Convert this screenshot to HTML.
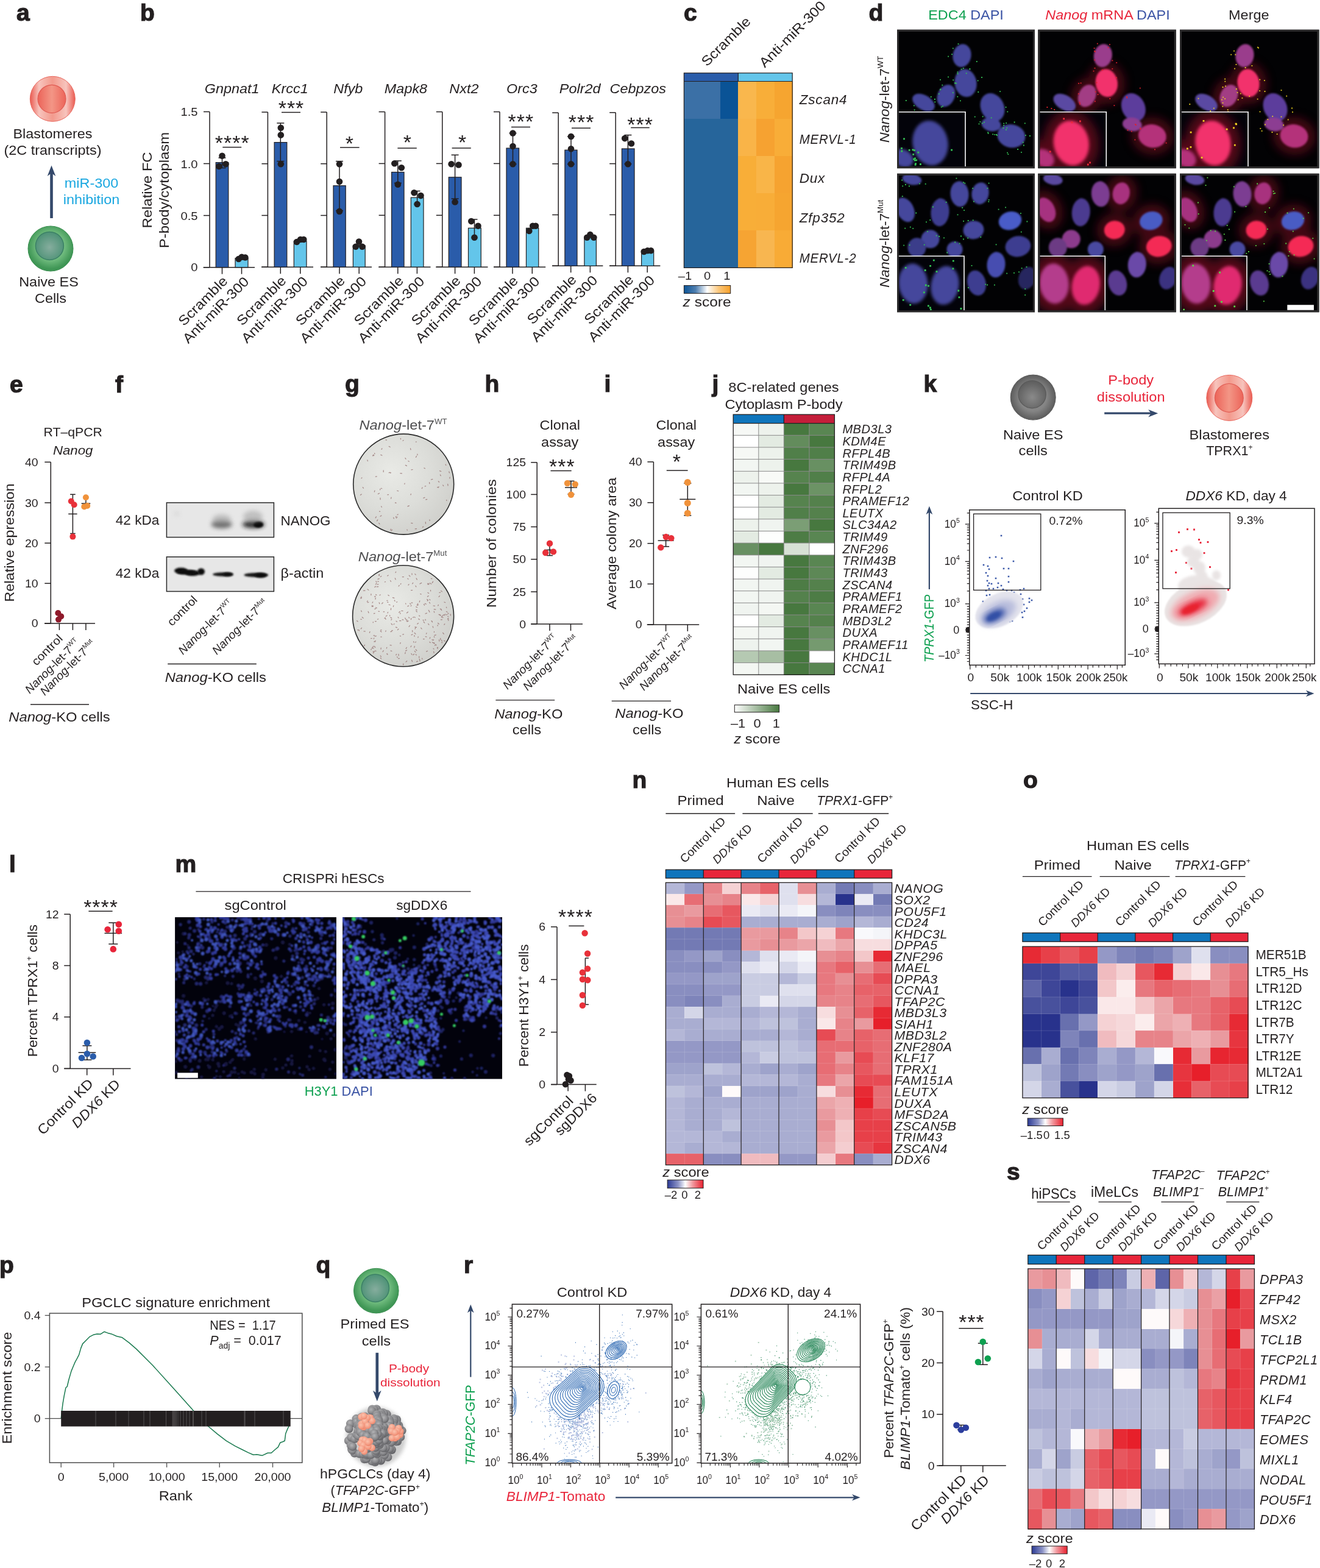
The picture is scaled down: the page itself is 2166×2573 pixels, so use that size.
<!DOCTYPE html>
<html lang="en"><head><meta charset="utf-8"><title>Figure</title>
<style>html,body{margin:0;padding:0;background:#fff}svg{display:block}text{font-family:"Liberation Sans",sans-serif}</style></head><body>
<svg width="2166" height="2573" viewBox="0 0 2166 2573">
<defs><linearGradient id="crao" x1="0" x2="1" y1="0" y2="0"><stop offset="0" stop-color="#ea5a50"/><stop offset="0.2" stop-color="#f7c4bd"/><stop offset="0.5" stop-color="#f39a8d"/><stop offset="0.8" stop-color="#f7c4bd"/><stop offset="1" stop-color="#ea5a50"/></linearGradient><linearGradient id="crai" x1="0" x2="1" y1="0" y2="0"><stop offset="0" stop-color="#ec6459"/><stop offset="0.5" stop-color="#f39686"/><stop offset="1" stop-color="#ec6459"/></linearGradient><radialGradient id="cgao" cx="0.5" cy="0.45" r="0.5"><stop offset="0" stop-color="#8fcf9a"/><stop offset="0.6" stop-color="#72bd80"/><stop offset="1" stop-color="#3f9655"/></radialGradient><radialGradient id="cgai" cx="0.5" cy="0.55" r="0.55"><stop offset="0" stop-color="#86ad9e"/><stop offset="1" stop-color="#4c9175"/></radialGradient><linearGradient id="cbc"><stop offset="0" stop-color="#0b5496"/><stop offset="0.25" stop-color="#4f7fb0"/><stop offset="0.5" stop-color="#ffffff"/><stop offset="0.75" stop-color="#fbc679"/><stop offset="1" stop-color="#f6a02a"/></linearGradient><filter id="bl2" x="-20%" y="-20%" width="140%" height="140%"><feGaussianBlur stdDeviation="1.6"/></filter><filter id="bl3" x="-20%" y="-20%" width="140%" height="140%"><feGaussianBlur stdDeviation="2.4"/></filter><filter id="bl8" x="-30%" y="-30%" width="160%" height="160%"><feGaussianBlur stdDeviation="8"/></filter><clipPath id="cd11"><rect x="1473.5" y="50.2" width="223" height="224.5"/></clipPath><clipPath id="cd11i"><rect x="1475" y="183.7" width="109" height="89.5"/></clipPath><clipPath id="cd21"><rect x="1473.5" y="286.3" width="223" height="224.5"/></clipPath><clipPath id="cd21i"><rect x="1475" y="420.3" width="107" height="89"/></clipPath><clipPath id="cd12"><rect x="1704.8" y="50.2" width="223.5" height="224.5"/></clipPath><clipPath id="cd12i"><rect x="1706.3" y="183.7" width="109" height="89.5"/></clipPath><clipPath id="cd22"><rect x="1704.8" y="286.3" width="223.5" height="224.5"/></clipPath><clipPath id="cd22i"><rect x="1706.3" y="420.3" width="107" height="89"/></clipPath><clipPath id="cd13"><rect x="1937.5" y="50.2" width="225.5" height="224.5"/></clipPath><clipPath id="cd13i"><rect x="1939" y="183.7" width="109" height="89.5"/></clipPath><clipPath id="cd23"><rect x="1937.5" y="286.3" width="225.5" height="224.5"/></clipPath><clipPath id="cd23i"><rect x="1939" y="420.3" width="107" height="89"/></clipPath><filter id="bb4" x="-50%" y="-80%" width="200%" height="260%"><feGaussianBlur stdDeviation="3.5"/></filter><filter id="bb2" x="-50%" y="-80%" width="200%" height="260%"><feGaussianBlur stdDeviation="1.8"/></filter><clipPath id="bl1"><rect x="273.4" y="824.9" width="176" height="56.7"/></clipPath><clipPath id="bl2"><rect x="273.4" y="913.8" width="176" height="56.7"/></clipPath><radialGradient id="dg1" cx="0.38" cy="0.38" r="0.7"><stop offset="0" stop-color="#e9eae6"/><stop offset="0.55" stop-color="#dcddd9"/><stop offset="1" stop-color="#cfcfcb"/></radialGradient><radialGradient id="dg2" cx="0.38" cy="0.38" r="0.7"><stop offset="0" stop-color="#e9eae6"/><stop offset="0.55" stop-color="#dcddd9"/><stop offset="1" stop-color="#cfcfcb"/></radialGradient><linearGradient id="cbj"><stop offset="0" stop-color="#ffffff"/><stop offset="1" stop-color="#47783f"/></linearGradient><radialGradient id="cyko" cx="0.5" cy="0.5" r="0.5"><stop offset="0" stop-color="#8f8f8f"/><stop offset="0.6" stop-color="#858585"/><stop offset="1" stop-color="#5c5c5c"/></radialGradient><radialGradient id="cyki" cx="0.5" cy="0.6" r="0.55"><stop offset="0" stop-color="#8a8a8a"/><stop offset="1" stop-color="#606060"/></radialGradient><linearGradient id="crko" x1="0" x2="1" y1="0" y2="0"><stop offset="0" stop-color="#ea5a50"/><stop offset="0.2" stop-color="#f7c4bd"/><stop offset="0.5" stop-color="#f39a8d"/><stop offset="0.8" stop-color="#f7c4bd"/><stop offset="1" stop-color="#ea5a50"/></linearGradient><linearGradient id="crki" x1="0" x2="1" y1="0" y2="0"><stop offset="0" stop-color="#ec6459"/><stop offset="0.5" stop-color="#f39686"/><stop offset="1" stop-color="#ec6459"/></linearGradient><filter id="kb" x="-30%" y="-30%" width="160%" height="160%"><feGaussianBlur stdDeviation="5"/></filter><filter id="kb2" x="-30%" y="-30%" width="160%" height="160%"><feGaussianBlur stdDeviation="2"/></filter><filter id="kb1" x="-30%" y="-30%" width="160%" height="160%"><feGaussianBlur stdDeviation="0.8"/></filter><filter id="mb" x="-5%" y="-5%" width="110%" height="110%"><feGaussianBlur stdDeviation="0.9"/></filter><clipPath id="mc1"><rect x="287.1" y="1505.1" width="264.8" height="265.4"/></clipPath><clipPath id="mc2"><rect x="562.1" y="1505.1" width="261.9" height="265.4"/></clipPath><linearGradient id="cbn"><stop offset="0" stop-color="#2b3a94"/><stop offset="0.3" stop-color="#8c93c6"/><stop offset="0.5" stop-color="#ffffff"/><stop offset="0.7" stop-color="#f29aa0"/><stop offset="1" stop-color="#e8202e"/></linearGradient><linearGradient id="cbo"><stop offset="0" stop-color="#2b3a94"/><stop offset="0.3" stop-color="#8c93c6"/><stop offset="0.5" stop-color="#ffffff"/><stop offset="0.7" stop-color="#f29aa0"/><stop offset="1" stop-color="#e8202e"/></linearGradient><linearGradient id="cbs"><stop offset="0" stop-color="#2b3a94"/><stop offset="0.3" stop-color="#8c93c6"/><stop offset="0.5" stop-color="#ffffff"/><stop offset="0.7" stop-color="#f29aa0"/><stop offset="1" stop-color="#e8202e"/></linearGradient><radialGradient id="cgqo" cx="0.5" cy="0.45" r="0.5"><stop offset="0" stop-color="#8fcf9a"/><stop offset="0.6" stop-color="#72bd80"/><stop offset="1" stop-color="#3f9655"/></radialGradient><radialGradient id="cgqi" cx="0.5" cy="0.55" r="0.55"><stop offset="0" stop-color="#86ad9e"/><stop offset="1" stop-color="#4c9175"/></radialGradient><radialGradient id="qb" cx="0.4" cy="0.35" r="0.7"><stop offset="0" stop-color="#b4b4b6"/><stop offset="0.6" stop-color="#88888b"/><stop offset="1" stop-color="#5c5c60"/></radialGradient><radialGradient id="qs" cx="0.4" cy="0.35" r="0.7"><stop offset="0" stop-color="#fbc3ae"/><stop offset="0.6" stop-color="#f5a088"/><stop offset="1" stop-color="#ec8268"/></radialGradient><filter id="qf" x="-20%" y="-20%" width="140%" height="140%"><feGaussianBlur stdDeviation="3"/></filter><clipPath id="rc1"><rect x="840.4" y="2140.2" width="262.3" height="260.8"/></clipPath><clipPath id="rc2"><rect x="1150.4" y="2140.2" width="261.2" height="260.8"/></clipPath></defs>
<rect width="2166" height="2573" fill="#fff"/>
<text transform="translate(27 33.5)" font-size="39" font-weight="bold" fill="#231f20" stroke="#231f20" stroke-width="1.2">a</text>
<circle cx="86.3" cy="162.3" r="37" fill="url(#crao)" stroke="#e9665c" stroke-width="1"/>
<circle cx="85" cy="162.3" r="23" fill="url(#crai)" stroke="#e05a52" stroke-width="1.2"/>
<text transform="translate(86.5 226.7) scale(1.090 1)" font-size="21.5" text-anchor="middle" fill="#231f20">Blastomeres</text>
<text transform="translate(86.5 253.7) scale(1.090 1)" font-size="21.5" text-anchor="middle" fill="#231f20">(2C transcripts)</text>
<line x1="84.5" y1="358" x2="84.5" y2="278.1" stroke="#34496b" stroke-width="4.6"/>
<path d="M84.5 271.5 L77.7 289.1 L84.5 284.1 L91.3 289.1 Z" fill="#34496b"/>
<text transform="translate(150 308) scale(1.090 1)" font-size="21.5" text-anchor="middle" fill="#1aa7e0">miR-300</text>
<text transform="translate(150 335) scale(1.090 1)" font-size="21.5" text-anchor="middle" fill="#1aa7e0">inhibition</text>
<circle cx="83" cy="408" r="37" fill="url(#cgao)" stroke="#3a8f50" stroke-width="1"/>
<circle cx="81.4" cy="403.5" r="23" fill="url(#cgai)" stroke="#3b8065" stroke-width="1.5"/>
<text transform="translate(80 470) scale(1.090 1)" font-size="21.5" text-anchor="middle" fill="#231f20">Naive ES</text>
<text transform="translate(83 497) scale(1.090 1)" font-size="21.5" text-anchor="middle" fill="#231f20">Cells</text>
<text transform="translate(230 33.5)" font-size="39" font-weight="bold" fill="#231f20" stroke="#231f20" stroke-width="1.2">b</text>
<text transform="translate(248.7 312) rotate(-90) scale(1.090 1)" font-size="22" text-anchor="middle" fill="#231f20">Relative FC</text>
<text transform="translate(277 312) rotate(-90) scale(1.090 1)" font-size="22" text-anchor="middle" fill="#231f20">P-body/cytoplasm</text>
<text transform="translate(324.5 189.9) scale(1.090 1)" font-size="18.5" text-anchor="end" fill="#231f20">1.5</text>
<text transform="translate(324.5 275.7) scale(1.090 1)" font-size="18.5" text-anchor="end" fill="#231f20">1.0</text>
<text transform="translate(324.5 360.7) scale(1.090 1)" font-size="18.5" text-anchor="end" fill="#231f20">0.5</text>
<text transform="translate(324.5 445.2) scale(1.090 1)" font-size="18.5" text-anchor="end" fill="#231f20">0</text>
<line x1="344" y1="183.4" x2="344" y2="438.7" stroke="#231f20" stroke-width="1.5"/>
<line x1="333.6" y1="438.7" x2="418" y2="438.7" stroke="#231f20" stroke-width="1.5"/>
<line x1="334" y1="438.7" x2="344" y2="438.7" stroke="#231f20" stroke-width="1.5"/>
<line x1="334" y1="353.6" x2="344" y2="353.6" stroke="#231f20" stroke-width="1.5"/>
<line x1="334" y1="268.5" x2="344" y2="268.5" stroke="#231f20" stroke-width="1.5"/>
<line x1="334" y1="183.4" x2="344" y2="183.4" stroke="#231f20" stroke-width="1.5"/>
<text transform="translate(380.7 153) scale(1.090 1)" font-size="21.5" text-anchor="middle" font-style="italic" fill="#231f20">Gnpnat1</text>
<rect x="354.2" y="266.6" width="20.6" height="172.1" fill="#2a5caa" stroke="#231f20" stroke-width="1.2"/>
<rect x="386" y="423.7" width="21" height="15" fill="#63c5ea" stroke="#231f20" stroke-width="1.2"/>
<line x1="364.5" y1="438.7" x2="364.5" y2="449.7" stroke="#231f20" stroke-width="1.5"/>
<line x1="396.5" y1="438.7" x2="396.5" y2="449.7" stroke="#231f20" stroke-width="1.5"/>
<line x1="364.5" y1="259" x2="364.5" y2="275.6" stroke="#231f20" stroke-width="1.5"/>
<line x1="358.5" y1="259" x2="370.5" y2="259" stroke="#231f20" stroke-width="1.5"/>
<line x1="358.5" y1="275.6" x2="370.5" y2="275.6" stroke="#231f20" stroke-width="1.5"/>
<circle cx="364.5" cy="255.8" r="5.3" fill="#231f20"/>
<circle cx="359.4" cy="273" r="5.3" fill="#231f20"/>
<circle cx="370.4" cy="269.2" r="5.3" fill="#231f20"/>
<circle cx="391.6" cy="425" r="5.3" fill="#231f20"/>
<circle cx="396.7" cy="421.7" r="5.3" fill="#231f20"/>
<circle cx="402.4" cy="422.5" r="5.3" fill="#231f20"/>
<text transform="translate(381.2 245.7)" font-size="34" text-anchor="middle" fill="#231f20" letter-spacing="1">****</text>
<line x1="365.3" y1="241.6" x2="396.2" y2="241.6" stroke="#231f20" stroke-width="1.5"/>
<text transform="translate(375 462.7) rotate(-45) scale(1.090 1)" font-size="22.5" text-anchor="end" fill="#231f20">Scramble</text>
<text transform="translate(410 463.7) rotate(-45) scale(1.090 1)" font-size="22.5" text-anchor="end" fill="#231f20">Anti-miR-300</text>
<line x1="439.4" y1="184" x2="439.4" y2="438.2" stroke="#231f20" stroke-width="1.5"/>
<line x1="429" y1="438.2" x2="514" y2="438.2" stroke="#231f20" stroke-width="1.5"/>
<line x1="429.4" y1="438.2" x2="439.4" y2="438.2" stroke="#231f20" stroke-width="1.5"/>
<line x1="429.4" y1="353.5" x2="439.4" y2="353.5" stroke="#231f20" stroke-width="1.5"/>
<line x1="429.4" y1="268.7" x2="439.4" y2="268.7" stroke="#231f20" stroke-width="1.5"/>
<line x1="429.4" y1="184" x2="439.4" y2="184" stroke="#231f20" stroke-width="1.5"/>
<text transform="translate(475.8 153) scale(1.090 1)" font-size="21.5" text-anchor="middle" font-style="italic" fill="#231f20">Krcc1</text>
<rect x="450.1" y="233.6" width="20.7" height="204.6" fill="#2a5caa" stroke="#231f20" stroke-width="1.2"/>
<rect x="482.3" y="395.8" width="20.7" height="42.4" fill="#63c5ea" stroke="#231f20" stroke-width="1.2"/>
<line x1="460.3" y1="438.2" x2="460.3" y2="449.2" stroke="#231f20" stroke-width="1.5"/>
<line x1="492.8" y1="438.2" x2="492.8" y2="449.2" stroke="#231f20" stroke-width="1.5"/>
<line x1="460.3" y1="202" x2="460.3" y2="264.6" stroke="#231f20" stroke-width="1.5"/>
<line x1="454.3" y1="202" x2="466.3" y2="202" stroke="#231f20" stroke-width="1.5"/>
<line x1="454.3" y1="264.6" x2="466.3" y2="264.6" stroke="#231f20" stroke-width="1.5"/>
<circle cx="460.8" cy="209.7" r="5.3" fill="#231f20"/>
<circle cx="460.8" cy="221.6" r="5.3" fill="#231f20"/>
<circle cx="460.8" cy="269.3" r="5.3" fill="#231f20"/>
<circle cx="487" cy="397" r="5.3" fill="#231f20"/>
<circle cx="493" cy="393" r="5.3" fill="#231f20"/>
<circle cx="498.3" cy="393" r="5.3" fill="#231f20"/>
<text transform="translate(478 189.3)" font-size="34" text-anchor="middle" fill="#231f20" letter-spacing="1">***</text>
<line x1="462" y1="184.4" x2="493" y2="184.4" stroke="#231f20" stroke-width="1.5"/>
<text transform="translate(470.8 462.2) rotate(-45) scale(1.090 1)" font-size="22.5" text-anchor="end" fill="#231f20">Scramble</text>
<text transform="translate(506.3 463.2) rotate(-45) scale(1.090 1)" font-size="22.5" text-anchor="end" fill="#231f20">Anti-miR-300</text>
<line x1="536.2" y1="184" x2="536.2" y2="438.2" stroke="#231f20" stroke-width="1.5"/>
<line x1="526" y1="438.2" x2="610" y2="438.2" stroke="#231f20" stroke-width="1.5"/>
<line x1="526.2" y1="438.2" x2="536.2" y2="438.2" stroke="#231f20" stroke-width="1.5"/>
<line x1="526.2" y1="353.5" x2="536.2" y2="353.5" stroke="#231f20" stroke-width="1.5"/>
<line x1="526.2" y1="268.7" x2="536.2" y2="268.7" stroke="#231f20" stroke-width="1.5"/>
<line x1="526.2" y1="184" x2="536.2" y2="184" stroke="#231f20" stroke-width="1.5"/>
<text transform="translate(571.3 153) scale(1.090 1)" font-size="21.5" text-anchor="middle" font-style="italic" fill="#231f20">Nfyb</text>
<rect x="547" y="304.7" width="20.2" height="133.5" fill="#2a5caa" stroke="#231f20" stroke-width="1.2"/>
<rect x="579.4" y="403" width="19.8" height="35.2" fill="#63c5ea" stroke="#231f20" stroke-width="1.2"/>
<line x1="557" y1="438.2" x2="557" y2="449.2" stroke="#231f20" stroke-width="1.5"/>
<line x1="589.2" y1="438.2" x2="589.2" y2="449.2" stroke="#231f20" stroke-width="1.5"/>
<line x1="557" y1="264.6" x2="557" y2="345.7" stroke="#231f20" stroke-width="1.5"/>
<line x1="551" y1="264.6" x2="563" y2="264.6" stroke="#231f20" stroke-width="1.5"/>
<line x1="551" y1="345.7" x2="563" y2="345.7" stroke="#231f20" stroke-width="1.5"/>
<line x1="589" y1="396" x2="589" y2="404" stroke="#231f20" stroke-width="1.5"/>
<line x1="584" y1="396" x2="594" y2="396" stroke="#231f20" stroke-width="1.5"/>
<line x1="584" y1="404" x2="594" y2="404" stroke="#231f20" stroke-width="1.5"/>
<circle cx="557" cy="269.3" r="5.3" fill="#231f20"/>
<circle cx="557" cy="298" r="5.3" fill="#231f20"/>
<circle cx="557" cy="346.9" r="5.3" fill="#231f20"/>
<circle cx="583.7" cy="404.8" r="5.3" fill="#231f20"/>
<circle cx="589" cy="396.5" r="5.3" fill="#231f20"/>
<circle cx="594.4" cy="404.8" r="5.3" fill="#231f20"/>
<text transform="translate(573.9 246.5)" font-size="34" text-anchor="middle" fill="#231f20" letter-spacing="1">*</text>
<line x1="558" y1="242" x2="589.6" y2="242" stroke="#231f20" stroke-width="1.5"/>
<text transform="translate(567.5 462.2) rotate(-45) scale(1.090 1)" font-size="22.5" text-anchor="end" fill="#231f20">Scramble</text>
<text transform="translate(602.7 463.2) rotate(-45) scale(1.090 1)" font-size="22.5" text-anchor="end" fill="#231f20">Anti-miR-300</text>
<line x1="631.6" y1="183.5" x2="631.6" y2="438.2" stroke="#231f20" stroke-width="1.5"/>
<line x1="621.3" y1="438.2" x2="706.5" y2="438.2" stroke="#231f20" stroke-width="1.5"/>
<line x1="621.6" y1="438.2" x2="631.6" y2="438.2" stroke="#231f20" stroke-width="1.5"/>
<line x1="621.6" y1="353.3" x2="631.6" y2="353.3" stroke="#231f20" stroke-width="1.5"/>
<line x1="621.6" y1="268.4" x2="631.6" y2="268.4" stroke="#231f20" stroke-width="1.5"/>
<line x1="621.6" y1="183.5" x2="631.6" y2="183.5" stroke="#231f20" stroke-width="1.5"/>
<text transform="translate(666 153) scale(1.090 1)" font-size="21.5" text-anchor="middle" font-style="italic" fill="#231f20">Mapk8</text>
<rect x="642.6" y="282.5" width="20.4" height="155.7" fill="#2a5caa" stroke="#231f20" stroke-width="1.2"/>
<rect x="674.3" y="324.2" width="20.7" height="114" fill="#63c5ea" stroke="#231f20" stroke-width="1.2"/>
<line x1="652.8" y1="438.2" x2="652.8" y2="449.2" stroke="#231f20" stroke-width="1.5"/>
<line x1="684.4" y1="438.2" x2="684.4" y2="449.2" stroke="#231f20" stroke-width="1.5"/>
<line x1="652.8" y1="263.9" x2="652.8" y2="300.4" stroke="#231f20" stroke-width="1.5"/>
<line x1="646.8" y1="263.9" x2="658.8" y2="263.9" stroke="#231f20" stroke-width="1.5"/>
<line x1="646.8" y1="300.4" x2="658.8" y2="300.4" stroke="#231f20" stroke-width="1.5"/>
<line x1="684.6" y1="313.5" x2="684.6" y2="335" stroke="#231f20" stroke-width="1.5"/>
<line x1="679.6" y1="313.5" x2="689.6" y2="313.5" stroke="#231f20" stroke-width="1.5"/>
<line x1="679.6" y1="335" x2="689.6" y2="335" stroke="#231f20" stroke-width="1.5"/>
<circle cx="647.3" cy="268.2" r="5.3" fill="#231f20"/>
<circle cx="658.8" cy="275.3" r="5.3" fill="#231f20"/>
<circle cx="652.8" cy="302.7" r="5.3" fill="#231f20"/>
<circle cx="679.5" cy="316.3" r="5.3" fill="#231f20"/>
<circle cx="690.5" cy="321.1" r="5.3" fill="#231f20"/>
<circle cx="684.6" cy="335" r="5.3" fill="#231f20"/>
<text transform="translate(668.8 245.3)" font-size="34" text-anchor="middle" fill="#231f20" letter-spacing="1">*</text>
<line x1="652.4" y1="243.1" x2="683.8" y2="243.1" stroke="#231f20" stroke-width="1.5"/>
<text transform="translate(663.3 462.2) rotate(-45) scale(1.090 1)" font-size="22.5" text-anchor="end" fill="#231f20">Scramble</text>
<text transform="translate(697.9 463.2) rotate(-45) scale(1.090 1)" font-size="22.5" text-anchor="end" fill="#231f20">Anti-miR-300</text>
<line x1="725.8" y1="183.5" x2="725.8" y2="438.2" stroke="#231f20" stroke-width="1.5"/>
<line x1="715.3" y1="438.2" x2="800.5" y2="438.2" stroke="#231f20" stroke-width="1.5"/>
<line x1="715.8" y1="438.2" x2="725.8" y2="438.2" stroke="#231f20" stroke-width="1.5"/>
<line x1="715.8" y1="353.3" x2="725.8" y2="353.3" stroke="#231f20" stroke-width="1.5"/>
<line x1="715.8" y1="268.4" x2="725.8" y2="268.4" stroke="#231f20" stroke-width="1.5"/>
<line x1="715.8" y1="183.5" x2="725.8" y2="183.5" stroke="#231f20" stroke-width="1.5"/>
<text transform="translate(761.4 153) scale(1.090 1)" font-size="21.5" text-anchor="middle" font-style="italic" fill="#231f20">Nxt2</text>
<rect x="736.3" y="290.8" width="20.7" height="147.4" fill="#2a5caa" stroke="#231f20" stroke-width="1.2"/>
<rect x="768.5" y="374.3" width="20.8" height="63.9" fill="#63c5ea" stroke="#231f20" stroke-width="1.2"/>
<line x1="746.6" y1="438.2" x2="746.6" y2="449.2" stroke="#231f20" stroke-width="1.5"/>
<line x1="778.4" y1="438.2" x2="778.4" y2="449.2" stroke="#231f20" stroke-width="1.5"/>
<line x1="746.6" y1="254.3" x2="746.6" y2="326.1" stroke="#231f20" stroke-width="1.5"/>
<line x1="740.6" y1="254.3" x2="752.6" y2="254.3" stroke="#231f20" stroke-width="1.5"/>
<line x1="740.6" y1="326.1" x2="752.6" y2="326.1" stroke="#231f20" stroke-width="1.5"/>
<line x1="778.5" y1="360" x2="778.5" y2="390" stroke="#231f20" stroke-width="1.5"/>
<line x1="773.5" y1="360" x2="783.5" y2="360" stroke="#231f20" stroke-width="1.5"/>
<line x1="773.5" y1="390" x2="783.5" y2="390" stroke="#231f20" stroke-width="1.5"/>
<circle cx="740.6" cy="269.3" r="5.3" fill="#231f20"/>
<circle cx="752.5" cy="270.5" r="5.3" fill="#231f20"/>
<circle cx="746.6" cy="331.4" r="5.3" fill="#231f20"/>
<circle cx="773.3" cy="363.1" r="5.3" fill="#231f20"/>
<circle cx="784.5" cy="370.7" r="5.3" fill="#231f20"/>
<circle cx="778.5" cy="389.8" r="5.3" fill="#231f20"/>
<text transform="translate(759 245.3)" font-size="34" text-anchor="middle" fill="#231f20" letter-spacing="1">*</text>
<line x1="741.6" y1="243" x2="772.8" y2="243" stroke="#231f20" stroke-width="1.5"/>
<text transform="translate(757.1 462.2) rotate(-45) scale(1.090 1)" font-size="22.5" text-anchor="end" fill="#231f20">Scramble</text>
<text transform="translate(791.9 463.2) rotate(-45) scale(1.090 1)" font-size="22.5" text-anchor="end" fill="#231f20">Anti-miR-300</text>
<line x1="820" y1="183.5" x2="820" y2="438.2" stroke="#231f20" stroke-width="1.5"/>
<line x1="810.3" y1="438.2" x2="895.2" y2="438.2" stroke="#231f20" stroke-width="1.5"/>
<line x1="810" y1="438.2" x2="820" y2="438.2" stroke="#231f20" stroke-width="1.5"/>
<line x1="810" y1="353.3" x2="820" y2="353.3" stroke="#231f20" stroke-width="1.5"/>
<line x1="810" y1="268.4" x2="820" y2="268.4" stroke="#231f20" stroke-width="1.5"/>
<line x1="810" y1="183.5" x2="820" y2="183.5" stroke="#231f20" stroke-width="1.5"/>
<text transform="translate(856.3 153) scale(1.090 1)" font-size="21.5" text-anchor="middle" font-style="italic" fill="#231f20">Orc3</text>
<rect x="831" y="243.1" width="20.6" height="195.1" fill="#2a5caa" stroke="#231f20" stroke-width="1.2"/>
<rect x="863.5" y="374.3" width="20.3" height="63.9" fill="#63c5ea" stroke="#231f20" stroke-width="1.2"/>
<line x1="841" y1="438.2" x2="841" y2="449.2" stroke="#231f20" stroke-width="1.5"/>
<line x1="873.3" y1="438.2" x2="873.3" y2="449.2" stroke="#231f20" stroke-width="1.5"/>
<line x1="841.5" y1="218.5" x2="841.5" y2="269.3" stroke="#231f20" stroke-width="1.5"/>
<line x1="835.5" y1="218.5" x2="847.5" y2="218.5" stroke="#231f20" stroke-width="1.5"/>
<line x1="835.5" y1="269.3" x2="847.5" y2="269.3" stroke="#231f20" stroke-width="1.5"/>
<circle cx="841.5" cy="218.5" r="5.3" fill="#231f20"/>
<circle cx="841.5" cy="240" r="5.3" fill="#231f20"/>
<circle cx="841.5" cy="269.3" r="5.3" fill="#231f20"/>
<circle cx="868.3" cy="379" r="5.3" fill="#231f20"/>
<circle cx="874.2" cy="370.7" r="5.3" fill="#231f20"/>
<circle cx="879" cy="370.7" r="5.3" fill="#231f20"/>
<text transform="translate(854.9 210.7)" font-size="34" text-anchor="middle" fill="#231f20" letter-spacing="1">***</text>
<line x1="839" y1="208.5" x2="870" y2="208.5" stroke="#231f20" stroke-width="1.5"/>
<text transform="translate(851.5 462.2) rotate(-45) scale(1.090 1)" font-size="22.5" text-anchor="end" fill="#231f20">Scramble</text>
<text transform="translate(886.8 463.2) rotate(-45) scale(1.090 1)" font-size="22.5" text-anchor="end" fill="#231f20">Anti-miR-300</text>
<line x1="916.2" y1="185" x2="916.2" y2="436.3" stroke="#231f20" stroke-width="1.5"/>
<line x1="906" y1="436.3" x2="989.4" y2="436.3" stroke="#231f20" stroke-width="1.5"/>
<line x1="906.2" y1="436.3" x2="916.2" y2="436.3" stroke="#231f20" stroke-width="1.5"/>
<line x1="906.2" y1="352.5" x2="916.2" y2="352.5" stroke="#231f20" stroke-width="1.5"/>
<line x1="906.2" y1="268.8" x2="916.2" y2="268.8" stroke="#231f20" stroke-width="1.5"/>
<line x1="906.2" y1="185" x2="916.2" y2="185" stroke="#231f20" stroke-width="1.5"/>
<text transform="translate(951.7 153) scale(1.090 1)" font-size="21.5" text-anchor="middle" font-style="italic" fill="#231f20">Polr2d</text>
<rect x="926.9" y="246.2" width="20.1" height="190.1" fill="#2a5caa" stroke="#231f20" stroke-width="1.2"/>
<rect x="958.9" y="389.8" width="19.5" height="46.5" fill="#63c5ea" stroke="#231f20" stroke-width="1.2"/>
<line x1="936.7" y1="436.3" x2="936.7" y2="447.3" stroke="#231f20" stroke-width="1.5"/>
<line x1="968.4" y1="436.3" x2="968.4" y2="447.3" stroke="#231f20" stroke-width="1.5"/>
<line x1="937" y1="224" x2="937" y2="269.3" stroke="#231f20" stroke-width="1.5"/>
<line x1="931" y1="224" x2="943" y2="224" stroke="#231f20" stroke-width="1.5"/>
<line x1="931" y1="269.3" x2="943" y2="269.3" stroke="#231f20" stroke-width="1.5"/>
<circle cx="937" cy="224" r="5.3" fill="#231f20"/>
<circle cx="937" cy="244.3" r="5.3" fill="#231f20"/>
<circle cx="937" cy="269.3" r="5.3" fill="#231f20"/>
<circle cx="963.2" cy="389.8" r="5.3" fill="#231f20"/>
<circle cx="968.4" cy="385" r="5.3" fill="#231f20"/>
<circle cx="974.4" cy="389.8" r="5.3" fill="#231f20"/>
<text transform="translate(954.1 211.9)" font-size="34" text-anchor="middle" fill="#231f20" letter-spacing="1">***</text>
<line x1="938" y1="210.2" x2="969" y2="210.2" stroke="#231f20" stroke-width="1.5"/>
<text transform="translate(947.2 460.3) rotate(-45) scale(1.090 1)" font-size="22.5" text-anchor="end" fill="#231f20">Scramble</text>
<text transform="translate(981.9 461.3) rotate(-45) scale(1.090 1)" font-size="22.5" text-anchor="end" fill="#231f20">Anti-miR-300</text>
<line x1="1010.2" y1="184.7" x2="1010.2" y2="436.3" stroke="#231f20" stroke-width="1.5"/>
<line x1="1000" y1="436.3" x2="1083.4" y2="436.3" stroke="#231f20" stroke-width="1.5"/>
<line x1="1000.2" y1="436.3" x2="1010.2" y2="436.3" stroke="#231f20" stroke-width="1.5"/>
<line x1="1000.2" y1="352.4" x2="1010.2" y2="352.4" stroke="#231f20" stroke-width="1.5"/>
<line x1="1000.2" y1="268.6" x2="1010.2" y2="268.6" stroke="#231f20" stroke-width="1.5"/>
<line x1="1000.2" y1="184.7" x2="1010.2" y2="184.7" stroke="#231f20" stroke-width="1.5"/>
<text transform="translate(1046.7 153) scale(1.090 1)" font-size="21.5" text-anchor="middle" font-style="italic" fill="#231f20">Cebpzos</text>
<rect x="1020.4" y="244" width="20.6" height="192.3" fill="#2a5caa" stroke="#231f20" stroke-width="1.2"/>
<rect x="1052.6" y="412.5" width="20.1" height="23.8" fill="#63c5ea" stroke="#231f20" stroke-width="1.2"/>
<line x1="1030.4" y1="436.3" x2="1030.4" y2="447.3" stroke="#231f20" stroke-width="1.5"/>
<line x1="1062.2" y1="436.3" x2="1062.2" y2="447.3" stroke="#231f20" stroke-width="1.5"/>
<line x1="1030.4" y1="221.6" x2="1030.4" y2="269" stroke="#231f20" stroke-width="1.5"/>
<line x1="1024.4" y1="221.6" x2="1036.4" y2="221.6" stroke="#231f20" stroke-width="1.5"/>
<line x1="1024.4" y1="269" x2="1036.4" y2="269" stroke="#231f20" stroke-width="1.5"/>
<circle cx="1025.2" cy="227.1" r="5.3" fill="#231f20"/>
<circle cx="1036" cy="235.5" r="5.3" fill="#231f20"/>
<circle cx="1030.4" cy="269.3" r="5.3" fill="#231f20"/>
<circle cx="1056.7" cy="413" r="5.3" fill="#231f20"/>
<circle cx="1062.6" cy="411.3" r="5.3" fill="#231f20"/>
<circle cx="1068.1" cy="411.3" r="5.3" fill="#231f20"/>
<text transform="translate(1050.7 215.5)" font-size="34" text-anchor="middle" fill="#231f20" letter-spacing="1">***</text>
<line x1="1035.2" y1="209.5" x2="1065.7" y2="209.5" stroke="#231f20" stroke-width="1.5"/>
<text transform="translate(1040.9 460.3) rotate(-45) scale(1.090 1)" font-size="22.5" text-anchor="end" fill="#231f20">Scramble</text>
<text transform="translate(1075.7 461.3) rotate(-45) scale(1.090 1)" font-size="22.5" text-anchor="end" fill="#231f20">Anti-miR-300</text>
<text transform="translate(1122 33.5)" font-size="39" font-weight="bold" fill="#231f20" stroke="#231f20" stroke-width="1.2">c</text>
<g shape-rendering="crispEdges">
<rect x="1122.4" y="133.5" width="30.1" height="61.7" fill="#3b70a6"/>
<rect x="1152" y="133.5" width="30.1" height="61.7" fill="#3b70a6"/>
<rect x="1181.7" y="133.5" width="30.1" height="61.7" fill="#0a5396"/>
<rect x="1211.3" y="133.5" width="30.1" height="61.7" fill="#f9b74d"/>
<rect x="1240.9" y="133.5" width="30.1" height="61.7" fill="#f8ae39"/>
<rect x="1270.6" y="133.5" width="30.1" height="61.7" fill="#f6a530"/>
<rect x="1122.4" y="194.7" width="30.1" height="61.7" fill="#26659b"/>
<rect x="1152" y="194.7" width="30.1" height="61.7" fill="#26659b"/>
<rect x="1181.7" y="194.7" width="30.1" height="61.7" fill="#26659b"/>
<rect x="1211.3" y="194.7" width="30.1" height="61.7" fill="#f9b448"/>
<rect x="1240.9" y="194.7" width="30.1" height="61.7" fill="#f6a231"/>
<rect x="1270.6" y="194.7" width="30.1" height="61.7" fill="#f8ad38"/>
<rect x="1122.4" y="255.9" width="30.1" height="61.7" fill="#26659b"/>
<rect x="1152" y="255.9" width="30.1" height="61.7" fill="#26659b"/>
<rect x="1181.7" y="255.9" width="30.1" height="61.7" fill="#26659b"/>
<rect x="1211.3" y="255.9" width="30.1" height="61.7" fill="#f8ae38"/>
<rect x="1240.9" y="255.9" width="30.1" height="61.7" fill="#f9b548"/>
<rect x="1270.6" y="255.9" width="30.1" height="61.7" fill="#f6a330"/>
<rect x="1122.4" y="317" width="30.1" height="61.7" fill="#26659b"/>
<rect x="1152" y="317" width="30.1" height="61.7" fill="#26659b"/>
<rect x="1181.7" y="317" width="30.1" height="61.7" fill="#26659b"/>
<rect x="1211.3" y="317" width="30.1" height="61.7" fill="#f8ae38"/>
<rect x="1240.9" y="317" width="30.1" height="61.7" fill="#f8ad38"/>
<rect x="1270.6" y="317" width="30.1" height="61.7" fill="#f6a530"/>
<rect x="1122.4" y="378.2" width="30.1" height="61.7" fill="#26659b"/>
<rect x="1152" y="378.2" width="30.1" height="61.7" fill="#26659b"/>
<rect x="1181.7" y="378.2" width="30.1" height="61.7" fill="#26659b"/>
<rect x="1211.3" y="378.2" width="30.1" height="61.7" fill="#f6a433"/>
<rect x="1240.9" y="378.2" width="30.1" height="61.7" fill="#f8b650"/>
<rect x="1270.6" y="378.2" width="30.1" height="61.7" fill="#f8ab36"/>
<rect x="1122.4" y="119.8" width="88.9" height="13.7" fill="#2a5caa"/>
<rect x="1211.3" y="119.8" width="88.9" height="13.7" fill="#63c5ea"/>
</g>
<rect x="1122.4" y="119.8" width="177.8" height="319.6" fill="none" stroke="#231f20" stroke-width="1.2"/>
<line x1="1122.4" y1="133.5" x2="1300.2" y2="133.5" stroke="#231f20" stroke-width="1.2"/>
<line x1="1211.3" y1="119.8" x2="1211.3" y2="133.5" stroke="#231f20" stroke-width="1.2"/>
<text transform="translate(1311.8 171.4) scale(1.020 1)" font-size="22" font-style="italic" fill="#231f20" letter-spacing="0.8">Zscan4</text>
<text transform="translate(1311.8 235.8) scale(0.930 1)" font-size="22" font-style="italic" fill="#231f20" letter-spacing="0.8">MERVL-1</text>
<text transform="translate(1311.8 300.2) scale(1.020 1)" font-size="22" font-style="italic" fill="#231f20" letter-spacing="0.8">Dux</text>
<text transform="translate(1311.8 365.4) scale(1.020 1)" font-size="22" font-style="italic" fill="#231f20" letter-spacing="0.8">Zfp352</text>
<text transform="translate(1311.8 430.9) scale(0.930 1)" font-size="22" font-style="italic" fill="#231f20" letter-spacing="0.8">MERVL-2</text>
<text transform="translate(1160 110) rotate(-45) scale(1.090 1)" font-size="22.5" fill="#231f20">Scramble</text>
<text transform="translate(1255 112) rotate(-45) scale(1.090 1)" font-size="22.5" fill="#231f20">Anti-miR-300</text>
<rect x="1122.4" y="468.5" width="76.3" height="12.9" fill="url(#cbc)" stroke="#231f20" stroke-width="1"/>
<text transform="translate(1124 458.7) scale(1.090 1)" font-size="18.5" text-anchor="middle" fill="#231f20">–1</text>
<text transform="translate(1160.6 458.7) scale(1.090 1)" font-size="18.5" text-anchor="middle" fill="#231f20">0</text>
<text transform="translate(1192.8 458.7) scale(1.090 1)" font-size="18.5" text-anchor="middle" fill="#231f20">1</text>
<text transform="translate(1120.6 502.5) scale(1.090 1)" font-size="22.5" fill="#231f20"><tspan font-style="italic">z</tspan> score</text>
<text transform="translate(1425.5 33.5)" font-size="39" font-weight="bold" fill="#231f20" stroke="#231f20" stroke-width="1.2">d</text>
<text transform="translate(1585 31.7) scale(1.090 1)" font-size="21.5" text-anchor="middle" fill="#231f20"><tspan fill="#0ea050">EDC4 </tspan><tspan fill="#3a53a4">DAPI</tspan></text>
<text transform="translate(1817.5 31.7) scale(1.090 1)" font-size="21.5" text-anchor="middle" fill="#231f20"><tspan fill="#e8253a"><tspan font-style="italic">Nanog</tspan> mRNA </tspan><tspan fill="#3a53a4">DAPI</tspan></text>
<text transform="translate(2049.3 31.7) scale(1.090 1)" font-size="21.5" text-anchor="middle" fill="#231f20">Merge</text>
<text transform="translate(1458.5 163) rotate(-90) scale(1.090 1)" font-size="21.5" text-anchor="middle" fill="#231f20"><tspan font-style="italic">Nanog</tspan>-let-7<tspan dy="-9.2" font-size="12">WT</tspan></text>
<text transform="translate(1458.5 400) rotate(-90) scale(1.090 1)" font-size="21.5" text-anchor="middle" fill="#231f20"><tspan font-style="italic">Nanog</tspan>-let-7<tspan dy="-9.2" font-size="12">Mut</tspan></text>
<rect x="1473.5" y="50.2" width="223" height="224.5" fill="#020204" stroke="#2b2a2b" stroke-width="3"/>
<g clip-path="url(#cd11)">
<g filter="url(#bl2)">
<ellipse cx="1578.5" cy="91.2" rx="15" ry="19" fill="#44479c" transform="rotate(10 1578.5 91.2)"/>
<ellipse cx="1584.5" cy="136.2" rx="18" ry="23" fill="#44479c" transform="rotate(-10 1584.5 136.2)"/>
<ellipse cx="1515.5" cy="168.2" rx="20" ry="12" fill="#44479c" transform="rotate(30 1515.5 168.2)"/>
<ellipse cx="1552.5" cy="157.2" rx="14" ry="19" fill="#44479c" transform="rotate(25 1552.5 157.2)"/>
<ellipse cx="1628.5" cy="176.2" rx="19" ry="24" fill="#44479c" transform="rotate(-25 1628.5 176.2)"/>
<ellipse cx="1626.5" cy="204.2" rx="16" ry="11" fill="#44479c" transform="rotate(10 1626.5 204.2)"/>
<ellipse cx="1659.5" cy="223.2" rx="23" ry="19" fill="#44479c" transform="rotate(10 1659.5 223.2)"/>
</g>
<path d="M1652.4 182.5h1.8v1.8h-1.8zM1584.8 119.5h1.8v1.8h-1.8zM1653.4 252.2h1.8v1.8h-1.8zM1561.2 88.3h1.8v1.8h-1.8zM1610.2 126.1h1.8v1.8h-1.8zM1546 173.5h1.8v1.8h-1.8zM1614.1 199.7h1.8v1.8h-1.8zM1646.3 201.8h1.8v1.8h-1.8zM1620.3 216.6h1.8v1.8h-1.8zM1555.1 125.4h1.8v1.8h-1.8zM1542.6 145.6h1.8v1.8h-1.8zM1579.9 111.2h1.8v1.8h-1.8zM1485.9 164.1h1.8v1.8h-1.8zM1575 164.5h1.8v1.8h-1.8zM1532.9 162.3h1.8v1.8h-1.8zM1526.9 158h1.8v1.8h-1.8zM1603.8 131.5h1.8v1.8h-1.8zM1555.2 91.8h1.8v1.8h-1.8zM1650.1 212.1h1.8v1.8h-1.8zM1590.5 112h1.8v1.8h-1.8zM1532.9 161.8h1.8v1.8h-1.8zM1663.7 199.6h1.8v1.8h-1.8zM1669.3 244.1h1.8v1.8h-1.8zM1533.4 166.4h1.8v1.8h-1.8zM1570.6 120.1h1.8v1.8h-1.8zM1576.7 112.8h1.8v1.8h-1.8zM1611.7 190.4h1.8v1.8h-1.8zM1675.1 249h1.8v1.8h-1.8zM1498.9 172.5h1.8v1.8h-1.8zM1651.4 209h1.8v1.8h-1.8zM1604.4 150.1h1.8v1.8h-1.8zM1645.5 209.1h1.8v1.8h-1.8zM1545.4 138.8h1.8v1.8h-1.8zM1649.7 174.9h1.8v1.8h-1.8zM1541.8 146.4h1.8v1.8h-1.8zM1542.1 129.9h1.8v1.8h-1.8zM1562.9 151.3h1.8v1.8h-1.8zM1607.4 198.9h1.8v1.8h-1.8zM1598.8 190.7h1.8v1.8h-1.8zM1563.2 130.5h1.8v1.8h-1.8zM1539.7 153.3h1.8v1.8h-1.8zM1590.5 112.7h1.8v1.8h-1.8zM1689.1 222.1h1.8v1.8h-1.8zM1566.3 135.2h1.8v1.8h-1.8zM1543.9 174.7h1.8v1.8h-1.8zM1650.3 200.9h1.8v1.8h-1.8zM1605.6 202.4h1.8v1.8h-1.8zM1628.3 219.5h1.8v1.8h-1.8zM1635.2 221h1.8v1.8h-1.8zM1640.2 149.2h1.8v1.8h-1.8zM1679 237.6h1.8v1.8h-1.8zM1680.9 201.5h1.8v1.8h-1.8zM1601.9 100.1h1.8v1.8h-1.8zM1682 221.3h1.8v1.8h-1.8zM1652.2 249.8h1.8v1.8h-1.8zM1570.4 157.7h1.8v1.8h-1.8zM1669.2 244.1h1.8v1.8h-1.8zM1562.9 78.4h1.8v1.8h-1.8zM1571.6 71.2h1.8v1.8h-1.8zM1566.2 135.6h1.8v1.8h-1.8zM1631.3 219.9h1.8v1.8h-1.8zM1625.8 192.5h1.8v1.8h-1.8zM1611 201.5h1.8v1.8h-1.8zM1646.3 204.9h1.8v1.8h-1.8zM1568.3 135.7h1.8v1.8h-1.8zM1634 220.1h1.8v1.8h-1.8zM1677.9 232.7h1.8v1.8h-1.8zM1499.7 179.6h1.8v1.8h-1.8zM1570.5 117.5h1.8v1.8h-1.8zM1620.8 218h1.8v1.8h-1.8z" fill="#35c455"/>
<rect x="1475" y="183.7" width="109" height="91" fill="#03030a"/>
<g clip-path="url(#cd11i)">
<g filter="url(#bl3)">
<ellipse cx="1526.5" cy="234.7" rx="29" ry="37" fill="#44479c" transform="rotate(-10 1526.5 234.7)"/>
<ellipse cx="1481.5" cy="259.7" rx="18" ry="14" fill="#44479c" transform="rotate(30 1481.5 259.7)"/>
</g>
<path d="M1478.1 241.9h2.8v2.8h-2.8zM1496.4 244.4h2.8v2.8h-2.8zM1497.3 252h2.8v2.8h-2.8zM1478.4 246.6h2.8v2.8h-2.8zM1502.3 261.4h2.8v2.8h-2.8zM1501.1 267.3h2.8v2.8h-2.8zM1505.4 248.7h2.8v2.8h-2.8zM1500 261.8h2.8v2.8h-2.8zM1482.1 226.5h2.8v2.8h-2.8zM1499.1 245.2h2.8v2.8h-2.8zM1560.2 244.7h2.8v2.8h-2.8zM1498.1 259.7h2.8v2.8h-2.8zM1500.7 268.9h2.8v2.8h-2.8zM1509 268.1h2.8v2.8h-2.8zM1500.1 258.4h2.8v2.8h-2.8zM1490.8 244.9h2.8v2.8h-2.8z" fill="#35c455"/>
</g>
<path d="M1475 183.7 H1584 V273.2" fill="none" stroke="#ffffff" stroke-width="1.6"/>
</g>
<rect x="1473.5" y="50.2" width="223" height="224.5" fill="none" stroke="#2b2a2b" stroke-width="3"/>
<rect x="1473.5" y="286.3" width="223" height="224.5" fill="#020204" stroke="#2b2a2b" stroke-width="3"/>
<g clip-path="url(#cd21)">
<g filter="url(#bl2)">
<ellipse cx="1574.5" cy="318.3" rx="15" ry="21" fill="#44479c" transform="rotate(-5 1574.5 318.3)"/>
<ellipse cx="1608.5" cy="317.3" rx="14" ry="18" fill="#44479c" transform="rotate(10 1608.5 317.3)"/>
<ellipse cx="1485.5" cy="344.3" rx="14" ry="21" fill="#44479c" transform="rotate(-25 1485.5 344.3)"/>
<ellipse cx="1542.5" cy="348.3" rx="15" ry="23" fill="#3c3e90" transform="rotate(5 1542.5 348.3)"/>
<ellipse cx="1657.5" cy="362.3" rx="19" ry="15" fill="#4a5cc8" transform="rotate(-15 1657.5 362.3)"/>
<ellipse cx="1597.5" cy="377.3" rx="17" ry="15" fill="#44479c" transform="rotate(-10 1597.5 377.3)"/>
<ellipse cx="1526.5" cy="392.3" rx="15" ry="15" fill="#44479c"/>
<ellipse cx="1504.5" cy="406.3" rx="15" ry="16" fill="#3a3c8a"/>
<ellipse cx="1670.5" cy="404.3" rx="21" ry="17" fill="#3c3e90" transform="rotate(-10 1670.5 404.3)"/>
<ellipse cx="1566.5" cy="409.3" rx="13" ry="13" fill="#44479c"/>
<ellipse cx="1634.5" cy="434.3" rx="15" ry="21" fill="#464eb0" transform="rotate(5 1634.5 434.3)"/>
<ellipse cx="1602.5" cy="464.3" rx="15" ry="21" fill="#3c3e90" transform="rotate(-15 1602.5 464.3)"/>
<ellipse cx="1685.5" cy="456.3" rx="14" ry="19" fill="#26265e" transform="rotate(20 1685.5 456.3)"/>
<ellipse cx="1496.5" cy="294.3" rx="16" ry="9" fill="#44479c" transform="rotate(10 1496.5 294.3)"/>
</g>
<path d="M1593.6 435h1.8v1.8h-1.8zM1484.3 373.8h1.8v1.8h-1.8zM1621.7 299.7h1.8v1.8h-1.8zM1502.4 348.6h1.8v1.8h-1.8zM1621.4 329.9h1.8v1.8h-1.8zM1553.3 413.6h1.8v1.8h-1.8zM1580.2 361.9h1.8v1.8h-1.8zM1576.1 386.6h1.8v1.8h-1.8zM1530 338.8h1.8v1.8h-1.8zM1621.8 327.3h1.8v1.8h-1.8zM1681.3 483.3h1.8v1.8h-1.8zM1649.2 339.4h1.8v1.8h-1.8zM1529.8 338.6h1.8v1.8h-1.8zM1675.7 439.2h1.8v1.8h-1.8zM1479.9 321.2h1.8v1.8h-1.8zM1588 471.3h1.8v1.8h-1.8zM1631 466.8h1.8v1.8h-1.8zM1497.3 374h1.8v1.8h-1.8zM1508.1 300.5h1.8v1.8h-1.8zM1671.1 445.5h1.8v1.8h-1.8zM1619.5 307.9h1.8v1.8h-1.8zM1519.1 363.5h1.8v1.8h-1.8zM1517.8 301h1.8v1.8h-1.8zM1684.5 362.6h1.8v1.8h-1.8zM1587.8 361.1h1.8v1.8h-1.8zM1482.3 401.7h1.8v1.8h-1.8zM1582.4 299.7h1.8v1.8h-1.8zM1491.7 401.2h1.8v1.8h-1.8zM1566.3 396.6h1.8v1.8h-1.8zM1637.7 342.8h1.8v1.8h-1.8zM1681.4 473.2h1.8v1.8h-1.8zM1581.2 344.2h1.8v1.8h-1.8zM1616.2 465.8h1.8v1.8h-1.8zM1633.7 400.4h1.8v1.8h-1.8zM1674.1 349.2h1.8v1.8h-1.8zM1597 329.8h1.8v1.8h-1.8zM1551.8 330.9h1.8v1.8h-1.8zM1651.3 447.8h1.8v1.8h-1.8zM1492.9 371.7h1.8v1.8h-1.8zM1540.2 387.1h1.8v1.8h-1.8zM1491 304.6h1.8v1.8h-1.8zM1674.9 379.7h1.8v1.8h-1.8zM1570.6 351.5h1.8v1.8h-1.8zM1595.8 360.5h1.8v1.8h-1.8zM1595.3 308.3h1.8v1.8h-1.8zM1568.5 291.8h1.8v1.8h-1.8zM1663.1 447h1.8v1.8h-1.8zM1619.3 466.6h1.8v1.8h-1.8zM1573.7 398.8h1.8v1.8h-1.8zM1578.3 340h1.8v1.8h-1.8zM1521.1 378.9h1.8v1.8h-1.8zM1485 302.1h1.8v1.8h-1.8zM1580.1 298.6h1.8v1.8h-1.8zM1551.8 423.8h1.8v1.8h-1.8zM1515.8 400.7h1.8v1.8h-1.8zM1479.2 294.8h1.8v1.8h-1.8zM1535.7 385.8h1.8v1.8h-1.8zM1580.1 391.6h1.8v1.8h-1.8zM1608.4 388.2h1.8v1.8h-1.8zM1480.3 304.4h1.8v1.8h-1.8zM1505.5 422.5h1.8v1.8h-1.8zM1683.6 437.3h1.8v1.8h-1.8zM1587.3 389.7h1.8v1.8h-1.8zM1525.3 360.2h1.8v1.8h-1.8zM1548.1 389.5h1.8v1.8h-1.8z" fill="#35c455"/>
<rect x="1475" y="420.3" width="107" height="90.5" fill="#03030a"/>
<g clip-path="url(#cd21i)">
<g filter="url(#bl3)">
<ellipse cx="1498.5" cy="465.3" rx="24" ry="33" fill="#44479c" transform="rotate(-5 1498.5 465.3)"/>
<ellipse cx="1550.5" cy="468.3" rx="23" ry="32" fill="#44479c" transform="rotate(10 1550.5 468.3)"/>
</g>
<path d="M1517.9 466.6h2.8v2.8h-2.8zM1525.2 434.9h2.8v2.8h-2.8zM1530.9 425.7h2.8v2.8h-2.8zM1575.5 505.1h2.8v2.8h-2.8zM1480.8 491h2.8v2.8h-2.8zM1562.9 426.8h2.8v2.8h-2.8zM1525 503.6h2.8v2.8h-2.8zM1516.8 442.1h2.8v2.8h-2.8zM1572.5 486.4h2.8v2.8h-2.8zM1526 506.7h2.8v2.8h-2.8zM1571.4 475.6h2.8v2.8h-2.8zM1522 500.5h2.8v2.8h-2.8zM1484.8 437.9h2.8v2.8h-2.8zM1522.1 467.7h2.8v2.8h-2.8zM1562.5 439.4h2.8v2.8h-2.8zM1492.3 499h2.8v2.8h-2.8zM1514.9 478.5h2.8v2.8h-2.8zM1535.6 444.3h2.8v2.8h-2.8z" fill="#35c455"/>
</g>
<path d="M1475 420.3 H1582 V509.3" fill="none" stroke="#ffffff" stroke-width="1.6"/>
</g>
<rect x="1473.5" y="286.3" width="223" height="224.5" fill="none" stroke="#2b2a2b" stroke-width="3"/>
<rect x="1704.8" y="50.2" width="223.5" height="224.5" fill="#020204" stroke="#2b2a2b" stroke-width="3"/>
<g clip-path="url(#cd12)">
<g filter="url(#bl8)" opacity="0.55">
<ellipse cx="1815.8" cy="136.2" rx="30" ry="35" fill="#7a0a20" transform="rotate(-10 1815.8 136.2)"/>
<ellipse cx="1783.8" cy="157.2" rx="26" ry="31" fill="#7a0a20" transform="rotate(25 1783.8 157.2)"/>
<ellipse cx="1890.8" cy="223.2" rx="35" ry="31" fill="#7a0a20" transform="rotate(10 1890.8 223.2)"/>
</g>
<g filter="url(#bl2)">
<ellipse cx="1809.8" cy="91.2" rx="15" ry="19" fill="#9a3c8c" transform="rotate(10 1809.8 91.2)"/>
<ellipse cx="1815.8" cy="136.2" rx="18" ry="23" fill="#f2306c" transform="rotate(-10 1815.8 136.2)"/>
<ellipse cx="1746.8" cy="168.2" rx="20" ry="12" fill="#5a4aa2" transform="rotate(30 1746.8 168.2)"/>
<ellipse cx="1783.8" cy="157.2" rx="14" ry="19" fill="#a23c84" transform="rotate(25 1783.8 157.2)"/>
<ellipse cx="1859.8" cy="176.2" rx="19" ry="24" fill="#5c3e9c" transform="rotate(-25 1859.8 176.2)"/>
<ellipse cx="1857.8" cy="204.2" rx="16" ry="11" fill="#8c3c92" transform="rotate(10 1857.8 204.2)"/>
<ellipse cx="1890.8" cy="223.2" rx="23" ry="19" fill="#b4327a" transform="rotate(10 1890.8 223.2)"/>
</g>
<path d="M1798.6 134.7h1.8v1.8h-1.8zM1861.5 228.5h1.8v1.8h-1.8zM1870.6 210.6h1.8v1.8h-1.8zM1769.1 136h1.8v1.8h-1.8zM1795.4 97.5h1.8v1.8h-1.8zM1869.9 143.7h1.8v1.8h-1.8zM1794.7 78.2h1.8v1.8h-1.8zM1772.7 135.4h1.8v1.8h-1.8zM1795.6 111h1.8v1.8h-1.8zM1824.5 98.5h1.8v1.8h-1.8zM1793.6 115.7h1.8v1.8h-1.8zM1717.5 175.1h1.8v1.8h-1.8zM1862 203.3h1.8v1.8h-1.8zM1799.9 70.7h1.8v1.8h-1.8zM1724.5 177.1h1.8v1.8h-1.8zM1912.8 233.7h1.8v1.8h-1.8zM1894.1 244.5h1.8v1.8h-1.8zM1796.2 84h1.8v1.8h-1.8zM1820.1 72.3h1.8v1.8h-1.8zM1817.6 77.2h1.8v1.8h-1.8zM1831 126.6h1.8v1.8h-1.8zM1800.7 154.3h1.8v1.8h-1.8zM1795.3 83.1h1.8v1.8h-1.8zM1855.9 214.8h1.8v1.8h-1.8zM1771.2 169.6h1.8v1.8h-1.8zM1824.4 112h1.8v1.8h-1.8zM1831.3 101.9h1.8v1.8h-1.8zM1808 114.2h1.8v1.8h-1.8zM1870.1 209.4h1.8v1.8h-1.8zM1796.8 149.7h1.8v1.8h-1.8zM1770.6 166.9h1.8v1.8h-1.8zM1768.9 153h1.8v1.8h-1.8zM1849.6 212.6h1.8v1.8h-1.8zM1827.5 172.2h1.8v1.8h-1.8zM1848.1 157.9h1.8v1.8h-1.8zM1820.4 161h1.8v1.8h-1.8zM1863.1 204.2h1.8v1.8h-1.8zM1796 165.4h1.8v1.8h-1.8zM1848.5 159.6h1.8v1.8h-1.8zM1729.3 179.1h1.8v1.8h-1.8z" fill="#e0202c"/>
<rect x="1706.3" y="183.7" width="109" height="91" fill="#03030a"/>
<g clip-path="url(#cd12i)">
<g filter="url(#bl8)" opacity="0.6">
<ellipse cx="1757.8" cy="234.7" rx="45" ry="53" fill="#8a0a24" transform="rotate(-10 1757.8 234.7)"/>
<ellipse cx="1712.8" cy="259.7" rx="34" ry="30" fill="#8a0a24" transform="rotate(30 1712.8 259.7)"/>
</g>
<g filter="url(#bl3)">
<ellipse cx="1757.8" cy="234.7" rx="29" ry="37" fill="#f2306c" transform="rotate(-10 1757.8 234.7)"/>
<ellipse cx="1712.8" cy="259.7" rx="18" ry="14" fill="#b4327a" transform="rotate(30 1712.8 259.7)"/>
</g>
<path d="M1721.8 247.4h2.8v2.8h-2.8zM1771 197.6h2.8v2.8h-2.8zM1744.3 193.4h2.8v2.8h-2.8zM1787.2 265.4h2.8v2.8h-2.8zM1783.9 268.6h2.8v2.8h-2.8zM1757.6 199.4h2.8v2.8h-2.8z" fill="#f02838"/>
</g>
<path d="M1706.3 183.7 H1815.3 V273.2" fill="none" stroke="#ffffff" stroke-width="1.6"/>
</g>
<rect x="1704.8" y="50.2" width="223.5" height="224.5" fill="none" stroke="#2b2a2b" stroke-width="3"/>
<rect x="1704.8" y="286.3" width="223.5" height="224.5" fill="#020204" stroke="#2b2a2b" stroke-width="3"/>
<g clip-path="url(#cd22)">
<g filter="url(#bl8)" opacity="0.55">
<ellipse cx="1839.8" cy="317.3" rx="26" ry="30" fill="#7a0a20" transform="rotate(10 1839.8 317.3)"/>
<ellipse cx="1716.8" cy="344.3" rx="26" ry="33" fill="#7a0a20" transform="rotate(-25 1716.8 344.3)"/>
<ellipse cx="1888.8" cy="362.3" rx="31" ry="27" fill="#7a0a20" transform="rotate(-15 1888.8 362.3)"/>
<ellipse cx="1828.8" cy="377.3" rx="29" ry="27" fill="#7a0a20" transform="rotate(-10 1828.8 377.3)"/>
<ellipse cx="1901.8" cy="404.3" rx="33" ry="29" fill="#7a0a20" transform="rotate(-10 1901.8 404.3)"/>
</g>
<g filter="url(#bl2)">
<ellipse cx="1805.8" cy="318.3" rx="15" ry="21" fill="#7c3c92" transform="rotate(-5 1805.8 318.3)"/>
<ellipse cx="1839.8" cy="317.3" rx="14" ry="18" fill="#a8327e" transform="rotate(10 1839.8 317.3)"/>
<ellipse cx="1716.8" cy="344.3" rx="14" ry="21" fill="#a63280" transform="rotate(-25 1716.8 344.3)"/>
<ellipse cx="1773.8" cy="348.3" rx="15" ry="23" fill="#4c3a90" transform="rotate(5 1773.8 348.3)"/>
<ellipse cx="1888.8" cy="362.3" rx="19" ry="15" fill="#4a5cc4" transform="rotate(-15 1888.8 362.3)"/>
<ellipse cx="1828.8" cy="377.3" rx="17" ry="15" fill="#f42c54" transform="rotate(-10 1828.8 377.3)"/>
<ellipse cx="1757.8" cy="392.3" rx="15" ry="15" fill="#8c3a8c"/>
<ellipse cx="1735.8" cy="406.3" rx="15" ry="16" fill="#6c3a84"/>
<ellipse cx="1901.8" cy="404.3" rx="21" ry="17" fill="#f42c54" transform="rotate(-10 1901.8 404.3)"/>
<ellipse cx="1797.8" cy="409.3" rx="13" ry="13" fill="#4a4aa0"/>
<ellipse cx="1865.8" cy="434.3" rx="15" ry="21" fill="#6a4aa8" transform="rotate(5 1865.8 434.3)"/>
<ellipse cx="1833.8" cy="464.3" rx="15" ry="21" fill="#5a3a90" transform="rotate(-15 1833.8 464.3)"/>
<ellipse cx="1916.8" cy="456.3" rx="14" ry="19" fill="#3a3080" transform="rotate(20 1916.8 456.3)"/>
<ellipse cx="1727.8" cy="294.3" rx="16" ry="9" fill="#5a4aa0" transform="rotate(10 1727.8 294.3)"/>
</g>
<rect x="1706.3" y="420.3" width="107" height="90.5" fill="#03030a"/>
<g clip-path="url(#cd22i)">
<g filter="url(#bl8)" opacity="0.6">
<ellipse cx="1729.8" cy="465.3" rx="40" ry="49" fill="#8a0a24" transform="rotate(-5 1729.8 465.3)"/>
<ellipse cx="1781.8" cy="468.3" rx="39" ry="48" fill="#8a0a24" transform="rotate(10 1781.8 468.3)"/>
</g>
<g filter="url(#bl3)">
<ellipse cx="1729.8" cy="465.3" rx="24" ry="33" fill="#b43c8c" transform="rotate(-5 1729.8 465.3)"/>
<ellipse cx="1781.8" cy="468.3" rx="23" ry="32" fill="#e02c70" transform="rotate(10 1781.8 468.3)"/>
</g>
</g>
<path d="M1706.3 420.3 H1813.3 V509.3" fill="none" stroke="#ffffff" stroke-width="1.6"/>
</g>
<rect x="1704.8" y="286.3" width="223.5" height="224.5" fill="none" stroke="#2b2a2b" stroke-width="3"/>
<rect x="1937.5" y="50.2" width="225.5" height="224.5" fill="#020204" stroke="#2b2a2b" stroke-width="3"/>
<g clip-path="url(#cd13)">
<g filter="url(#bl8)" opacity="0.55">
<ellipse cx="2048.5" cy="136.2" rx="30" ry="35" fill="#7a0a20" transform="rotate(-10 2048.5 136.2)"/>
<ellipse cx="2016.5" cy="157.2" rx="26" ry="31" fill="#7a0a20" transform="rotate(25 2016.5 157.2)"/>
<ellipse cx="2123.5" cy="223.2" rx="35" ry="31" fill="#7a0a20" transform="rotate(10 2123.5 223.2)"/>
</g>
<g filter="url(#bl2)">
<ellipse cx="2042.5" cy="91.2" rx="15" ry="19" fill="#9a3c8c" transform="rotate(10 2042.5 91.2)"/>
<ellipse cx="2048.5" cy="136.2" rx="18" ry="23" fill="#f2306c" transform="rotate(-10 2048.5 136.2)"/>
<ellipse cx="1979.5" cy="168.2" rx="20" ry="12" fill="#5a4aa2" transform="rotate(30 1979.5 168.2)"/>
<ellipse cx="2016.5" cy="157.2" rx="14" ry="19" fill="#a23c84" transform="rotate(25 2016.5 157.2)"/>
<ellipse cx="2092.5" cy="176.2" rx="19" ry="24" fill="#5c3e9c" transform="rotate(-25 2092.5 176.2)"/>
<ellipse cx="2090.5" cy="204.2" rx="16" ry="11" fill="#8c3c92" transform="rotate(10 2090.5 204.2)"/>
<ellipse cx="2123.5" cy="223.2" rx="23" ry="19" fill="#b4327a" transform="rotate(10 2123.5 223.2)"/>
</g>
<path d="M2014.3 182.2h1.8v1.8h-1.8zM1990.9 176.7h1.8v1.8h-1.8zM1951.4 170.1h1.8v1.8h-1.8zM2009.4 132.8h1.8v1.8h-1.8zM2119.1 176.6h1.8v1.8h-1.8zM2005.4 173.7h1.8v1.8h-1.8zM2074.6 149.1h1.8v1.8h-1.8zM2019.3 88.7h1.8v1.8h-1.8zM2069.7 214h1.8v1.8h-1.8zM2062.9 76.8h1.8v1.8h-1.8zM2075 203.6h1.8v1.8h-1.8zM2029.6 151h1.8v1.8h-1.8zM2034.8 152.7h1.8v1.8h-1.8zM2062.7 161.8h1.8v1.8h-1.8zM2024.1 82.8h1.8v1.8h-1.8zM2027.5 104.9h1.8v1.8h-1.8zM2066.6 182.5h1.8v1.8h-1.8zM2120.1 183h1.8v1.8h-1.8zM2074 131.3h1.8v1.8h-1.8zM2009.2 161.3h1.8v1.8h-1.8zM2010.1 140.5h1.8v1.8h-1.8zM2037.5 159.9h1.8v1.8h-1.8zM2101.6 147.2h1.8v1.8h-1.8zM2025.1 111.7h1.8v1.8h-1.8zM2026.4 88.8h1.8v1.8h-1.8zM2030.8 162.7h1.8v1.8h-1.8zM2112.8 195.5h1.8v1.8h-1.8zM2066.3 148.3h1.8v1.8h-1.8zM2013.8 179.2h1.8v1.8h-1.8zM2087.3 189.9h1.8v1.8h-1.8zM1985.3 181.3h1.8v1.8h-1.8zM2009.2 128.8h1.8v1.8h-1.8zM2066.4 129.7h1.8v1.8h-1.8zM2079.4 195.2h1.8v1.8h-1.8zM2094.7 219.2h1.8v1.8h-1.8zM2006.1 158.8h1.8v1.8h-1.8zM2049.4 157h1.8v1.8h-1.8zM2042.7 110.1h1.8v1.8h-1.8zM2005.6 168h1.8v1.8h-1.8zM2064.1 77.8h1.8v1.8h-1.8zM2101.6 190.7h1.8v1.8h-1.8zM2053.5 106.9h1.8v1.8h-1.8zM2005.6 142.1h1.8v1.8h-1.8zM2027.9 145.1h1.8v1.8h-1.8zM1965.6 160.7h1.8v1.8h-1.8zM2004.1 162.8h1.8v1.8h-1.8zM2067.4 209.9h1.8v1.8h-1.8zM2086.6 216.1h1.8v1.8h-1.8zM2105.2 204.4h1.8v1.8h-1.8zM2110.3 156.8h1.8v1.8h-1.8z" fill="#e8d020"/>
<rect x="1939" y="183.7" width="109" height="91" fill="#03030a"/>
<g clip-path="url(#cd13i)">
<g filter="url(#bl8)" opacity="0.6">
<ellipse cx="1990.5" cy="234.7" rx="45" ry="53" fill="#8a0a24" transform="rotate(-10 1990.5 234.7)"/>
<ellipse cx="1945.5" cy="259.7" rx="34" ry="30" fill="#8a0a24" transform="rotate(30 1945.5 259.7)"/>
</g>
<g filter="url(#bl3)">
<ellipse cx="1990.5" cy="234.7" rx="29" ry="37" fill="#f2306c" transform="rotate(-10 1990.5 234.7)"/>
<ellipse cx="1945.5" cy="259.7" rx="18" ry="14" fill="#b4327a" transform="rotate(30 1945.5 259.7)"/>
</g>
<path d="M1952.7 215.7h2.8v2.8h-2.8zM1947 242.5h2.8v2.8h-2.8zM2026.6 201.7h2.8v2.8h-2.8zM1970.7 257.2h2.8v2.8h-2.8zM2027.2 202.4h2.8v2.8h-2.8zM2023.1 208.5h2.8v2.8h-2.8zM1952.5 239.9h2.8v2.8h-2.8zM1973.6 197h2.8v2.8h-2.8zM2011.7 210.7h2.8v2.8h-2.8zM2024.9 236.8h2.8v2.8h-2.8z" fill="#f0d020"/>
</g>
<path d="M1939 183.7 H2048 V273.2" fill="none" stroke="#ffffff" stroke-width="1.6"/>
</g>
<rect x="1937.5" y="50.2" width="225.5" height="224.5" fill="none" stroke="#2b2a2b" stroke-width="3"/>
<rect x="1937.5" y="286.3" width="225.5" height="224.5" fill="#020204" stroke="#2b2a2b" stroke-width="3"/>
<g clip-path="url(#cd23)">
<g filter="url(#bl8)" opacity="0.55">
<ellipse cx="2072.5" cy="317.3" rx="26" ry="30" fill="#7a0a20" transform="rotate(10 2072.5 317.3)"/>
<ellipse cx="1949.5" cy="344.3" rx="26" ry="33" fill="#7a0a20" transform="rotate(-25 1949.5 344.3)"/>
<ellipse cx="2121.5" cy="362.3" rx="31" ry="27" fill="#7a0a20" transform="rotate(-15 2121.5 362.3)"/>
<ellipse cx="2061.5" cy="377.3" rx="29" ry="27" fill="#7a0a20" transform="rotate(-10 2061.5 377.3)"/>
<ellipse cx="2134.5" cy="404.3" rx="33" ry="29" fill="#7a0a20" transform="rotate(-10 2134.5 404.3)"/>
</g>
<g filter="url(#bl2)">
<ellipse cx="2038.5" cy="318.3" rx="15" ry="21" fill="#7c3c92" transform="rotate(-5 2038.5 318.3)"/>
<ellipse cx="2072.5" cy="317.3" rx="14" ry="18" fill="#a8327e" transform="rotate(10 2072.5 317.3)"/>
<ellipse cx="1949.5" cy="344.3" rx="14" ry="21" fill="#a63280" transform="rotate(-25 1949.5 344.3)"/>
<ellipse cx="2006.5" cy="348.3" rx="15" ry="23" fill="#4c3a90" transform="rotate(5 2006.5 348.3)"/>
<ellipse cx="2121.5" cy="362.3" rx="19" ry="15" fill="#4a5cc4" transform="rotate(-15 2121.5 362.3)"/>
<ellipse cx="2061.5" cy="377.3" rx="17" ry="15" fill="#f42c54" transform="rotate(-10 2061.5 377.3)"/>
<ellipse cx="1990.5" cy="392.3" rx="15" ry="15" fill="#8c3a8c"/>
<ellipse cx="1968.5" cy="406.3" rx="15" ry="16" fill="#6c3a84"/>
<ellipse cx="2134.5" cy="404.3" rx="21" ry="17" fill="#f42c54" transform="rotate(-10 2134.5 404.3)"/>
<ellipse cx="2030.5" cy="409.3" rx="13" ry="13" fill="#4a4aa0"/>
<ellipse cx="2098.5" cy="434.3" rx="15" ry="21" fill="#6a4aa8" transform="rotate(5 2098.5 434.3)"/>
<ellipse cx="2066.5" cy="464.3" rx="15" ry="21" fill="#5a3a90" transform="rotate(-15 2066.5 464.3)"/>
<ellipse cx="2149.5" cy="456.3" rx="14" ry="19" fill="#3a3080" transform="rotate(20 2149.5 456.3)"/>
<ellipse cx="1960.5" cy="294.3" rx="16" ry="9" fill="#5a4aa0" transform="rotate(10 1960.5 294.3)"/>
</g>
<path d="M1950.4 373.5h1.8v1.8h-1.8zM1974.5 420.9h1.8v1.8h-1.8zM2115.1 412h1.8v1.8h-1.8zM2075.2 347.1h1.8v1.8h-1.8zM2079 375h1.8v1.8h-1.8zM2120.9 378.7h1.8v1.8h-1.8zM2081.7 445.2h1.8v1.8h-1.8zM2023.9 305.4h1.8v1.8h-1.8zM2012.8 368.9h1.8v1.8h-1.8zM2044.5 415h1.8v1.8h-1.8zM2060 402.2h1.8v1.8h-1.8zM2146.1 348.3h1.8v1.8h-1.8zM2081.7 432h1.8v1.8h-1.8zM2111.6 348.6h1.8v1.8h-1.8zM2025.2 346.8h1.8v1.8h-1.8zM2007.9 383.4h1.8v1.8h-1.8zM2153.4 390.3h1.8v1.8h-1.8zM1943.6 367.9h1.8v1.8h-1.8zM2048 412.1h1.8v1.8h-1.8zM2109.3 398.6h1.8v1.8h-1.8zM2113.5 418.9h1.8v1.8h-1.8zM2089.1 316.8h1.8v1.8h-1.8zM1993.3 378.4h1.8v1.8h-1.8zM1980.5 290.8h1.8v1.8h-1.8zM2009.5 393.1h1.8v1.8h-1.8zM2016 375.4h1.8v1.8h-1.8zM2073.5 399.3h1.8v1.8h-1.8zM2103.5 452.5h1.8v1.8h-1.8zM2155.7 423.7h1.8v1.8h-1.8zM2073 493.4h1.8v1.8h-1.8zM2043.6 338h1.8v1.8h-1.8zM1965.1 331.6h1.8v1.8h-1.8zM1977.6 303.3h1.8v1.8h-1.8zM2078.6 443.4h1.8v1.8h-1.8zM2062.2 300.6h1.8v1.8h-1.8zM2137.8 357.5h1.8v1.8h-1.8zM2122.7 417.4h1.8v1.8h-1.8zM2082.2 340.3h1.8v1.8h-1.8zM1985.7 377.4h1.8v1.8h-1.8zM2088.7 312.9h1.8v1.8h-1.8zM2091.1 316.3h1.8v1.8h-1.8zM1978.9 393.8h1.8v1.8h-1.8zM2121.9 341.8h1.8v1.8h-1.8zM2034.5 424h1.8v1.8h-1.8zM2083.1 449.2h1.8v1.8h-1.8zM1965.8 350.3h1.8v1.8h-1.8z" fill="#58d848"/>
<rect x="1939" y="420.3" width="107" height="90.5" fill="#03030a"/>
<g clip-path="url(#cd23i)">
<g filter="url(#bl8)" opacity="0.6">
<ellipse cx="1962.5" cy="465.3" rx="40" ry="49" fill="#8a0a24" transform="rotate(-5 1962.5 465.3)"/>
<ellipse cx="2014.5" cy="468.3" rx="39" ry="48" fill="#8a0a24" transform="rotate(10 2014.5 468.3)"/>
</g>
<g filter="url(#bl3)">
<ellipse cx="1962.5" cy="465.3" rx="24" ry="33" fill="#b43c8c" transform="rotate(-5 1962.5 465.3)"/>
<ellipse cx="2014.5" cy="468.3" rx="23" ry="32" fill="#e02c70" transform="rotate(10 2014.5 468.3)"/>
</g>
<path d="M2000.2 445.8h2.8v2.8h-2.8zM1989.8 476.1h2.8v2.8h-2.8zM1992.4 500.4h2.8v2.8h-2.8zM2024.3 501.5h2.8v2.8h-2.8zM1941.2 506.7h2.8v2.8h-2.8zM1956.3 434.5h2.8v2.8h-2.8zM2003.1 494h2.8v2.8h-2.8z" fill="#58d848"/>
</g>
<path d="M1939 420.3 H2046 V509.3" fill="none" stroke="#ffffff" stroke-width="1.6"/>
</g>
<rect x="1937.5" y="286.3" width="225.5" height="224.5" fill="none" stroke="#2b2a2b" stroke-width="3"/>
<rect x="2112.3" y="500.3" width="43.6" height="8.5" fill="#ffffff"/>
<text transform="translate(16 644.4)" font-size="39" font-weight="bold" fill="#231f20" stroke="#231f20" stroke-width="1.2">e</text>
<text transform="translate(119.7 716) scale(1.060 1)" font-size="20" text-anchor="middle" fill="#231f20">RT–qPCR</text>
<text transform="translate(119.7 746) scale(1.060 1)" font-size="21" text-anchor="middle" font-style="italic" fill="#231f20">Nanog</text>
<text transform="translate(22.5 890.6) rotate(-90) scale(1.100 1)" font-size="21.5" text-anchor="middle" fill="#231f20">Relative epression</text>
<line x1="83.3" y1="758.3" x2="83.3" y2="1022.9" stroke="#231f20" stroke-width="1.5"/>
<line x1="73" y1="1022.9" x2="156" y2="1022.9" stroke="#231f20" stroke-width="1.5"/>
<line x1="73.3" y1="758.3" x2="83.3" y2="758.3" stroke="#231f20" stroke-width="1.5"/>
<text transform="translate(62.5 764.8) scale(1.050 1)" font-size="18.5" text-anchor="end" fill="#231f20">40</text>
<line x1="73.3" y1="825" x2="83.3" y2="825" stroke="#231f20" stroke-width="1.5"/>
<text transform="translate(62.5 831.5) scale(1.050 1)" font-size="18.5" text-anchor="end" fill="#231f20">30</text>
<line x1="73.3" y1="891.2" x2="83.3" y2="891.2" stroke="#231f20" stroke-width="1.5"/>
<text transform="translate(62.5 897.7) scale(1.050 1)" font-size="18.5" text-anchor="end" fill="#231f20">20</text>
<line x1="73.3" y1="957.3" x2="83.3" y2="957.3" stroke="#231f20" stroke-width="1.5"/>
<text transform="translate(62.5 963.8) scale(1.050 1)" font-size="18.5" text-anchor="end" fill="#231f20">10</text>
<line x1="73.3" y1="1022.9" x2="83.3" y2="1022.9" stroke="#231f20" stroke-width="1.5"/>
<text transform="translate(62.5 1029.4) scale(1.050 1)" font-size="18.5" text-anchor="end" fill="#231f20">0</text>
<line x1="97.4" y1="1022.9" x2="97.4" y2="1033.9" stroke="#231f20" stroke-width="1.5"/>
<line x1="119.4" y1="1022.9" x2="119.4" y2="1033.9" stroke="#231f20" stroke-width="1.5"/>
<line x1="140.9" y1="1022.9" x2="140.9" y2="1033.9" stroke="#231f20" stroke-width="1.5"/>
<line x1="119.4" y1="811.3" x2="119.4" y2="875.5" stroke="#231f20" stroke-width="1.5"/>
<line x1="115.1" y1="811.3" x2="123.7" y2="811.3" stroke="#231f20" stroke-width="1.5"/>
<line x1="115.1" y1="875.5" x2="123.7" y2="875.5" stroke="#231f20" stroke-width="1.5"/>
<line x1="112.2" y1="843.4" x2="126.6" y2="843.4" stroke="#231f20" stroke-width="1.5"/>
<line x1="140.9" y1="820" x2="140.9" y2="832" stroke="#231f20" stroke-width="1.5"/>
<line x1="140.9" y1="820" x2="140.9" y2="820" stroke="#231f20" stroke-width="1.5"/>
<line x1="140.9" y1="832" x2="140.9" y2="832" stroke="#231f20" stroke-width="1.5"/>
<line x1="133.6" y1="826.2" x2="148.2" y2="826.2" stroke="#231f20" stroke-width="1.5"/>
<circle cx="95.3" cy="1006" r="5" fill="#8f1a2b"/>
<circle cx="100.2" cy="1011.4" r="5" fill="#8f1a2b"/>
<circle cx="96" cy="1016.6" r="5" fill="#8f1a2b"/>
<circle cx="116.8" cy="822.5" r="5" fill="#e8313a"/>
<circle cx="121.7" cy="828.2" r="5" fill="#e8313a"/>
<circle cx="119.4" cy="880.6" r="5" fill="#e8313a"/>
<circle cx="140.9" cy="816.2" r="5" fill="#f0923b"/>
<circle cx="138.3" cy="831.4" r="5" fill="#f0923b"/>
<circle cx="143.2" cy="830" r="5" fill="#f0923b"/>
<text transform="translate(104 1049) rotate(-45) scale(1.100 1)" font-size="19" text-anchor="end" fill="#231f20">control</text>
<text transform="translate(120 1068) rotate(-45) scale(1.015 1)" font-size="19" text-anchor="end" fill="#231f20"><tspan font-style="italic">Nanog</tspan>-let-7</text>
<text transform="translate(120 1068) rotate(-45) scale(1.060 1)" font-size="10.5" fill="#231f20"><tspan dy="-8">WT</tspan></text>
<text transform="translate(144.6 1071) rotate(-45) scale(1.015 1)" font-size="19" text-anchor="end" fill="#231f20"><tspan font-style="italic">Nanog</tspan>-let-7</text>
<text transform="translate(144.6 1071) rotate(-45) scale(1.060 1)" font-size="10.5" fill="#231f20"><tspan dy="-8">Mut</tspan></text>
<line x1="50" y1="1156" x2="146" y2="1156" stroke="#231f20" stroke-width="1.3"/>
<text transform="translate(14.3 1184) scale(1.080 1)" font-size="22" fill="#231f20"><tspan font-style="italic">Nanog</tspan>-KO cells</text>
<text transform="translate(189 644.4)" font-size="39" font-weight="bold" fill="#231f20" stroke="#231f20" stroke-width="1.2">f</text>
<text transform="translate(189.8 861.2) scale(1.050 1)" font-size="21.5" fill="#231f20">42 kDa</text>
<text transform="translate(189.8 948.3) scale(1.050 1)" font-size="21.5" fill="#231f20">42 kDa</text>
<rect x="273.4" y="824.9" width="176" height="56.7" fill="#e7e7e7"/>
<g clip-path="url(#bl1)">
<ellipse cx="363.7" cy="860.5" rx="17" ry="6.5" fill="#555" opacity="0.85" filter="url(#bb4)"/>
<ellipse cx="363.7" cy="852" rx="15" ry="8" fill="#999" opacity="0.5" filter="url(#bb4)"/>
<ellipse cx="415.8" cy="860.5" rx="18" ry="6" fill="#1a1a1a" opacity="0.95" filter="url(#bb4)"/>
<ellipse cx="424" cy="861" rx="8" ry="5" fill="#000" opacity="0.9" filter="url(#bb2)"/>
<ellipse cx="415" cy="848" rx="16" ry="10" fill="#999" opacity="0.5" filter="url(#bb4)"/>
<ellipse cx="290" cy="843" rx="5" ry="4" fill="#ccc" opacity="0.5" filter="url(#bb4)"/>
</g>
<rect x="273.4" y="824.9" width="176" height="56.7" fill="none" stroke="#2a2a2a" stroke-width="1.5"/>
<rect x="273.4" y="913.8" width="176" height="56.7" fill="#e7e7e7"/>
<g clip-path="url(#bl2)">
<ellipse cx="297" cy="936.5" rx="11" ry="5" fill="#111" opacity="1" filter="url(#bb2)"/>
<ellipse cx="316" cy="940.5" rx="12" ry="4.5" fill="#111" opacity="1" filter="url(#bb2)"/>
<ellipse cx="306" cy="939" rx="16" ry="4" fill="#111" opacity="1" filter="url(#bb2)"/>
<ellipse cx="330" cy="938" rx="6" ry="5.5" fill="#111" opacity="1" filter="url(#bb2)"/>
<ellipse cx="366" cy="942.5" rx="17" ry="3.2" fill="#161616" opacity="1" filter="url(#bb2)"/>
<ellipse cx="374" cy="942.5" rx="8" ry="3.2" fill="#111" opacity="1" filter="url(#bb2)"/>
<ellipse cx="420.4" cy="943.5" rx="20" ry="3.6" fill="#141414" opacity="1" filter="url(#bb2)"/>
<ellipse cx="428" cy="944" rx="10" ry="4" fill="#111" opacity="1" filter="url(#bb2)"/>
</g>
<rect x="273.4" y="913.8" width="176" height="56.7" fill="none" stroke="#2a2a2a" stroke-width="1.5"/>
<text transform="translate(460.5 861.6) scale(1.040 1)" font-size="21.5" fill="#231f20">NANOG</text>
<text transform="translate(460.5 948.3) scale(1.090 1)" font-size="21.5" fill="#231f20">β-actin</text>
<text transform="translate(325 985.5) rotate(-45) scale(1.060 1)" font-size="19" text-anchor="end" fill="#231f20">control</text>
<text transform="translate(371.5 1004) rotate(-45) scale(1.015 1)" font-size="19" text-anchor="end" fill="#231f20"><tspan font-style="italic">Nanog</tspan>-let-7</text>
<text transform="translate(371.5 1004) rotate(-45) scale(1.060 1)" font-size="10.5" fill="#231f20"><tspan dy="-8">WT</tspan></text>
<text transform="translate(427 1004) rotate(-45) scale(1.015 1)" font-size="19" text-anchor="end" fill="#231f20"><tspan font-style="italic">Nanog</tspan>-let-7</text>
<text transform="translate(427 1004) rotate(-45) scale(1.060 1)" font-size="10.5" fill="#231f20"><tspan dy="-8">Mut</tspan></text>
<line x1="275.2" y1="1089.5" x2="420.8" y2="1089.5" stroke="#231f20" stroke-width="1.3"/>
<text transform="translate(270.7 1119) scale(1.080 1)" font-size="22" fill="#231f20"><tspan font-style="italic">Nanog</tspan>-KO cells</text>
<text transform="translate(566 642.8)" font-size="39" font-weight="bold" fill="#231f20" stroke="#231f20" stroke-width="1.2">g</text>
<text transform="translate(661.5 705.4) scale(1.100 1)" font-size="21.5" text-anchor="middle" fill="#4d4d4f"><tspan font-style="italic">Nanog</tspan>-let-7<tspan dy="-9.2" font-size="12">WT</tspan></text>
<circle cx="662.2" cy="794.6" r="82.5" fill="url(#dg1)" stroke="#2a2a2a" stroke-width="1.6"/>
<path d="M613.8 747.4l-2.3 0.4M657.4 719.4l0.1 1.2M721.5 772.6l2.3 0.9M624 802.1l-0.4 1.9M698.6 797.6l-1.5 0.4M665.3 763.4l2.1 1M641.5 775.8l-1.1 0.5M671.4 829.9l-2.4 1M643.4 869.2l-1 1.7M683.5 867.7l-2.2 0.2M695.9 768l1.5 0.8M674.4 810.5l-0.5 1.5M726.8 796l0.9 1.4M684.9 745.1l0.1 1.6M656.9 776.6l2.6 0.2M662.1 722.4l-1 0.8M622.4 839.1l1.2 0.2M694.5 864.2l-1.1 1M731.1 762l0.7 1.5M593.9 783.9l-0.9 1M683.5 725l-1.2 0.2M700.7 819.4l-2 0.5M621.8 858.3l1.1 1.6M648.7 824.8l1.2 0.6M633 721.9l1.4 0.2M719.3 789.8l1.3 1.2M602.9 754.9l0.4 1.8M732.8 820.4l0 1.2M677.2 770.5l-2.2 0.4M614.6 743.7l0.3 1.3M704.9 852.8l0.2 1.6M734.7 794.3l0.4 2.5M595.3 799.6l1.1 1.5M637.5 811.7l-1.7 0.1M722.4 779.1l0.9 1.7M696.9 816.4l-2.1 0.9M617.4 847.9l-1.3 1.9M627 735.9l-1 1.4M651.7 848.3l-1.3 1.9M641.4 868.1l-0.5 2M720.1 798.8l-0.8 1.3M593.2 811l-1.7 1.3M625.9 846.1l-1.9 1.2M619.8 852.9l-1.3 2M738.1 783.1l-0.2 1.9M698.3 856.7l0.2 2.5M638.2 732.5l1.9 1.1M673.5 735.9l0.5 2.1M613 746.1l-1.3 1.6M693.1 800l-0.8 1.6M674.8 858.4l2.1 0.3M625.5 801.2l1.2 0.5M648.5 825.1l1.5 0.2M614.9 805.1l-0.6 2M667.9 869l0.4 1.1M653.2 844.1l-1.2 0.7M651.7 805.2l2 0.6M618.3 781.8l-2 0.3M683.4 748.4l-1 2.1M642 816.2l-0.4 2M736.7 774.1l0.9 1.8M664.1 793.1l-0.3 1.3M640.1 775.1l-2 0.7M625.5 830.9l0.9 1.2M709.9 786.3l-2.5 0.7M629.2 771.9l0 2.6M624 817.1l0.1 2.6M649.9 847.4l-0.5 1.3M622.4 809.4l-2 1.2M719.3 799.3l-1.6 0.3M669.9 756.5l1.4 0.7M704.6 791.6l0.2 2M624.8 746.4l2.1 0.8M665 751.6l1 1.7M645.6 849.3l0.8 1.7" stroke="#8c6262" stroke-width="1.2" stroke-linecap="round" fill="none" opacity="0.7"/>
<text transform="translate(660.6 920.7) scale(1.100 1)" font-size="21.5" text-anchor="middle" fill="#4d4d4f"><tspan font-style="italic">Nanog</tspan>-let-7<tspan dy="-9.2" font-size="12">Mut</tspan></text>
<circle cx="661.6" cy="1010.8" r="83" fill="url(#dg2)" stroke="#2a2a2a" stroke-width="1.6"/>
<path d="M680.9 941.8l1.3 1.4M725.9 1011l-1.4 1.3M613.2 1060.4l-1.3 0.9M655.2 960.4l-1.1 1.6M682.2 1065.8l1.6 1.7M683.1 949l1.2 2.1M720.5 1049.8l0.4 2.3M690.8 1030.3l1.3 1.7M719.4 992.6l-0.7 1.3M612.8 1069.5l-0.1 2.5M621 958.8l-2.3 0.2M708.3 1019.2l1.2 1.7M641.6 998.2l-0.2 2.4M709.4 1053.9l1.3 0.9M632.4 1013.8l-1.4 0.6M658.8 1002.4l2.3 0.1M624.2 1076l1.2 1.7M626.2 1045.1l-1.4 0M710.1 1027.8l0.7 2.1M700.4 1006.1l-2.4 0.9M625.8 945.5l-1.6 0.9M677.8 956.4l-1.1 1.5M642.1 1023.3l1.5 1.7M591.9 1016.2l1.4 0.1M704.9 1053.3l1.2 1.2M589 1033.6l0.4 1.5M706.5 968.3l0.1 1.6M632.1 1014.8l1 1.4M676.7 968.5l-2.1 0.2M704.5 988.3l1.1 1.7M617.3 1043.7l-2.3 0.5M660 1016.8l1.8 0.3M729.8 1023.9l-0.9 1.1M612.1 1069.1l2.3 0.5M688.7 1082.8l0.5 2M675.9 941l0.2 1.9M700 1038.8l-0.5 1.3M638.1 992.2l2 0.6M711.6 1049.8l-1.8 0.6M616.1 962.8l-1.2 0.7M715.3 1041.9l-2.4 0.7M703.2 977.8l-1.7 1.3M711.6 1069l0.5 2.4M671 958.8l-1 1.2M726.7 1038.3l1.6 2M682.8 1002.3l1.5 1.8M712.3 999.9l2.5 0.2M722.9 1047.4l-0.2 2.1M693.8 1017.5l1.7 0.3M730.6 1007.8l-1.5 2M649.4 1029.1l2.1 0.8M610.1 995.1l1.8 0.4M712.5 1036.3l-0.1 1.2M686.2 1044.8l-0.3 1.4M633.1 1034.9l-0.3 1.5M704.9 983.5l0.8 1.2M665.2 1070.5l-0.5 2.2M678.7 1052.5l0.3 1.7M598.5 1058.2l-1 1.7M648.3 948.8l0.9 2.1M622.6 943.4l-0.5 1.3M647 1023.7l-0.9 0.9M711.7 1054.7l0.5 1.2M718.6 1022.5l1.7 1.5M592 980.5l0.1 1.6M649.7 938.3l-0.7 1.3M680.9 1028.9l2.5 0.4M721.5 977.8l-1.4 1.6M636.9 976.4l1.5 1.1M705.8 956.9l1.8 1.4M628.2 989l-1.6 1.7M728.1 1008.7l-1.6 1.4M712.3 1044.6l0.5 1.1M718.6 1062.4l-1.2 0.3M711 994l2.3 0.4M666.6 1016.8l1.3 0M672.6 990.2l1.3 1.5M696.1 1048.6l-1.5 0.1M616.2 1051.4l-0.8 1.8M620.8 1015.8l-1.3 0.5M680.3 1060.3l-0.5 2.3M728.9 988l1.8 0.7M616.2 980.9l-0.2 2.4M637.2 944l-1.6 0.9M686.6 992.5l-2.3 1M689.7 974.5l1.4 0.6M611.3 1063.7l1.7 0M653.9 1032.2l-1.5 1.4M682.7 1000.3l1.6 0.7M722.7 972.2l-1.9 0.3M592.6 1002l0.8 1.7M734 1008.2l-1.9 0.8M619.9 953.9l1.2 0.5M709 1049.7l2 1M635 1009.9l-1.7 1.4M728.5 1051.3l2 0.8M643 1036.1l-2.1 0.6M677 1041l-1.9 0.9M657.9 957.5l-0.5 1.3M593.5 1030.3l-1.3 1.5M723.1 999.5l1.6 1.9M735.8 1011.5l-1.2 0M642.8 1016.2l-1 1.2M615 1052.3l-1.2 0.7M611.2 1062.4l-0.7 1.2M612.3 1020.5l-0.1 1.2M675 989.1l1.8 0.1M739.3 1007.9l0.1 2.1M686.4 1022.6l-1.7 1.3M734.8 1005.8l1.3 1.3M616.7 998.7l-1.8 0.7M586.7 1033.6l2.2 0.3M660.3 946.6l2.1 0M701.9 972.5l1.7 1M670.7 1012.9l0.9 1.2M672.4 1026.5l-1.3 1.8M688.8 985.9l-0.6 2.1M724 1050.4l1.4 0.9M692.5 1080.2l0.5 1.4M616.3 997l2 0.6M607 1036.5l-0.7 1.9M654 1073.4l0.1 2.6M616.9 954l1 1.2M704.2 1002.7l0.7 1.7M719.9 1008.3l2.1 1.2M650.6 1073.5l-0.8 1.4M639.5 1009.7l0.3 1.3M629.1 1003.8l1.6 0M657.2 1054.5l-0.5 1.7M701.8 957.3l1.4 1.7M594.3 1012.7l1.8 1.7M679.3 1012.5l-1.8 0.8M701.5 1068.2l-1.9 0.9M682.6 995.7l2.1 1M698.2 1044.6l1.8 0.4M656.3 1043.5l1.3 0.4M698 1016.3l0.4 1.6M640.5 952.7l1 1.6M635.5 987.9l1.4 0.5M647.3 985l0.7 1.4M603.1 985.9l-0.6 1.9M688.2 1081.4l0.6 2.1M613.8 1047.1l-0.6 1.2M700.7 983.5l1.3 1.4M702.5 984.7l-1.1 1.3M609.3 1064.8l-0.5 1.7M641.1 1067.9l1.8 0.6M685.8 990.5l-1.1 1.7M617.3 1019.6l-1.8 0M735.7 1016.3l0.1 2M620.7 962.7l-2.4 0.2M615 1006.4l-1.6 0.5M640.8 1013.4l1.9 0.7M625.2 1063.1l-0.2 2M691.1 956.7l-2.1 1.4M655.4 1080.4l-1.7 0.3M624.2 976l-1.3 0.7M655.6 1018.7l2.3 0M674.8 1014.6l-0.4 2.1M585.6 1018.7l1.5 1.1M687.8 1010.2l1 0.8M712.1 1003.3l0.7 1.6M614.5 1060.7l1.3 1.6M687.7 1077.2l-0 2M685.4 1085.2l-1.9 0.5M632.5 954.7l-1.2 0.3M674.9 993.5l-0.7 1.1M644.4 980.6l2.5 0.8M611.8 987.8l-0.8 1.4M597.1 1035.9l2.3 0.1M634.8 1062.4l-0.5 1.5M686.8 1015.5l1.5 1.2M674.9 1059.8l-0.9 1.8M616.2 978.4l-1.7 0.7M710.6 954.2l-1.3 2.2M682.3 1073.7l0.9 1.3M650 1019.2l1.5 1M667.2 1062.4l-1 2M635 1072.5l0.8 1.6M626.1 1033.8l-1.4 0.1M608.9 974.5l-0 2.1M656.9 1005.8l-0.1 1.3M653.1 1012.7l0.9 1.2M732.4 996.2l0.4 1.2M644.4 1034.5l-1.6 0.1M697.2 990.4l2.1 0.9M645.9 993.7l-0.6 2M721.6 1008.5l1.8 1.7M636 985.4l-1.3 0.1M707.9 1018.8l1.3 1M704.1 957l-0.3 1.7M670.8 994l-1.9 0.9M616.6 975.6l1.3 0.8M682.6 1053.1l-1.2 1M676.6 1034.5l0.3 2.3M715.3 1057.8l0.5 1.2M614.5 1042.6l-1.5 0.3M622.1 988.8l0.8 1.9M604.9 988.2l-1.4 0.6M725.2 1053.1l-0 1.8M705.8 1046l-0.6 1.6M651.8 987.7l-1.2 0.4M679.6 1073.3l-1.7 1.4M724.7 1013l2.4 0.3M735.8 1014.2l-1.3 1.7M668.8 949.5l1.3 0.7M725.5 1016.8l-2.1 0.1M662.5 1040.9l-1.7 0.3M667.7 1084.7l-1.6 1.4M714.6 1057.8l-1.2 1.3M702.6 1023.6l1.3 1.5M636.6 1004.6l-0.6 1.4M624.5 1079.6l1 1.4M610.3 1047.5l-1.6 0.1M680.3 1068.3l1.6 1.8M667.6 1067l-2.1 1.1M703 958.5l-1.3 0.3M666.9 1018.8l1.9 0.1M695 1020.1l1.7 2M707.4 949.3l1.4 0.5M674.9 1072.5l1.1 1.8M665.5 990.1l0.5 1.1M622.3 949.7l-2.4 0.7M722.3 999.2l1.8 0.3M593 979.1l0.2 2.3M617.9 957l-1.6 2M596.4 969.2l2.6 0M703.3 1001.3l0.7 1M664.7 1014l0.9 2.1M712.4 1054.7l0.7 1.3M624.2 1035.6l1.8 1.3M681.9 961.3l0.9 1.6M695.4 991.7l1.2 1.3M670 1018.9l-1.8 1.2M640.1 1058.6l2.3 0.4M651.4 1077.8l1.1 1.1M621 1003.1l1.4 0.2M732.4 1003.5l1.4 0.6M604.1 1003.4l0.9 2.3M711 1064.1l1 1M675.6 1083.2l0.9 2.4M616.5 962.2l-1.5 1M634.7 1072.9l1.3 0.6M680.2 1038.5l1.8 1.8M656.4 1003.3l-1.7 1.7M622.4 942.7l-0.9 0.8M717.5 1063.4l0.7 1M610.1 993.8l2.3 0.5M669.5 1004.2l-2 1.6M680.1 1012.8l1.3 0.4M680 1042.6l0 1.9M661.8 1089.2l-0.1 2M691.7 956.5l-2.1 1.2M615 1068.2l2.1 0.1M629.3 1067.7l-1.3 1.8M671.2 944.1l1.7 1.8M723.6 969.4l1.8 1.5M603 966.9l1.9 1.5M718.2 1025.7l-0.1 1.3M682 1029.8l-0.9 2.3" stroke="#8c6262" stroke-width="1.2" stroke-linecap="round" fill="none" opacity="0.7"/>
<text transform="translate(795.5 642.8)" font-size="39" font-weight="bold" fill="#231f20" stroke="#231f20" stroke-width="1.2">h</text>
<text transform="translate(918.7 705.4) scale(1.090 1)" font-size="21.5" text-anchor="middle" fill="#231f20">Clonal</text>
<text transform="translate(918.7 732.9) scale(1.090 1)" font-size="21.5" text-anchor="middle" fill="#231f20">assay</text>
<text transform="translate(813.5 891.7) rotate(-90) scale(1.140 1)" font-size="21.5" text-anchor="middle" fill="#231f20">Number of colonies</text>
<line x1="881.2" y1="758.8" x2="881.2" y2="1024" stroke="#231f20" stroke-width="1.5"/>
<line x1="871.4" y1="1024" x2="956" y2="1024" stroke="#231f20" stroke-width="1.5"/>
<line x1="871.2" y1="758.8" x2="881.2" y2="758.8" stroke="#231f20" stroke-width="1.5"/>
<text transform="translate(863 765.3) scale(1.050 1)" font-size="18.5" text-anchor="end" fill="#231f20">125</text>
<line x1="871.2" y1="811.4" x2="881.2" y2="811.4" stroke="#231f20" stroke-width="1.5"/>
<text transform="translate(863 817.9) scale(1.050 1)" font-size="18.5" text-anchor="end" fill="#231f20">100</text>
<line x1="871.2" y1="864.5" x2="881.2" y2="864.5" stroke="#231f20" stroke-width="1.5"/>
<text transform="translate(863 871) scale(1.050 1)" font-size="18.5" text-anchor="end" fill="#231f20">75</text>
<line x1="871.2" y1="917.7" x2="881.2" y2="917.7" stroke="#231f20" stroke-width="1.5"/>
<text transform="translate(863 924.2) scale(1.050 1)" font-size="18.5" text-anchor="end" fill="#231f20">50</text>
<line x1="871.2" y1="971.1" x2="881.2" y2="971.1" stroke="#231f20" stroke-width="1.5"/>
<text transform="translate(863 977.6) scale(1.050 1)" font-size="18.5" text-anchor="end" fill="#231f20">25</text>
<line x1="871.2" y1="1024" x2="881.2" y2="1024" stroke="#231f20" stroke-width="1.5"/>
<text transform="translate(863 1030.5) scale(1.050 1)" font-size="18.5" text-anchor="end" fill="#231f20">0</text>
<line x1="902" y1="1024" x2="902" y2="1035" stroke="#231f20" stroke-width="1.5"/>
<line x1="936.5" y1="1024" x2="936.5" y2="1035" stroke="#231f20" stroke-width="1.5"/>
<text transform="translate(922.3 776.5)" font-size="34" text-anchor="middle" fill="#231f20" letter-spacing="1">***</text>
<line x1="903.5" y1="772.6" x2="937.7" y2="772.6" stroke="#231f20" stroke-width="1.5"/>
<line x1="902" y1="893" x2="902" y2="911.6" stroke="#231f20" stroke-width="1.5"/>
<line x1="897" y1="893" x2="907" y2="893" stroke="#231f20" stroke-width="1.5"/>
<line x1="897" y1="911.6" x2="907" y2="911.6" stroke="#231f20" stroke-width="1.5"/>
<line x1="893" y1="902.4" x2="911" y2="902.4" stroke="#231f20" stroke-width="1.5"/>
<line x1="937" y1="789.4" x2="937" y2="810.8" stroke="#231f20" stroke-width="1.5"/>
<line x1="931.5" y1="789.4" x2="942.5" y2="789.4" stroke="#231f20" stroke-width="1.5"/>
<line x1="931.5" y1="810.8" x2="942.5" y2="810.8" stroke="#231f20" stroke-width="1.5"/>
<line x1="927" y1="800" x2="947" y2="800" stroke="#231f20" stroke-width="1.5"/>
<circle cx="902" cy="891.7" r="5.2" fill="#e8313a"/>
<circle cx="895.2" cy="907" r="5.2" fill="#e8313a"/>
<circle cx="908" cy="905.4" r="5.2" fill="#e8313a"/>
<circle cx="931" cy="793" r="5.2" fill="#f0923b"/>
<circle cx="943.8" cy="794.6" r="5.2" fill="#f0923b"/>
<circle cx="937" cy="811.7" r="5.2" fill="#f0923b"/>
<text transform="translate(904 1061) rotate(-45) scale(1.015 1)" font-size="19" text-anchor="end" fill="#231f20"><tspan font-style="italic">Nanog</tspan>-let-7</text>
<text transform="translate(904 1061) rotate(-45) scale(1.060 1)" font-size="10.5" fill="#231f20"><tspan dy="-8">WT</tspan></text>
<text transform="translate(937 1063) rotate(-45) scale(1.015 1)" font-size="19" text-anchor="end" fill="#231f20"><tspan font-style="italic">Nanog</tspan>-let-7</text>
<text transform="translate(937 1063) rotate(-45) scale(1.060 1)" font-size="10.5" fill="#231f20"><tspan dy="-8">Mut</tspan></text>
<line x1="813.4" y1="1148.9" x2="910.2" y2="1148.9" stroke="#231f20" stroke-width="1.3"/>
<text transform="translate(867.3 1178.8) scale(1.080 1)" font-size="22" text-anchor="middle" fill="#231f20"><tspan font-style="italic">Nanog</tspan>-KO</text>
<text transform="translate(864.4 1204.8) scale(1.080 1)" font-size="22" text-anchor="middle" fill="#231f20">cells</text>
<text transform="translate(991.5 642.8)" font-size="39" font-weight="bold" fill="#231f20" stroke="#231f20" stroke-width="1.2">i</text>
<text transform="translate(1109.7 705.4) scale(1.090 1)" font-size="21.5" text-anchor="middle" fill="#231f20">Clonal</text>
<text transform="translate(1109.7 732.9) scale(1.090 1)" font-size="21.5" text-anchor="middle" fill="#231f20">assay</text>
<text transform="translate(1010.5 891.7) rotate(-90) scale(1.100 1)" font-size="21.5" text-anchor="middle" fill="#231f20">Average colony area</text>
<line x1="1072.4" y1="757.9" x2="1072.4" y2="1024.9" stroke="#231f20" stroke-width="1.5"/>
<line x1="1061.7" y1="1024.9" x2="1147.2" y2="1024.9" stroke="#231f20" stroke-width="1.5"/>
<line x1="1062.4" y1="757.9" x2="1072.4" y2="757.9" stroke="#231f20" stroke-width="1.5"/>
<text transform="translate(1053.5 764.4) scale(1.050 1)" font-size="18.5" text-anchor="end" fill="#231f20">40</text>
<line x1="1062.4" y1="824.8" x2="1072.4" y2="824.8" stroke="#231f20" stroke-width="1.5"/>
<text transform="translate(1053.5 831.3) scale(1.050 1)" font-size="18.5" text-anchor="end" fill="#231f20">30</text>
<line x1="1062.4" y1="891.7" x2="1072.4" y2="891.7" stroke="#231f20" stroke-width="1.5"/>
<text transform="translate(1053.5 898.2) scale(1.050 1)" font-size="18.5" text-anchor="end" fill="#231f20">20</text>
<line x1="1062.4" y1="958.3" x2="1072.4" y2="958.3" stroke="#231f20" stroke-width="1.5"/>
<text transform="translate(1053.5 964.8) scale(1.050 1)" font-size="18.5" text-anchor="end" fill="#231f20">10</text>
<line x1="1062.4" y1="1024.9" x2="1072.4" y2="1024.9" stroke="#231f20" stroke-width="1.5"/>
<text transform="translate(1053.5 1031.4) scale(1.050 1)" font-size="18.5" text-anchor="end" fill="#231f20">0</text>
<line x1="1092.6" y1="1024.9" x2="1092.6" y2="1035.9" stroke="#231f20" stroke-width="1.5"/>
<line x1="1128.3" y1="1024.9" x2="1128.3" y2="1035.9" stroke="#231f20" stroke-width="1.5"/>
<text transform="translate(1110.8 768.9)" font-size="34" text-anchor="middle" fill="#231f20" letter-spacing="1">*</text>
<line x1="1093.8" y1="772" x2="1128.6" y2="772" stroke="#231f20" stroke-width="1.5"/>
<line x1="1092.6" y1="878" x2="1092.6" y2="896.9" stroke="#231f20" stroke-width="1.5"/>
<line x1="1087.1" y1="878" x2="1098.1" y2="878" stroke="#231f20" stroke-width="1.5"/>
<line x1="1087.1" y1="896.9" x2="1098.1" y2="896.9" stroke="#231f20" stroke-width="1.5"/>
<line x1="1079.6" y1="887.1" x2="1105.6" y2="887.1" stroke="#231f20" stroke-width="1.5"/>
<line x1="1128.3" y1="793" x2="1128.3" y2="845.9" stroke="#231f20" stroke-width="1.5"/>
<line x1="1122.3" y1="793" x2="1134.3" y2="793" stroke="#231f20" stroke-width="1.5"/>
<line x1="1122.3" y1="845.9" x2="1134.3" y2="845.9" stroke="#231f20" stroke-width="1.5"/>
<line x1="1115.3" y1="819.3" x2="1141.3" y2="819.3" stroke="#231f20" stroke-width="1.5"/>
<circle cx="1092.9" cy="881" r="5.2" fill="#e8313a"/>
<circle cx="1101.4" cy="883.1" r="5.2" fill="#e8313a"/>
<circle cx="1084.3" cy="898.4" r="5.2" fill="#e8313a"/>
<circle cx="1128.3" cy="791.5" r="5.5" fill="#f0923b"/>
<circle cx="1128.3" cy="825.4" r="5.5" fill="#f0923b"/>
<circle cx="1128.3" cy="842.2" r="5.5" fill="#f0923b"/>
<text transform="translate(1094.5 1061) rotate(-45) scale(1.015 1)" font-size="19" text-anchor="end" fill="#231f20"><tspan font-style="italic">Nanog</tspan>-let-7</text>
<text transform="translate(1094.5 1061) rotate(-45) scale(1.060 1)" font-size="10.5" fill="#231f20"><tspan dy="-8">WT</tspan></text>
<text transform="translate(1128 1063) rotate(-45) scale(1.015 1)" font-size="19" text-anchor="end" fill="#231f20"><tspan font-style="italic">Nanog</tspan>-let-7</text>
<text transform="translate(1128 1063) rotate(-45) scale(1.060 1)" font-size="10.5" fill="#231f20"><tspan dy="-8">Mut</tspan></text>
<line x1="1003.7" y1="1150.4" x2="1101.1" y2="1150.4" stroke="#231f20" stroke-width="1.3"/>
<text transform="translate(1065.4 1178.2) scale(1.080 1)" font-size="22" text-anchor="middle" fill="#231f20"><tspan font-style="italic">Nanog</tspan>-KO</text>
<text transform="translate(1061.7 1204.8) scale(1.080 1)" font-size="22" text-anchor="middle" fill="#231f20">cells</text>
<text transform="translate(1168.5 642.8)" font-size="39" font-weight="bold" fill="#231f20" stroke="#231f20" stroke-width="1.2">j</text>
<text transform="translate(1286 642.8) scale(1.100 1)" font-size="21.5" text-anchor="middle" fill="#231f20">8C-related genes</text>
<text transform="translate(1286 671.2) scale(1.100 1)" font-size="21.5" text-anchor="middle" fill="#231f20">Cytoplasm P-body</text>
<g shape-rendering="crispEdges">
<rect x="1203.2" y="680.2" width="83.1" height="14" fill="#0f75bc"/>
<rect x="1286.3" y="680.2" width="83.1" height="14" fill="#c41e3a"/>
<rect x="1203.2" y="694.7" width="42.1" height="20.1" fill="#f6f8f5"/>
<rect x="1244.8" y="694.7" width="42.1" height="20.1" fill="#edf2ec"/>
<rect x="1286.3" y="694.7" width="42.1" height="20.1" fill="#47783f"/>
<rect x="1327.9" y="694.7" width="42.1" height="20.1" fill="#598652"/>
<rect x="1203.2" y="714.3" width="42.1" height="20.1" fill="#ffffff"/>
<rect x="1244.8" y="714.3" width="42.1" height="20.1" fill="#e3ebe2"/>
<rect x="1286.3" y="714.3" width="42.1" height="20.1" fill="#638c5c"/>
<rect x="1327.9" y="714.3" width="42.1" height="20.1" fill="#47783f"/>
<rect x="1203.2" y="734" width="42.1" height="20.1" fill="#f6f8f5"/>
<rect x="1244.8" y="734" width="42.1" height="20.1" fill="#edf2ec"/>
<rect x="1286.3" y="734" width="42.1" height="20.1" fill="#507f49"/>
<rect x="1327.9" y="734" width="42.1" height="20.1" fill="#507f49"/>
<rect x="1203.2" y="753.6" width="42.1" height="20.1" fill="#f2f6f2"/>
<rect x="1244.8" y="753.6" width="42.1" height="20.1" fill="#edf2ec"/>
<rect x="1286.3" y="753.6" width="42.1" height="20.1" fill="#47783f"/>
<rect x="1327.9" y="753.6" width="42.1" height="20.1" fill="#689062"/>
<rect x="1203.2" y="773.3" width="42.1" height="20.1" fill="#edf2ec"/>
<rect x="1244.8" y="773.3" width="42.1" height="20.1" fill="#f8faf7"/>
<rect x="1286.3" y="773.3" width="42.1" height="20.1" fill="#56834e"/>
<rect x="1327.9" y="773.3" width="42.1" height="20.1" fill="#507f49"/>
<rect x="1203.2" y="792.9" width="42.1" height="20.1" fill="#f2f6f2"/>
<rect x="1244.8" y="792.9" width="42.1" height="20.1" fill="#edf2ec"/>
<rect x="1286.3" y="792.9" width="42.1" height="20.1" fill="#47783f"/>
<rect x="1327.9" y="792.9" width="42.1" height="20.1" fill="#6c9365"/>
<rect x="1203.2" y="812.6" width="42.1" height="20.1" fill="#ffffff"/>
<rect x="1244.8" y="812.6" width="42.1" height="20.1" fill="#e3ebe2"/>
<rect x="1286.3" y="812.6" width="42.1" height="20.1" fill="#56834e"/>
<rect x="1327.9" y="812.6" width="42.1" height="20.1" fill="#54814c"/>
<rect x="1203.2" y="832.2" width="42.1" height="20.1" fill="#ffffff"/>
<rect x="1244.8" y="832.2" width="42.1" height="20.1" fill="#e3ebe2"/>
<rect x="1286.3" y="832.2" width="42.1" height="20.1" fill="#507f49"/>
<rect x="1327.9" y="832.2" width="42.1" height="20.1" fill="#54814c"/>
<rect x="1203.2" y="851.8" width="42.1" height="20.1" fill="#edf2ec"/>
<rect x="1244.8" y="851.8" width="42.1" height="20.1" fill="#f0f4f0"/>
<rect x="1286.3" y="851.8" width="42.1" height="20.1" fill="#7b9e75"/>
<rect x="1327.9" y="851.8" width="42.1" height="20.1" fill="#47783f"/>
<rect x="1203.2" y="871.5" width="42.1" height="20.1" fill="#e3ebe2"/>
<rect x="1244.8" y="871.5" width="42.1" height="20.1" fill="#fdfefd"/>
<rect x="1286.3" y="871.5" width="42.1" height="20.1" fill="#4d7c45"/>
<rect x="1327.9" y="871.5" width="42.1" height="20.1" fill="#598652"/>
<rect x="1203.2" y="891.1" width="42.1" height="20.1" fill="#689062"/>
<rect x="1244.8" y="891.1" width="42.1" height="20.1" fill="#47783f"/>
<rect x="1286.3" y="891.1" width="42.1" height="20.1" fill="#d7e1d5"/>
<rect x="1327.9" y="891.1" width="42.1" height="20.1" fill="#ffffff"/>
<rect x="1203.2" y="910.8" width="42.1" height="20.1" fill="#f2f6f2"/>
<rect x="1244.8" y="910.8" width="42.1" height="20.1" fill="#f0f4f0"/>
<rect x="1286.3" y="910.8" width="42.1" height="20.1" fill="#47783f"/>
<rect x="1327.9" y="910.8" width="42.1" height="20.1" fill="#598652"/>
<rect x="1203.2" y="930.4" width="42.1" height="20.1" fill="#fdfefd"/>
<rect x="1244.8" y="930.4" width="42.1" height="20.1" fill="#e3ebe2"/>
<rect x="1286.3" y="930.4" width="42.1" height="20.1" fill="#47783f"/>
<rect x="1327.9" y="930.4" width="42.1" height="20.1" fill="#5d8856"/>
<rect x="1203.2" y="950.1" width="42.1" height="20.1" fill="#f2f6f2"/>
<rect x="1244.8" y="950.1" width="42.1" height="20.1" fill="#f0f4f0"/>
<rect x="1286.3" y="950.1" width="42.1" height="20.1" fill="#4d7c45"/>
<rect x="1327.9" y="950.1" width="42.1" height="20.1" fill="#54814c"/>
<rect x="1203.2" y="969.7" width="42.1" height="20.1" fill="#f2f6f2"/>
<rect x="1244.8" y="969.7" width="42.1" height="20.1" fill="#f0f4f0"/>
<rect x="1286.3" y="969.7" width="42.1" height="20.1" fill="#54814c"/>
<rect x="1327.9" y="969.7" width="42.1" height="20.1" fill="#4d7c45"/>
<rect x="1203.2" y="989.3" width="42.1" height="20.1" fill="#f0f4f0"/>
<rect x="1244.8" y="989.3" width="42.1" height="20.1" fill="#f4f7f3"/>
<rect x="1286.3" y="989.3" width="42.1" height="20.1" fill="#47783f"/>
<rect x="1327.9" y="989.3" width="42.1" height="20.1" fill="#598652"/>
<rect x="1203.2" y="1009" width="42.1" height="20.1" fill="#ffffff"/>
<rect x="1244.8" y="1009" width="42.1" height="20.1" fill="#e3ebe2"/>
<rect x="1286.3" y="1009" width="42.1" height="20.1" fill="#56834e"/>
<rect x="1327.9" y="1009" width="42.1" height="20.1" fill="#54814c"/>
<rect x="1203.2" y="1028.6" width="42.1" height="20.1" fill="#f4f7f3"/>
<rect x="1244.8" y="1028.6" width="42.1" height="20.1" fill="#f0f4f0"/>
<rect x="1286.3" y="1028.6" width="42.1" height="20.1" fill="#47783f"/>
<rect x="1327.9" y="1028.6" width="42.1" height="20.1" fill="#689062"/>
<rect x="1203.2" y="1048.3" width="42.1" height="20.1" fill="#eef3ee"/>
<rect x="1244.8" y="1048.3" width="42.1" height="20.1" fill="#f2f6f2"/>
<rect x="1286.3" y="1048.3" width="42.1" height="20.1" fill="#47783f"/>
<rect x="1327.9" y="1048.3" width="42.1" height="20.1" fill="#759a6f"/>
<rect x="1203.2" y="1067.9" width="42.1" height="20.1" fill="#b5c9b2"/>
<rect x="1244.8" y="1067.9" width="42.1" height="20.1" fill="#a7bea3"/>
<rect x="1286.3" y="1067.9" width="42.1" height="20.1" fill="#47783f"/>
<rect x="1327.9" y="1067.9" width="42.1" height="20.1" fill="#ffffff"/>
<rect x="1203.2" y="1087.6" width="42.1" height="20.1" fill="#f4f7f3"/>
<rect x="1244.8" y="1087.6" width="42.1" height="20.1" fill="#f0f4f0"/>
<rect x="1286.3" y="1087.6" width="42.1" height="20.1" fill="#47783f"/>
<rect x="1327.9" y="1087.6" width="42.1" height="20.1" fill="#598652"/>
</g>
<path d="M1203.2 714.3H1369.4M1203.2 734H1369.4M1203.2 753.6H1369.4M1203.2 773.3H1369.4M1203.2 792.9H1369.4M1203.2 812.6H1369.4M1203.2 832.2H1369.4M1203.2 851.8H1369.4M1203.2 871.5H1369.4M1203.2 891.1H1369.4M1203.2 910.8H1369.4M1203.2 930.4H1369.4M1203.2 950.1H1369.4M1203.2 969.7H1369.4M1203.2 989.3H1369.4M1203.2 1009H1369.4M1203.2 1028.6H1369.4M1203.2 1048.3H1369.4M1203.2 1067.9H1369.4M1203.2 1087.6H1369.4M1244.8 694.7V1107.2M1286.3 694.7V1107.2M1327.9 694.7V1107.2" stroke="#8a8a8a" stroke-width="1" fill="none"/>
<rect x="1203.2" y="680.2" width="166.2" height="427" fill="none" stroke="#231f20" stroke-width="1.3"/>
<line x1="1203.2" y1="694.7" x2="1369.4" y2="694.7" stroke="#231f20" stroke-width="1.3"/>
<line x1="1286.3" y1="680.2" x2="1286.3" y2="694.7" stroke="#231f20" stroke-width="1.3"/>
<text transform="translate(1382.4 711.3) scale(0.980 1)" font-size="20.5" font-style="italic" fill="#231f20" letter-spacing="0.5">MBD3L3</text>
<text transform="translate(1382.4 730.9) scale(0.980 1)" font-size="20.5" font-style="italic" fill="#231f20" letter-spacing="0.5">KDM4E</text>
<text transform="translate(1382.4 750.6) scale(0.980 1)" font-size="20.5" font-style="italic" fill="#231f20" letter-spacing="0.5">RFPL4B</text>
<text transform="translate(1382.4 770.2) scale(0.980 1)" font-size="20.5" font-style="italic" fill="#231f20" letter-spacing="0.5">TRIM49B</text>
<text transform="translate(1382.4 789.9) scale(0.980 1)" font-size="20.5" font-style="italic" fill="#231f20" letter-spacing="0.5">RFPL4A</text>
<text transform="translate(1382.4 809.5) scale(0.980 1)" font-size="20.5" font-style="italic" fill="#231f20" letter-spacing="0.5">RFPL2</text>
<text transform="translate(1382.4 829.2) scale(0.980 1)" font-size="20.5" font-style="italic" fill="#231f20" letter-spacing="0.5">PRAMEF12</text>
<text transform="translate(1382.4 848.8) scale(0.980 1)" font-size="20.5" font-style="italic" fill="#231f20" letter-spacing="0.5">LEUTX</text>
<text transform="translate(1382.4 868.4) scale(0.980 1)" font-size="20.5" font-style="italic" fill="#231f20" letter-spacing="0.5">SLC34A2</text>
<text transform="translate(1382.4 888.1) scale(0.980 1)" font-size="20.5" font-style="italic" fill="#231f20" letter-spacing="0.5">TRIM49</text>
<text transform="translate(1382.4 907.7) scale(0.980 1)" font-size="20.5" font-style="italic" fill="#231f20" letter-spacing="0.5">ZNF296</text>
<text transform="translate(1382.4 927.4) scale(0.980 1)" font-size="20.5" font-style="italic" fill="#231f20" letter-spacing="0.5">TRIM43B</text>
<text transform="translate(1382.4 947) scale(0.980 1)" font-size="20.5" font-style="italic" fill="#231f20" letter-spacing="0.5">TRIM43</text>
<text transform="translate(1382.4 966.7) scale(0.980 1)" font-size="20.5" font-style="italic" fill="#231f20" letter-spacing="0.5">ZSCAN4</text>
<text transform="translate(1382.4 986.3) scale(0.980 1)" font-size="20.5" font-style="italic" fill="#231f20" letter-spacing="0.5">PRAMEF1</text>
<text transform="translate(1382.4 1005.9) scale(0.980 1)" font-size="20.5" font-style="italic" fill="#231f20" letter-spacing="0.5">PRAMEF2</text>
<text transform="translate(1382.4 1025.6) scale(0.980 1)" font-size="20.5" font-style="italic" fill="#231f20" letter-spacing="0.5">MBD3L2</text>
<text transform="translate(1382.4 1045.2) scale(0.980 1)" font-size="20.5" font-style="italic" fill="#231f20" letter-spacing="0.5">DUXA</text>
<text transform="translate(1382.4 1064.9) scale(0.980 1)" font-size="20.5" font-style="italic" fill="#231f20" letter-spacing="0.5">PRAMEF11</text>
<text transform="translate(1382.4 1084.5) scale(0.980 1)" font-size="20.5" font-style="italic" fill="#231f20" letter-spacing="0.5">KHDC1L</text>
<text transform="translate(1382.4 1104.2) scale(0.980 1)" font-size="20.5" font-style="italic" fill="#231f20" letter-spacing="0.5">CCNA1</text>
<text transform="translate(1286.2 1138.2) scale(1.100 1)" font-size="21.5" text-anchor="middle" fill="#231f20">Naive ES cells</text>
<rect x="1205.3" y="1156.8" width="73.3" height="11.9" fill="url(#cbj)" stroke="#231f20" stroke-width="1"/>
<text transform="translate(1211 1194.1) scale(1.090 1)" font-size="20" text-anchor="middle" fill="#231f20">–1</text>
<text transform="translate(1242.5 1194.1) scale(1.090 1)" font-size="20" text-anchor="middle" fill="#231f20">0</text>
<text transform="translate(1273.7 1194.1) scale(1.090 1)" font-size="20" text-anchor="middle" fill="#231f20">1</text>
<text transform="translate(1204.3 1220) scale(1.080 1)" font-size="22" fill="#231f20"><tspan font-style="italic">z</tspan> score</text>
<text transform="translate(1515.5 643.4)" font-size="39" font-weight="bold" fill="#231f20" stroke="#231f20" stroke-width="1.2">k</text>
<circle cx="1695.2" cy="652.1" r="37" fill="url(#cyko)" stroke="#5a5a5a" stroke-width="1"/>
<circle cx="1693.7" cy="647.2" r="22.6" fill="url(#cyki)" stroke="#595959" stroke-width="1.2"/>
<text transform="translate(1695.2 720.8) scale(1.100 1)" font-size="21.5" text-anchor="middle" fill="#231f20">Naive ES</text>
<text transform="translate(1695.2 747.2) scale(1.100 1)" font-size="21.5" text-anchor="middle" fill="#231f20">cells</text>
<text transform="translate(1855.7 631.3) scale(1.100 1)" font-size="21.5" text-anchor="middle" fill="#e8253a">P-body</text>
<text transform="translate(1855.7 658.5) scale(1.100 1)" font-size="21.5" text-anchor="middle" fill="#e8253a">dissolution</text>
<line x1="1812.2" y1="678.2" x2="1894.2" y2="678.2" stroke="#34496b" stroke-width="3.2"/>
<path d="M1900.2 678.2 L1884.2 672 L1888.7 678.2 L1884.2 684.4 Z" fill="#34496b"/>
<circle cx="2017.3" cy="652.9" r="37.5" fill="url(#crko)" stroke="#e9665c" stroke-width="1"/>
<circle cx="2016.8" cy="652.9" r="23.4" fill="url(#crki)" stroke="#e05a52" stroke-width="1.2"/>
<text transform="translate(2017.3 720.8) scale(1.100 1)" font-size="21.5" text-anchor="middle" fill="#231f20">Blastomeres</text>
<text transform="translate(2017.3 747.2)" font-size="21.5" text-anchor="middle" fill="#231f20">TPRX1<tspan dy="-9.2" font-size="12">+</tspan></text>
<text transform="translate(1719 820.9) scale(1.100 1)" font-size="21.5" text-anchor="middle" fill="#231f20">Control KD</text>
<text transform="translate(2028.6 821.2) scale(1.055 1)" font-size="21.5" text-anchor="middle" fill="#231f20"><tspan font-style="italic">DDX6</tspan> KD, day 4</text>
<rect x="1590.8" y="836.7" width="255.5" height="254.7" fill="#fff" stroke="#231f20" stroke-width="1.5"/>
<path d="M1590.8 860.2h-7M1590.8 921.4h-7M1590.8 990.8h-7M1590.8 1033.7h-7M1590.8 1075.5h-7M1590.8 903h-4M1590.8 892.2h-4M1590.8 884.6h-4M1590.8 878.6h-4M1590.8 873.8h-4M1590.8 869.7h-4M1590.8 866.1h-4M1590.8 863h-4M1590.8 969.9h-4M1590.8 957.7h-4M1590.8 949h-4M1590.8 942.3h-4M1590.8 936.8h-4M1590.8 932.2h-4M1590.8 928.1h-4M1590.8 924.6h-4M1590.8 841.8h-4M1590.8 995.1h-4M1590.8 1037.9h-4M1590.8 999.4h-4M1590.8 1042.1h-4M1590.8 1003.7h-4M1590.8 1046.2h-4M1590.8 1008h-4M1590.8 1050.4h-4M1590.8 1012.2h-4M1590.8 1054.6h-4M1590.8 1016.5h-4M1590.8 1058.8h-4M1590.8 1020.8h-4M1590.8 1063h-4M1590.8 1025.1h-4M1590.8 1067.1h-4M1590.8 1029.4h-4M1590.8 1071.3h-4M1590.8 1080.5h-4M1590.8 1085.5h-4M1591.8 1091.4v7M1639.8 1091.4v7M1687.8 1091.4v7M1736.3 1091.4v7M1785.1 1091.4v7M1833.3 1091.4v7M1601.4 1091.4v4M1611 1091.4v4M1620.6 1091.4v4M1630.2 1091.4v4M1649.4 1091.4v4M1659 1091.4v4M1668.6 1091.4v4M1678.2 1091.4v4M1697.4 1091.4v4M1707 1091.4v4M1716.6 1091.4v4M1726.2 1091.4v4M1745.4 1091.4v4M1755 1091.4v4M1764.6 1091.4v4M1774.2 1091.4v4M1793.4 1091.4v4M1803 1091.4v4M1812.6 1091.4v4M1822.2 1091.4v4M1841.4 1091.4v4" stroke="#231f20" stroke-width="1.2" fill="none"/>
<rect x="1584.8" y="1029.7" width="6" height="8" fill="#231f20"/>
<text transform="translate(1574.8 865.7) scale(0.950 1)" font-size="18" text-anchor="end" fill="#231f20">10<tspan dy="-7.6" font-size="11.2">5</tspan></text>
<text transform="translate(1574.8 926.9) scale(0.950 1)" font-size="18" text-anchor="end" fill="#231f20">10<tspan dy="-7.6" font-size="11.2">4</tspan></text>
<text transform="translate(1574.8 996.3) scale(0.950 1)" font-size="18" text-anchor="end" fill="#231f20">10<tspan dy="-7.6" font-size="11.2">3</tspan></text>
<text transform="translate(1574.3 1039.7)" font-size="18" text-anchor="end" fill="#231f20">0</text>
<text transform="translate(1574.8 1081) scale(0.950 1)" font-size="18" text-anchor="end" fill="#231f20">–10<tspan dy="-7.6" font-size="11.2">3</tspan></text>
<text transform="translate(1592.8 1118.4) scale(1.040 1)" font-size="18.5" text-anchor="middle" fill="#231f20">0</text>
<text transform="translate(1640.8 1118.4) scale(1.040 1)" font-size="18.5" text-anchor="middle" fill="#231f20">50k</text>
<text transform="translate(1688.8 1118.4) scale(1.040 1)" font-size="18.5" text-anchor="middle" fill="#231f20">100k</text>
<text transform="translate(1737.3 1118.4) scale(1.040 1)" font-size="18.5" text-anchor="middle" fill="#231f20">150k</text>
<text transform="translate(1786.1 1118.4) scale(1.040 1)" font-size="18.5" text-anchor="middle" fill="#231f20">200k</text>
<text transform="translate(1830.3 1118.4)" font-size="18.5" text-anchor="middle" fill="#231f20">250k</text>
<text transform="translate(1721.4 861.2) scale(1.050 1)" font-size="18.5" fill="#231f20">0.72%</text>
<path d="M1641.7 877.7h2.6v2.6h-2.6zM1622.7 913.7h2.6v2.6h-2.6zM1632.7 912.7h2.6v2.6h-2.6zM1642.7 914.7h2.6v2.6h-2.6zM1661.7 919.7h2.6v2.6h-2.6zM1612.7 925.7h2.6v2.6h-2.6zM1619.7 927.7h2.6v2.6h-2.6zM1621.7 932.7h2.6v2.6h-2.6zM1645.7 931.7h2.6v2.6h-2.6zM1653.7 931.7h2.6v2.6h-2.6zM1616.7 938.7h2.6v2.6h-2.6zM1619.7 943.7h2.6v2.6h-2.6zM1653.7 944.7h2.6v2.6h-2.6zM1632.7 947.7h2.6v2.6h-2.6zM1618.7 951.7h2.6v2.6h-2.6zM1653.7 953.7h2.6v2.6h-2.6zM1621.7 955.7h2.6v2.6h-2.6zM1636.7 955.7h2.6v2.6h-2.6zM1625.7 956.7h2.6v2.6h-2.6zM1641.7 959.7h2.6v2.6h-2.6zM1619.7 959.7h2.6v2.6h-2.6zM1635.7 962.7h2.6v2.6h-2.6zM1621.7 964.7h2.6v2.6h-2.6zM1628.7 964.7h2.6v2.6h-2.6zM1678.7 964.7h2.6v2.6h-2.6zM1672.7 966.7h2.6v2.6h-2.6zM1616.7 967.7h2.6v2.6h-2.6zM1644.7 965.7h2.6v2.6h-2.6zM1650.7 967.7h2.6v2.6h-2.6zM1658.7 967.7h2.6v2.6h-2.6zM1662.7 970.7h2.6v2.6h-2.6zM1673.7 973.7h2.6v2.6h-2.6zM1617.7 975.7h2.6v2.6h-2.6zM1622.7 974.7h2.6v2.6h-2.6zM1687.7 980.7h2.6v2.6h-2.6zM1691.7 983.7h2.6v2.6h-2.6zM1676.7 981.7h2.6v2.6h-2.6zM1611.7 985.7h2.6v2.6h-2.6zM1687.7 986.7h2.6v2.6h-2.6zM1678.7 990.7h2.6v2.6h-2.6zM1683.7 996.7h2.6v2.6h-2.6zM1679.7 1001.7h2.6v2.6h-2.6zM1675.7 1003.7h2.6v2.6h-2.6zM1676.7 1011.7h2.6v2.6h-2.6zM1659.7 1017.7h2.6v2.6h-2.6zM1655.7 1018.7h2.6v2.6h-2.6z" fill="#3a57a8"/>
<g transform="rotate(-27 1638 1004)">
<ellipse cx="1641" cy="1002" rx="42" ry="26.5" fill="#e4e4ed" filter="url(#kb1)"/>
<ellipse cx="1637" cy="1005" rx="32" ry="17" fill="#b9bedd" filter="url(#kb)"/>
<ellipse cx="1630" cy="1007" rx="19" ry="8.5" fill="#3a55a8" filter="url(#kb)"/>
<ellipse cx="1628" cy="1007.5" rx="12" ry="5" fill="#3350a6" filter="url(#kb2)"/>
</g>
<rect x="1597.6" y="843.3" width="110.2" height="125.1" fill="none" stroke="#231f20" stroke-width="1.3"/>
<rect x="1901.3" y="834.3" width="255.7" height="255.1" fill="#fff" stroke="#231f20" stroke-width="1.5"/>
<path d="M1901.3 858.6h-7M1901.3 919.4h-7M1901.3 988.8h-7M1901.3 1032.2h-7M1901.3 1072.9h-7M1901.3 901.1h-4M1901.3 890.4h-4M1901.3 882.8h-4M1901.3 876.9h-4M1901.3 872.1h-4M1901.3 868h-4M1901.3 864.5h-4M1901.3 861.4h-4M1901.3 967.9h-4M1901.3 955.7h-4M1901.3 947h-4M1901.3 940.3h-4M1901.3 934.8h-4M1901.3 930.2h-4M1901.3 926.1h-4M1901.3 922.6h-4M1901.3 840.3h-4M1901.3 993.1h-4M1901.3 1036.3h-4M1901.3 997.5h-4M1901.3 1040.3h-4M1901.3 1001.8h-4M1901.3 1044.4h-4M1901.3 1006.2h-4M1901.3 1048.5h-4M1901.3 1010.5h-4M1901.3 1052.6h-4M1901.3 1014.8h-4M1901.3 1056.6h-4M1901.3 1019.2h-4M1901.3 1060.7h-4M1901.3 1023.5h-4M1901.3 1064.8h-4M1901.3 1027.9h-4M1901.3 1068.8h-4M1901.3 1077.8h-4M1901.3 1082.7h-4M1902.3 1089.4v7M1949.9 1089.4v7M1997.8 1089.4v7M2046.8 1089.4v7M2095.2 1089.4v7M2143.3 1089.4v7M1911.8 1089.4v4M1921.3 1089.4v4M1930.9 1089.4v4M1940.4 1089.4v4M1959.4 1089.4v4M1968.9 1089.4v4M1978.5 1089.4v4M1988 1089.4v4M2007 1089.4v4M2016.5 1089.4v4M2026.1 1089.4v4M2035.6 1089.4v4M2054.6 1089.4v4M2064.1 1089.4v4M2073.7 1089.4v4M2083.2 1089.4v4M2102.2 1089.4v4M2111.7 1089.4v4M2121.3 1089.4v4M2130.8 1089.4v4M2149.8 1089.4v4" stroke="#231f20" stroke-width="1.2" fill="none"/>
<rect x="1895.3" y="1028.2" width="6" height="8" fill="#231f20"/>
<text transform="translate(1885.3 864.1) scale(0.950 1)" font-size="18" text-anchor="end" fill="#231f20">10<tspan dy="-7.6" font-size="11.2">5</tspan></text>
<text transform="translate(1885.3 924.9) scale(0.950 1)" font-size="18" text-anchor="end" fill="#231f20">10<tspan dy="-7.6" font-size="11.2">4</tspan></text>
<text transform="translate(1885.3 994.3) scale(0.950 1)" font-size="18" text-anchor="end" fill="#231f20">10<tspan dy="-7.6" font-size="11.2">3</tspan></text>
<text transform="translate(1884.8 1038.2)" font-size="18" text-anchor="end" fill="#231f20">0</text>
<text transform="translate(1885.3 1078.4) scale(0.950 1)" font-size="18" text-anchor="end" fill="#231f20">–10<tspan dy="-7.6" font-size="11.2">3</tspan></text>
<text transform="translate(1903.3 1118.4) scale(1.040 1)" font-size="18.5" text-anchor="middle" fill="#231f20">0</text>
<text transform="translate(1950.9 1118.4) scale(1.040 1)" font-size="18.5" text-anchor="middle" fill="#231f20">50k</text>
<text transform="translate(1998.8 1118.4) scale(1.040 1)" font-size="18.5" text-anchor="middle" fill="#231f20">100k</text>
<text transform="translate(2047.8 1118.4) scale(1.040 1)" font-size="18.5" text-anchor="middle" fill="#231f20">150k</text>
<text transform="translate(2096.2 1118.4) scale(1.040 1)" font-size="18.5" text-anchor="middle" fill="#231f20">200k</text>
<text transform="translate(2140.3 1118.4)" font-size="18.5" text-anchor="middle" fill="#231f20">250k</text>
<text transform="translate(2029.5 860.2) scale(1.050 1)" font-size="18.5" fill="#231f20">9.3%</text>
<path d="M1947.1 867.1h2.8v2.8h-2.8zM1958.1 867.6h2.8v2.8h-2.8zM1933.1 872.1h2.8v2.8h-2.8zM1966.1 884.1h2.8v2.8h-2.8zM1968.6 889.1h2.8v2.8h-2.8zM1980.6 888.1h2.8v2.8h-2.8zM1929.1 901.1h2.8v2.8h-2.8zM1921.1 903.1h2.8v2.8h-2.8zM1974.6 906.1h2.8v2.8h-2.8zM1945.1 922.1h2.8v2.8h-2.8zM1984.1 929.1h2.8v2.8h-2.8zM1953.6 931.6h2.8v2.8h-2.8zM1928.1 938.1h2.8v2.8h-2.8zM2014.1 966.6h2.8v2.8h-2.8z" fill="#e8253a"/>
<g filter="url(#kb2)" fill="#e9e4e4">
<ellipse cx="1950" cy="905" rx="11" ry="10" fill="#e9e4e4"/>
<ellipse cx="1964" cy="910" rx="9" ry="9" fill="#e9e4e4"/>
<ellipse cx="1958" cy="922" rx="10" ry="9" fill="#e9e4e4"/>
<ellipse cx="1968" cy="932" rx="10" ry="11" fill="#e9e4e4"/>
<ellipse cx="1972" cy="948" rx="10" ry="12" fill="#e9e4e4"/>
<ellipse cx="1996" cy="944" rx="7" ry="8" fill="#e9e4e4"/>
<ellipse cx="1965" cy="962" rx="32" ry="18" fill="#e9e4e4"/>
</g>
<g transform="rotate(-25 1962 990)">
<ellipse cx="1962" cy="990" rx="54" ry="33" fill="#e9e3e3" filter="url(#kb1)"/>
<ellipse cx="1960" cy="992" rx="43" ry="21" fill="#f0aab0" filter="url(#kb)"/>
<ellipse cx="1955" cy="994" rx="26" ry="9" fill="#e8253a" filter="url(#kb)"/>
<ellipse cx="1950" cy="995" rx="15" ry="5.5" fill="#e8202e" filter="url(#kb2)"/>
</g>
<rect x="1908" y="841.4" width="110.2" height="124.5" fill="none" stroke="#231f20" stroke-width="1.3"/>
<line x1="1524.9" y1="966.9" x2="1524.9" y2="835.7" stroke="#34496b" stroke-width="2.2"/>
<path d="M1524.9 830.6 L1519.6 844.2 L1524.9 840.4 L1530.2 844.2 Z" fill="#34496b"/>
<text transform="translate(1531.5 1087) rotate(-90) scale(0.930 1)" font-size="21.5" fill="#0ea050"><tspan font-style="italic">TPRX1</tspan>-GFP</text>
<line x1="1592.2" y1="1138" x2="2151.4" y2="1138" stroke="#34496b" stroke-width="2.2"/>
<path d="M2156.5 1138 L2142.9 1132.7 L2146.7 1138 L2142.9 1143.3 Z" fill="#34496b"/>
<text transform="translate(1592.9 1164.3) scale(1.040 1)" font-size="21.5" fill="#231f20">SSC-H</text>
<text transform="translate(15 1431.1)" font-size="39" font-weight="bold" fill="#231f20" stroke="#231f20" stroke-width="1.2">l</text>
<text transform="translate(61 1625.7) rotate(-90) scale(1.060 1)" font-size="21.5" text-anchor="middle" fill="#231f20">Percent TPRX1<tspan dy="-9.2" font-size="12">+</tspan><tspan dy="9.2"> cells</tspan></text>
<line x1="115.2" y1="1500.2" x2="115.2" y2="1753.4" stroke="#231f20" stroke-width="1.5"/>
<line x1="105.3" y1="1753.4" x2="214.5" y2="1753.4" stroke="#231f20" stroke-width="1.5"/>
<line x1="105.2" y1="1500.2" x2="115.2" y2="1500.2" stroke="#231f20" stroke-width="1.5"/>
<text transform="translate(96.5 1506.7) scale(1.050 1)" font-size="18.5" text-anchor="end" fill="#231f20">12</text>
<line x1="105.2" y1="1584.5" x2="115.2" y2="1584.5" stroke="#231f20" stroke-width="1.5"/>
<text transform="translate(96.5 1591) scale(1.050 1)" font-size="18.5" text-anchor="end" fill="#231f20">8</text>
<line x1="105.2" y1="1668.8" x2="115.2" y2="1668.8" stroke="#231f20" stroke-width="1.5"/>
<text transform="translate(96.5 1675.3) scale(1.050 1)" font-size="18.5" text-anchor="end" fill="#231f20">4</text>
<line x1="105.2" y1="1753.4" x2="115.2" y2="1753.4" stroke="#231f20" stroke-width="1.5"/>
<text transform="translate(96.5 1759.9) scale(1.050 1)" font-size="18.5" text-anchor="end" fill="#231f20">0</text>
<line x1="142.7" y1="1753.4" x2="142.7" y2="1764.4" stroke="#231f20" stroke-width="1.5"/>
<line x1="185.8" y1="1753.4" x2="185.8" y2="1764.4" stroke="#231f20" stroke-width="1.5"/>
<text transform="translate(165.6 1500)" font-size="34" text-anchor="middle" fill="#231f20" letter-spacing="1">****</text>
<line x1="145.4" y1="1495.2" x2="184.6" y2="1495.2" stroke="#231f20" stroke-width="1.5"/>
<line x1="142.9" y1="1716" x2="142.9" y2="1739.2" stroke="#231f20" stroke-width="1.5"/>
<line x1="135.4" y1="1716" x2="150.4" y2="1716" stroke="#231f20" stroke-width="1.5"/>
<line x1="135.4" y1="1739.2" x2="150.4" y2="1739.2" stroke="#231f20" stroke-width="1.5"/>
<line x1="128.6" y1="1727.2" x2="157.2" y2="1727.2" stroke="#231f20" stroke-width="1.5"/>
<line x1="185.8" y1="1514.2" x2="185.8" y2="1549.1" stroke="#231f20" stroke-width="1.5"/>
<line x1="178.3" y1="1514.2" x2="193.3" y2="1514.2" stroke="#231f20" stroke-width="1.5"/>
<line x1="178.3" y1="1549.1" x2="193.3" y2="1549.1" stroke="#231f20" stroke-width="1.5"/>
<line x1="171.5" y1="1531.4" x2="200.1" y2="1531.4" stroke="#231f20" stroke-width="1.5"/>
<circle cx="142.9" cy="1711" r="5.3" fill="#2a5caa"/>
<circle cx="142.9" cy="1729.2" r="5.3" fill="#2a5caa"/>
<circle cx="134" cy="1736" r="5.3" fill="#2a5caa"/>
<circle cx="152.7" cy="1733.5" r="5.3" fill="#2a5caa"/>
<circle cx="194.8" cy="1516.7" r="5.3" fill="#e8253a"/>
<circle cx="176.6" cy="1525.2" r="5.3" fill="#e8253a"/>
<circle cx="194.8" cy="1527.7" r="5.3" fill="#e8253a"/>
<circle cx="185.8" cy="1557.4" r="5.3" fill="#e8253a"/>
<text transform="translate(154.5 1779.5) rotate(-45) scale(1.080 1)" font-size="22.5" text-anchor="end" fill="#231f20">Control KD</text>
<text transform="translate(198.5 1780.5) rotate(-45) scale(1.040 1)" font-size="22.5" text-anchor="end" fill="#231f20"><tspan font-style="italic">DDX6</tspan> KD</text>
<text transform="translate(287.5 1431.1)" font-size="39" font-weight="bold" fill="#231f20" stroke="#231f20" stroke-width="1.2">m</text>
<text transform="translate(547.1 1449.2) scale(1.050 1)" font-size="21.5" text-anchor="middle" fill="#231f20">CRISPRi hESCs</text>
<line x1="321.4" y1="1462.9" x2="772.5" y2="1462.9" stroke="#231f20" stroke-width="1.3"/>
<text transform="translate(419.2 1493) scale(1.100 1)" font-size="21.5" text-anchor="middle" fill="#231f20">sgControl</text>
<text transform="translate(692.2 1493) scale(1.050 1)" font-size="21.5" text-anchor="middle" fill="#231f20">sgDDX6</text>
<rect x="287.1" y="1505.1" width="264.8" height="265.4" fill="#02020c"/>
<g clip-path="url(#mc1)" stroke-linecap="round" fill="none">
<g filter="url(#mb)">
<path d="M481.7 1659.3h0M528.6 1705h0M341.2 1748.3h0M466.6 1693.1h0M508.7 1662.4h0M354.1 1651.6h0M436 1755.6h0M392.6 1768.8h0M449 1559.9h0M371.9 1746.9h0M380.5 1665.9h0M521.3 1639.4h0M343.2 1735.9h0M318.6 1605.9h0M502.9 1693.3h0M382.3 1738.4h0M379.6 1667.8h0M391.1 1762h0M290.9 1546.4h0M355.2 1766h0M349.4 1650.8h0M343.2 1671.3h0M299.8 1561.6h0M308.1 1551h0M451.3 1599.8h0" stroke="#15173f" stroke-width="4.2"/>
<path d="M431.2 1767.7h0M337.8 1738.7h0M545.8 1742.8h0M330.7 1767.4h0M287.8 1741.7h0M478.6 1732.5h0M341.3 1738.8h0M401 1760.6h0M551.8 1635.2h0M380 1614.1h0M514.5 1753.2h0M385.4 1759.4h0M349.2 1739.1h0M419.2 1606.1h0M350.6 1734.2h0M533.4 1740.3h0M418.2 1762.1h0M353.8 1653.1h0M355.2 1684.4h0M429.7 1603.1h0M504.3 1661.9h0M531.6 1648.7h0M397.3 1759.1h0M451.6 1607.2h0M311.6 1767.3h0M334.3 1639h0M371 1745h0M463.9 1752.4h0M476.2 1673.9h0M503.9 1750.4h0M417.3 1754.7h0M431.4 1769.1h0M508.1 1733.3h0M342.9 1733.5h0M507.1 1755.1h0M380.8 1739.5h0M436.3 1755.4h0M377.7 1667.4h0M469.1 1747.7h0M500.4 1677.5h0M419.3 1704.7h0M359.2 1749.6h0M338.8 1612.7h0M549.9 1623.3h0M349.1 1666.2h0M534.3 1725.6h0M485.1 1661.9h0M490 1688.9h0M367.1 1758.6h0M361.5 1766.8h0M461.6 1602.2h0M523.6 1622h0M351.3 1657.8h0M525.1 1724h0M541.4 1754.6h0M319.6 1763.2h0M543.1 1704.5h0M341.7 1640h0M551.2 1762.1h0M388.3 1663.2h0M478.6 1692.5h0M401.6 1731.8h0M417.6 1761.4h0M479.2 1740.4h0M451.4 1738.1h0M490.5 1674.7h0M355.6 1649.7h0M400.7 1737.8h0M387.3 1681.1h0M292.8 1563.5h0M377.7 1743.2h0M521.3 1637.9h0M475.4 1549.5h0" stroke="#15173f" stroke-width="5.2"/>
<path d="M343.6 1751.1h0M312.8 1737.4h0M453.2 1557.6h0M367.8 1662.6h0M478.7 1745.8h0M464 1546.4h0M319.8 1737h0M532.1 1738.6h0M412.6 1759.6h0M359.8 1688.4h0M452.4 1572.2h0M373.5 1613.2h0M548.7 1698.6h0M437 1550.5h0M364 1685.1h0M546.1 1646.5h0M431.8 1763.3h0M536.6 1695.8h0M429.8 1610.3h0M304.2 1750.5h0M369.3 1747h0M380 1759.5h0M550.3 1722.6h0M418.8 1605.1h0M391.7 1683.3h0M482.6 1760.3h0M301.1 1634.2h0M289.4 1760h0M301.1 1532.3h0M358.1 1745.7h0M327.7 1740.7h0" stroke="#15173f" stroke-width="6.2"/>
<path d="M487.8 1536.4h0M461.1 1688.6h0M304.9 1587.7h0M438.8 1671h0M373.5 1765.8h0M381.2 1669.6h0M343.6 1536.8h0M420.1 1678.4h0M289.6 1574h0M540.7 1675h0M513.1 1633.8h0M459.1 1617h0M406.2 1731.9h0M295.3 1692.8h0M534.3 1767.5h0M393.6 1692.3h0M339 1579.3h0M293.5 1598.3h0M364.1 1732.7h0M534.2 1528h0M469.4 1643h0M356.4 1529.6h0M361.1 1643.8h0M539.6 1598.7h0M414 1520.8h0M431 1594.5h0M366.8 1748.4h0M327.9 1644.6h0M406.8 1599.3h0M409.3 1646.7h0M537.1 1679.8h0M355.3 1757.5h0M376.9 1524h0M313.4 1756.9h0M418.3 1624.2h0M421.8 1678.7h0M442 1676.6h0M309.6 1676.4h0M423.5 1687.8h0M332.6 1675.5h0M362.1 1527.8h0M549.2 1530.4h0M406 1551h0M317.5 1565.7h0M550.3 1612.2h0M483.5 1559.9h0M400.4 1678h0M335.6 1642.6h0M492.3 1762.6h0M544 1534.8h0M364.1 1549.7h0M470.9 1652.8h0M392.6 1623.2h0M295.2 1671.1h0M411.8 1598.5h0M414.8 1544.8h0M369.2 1601.4h0M325.6 1525.2h0M491.4 1752.6h0M539.8 1648.7h0M457.4 1646h0M384.7 1580.6h0M468.4 1684.4h0M490.2 1579.5h0M319.1 1606.4h0M547.5 1589.2h0M358.4 1642.6h0M528.6 1548.3h0M550.3 1624.9h0M447.5 1515.3h0M377.5 1518.8h0M334.3 1586.5h0M448.9 1684.6h0M388.1 1713.7h0M290.1 1725.2h0M413.2 1524.5h0M411.8 1650.2h0" stroke="#22266c" stroke-width="4.2"/>
<path d="M407.1 1602.7h0M371.9 1725h0M334.4 1508h0M426.1 1533.9h0M515.8 1646.8h0M473.7 1673.5h0M342.7 1604.1h0M394.4 1556.9h0M411.2 1507.9h0M454.2 1604.1h0M307.2 1561.7h0M520.4 1579.8h0M500.1 1522.1h0M398.7 1616.7h0M307.2 1586.2h0M310.1 1555.2h0M506.1 1529.6h0M328.7 1538h0M340.8 1733.1h0M496.4 1604h0M372 1633.4h0M473.5 1759.1h0M341.3 1606.7h0M437.3 1677.5h0M336.8 1641.5h0M428.8 1624.4h0M290.1 1707.2h0M498 1575.2h0M433.1 1653.4h0M465.8 1577h0M406.7 1580.5h0M498.1 1545.4h0M306.1 1767.3h0M421 1632.4h0M492.6 1536.9h0M511.6 1517.3h0M386 1662.6h0M318.3 1706.4h0M505.2 1632.3h0M387.1 1695.3h0M416 1566.5h0M521.6 1525.1h0M525.9 1532.2h0M338.2 1689.2h0M395 1594.2h0M438.9 1511h0M521.6 1682.5h0M293.6 1707.5h0M473 1595.3h0M502.8 1585.6h0M297.4 1739.6h0M515.5 1647.2h0M426.8 1555.4h0M388.6 1702.3h0M517.4 1555.9h0M551 1625.8h0M482.8 1575.3h0M381.1 1692.6h0M303.7 1532.1h0M306.4 1707.3h0M371.7 1535.7h0M448.1 1559.2h0M405.8 1633.7h0M326.2 1548.2h0M519.3 1606.2h0M351.8 1769.7h0M351 1697.1h0M384.9 1752.8h0M347.8 1513h0M399.9 1674.5h0M446.4 1640.3h0M382.3 1602.1h0M324.8 1548.2h0M325.2 1712.2h0M327.8 1581.4h0M312.1 1523h0M337.8 1536.9h0M403.2 1573.5h0M311.8 1739.7h0M516.3 1640.4h0M350 1718.5h0M393.5 1726.5h0M445.8 1540.3h0M426.1 1540.4h0M377 1764.5h0M545.6 1654.3h0M303.6 1548.4h0M348.9 1563.8h0M428.1 1532.4h0M414.7 1579.8h0M331.8 1652.8h0M543.9 1632.8h0M480.2 1568.8h0M550.9 1625.9h0M518.4 1552.8h0M289.7 1697.5h0M372.8 1521.3h0M335.2 1667.4h0M439.1 1505.5h0M496.6 1764.3h0M312.3 1741.2h0M309.5 1694.3h0M480.2 1599.3h0M528.4 1505.3h0M501.8 1595.7h0M411.8 1535.2h0M363.7 1635.5h0M348.3 1726.2h0M381.3 1509.4h0M292.8 1720.4h0M402.2 1672.8h0M299.5 1642.8h0M309.7 1539.1h0M477.2 1560.1h0M523.5 1607.6h0M507.4 1506.4h0M302.9 1607.1h0M390.7 1576.6h0M433.4 1682.2h0M473.5 1628.8h0M538.8 1555.9h0M408.7 1629.9h0M315.2 1755.1h0M526.5 1540h0M493.2 1652.1h0M385.2 1708.5h0M500.4 1635.1h0M344.9 1718.1h0M408.4 1691.5h0M520.6 1694.4h0M440.3 1693.6h0M400.2 1721.5h0M429.2 1668.1h0M480.9 1509h0M439.1 1636.2h0M456.6 1673.2h0M409.9 1516h0M401.5 1523.2h0M520.4 1556h0M527.5 1665.6h0M416.1 1695h0M377.3 1651.4h0M528.2 1534.3h0M324.9 1506.3h0M475.7 1536h0M500.9 1614.8h0M301.6 1612.6h0M486.4 1558.4h0M453.8 1754.4h0M382.7 1556.4h0M314 1650.8h0M543.6 1555.5h0M512 1688.5h0M515.1 1617.3h0M519.6 1552h0M296.2 1517.2h0M295.6 1739.8h0M480.8 1524.1h0M520.6 1512.3h0M434 1626.1h0M503.2 1537.3h0M543.5 1523.4h0M407.9 1559h0M431.3 1550.5h0M287.8 1668.6h0M463.1 1624.3h0M394.4 1564.8h0M424.8 1519.5h0M390.6 1630.6h0" stroke="#22266c" stroke-width="5.2"/>
<path d="M369.7 1514h0M369.3 1528.4h0M528.1 1605.1h0M472.8 1738.3h0M501.5 1525.3h0M503.4 1665.3h0M475.6 1631.2h0M389.3 1593.1h0M487.9 1601.5h0M329.1 1614.4h0M517.4 1694.4h0M322.2 1682.3h0M538.3 1669.9h0M494.5 1574h0M517.7 1556.5h0M396.6 1507.9h0M328.6 1646h0M393.6 1580.9h0M303.4 1682h0M339.9 1659.2h0M498.2 1516.1h0M362.6 1583.7h0M385.6 1535.1h0M407.1 1664h0M511 1718.3h0M307.1 1661h0M526 1600h0M515.8 1687.7h0M384.2 1555.6h0M513.6 1603.1h0M391.3 1617.3h0M310.7 1534.2h0M469.5 1514.4h0M391 1505.6h0M395.4 1678.3h0M458.5 1667.9h0M300 1706.6h0M291 1641.6h0M457.6 1619.5h0M542.7 1673.8h0M487.3 1564.6h0M470 1611.9h0M365.2 1642.7h0M426.2 1681.3h0M481.5 1530.9h0M402.1 1540.4h0M400.6 1566.4h0M348.9 1717h0M313.4 1561h0M363.6 1635.5h0M336.3 1727.1h0M319.1 1527.5h0M312.2 1727.9h0M435.2 1675.1h0M455.5 1632h0M418 1528.9h0M537.3 1558.9h0M483.6 1615.1h0M300 1647.9h0M322.6 1614.1h0M412.1 1533.4h0M337.6 1603.8h0M455.2 1650.5h0M502.7 1590.4h0M325.4 1751h0M343.4 1540.2h0M537.6 1592h0M310.2 1512.7h0M439.7 1688.9h0M310.7 1676.8h0M295.3 1643.4h0M490.8 1588.3h0M406.1 1649.9h0M296.4 1582.3h0M485.3 1593.4h0M396.9 1619.5h0M363.7 1550.1h0M332.3 1555.1h0M403.3 1569.8h0M455.4 1556.3h0" stroke="#22266c" stroke-width="6.2"/>
<path d="M542.6 1678.7h0M507.3 1521.9h0M309.1 1572.5h0M450.2 1524.8h0M299.4 1579.9h0M293.6 1725.3h0M547.7 1535.7h0M424.3 1685h0M312.5 1656.4h0M407.8 1559.2h0M436.5 1633.8h0M423.7 1519.2h0M522.7 1689.2h0M439.6 1625.4h0M503 1610.5h0M481.5 1512.8h0M534 1601.7h0M314.3 1603.4h0M500.1 1632h0M451.5 1614.2h0M479.1 1551.8h0M312 1594h0M524.2 1571.9h0M310.5 1601.6h0M374.2 1634.9h0M393 1564.2h0M370.4 1633.6h0M371.1 1722.6h0M532.7 1674.6h0M470.1 1678.3h0M402.7 1717.1h0M536.9 1545.5h0M330.2 1551h0M449.2 1521.9h0M423.7 1589h0M548.5 1541.3h0M363.7 1719h0M506.5 1606h0M433.7 1516.7h0M382.4 1571.2h0M356.5 1721.2h0M337.7 1534.9h0M297.6 1668.3h0M337.3 1730.5h0M510.7 1649.9h0M427.9 1539.1h0M324.2 1549.9h0M524.1 1682.6h0M308.8 1564.5h0M337.1 1588.8h0M452 1507.1h0M466 1681.6h0M484.1 1529.4h0M416.4 1644.2h0M304.8 1583.5h0M450.4 1522h0M294.4 1602.5h0M329 1704.9h0M339.7 1704.2h0M447.9 1619h0M289.9 1578.9h0M305.4 1601.8h0M471.3 1603.9h0M325 1536.8h0M335.7 1584h0M540.5 1511.5h0M410.3 1550.1h0M326.4 1714.1h0M288.6 1606.8h0M461.8 1518.9h0M379.8 1560.6h0M478.9 1527.5h0M344.8 1732.1h0M335.6 1591.8h0M478.8 1618.7h0M376.5 1717.3h0M510.7 1589.4h0M400.5 1529.3h0M353.8 1579.5h0M456.5 1535h0M358.6 1517.1h0M319 1644.7h0M429.1 1557.6h0M405.4 1515.3h0M517.3 1612.6h0M296.8 1576.2h0M499.4 1565.3h0M485.4 1611.1h0M339.7 1597.3h0M402.7 1511.7h0M357.8 1525.3h0M541.1 1535.7h0M414.2 1516.2h0M377.6 1536.5h0M357.4 1599.2h0M485.9 1523.4h0M498.7 1546.5h0M546.9 1534.1h0M337.2 1525.4h0M403.6 1666.7h0M355.3 1731.4h0M429.4 1582.1h0M392.2 1541.3h0M505 1617.1h0M310.1 1723h0M347.7 1576.9h0M435.6 1530h0M324.3 1507.3h0M479.3 1597.8h0M464.2 1678.7h0M368.9 1716.7h0M459 1676h0M369.7 1707.2h0M287.8 1594.3h0M300.7 1665.2h0M422 1628h0M438.4 1663.3h0M435.1 1665h0M394.7 1713.4h0M301.6 1654.4h0M372.1 1506.7h0M534.6 1531.2h0M341.2 1518.2h0M366.6 1637.7h0M305.9 1736.1h0M287.1 1693.1h0M423.7 1674.4h0M306.8 1599.1h0M362.4 1726.5h0M323.2 1599.9h0M537.7 1555.4h0M408.1 1728.8h0M499.2 1646.3h0M511.7 1562.9h0M339.2 1524.3h0M490.6 1558h0M424.9 1507.6h0M512 1538.6h0" stroke="#2f3896" stroke-width="4.2"/>
<path d="M493.1 1591.7h0M398.3 1655.4h0M446.5 1658.2h0M350.2 1692.1h0M524.5 1602.8h0M419.1 1569.2h0M340.1 1561.9h0M360.4 1550h0M304.1 1717.4h0M487.8 1621.7h0M321.4 1711.9h0M526.1 1588.9h0M493.2 1556.7h0M337.3 1535.6h0M394.5 1696.9h0M427.6 1633.4h0M420.3 1587h0M443.8 1673.1h0M346 1579h0M520.6 1563.2h0M293.5 1684.8h0M302.8 1587h0M328.6 1590.5h0M364.8 1532.3h0M432.3 1598.7h0M439.8 1690.1h0M435.6 1653.8h0M319.6 1724h0M517.9 1603h0M291.3 1673.7h0M319.1 1688.5h0M402.4 1682.5h0M544.1 1519h0M437.7 1649.3h0M399.5 1525.4h0M387.4 1518.2h0M302.3 1698.3h0M395.8 1632.1h0M479.2 1681.9h0M434.9 1598.9h0M532.2 1558.7h0M296.5 1591h0M528 1515.2h0M418.2 1630.6h0M500.4 1560.3h0M358.3 1547.8h0M546.9 1608.4h0M393.1 1590.6h0M464.6 1506.2h0M506.1 1572.1h0M304 1601.8h0M483.9 1650.1h0M502.3 1523.7h0M304.3 1736h0M464.1 1619.4h0M298.1 1578.9h0M368.5 1507.2h0M367 1639.7h0M462.6 1640.4h0M408.7 1730.9h0M391.5 1584.5h0M541.5 1602.1h0M367.1 1570.7h0M319.1 1708.1h0M353.1 1510.5h0M378.6 1562.5h0M525.3 1573.1h0M375.2 1568.3h0M549.4 1607.9h0M347 1589.6h0M499.9 1589.9h0M479.2 1684.6h0M456.1 1532.9h0M511.6 1654.2h0M461.4 1629.4h0M364.1 1728.3h0M458.3 1688.1h0M369.4 1554.4h0M484.8 1658.7h0M514.7 1561.2h0M495.8 1579.8h0M410.9 1581.8h0M291.4 1587.5h0M317 1729.6h0M431 1641.7h0M530.1 1684.1h0M427.7 1518h0M315.6 1678.4h0M443.5 1684.7h0M322 1712.3h0M398.1 1546.8h0M510.6 1641.8h0M346.4 1521.7h0M415.8 1557.8h0M460.9 1638.8h0M528.4 1529.2h0M294.3 1711.3h0M333.8 1533h0M389.4 1576.7h0M408.8 1509h0M347 1508.9h0M322.4 1587.5h0M481.7 1511.2h0M350.4 1731.5h0M521.9 1554.8h0M548.3 1581.9h0M356.7 1557.5h0M466.7 1653.1h0M334.3 1714.5h0M505.9 1507.1h0M494.4 1620.9h0M366 1512.3h0M410.5 1674.4h0M451.1 1686h0M493.7 1532.6h0M345.1 1599.1h0M433 1533h0M400.7 1663.2h0M426.2 1554.2h0M466.6 1642h0M397.7 1652.9h0M410.9 1559.7h0M504.4 1542.3h0M474.8 1557h0M453.2 1605h0M362.9 1712.5h0M315.9 1734.3h0M396.5 1731.4h0M331.7 1682.1h0M435.6 1643.9h0M454 1667.6h0M382.1 1575.8h0M343.4 1587.4h0M366.6 1555.6h0M311.4 1668.6h0M361.3 1531.9h0M293.4 1736.8h0M519.5 1521.4h0M442.1 1507.4h0M518.5 1560.9h0M547.8 1667.7h0M391.5 1731.3h0M440.1 1687.7h0M537.4 1523.2h0M328 1528.1h0M324 1518.9h0M395 1634.9h0M301.8 1566.5h0M409.9 1515h0M541.1 1521.8h0M498.7 1553.7h0M344.9 1525.7h0M290.4 1590h0M503.8 1643.2h0M514.8 1560.1h0M353.5 1505.1h0M385.2 1704.1h0M294 1667.5h0M307.1 1592.2h0M364.2 1526.2h0M380 1718.9h0M475.6 1656.7h0M399.3 1532.2h0M526.9 1576h0M444.4 1660.9h0M368.7 1572.7h0M349 1720.5h0M468.9 1520.3h0M314.1 1700.6h0M516 1601.4h0M326.8 1516h0M402.5 1510.6h0M485.7 1539.9h0M486.2 1681.9h0M334.1 1693h0M400.6 1709.5h0M458 1657.2h0M321.2 1696.1h0M304.3 1573.1h0M523 1509.8h0M323.1 1559.5h0M385.5 1710.7h0M370.5 1589.5h0M441.3 1614.4h0M426.1 1562h0M435.5 1682.7h0M519.1 1508.9h0M500.7 1650.5h0M524.9 1529.7h0M307.9 1658.6h0M487.3 1611.4h0M387.4 1543.1h0M480.9 1627.1h0M448.9 1655.2h0M452.1 1515h0M441.6 1629.2h0M544.3 1566.6h0M294.3 1692.7h0M400.9 1552.9h0M354.5 1599.3h0M527.4 1577.3h0M495.6 1506h0M527.7 1522.3h0M356.4 1541.8h0M322.2 1507.8h0M328.9 1520.4h0M450.1 1601.1h0M508.8 1559h0M546 1517.3h0M367.4 1636.3h0M497.8 1525.9h0M468.3 1680.6h0M411.3 1545h0M458.7 1634h0M389.1 1586.9h0M547.2 1680.1h0M506.8 1555.2h0M326.2 1598.1h0M300.8 1691.3h0M341.7 1590.6h0M323.6 1510.6h0M399 1699.4h0M506.5 1511h0M356.5 1556.7h0M399.2 1685.5h0M379.4 1707h0M405.1 1536h0M517 1558h0M399.9 1632.5h0M506.1 1644.6h0M404.5 1638.1h0M532.7 1564.7h0M515.6 1570.7h0M393.9 1571.2h0M292.9 1722.4h0M346.7 1544.5h0M332.5 1565.1h0M358.3 1576.5h0M497.8 1657.5h0M520 1608.8h0M494.8 1517.8h0M483 1590.8h0M396.2 1724.8h0M451.2 1658.7h0M467.7 1606.9h0M380.4 1527.8h0M347.6 1544.1h0M472.2 1597.5h0M466.3 1609h0M404.2 1523h0M423.8 1589.5h0M369.8 1507.6h0M485.7 1554.7h0M422.3 1667.3h0M356.8 1708.2h0M289 1733.1h0M347.7 1528.9h0M402.2 1516h0M489.7 1612.7h0M449.4 1524.3h0M349 1564.9h0M549.6 1522.1h0M481.4 1650.1h0M377.9 1536.2h0M324 1517.9h0M500.7 1639.4h0M425.8 1523h0M372.1 1713.7h0M419.9 1550.5h0M377.5 1581.7h0M318.4 1646.7h0M521.9 1515h0M503.4 1590.7h0M380.1 1541.7h0M489.7 1585.1h0M290 1674.3h0M473.8 1516h0M377.9 1710h0M409.9 1553.8h0M508.1 1628.3h0" stroke="#2f3896" stroke-width="5.2"/>
<path d="M410.4 1639.9h0M305.7 1708.5h0M303 1716.6h0M404 1507.6h0M353.2 1555.5h0M507.1 1606.6h0M347.1 1711.7h0M511.9 1690.8h0M489.6 1591.8h0M533.4 1547.5h0M294.2 1710.1h0M383.3 1542.2h0M527.1 1590.7h0M549.5 1604.8h0M369.9 1557.5h0M361.5 1550.9h0M414.9 1563.8h0M406.3 1570.5h0M328.8 1725.9h0M369.1 1577.8h0M301.3 1713.2h0M489.8 1637.4h0M412.2 1635.2h0M528.7 1577.3h0M287.3 1649.4h0M373.7 1593.7h0M404.2 1726.4h0M549.7 1613.5h0M342.3 1560.7h0M424.2 1660.2h0M312.5 1716h0M342.7 1707.5h0M307.5 1645h0M296.2 1570.9h0M404.3 1527.6h0M545.6 1547.5h0M485.5 1682.7h0M446.2 1527.7h0M432.4 1664.9h0M521.9 1551.7h0M498.8 1623h0M388.5 1723.7h0M331.8 1647.2h0M363.8 1581h0M317.6 1687.6h0M549.6 1674.3h0M306.6 1666.6h0M318.3 1691.3h0M489.3 1623.1h0M522.3 1561.7h0M414.1 1560.7h0M437.2 1648.2h0M340.2 1718.7h0M403 1637.8h0M465.1 1534.2h0M524.8 1575h0M532.1 1685.1h0M550.7 1569.4h0M393 1643.5h0M299.4 1653.4h0M352.7 1522.8h0M459.6 1625.1h0M377.4 1641.7h0M378.3 1636.1h0M309.4 1649.1h0M406.5 1510.3h0M442.2 1523.5h0M352.3 1585.5h0M341.9 1532.8h0M534.7 1589.9h0M540.5 1514.5h0M439.7 1619.6h0M364.4 1537.6h0M531.5 1563.4h0M421.7 1647.9h0M393 1633.9h0M551.4 1524h0M510.2 1546.3h0M381.4 1525.5h0M411.1 1583h0M443.3 1689.9h0M433.3 1506.1h0M312.4 1670.9h0M476.4 1682.2h0M295.4 1707.9h0M320.8 1689.3h0M492.8 1515.3h0M454.4 1688.1h0M344.5 1580.7h0M428.6 1601.6h0M502.4 1646.9h0M421.3 1560.6h0M373.8 1508h0M439.4 1658.8h0M441 1521.5h0M512.9 1607.2h0M506.7 1599.3h0M298.8 1706.7h0M329.7 1701.4h0M382.3 1552.7h0M345.3 1544.1h0M380.9 1592.4h0M362.2 1505.6h0M512.5 1512.2h0M436.3 1671h0M405.6 1641.1h0M346.1 1605.5h0M521.9 1574.8h0M469.4 1637.4h0M432.7 1623.8h0M353.1 1562.8h0M422.2 1582.9h0M368.6 1644h0M325.2 1705.9h0M540.5 1578.6h0M300.8 1721.3h0M464 1646.5h0M315.3 1661.7h0M326.2 1555.1h0M365.8 1505.2h0M349.6 1573.7h0M535.9 1578.8h0M400.6 1508.2h0M323.4 1505.2h0M443.1 1527.6h0M481.4 1528.7h0M547.6 1565.9h0M529 1600.9h0M494 1688h0M343.8 1656.8h0M400.6 1572.3h0M507.4 1557.6h0" stroke="#2f3896" stroke-width="6.2"/>
<path d="M340.3 1647.3h0M532.5 1530.4h0M393.4 1518.5h0M323.4 1582.1h0M500.9 1593.5h0M356.1 1555.2h0M535.9 1679.8h0M288.9 1660.8h0M354.6 1547.5h0M369.2 1730.4h0M315.1 1543h0M493 1644.5h0M482.5 1588.2h0M507.9 1536.3h0M414.1 1534.8h0M462.6 1611.5h0M411.8 1676h0M419 1518.8h0M447.5 1627.3h0M508.5 1686.5h0M417.8 1520.7h0M328.9 1645.8h0M396.5 1643.3h0M500.7 1610.9h0M289.1 1647.3h0M488.3 1535h0M509 1516.6h0M311.3 1569.2h0M489.6 1636.7h0M521.6 1589.7h0M317.2 1695.7h0M364.1 1594.8h0M366 1709.9h0M506.8 1626.2h0M473 1617.3h0M317.3 1581.2h0M350.6 1702.1h0M442.3 1625.2h0M456.5 1524h0M326.1 1560.7h0M547.8 1519.8h0M308.6 1593.4h0M351.9 1711.6h0M370.6 1713.2h0M329.2 1731.2h0M384.5 1589.3h0M515.2 1585.7h0M535.5 1567.7h0M432.2 1662.1h0M414.8 1534h0M410.6 1659.2h0M297.8 1712.5h0M321.8 1720.9h0M429.4 1647.6h0M424.3 1540.5h0M463 1634.6h0M537.8 1602.7h0M508.7 1632.1h0M298.9 1671.9h0M355.5 1558.8h0M518.4 1554.4h0M376.6 1564.8h0M471.5 1530.6h0M383 1574.1h0M381.2 1544.2h0M429 1577.8h0M306.8 1703.2h0" stroke="#3e52b8" stroke-width="4.2"/>
<path d="M456.6 1637.7h0M379.4 1527.1h0M304.6 1648.1h0M479.5 1574h0M499.7 1633h0M309.5 1673.4h0M373 1543.1h0M505.4 1547.4h0M384.9 1580.9h0M301.3 1572.5h0M374.5 1512.1h0M509.2 1580.4h0M306 1575.7h0M363 1731.9h0M446.3 1624.1h0M551.3 1522.8h0M300.2 1726.9h0M353.8 1576.8h0M468.2 1625.3h0M491.2 1544.3h0M380.3 1547.5h0M383.1 1714h0M430.1 1627.3h0M534.4 1588.3h0M536.9 1674.7h0M407.1 1588.8h0M503.4 1601.2h0M443.8 1659.7h0M318.9 1673.3h0M437.5 1639.9h0M363.1 1710.6h0M494.1 1537.8h0M427.7 1672.2h0M453 1631.5h0M442.2 1676.5h0M432.3 1533.9h0M290.1 1591.6h0M374.3 1709.9h0M356.6 1723.4h0M288.1 1652.1h0M547.1 1567.8h0M551.8 1663.6h0M341.3 1509.3h0M503.6 1506h0M291.8 1589.9h0M407.7 1729.8h0M364.9 1535h0M391.9 1705.4h0M450 1635.2h0M519.7 1597h0M508.8 1632.6h0M451.1 1610.3h0M385 1521.1h0M291.1 1729.5h0M343.2 1556.1h0M322.3 1554.9h0M487.4 1589.5h0M300 1687.7h0M513 1592.4h0M542.6 1690.6h0M349.4 1549h0M398.7 1689.2h0M458.5 1643.9h0M380.6 1552.8h0M318.3 1585.7h0M420.9 1557.3h0M370.1 1549.6h0M513.9 1559h0M510.5 1510.3h0M420 1537.1h0M513.9 1685.6h0M517.9 1557.2h0M449 1665.9h0M543.3 1574.3h0M412.6 1576.2h0M457.5 1525.4h0M339.2 1590.7h0M387.8 1511.4h0M406 1648.5h0M376.6 1717h0M399.4 1568.2h0M312.5 1658.7h0M521.2 1523.8h0M536.2 1586.2h0M499.1 1534.3h0M545.5 1594.8h0M294.7 1709.9h0M430.4 1516h0M497.5 1625.7h0M352.3 1728h0M450.3 1647.9h0M485.7 1550.9h0M308.8 1720.4h0M330.2 1533.2h0M487.5 1570.7h0M341.4 1527.9h0M306 1689.7h0M318.5 1584.6h0M427.4 1560.3h0M298.2 1666.4h0M313.8 1576.4h0M320.5 1733.6h0M327.9 1513.3h0M307 1605h0M437 1516.2h0M508.8 1638.6h0M411.2 1512.2h0M395.2 1554.2h0M300.5 1567.5h0M518.2 1526.9h0M446.6 1520.1h0M349 1526.3h0M392.1 1689.4h0M427.5 1679.3h0M389.9 1582h0M339.7 1596.8h0M368.7 1533.4h0M404.5 1641.5h0M485 1649.8h0M446.3 1650.7h0M548.6 1516.9h0M378.9 1645.6h0" stroke="#3e52b8" stroke-width="5.2"/>
<path d="M430.6 1663.4h0M311.2 1724.4h0M327.3 1509.8h0M358.1 1577.1h0M469.8 1625.4h0M494 1622h0M533.5 1558.3h0M331.2 1543.2h0M318.9 1585.8h0M451.8 1528.7h0M418.2 1549.4h0M293.6 1591.1h0M320.4 1664.1h0M341.8 1517.1h0M321.2 1691.6h0M442.9 1691.1h0M353 1550.4h0M397.4 1518.4h0M378.6 1520h0M414.2 1560.4h0M537.8 1582.9h0M442.1 1686.8h0M311.1 1684.2h0M550 1666.4h0M426 1663.3h0M400.8 1672.9h0M302.6 1659.3h0M354.1 1536.5h0M374.7 1641.5h0M309.6 1701.5h0M483.1 1598.3h0M411.9 1659.4h0M338.3 1541.7h0M408 1634.8h0M317.1 1698.9h0M354.3 1581.6h0M390.1 1587.1h0M400.7 1691.6h0M456.2 1648.8h0M525.7 1601.9h0M468 1642.1h0M530.4 1556.5h0M371.3 1595.1h0M455 1617.4h0M467 1534.1h0M360.7 1571h0M402.1 1655.4h0M353.8 1644.2h0M349.2 1709.9h0M497.2 1520h0M330.4 1698.6h0M523.6 1525.9h0M290.8 1583.5h0M321.3 1596.3h0M332.6 1564.5h0M490.3 1605.8h0" stroke="#3e52b8" stroke-width="6.2"/>
</g>
<g fill="#35cc62" filter="url(#mb)">
<circle cx="526.7" cy="1673.6" r="3"/>
<circle cx="533.4" cy="1675" r="2.5"/>
</g>
</g>
<rect x="562.1" y="1505.1" width="261.9" height="265.4" fill="#02020c"/>
<g clip-path="url(#mc2)" stroke-linecap="round" fill="none">
<g filter="url(#mb)">
<path d="M754.3 1643.4h0M782.7 1764.6h0M678.6 1535.2h0M783.4 1753h0M669.2 1573.4h0M737.1 1636.4h0M748.7 1637.2h0M728.2 1761.3h0M711.9 1734.9h0M661.3 1586.5h0M592.1 1521.7h0M760.5 1691.4h0M655.2 1567.2h0M737.1 1624h0M710.8 1732h0M641.2 1561.1h0M723.1 1651.4h0M775.6 1759.1h0M797.7 1670.2h0M697.5 1584.6h0M741.9 1624.3h0M720 1748h0M651.4 1506.9h0M814.2 1658.8h0M754.1 1709.1h0M723.3 1670.9h0M573.3 1700.5h0M684.2 1589.8h0M679.4 1583.3h0M638.1 1574.1h0" stroke="#1e2260" stroke-width="4.2"/>
<path d="M723.4 1732.9h0M821.3 1683.9h0M725.4 1653.5h0M706.4 1760.6h0M815.5 1670.4h0M726.9 1689.4h0M790.1 1752.8h0M679.8 1574.7h0M821.4 1656.7h0M707.4 1748.5h0M685.8 1515.8h0M744.2 1642.5h0M570.5 1741.1h0M737.7 1631.1h0M714.7 1586.1h0M724.4 1692.6h0M762.4 1769.5h0M718.7 1658.5h0M669.8 1589.6h0M599.7 1549.5h0M700.6 1549.3h0M823.5 1661.1h0M765.7 1672.6h0M640.6 1558.4h0M713.6 1736.7h0M722.2 1692.7h0M713.6 1738.6h0M611 1528.7h0M757.5 1737.7h0M609.9 1555.4h0M575.8 1691.8h0M741.5 1769.6h0M613.7 1542h0M589.5 1529.5h0M627.6 1547.1h0M821.3 1695.8h0M592.2 1546.2h0M567.3 1681.4h0M712.9 1580.4h0M752.1 1629.6h0" stroke="#1e2260" stroke-width="5.2"/>
<path d="M739.6 1661.8h0M649.1 1563.8h0M770.7 1669.6h0M567.4 1735.7h0M657.2 1583.2h0M735 1643.7h0M590.7 1519.8h0M609.1 1514.1h0M627.3 1539.7h0M809.2 1732.1h0M648 1571.5h0M563.9 1725.4h0M772.8 1731.8h0M562.4 1679.8h0M626.7 1534.4h0M629.6 1561.6h0M662.2 1586.1h0M687.7 1586h0M796.9 1758.8h0M679.9 1554.5h0M643.9 1558.4h0" stroke="#1e2260" stroke-width="6.2"/>
<path d="M696.6 1722.5h0M818.8 1674.4h0M742.5 1546.3h0M657.6 1637.3h0M578.4 1533.8h0M757.2 1572h0M821.8 1675.6h0M732.4 1601.5h0M763.3 1652.9h0M672.6 1615.2h0M594.1 1680.7h0M600.1 1557.1h0M597.4 1635.2h0M714.8 1537.7h0M697.1 1686.3h0M702 1583.6h0M628.8 1652.8h0M575.7 1719.2h0M689.1 1649h0M700.7 1575.4h0M649.1 1732.2h0M712.3 1743.9h0M661.5 1579.2h0M788.4 1635.2h0M568.7 1716.7h0M604.8 1602.1h0M610.8 1582.3h0M592.6 1579.2h0M695.3 1737.6h0M811.4 1562.9h0M660.7 1593.7h0M627.6 1701.3h0M728.4 1594.9h0M565.3 1542.6h0M652.9 1671.1h0M626 1749.8h0M737.7 1527.6h0M794.3 1601.1h0M703 1747.3h0M579.6 1570.1h0M612.3 1583.3h0M798 1642.5h0M665.5 1599.8h0M656.7 1750.8h0M645.2 1743.5h0M699.6 1668.9h0M675.9 1591h0M655.3 1582.2h0M661.8 1686.5h0M625.5 1726.1h0M759.8 1633.9h0M756.7 1510.2h0M584.3 1721.4h0M785.8 1520.5h0M656.9 1621.1h0M568.8 1754.8h0M752.6 1530.7h0M691.3 1653.5h0M774.1 1549.6h0M699.1 1601.1h0M800.5 1629.5h0M787 1592.3h0M724.8 1532.6h0M582 1556.3h0M569.1 1694.6h0M689.5 1732.3h0M665.5 1635.2h0M686.1 1607.7h0M767.3 1537h0M617.4 1656.2h0M639.7 1574.9h0M715.4 1672.6h0M676.6 1649.8h0M624.2 1706.9h0M749.7 1575h0M775.2 1657h0M686.2 1689.7h0M772.5 1622.1h0M719.1 1684.6h0M639.5 1660.7h0M711.4 1701.4h0M639.1 1721.6h0M586 1573.1h0M660.2 1686.9h0M563.5 1743h0M802.8 1506h0M591.2 1669.3h0M697.8 1515h0M741.3 1656.1h0M630.9 1541.2h0M604.6 1710.2h0M633 1736.7h0M800.6 1540.2h0M683.7 1593.9h0M587.2 1607.4h0M656.1 1740.6h0M591.1 1528.3h0M746.5 1537.7h0M819 1704.3h0M665.8 1687.1h0M620.4 1703.3h0M585.3 1670.1h0M593 1595h0M772.3 1659.7h0M800 1641.5h0M610.8 1683.1h0M822.8 1636.9h0M571.8 1697.4h0M639.4 1732.1h0M590.3 1590.3h0M722.6 1616.3h0M628.2 1611.5h0M607.3 1625.1h0M621.7 1752.5h0M771.3 1581.3h0M581.1 1675.7h0M696.1 1714.5h0M757.5 1574.1h0M688.2 1631.6h0M628.8 1737.6h0M628.4 1673.8h0M811.7 1629.8h0M579.4 1659.4h0M576 1559h0M613.6 1692.8h0M812.7 1568.2h0M592.7 1596.7h0M588.5 1533h0M739.7 1531.7h0M757.7 1516h0M575 1742.9h0M821.6 1601.5h0M670 1717.4h0M712 1506.2h0M823.8 1537.9h0M762.6 1625.6h0M587.4 1571.3h0M617.1 1564.5h0M716.3 1557.6h0M814.3 1509.7h0M691.4 1639.9h0M784.5 1538.8h0M694.5 1719.5h0M595 1509.1h0M590.9 1689.7h0M623.3 1768.1h0M803 1597.1h0M656.1 1648.5h0" stroke="#2f3592" stroke-width="4.2"/>
<path d="M793.1 1653.2h0M661.9 1733.1h0M739.1 1516.6h0M611.7 1703.8h0M770.3 1638.2h0M781 1534.2h0M787.1 1587.6h0M573.2 1720.2h0M795.9 1512.6h0M806.5 1513.3h0M664.4 1679.2h0M716.7 1713.3h0M696.2 1586.7h0M767.8 1538.5h0M783.9 1604h0M778.2 1535.6h0M703.2 1645.7h0M677 1749.7h0M564.7 1706.7h0M593.3 1756h0M722.1 1516.6h0M682 1713h0M722.8 1643.8h0M604 1733.5h0M656.6 1555h0M565.8 1518.4h0M737.3 1600.3h0M675.8 1656.2h0M657.6 1612.4h0M780.1 1568.3h0M566 1512.8h0M778.5 1587.5h0M653.8 1720.4h0M683 1616.6h0M584.1 1755.5h0M598.7 1587.5h0M780.5 1543.3h0M653.9 1591.1h0M622.4 1612.6h0M784 1605.1h0M788.1 1591.1h0M582.2 1748.3h0M684 1741.5h0M589.5 1671.3h0M586.3 1664.9h0M616.7 1702.2h0M588.9 1605h0M591.7 1582.3h0M720.2 1689.7h0M749.4 1570.9h0M743.2 1595.5h0M762.4 1592.3h0M747.3 1585.3h0M753.9 1579.9h0M579.3 1759h0M594 1735h0M580.1 1526.1h0M802.2 1624.6h0M617.4 1597.8h0M632.5 1619.1h0M698.7 1608.3h0M605.7 1723.8h0M779.7 1548.9h0M734.3 1528.7h0M638 1611.8h0M755.8 1507.2h0M638 1707.4h0M564.8 1635.5h0M642.8 1585.7h0M630.8 1630.5h0M661.6 1756.5h0M737.6 1574.1h0M576.4 1768.5h0M761 1512.2h0M677.6 1691.8h0M631.3 1691.9h0M577.2 1762.6h0M785.1 1544h0M689.2 1683.6h0M755.7 1640.3h0M746.2 1523.3h0M663.1 1760.9h0M666.6 1578.1h0M615.3 1604h0M806.7 1616.6h0M767.2 1616.7h0M765.9 1650.8h0M692.3 1646.7h0M608.5 1584.9h0M622.7 1704h0M813.5 1664.1h0M800.8 1555.4h0M764.2 1549.3h0M665.8 1631.1h0M574.6 1562.7h0M780.2 1573.9h0M699.4 1745.6h0M673.2 1594.5h0M733.1 1518.7h0M746.5 1755.8h0M643.5 1716.7h0M763.8 1657.8h0M565.9 1768.8h0M823.4 1571.7h0M768.2 1607.5h0M587.2 1522h0M573.8 1692.1h0M686.3 1642.2h0M821.5 1636h0M605.3 1641.4h0M716.4 1591.3h0M655.8 1620.7h0M730 1718.2h0M606.9 1600.1h0M719.3 1685.7h0M647.9 1667.2h0M595.4 1546.3h0M746.5 1592.7h0M662.9 1595h0M793.4 1579.7h0M759.3 1546.6h0M712.3 1550.8h0M629.2 1650.6h0M810.4 1512.9h0M778.2 1512.4h0M617.8 1676.2h0M608.3 1625.8h0M761.6 1509.1h0M808.8 1663h0M665 1726.1h0M784.2 1580.4h0M760.7 1635h0M680.8 1622.5h0M704.5 1694.9h0M791.4 1606.7h0M748.5 1507.6h0M804.9 1593.6h0M762.1 1566.9h0M756.6 1632.6h0M691 1608.2h0M638.3 1707.2h0M645.7 1707.2h0M582.7 1690.5h0M708.1 1659h0M634.8 1640.9h0M642 1719.7h0M572.5 1572.1h0M647.7 1737.3h0M700.3 1659.1h0M582.3 1628.6h0M783.8 1637.3h0M578.3 1513.4h0M584.4 1548.3h0M760.4 1577.1h0M565.2 1644.2h0M713.9 1582.5h0M745.4 1585.1h0M581 1702h0M606.9 1748.9h0M728.5 1611.2h0M693.8 1579.6h0M674.5 1645.5h0M654.6 1709.9h0M596.7 1700.8h0M768.3 1654.9h0M598.6 1693.8h0M580.3 1516.9h0M618.1 1752.2h0M583.2 1526h0M581.9 1759.9h0M719 1619.4h0M646.7 1639.5h0M621.2 1745.7h0M588.2 1588.8h0M749.5 1608.9h0M753.6 1512h0M634.3 1689.6h0M626 1671.7h0M600.9 1619.9h0M802.3 1646.3h0M665.3 1726.2h0M599.8 1738.3h0M693.1 1507.7h0M619.7 1694.9h0M725.7 1526.2h0M573.4 1585.4h0M756 1630.6h0M702.8 1576.5h0M587.5 1630.9h0M562.5 1570.6h0M794.7 1630.8h0M787.7 1606.8h0M642.5 1761.3h0M709 1594.1h0M621.5 1736.3h0M676.5 1615h0M753.3 1520.2h0M779.1 1619.5h0M809.2 1656h0M667.7 1607.6h0M746.9 1656.3h0M590.9 1625.2h0M669.3 1733.2h0M616.9 1736.9h0M578.7 1575.2h0M712.1 1544.3h0M595.6 1633.8h0M589.5 1739h0M787.9 1577.5h0M771.5 1635.8h0M592.1 1585h0M585.9 1721.8h0M606.1 1656.1h0M562.5 1666.7h0M670.4 1596.9h0M749.5 1570.1h0M605.6 1570h0M814.7 1601.6h0M582.6 1737.5h0M649.2 1769.8h0M746.3 1517.1h0M703.4 1697.5h0M718 1748.3h0M614.2 1624.3h0M812.4 1559.9h0M815.6 1654.1h0M803.7 1612.2h0M618.7 1629.7h0M819.5 1604.1h0M690.4 1614.8h0M810.6 1652.9h0M796.9 1610.9h0M586.9 1643.7h0M738 1590.9h0M719.2 1604.5h0M638.9 1682.6h0M766 1625.9h0M639.6 1686.4h0M598.5 1614.2h0M575.9 1564.5h0M567.1 1719.9h0M716 1707.1h0M771.9 1673.5h0M783.5 1618.4h0M652 1726.6h0M643.6 1592h0M743.7 1583.7h0M666.7 1753h0M595.1 1607.4h0M607.2 1683h0M748.6 1674.4h0M697.7 1738.1h0M648.4 1653.4h0M597.4 1560.9h0M799.4 1589.6h0M769.8 1612.7h0M725.2 1565.3h0M670.1 1733.7h0M723.5 1641.4h0M612.5 1715.4h0M570.9 1512h0M623.2 1708.8h0M656.7 1713.8h0M744.5 1604.4h0M740.5 1540.3h0M786.1 1564.2h0M665.5 1622.8h0M709.9 1625h0M684.1 1638.1h0M806.3 1661.7h0M582.7 1762.4h0M762.5 1672.7h0M710.3 1699.2h0M755.3 1515.9h0" stroke="#2f3592" stroke-width="5.2"/>
<path d="M693.2 1608.3h0M574.1 1718.4h0M597.9 1578.8h0M630 1614.9h0M592.7 1586.7h0M630.4 1646.8h0M723.8 1554.3h0M582.8 1548.4h0M593.2 1679.7h0M689.5 1729.6h0M798 1537.9h0M613.8 1670h0M763 1511.2h0M698.9 1699h0M732.4 1641.8h0M795 1684.3h0M652 1726.8h0M672.7 1608.2h0M562.4 1547.2h0M602 1577.8h0M714 1507.5h0M616.4 1723.7h0M812.2 1603h0M683.2 1696.6h0M720.3 1622.1h0M780.8 1558.8h0M582.4 1579.7h0M820.5 1590.1h0M820.1 1511.2h0M616.9 1690.2h0M770.2 1644.1h0M609.6 1641.7h0M814.2 1511h0M596.4 1649.6h0M600.4 1751h0M662.8 1743.7h0M721.6 1557.3h0M609.4 1734.1h0M681.6 1766.3h0M631.3 1738.6h0M704.1 1708.8h0M678.2 1674.7h0M618.7 1689.9h0M706 1767.2h0M692.4 1695.8h0M712.8 1659h0M621.1 1741.5h0M632.7 1721.2h0M579.9 1734.6h0M578.2 1716.2h0M711 1663.9h0M732.3 1533.1h0M572.3 1730.3h0M733.9 1645.6h0M708 1539.2h0M720.5 1549.9h0M610.8 1687.3h0M703.5 1713.9h0M767.2 1559.8h0M596.1 1688.4h0M619.1 1768.6h0M570.8 1517.5h0M762.3 1514.7h0M821.8 1597.4h0M685.9 1620.8h0M591.2 1678.5h0M753.1 1547.8h0M776.4 1646.5h0M810.6 1545.7h0M737.5 1658.4h0M669.3 1720.2h0M610.2 1731.4h0M700.3 1626.6h0M741.8 1516.9h0M600 1509.9h0M693.4 1593.8h0M709.3 1568h0M717.9 1720.6h0M621.4 1761.1h0M668.7 1690.9h0M809.6 1579.9h0M570 1542.4h0M656.3 1654.9h0M797.1 1531.7h0M703.3 1662.4h0M675.9 1740.4h0M598 1528.9h0M773.6 1545.3h0M790.6 1631.8h0M648.6 1585.9h0M585.7 1685.5h0M711 1737.3h0M756.7 1527.8h0M740.9 1540h0M812 1623.4h0M743.2 1624.2h0M565 1534.9h0M719.2 1644.7h0M573.4 1743.9h0M790 1560.1h0M762.8 1553.7h0M583 1532.2h0M568.5 1652.8h0M777 1673.6h0M563.9 1706.2h0M635.3 1684h0M608 1720.3h0M782.2 1528.6h0M634.7 1612.4h0M652 1759.3h0M776.9 1555h0M626.9 1576.4h0M728.6 1635.8h0M647 1689.9h0M646 1707.9h0M603.8 1555.3h0M695.7 1658.1h0M570.1 1573.2h0M776.2 1670.1h0M671.3 1747.8h0M688.7 1619.4h0M589.2 1571.8h0M620.9 1591.3h0M597.7 1589.4h0M572.5 1743.8h0" stroke="#2f3592" stroke-width="6.2"/>
<path d="M604.6 1745.5h0M655.4 1601.5h0M628.2 1594.1h0M676.1 1765.1h0M617.6 1664.1h0M681.8 1739.8h0M816.8 1652.1h0M613.1 1670.8h0M640.6 1579.4h0M624.8 1649.8h0M584.1 1691.2h0M594.1 1646.6h0M590.6 1766.3h0M708.2 1687.2h0M624.9 1638.2h0M820.4 1542.6h0M604.4 1762.1h0M722.3 1563.5h0M705.5 1670.9h0M585.2 1727h0M630.1 1640.4h0M575.3 1632h0M805.8 1565.2h0M620 1622.7h0M691.3 1647.5h0M596.5 1751.6h0M746.7 1560.6h0M659.6 1654h0M588.1 1600.6h0M623.1 1666h0M627 1748.7h0M692.9 1719.8h0M568.6 1758.5h0M763.9 1563.1h0M579 1734h0M569.7 1593.8h0M637.4 1629.9h0M651.5 1679.2h0M758.8 1636.2h0M591.3 1609.2h0M583.4 1575.6h0M603.2 1684.6h0M673.6 1724.7h0M778.7 1567.1h0M708.2 1566h0M801 1634.7h0M578.1 1716.2h0M652.4 1668.7h0M632.2 1660.2h0M614.8 1572.4h0M814.2 1568.9h0M649.5 1762h0M579.2 1602.7h0M803.3 1555.8h0M713.5 1654h0M636.7 1592.5h0M799.8 1620.3h0M575 1647.3h0M778.9 1589.2h0M674.7 1754.2h0M610 1676.1h0M695.7 1576.2h0M703.1 1599.2h0M580.9 1612.5h0M594.3 1690.8h0M782.6 1614.4h0M738.4 1516.4h0M773.2 1541.3h0M623 1727.9h0M760.7 1610.2h0M581.1 1693.8h0M621.6 1720h0M713.2 1545.6h0M716.1 1558.6h0M714.4 1524.6h0M804.4 1603.9h0M630.4 1731.5h0M579.3 1704.6h0M562.6 1636.6h0M625.5 1715.9h0M783.4 1651.9h0M745.8 1611.4h0M821.9 1599.2h0M605.3 1643.6h0M607.1 1624.9h0M787.4 1644.7h0M668 1667.4h0M625.9 1597.2h0M608.8 1647.2h0M798 1592.7h0M610.8 1645h0M713.4 1657.6h0M605 1575.2h0M705.5 1576.4h0M628.5 1756.6h0M613.8 1673.8h0M656.4 1699.9h0M743.1 1568.5h0M763 1600.3h0M791.2 1549.2h0M785.4 1551.7h0M782.9 1574.3h0M663.5 1658.9h0M756.6 1515.8h0M779.1 1564.2h0M615.3 1654.1h0M811.6 1546.9h0M732.8 1526.1h0M653 1692.7h0M714.3 1545.6h0M712.8 1567.3h0M599.9 1694h0M682.1 1651.7h0M773 1597.6h0M578.4 1589.2h0M797.2 1625.4h0M808.3 1596.9h0M713.9 1522.8h0M713.5 1506h0M653.8 1636.7h0M589.2 1729.9h0M652.9 1598.7h0M804 1506.3h0M804 1545.3h0M799 1646.2h0M743 1622h0M781.4 1657.2h0M805.2 1663.1h0M782.1 1626.8h0M769.7 1509.7h0M643.2 1736h0M769.5 1549.7h0M766.2 1658.4h0M722.7 1576.5h0M625.2 1662.7h0M663.5 1742.8h0M686.6 1744.8h0M662.6 1754.3h0M750.6 1545.1h0M723.3 1618.1h0M720.9 1529.2h0M710.2 1691.8h0M792.1 1568.9h0M772.8 1597.5h0M725.2 1540.7h0M762.2 1611.6h0M605.8 1611.1h0M618.4 1643.2h0M577.1 1640.9h0M784.4 1538h0M725.1 1535.4h0M627.1 1652.2h0M582.3 1509.7h0M669.3 1739.3h0M622.7 1692.1h0M645.6 1675.2h0M809.1 1654.1h0M672.4 1756.8h0M809.6 1558h0M640 1767.5h0M671.6 1642.6h0M605.6 1668h0M715.8 1518.1h0M779.6 1544.9h0M584 1554.2h0M789.3 1531.2h0M758.7 1526.3h0M683.5 1679.3h0M569.7 1559.3h0M788.3 1607.2h0M583.2 1566.3h0M594.8 1647.6h0M661.8 1668.7h0M652.5 1672.7h0M701.4 1612.5h0M823.7 1550.2h0M649.2 1592.2h0M781.1 1612.8h0M571.5 1576.9h0M657.3 1682.5h0M763.9 1572.9h0M635.2 1630.9h0M630.1 1754.7h0M636.6 1649.6h0M578.9 1612.1h0M591.8 1735.2h0M593.8 1684.7h0M620.4 1655.2h0M564 1589.8h0M687.5 1602.7h0M594.8 1657h0M605.7 1589.2h0M759.6 1520.4h0M580.9 1609.5h0M686.2 1688.8h0M670.3 1658.2h0M741.6 1528.9h0M813.3 1578.5h0M729.9 1587.1h0M821.7 1614.4h0M590.6 1603.3h0M678 1684.3h0M765.6 1609.5h0M768.8 1584.1h0M586.3 1687.3h0M657.8 1644.6h0M684.7 1689.7h0M619.7 1732h0M641.8 1718.7h0M796.5 1648.6h0M728.3 1558.2h0M682.4 1651.1h0M775.8 1612h0M672.5 1729.7h0M820.2 1631.8h0M656.5 1711.6h0M637.1 1629.2h0M786.3 1553.8h0M681.4 1724.8h0M694.6 1636.6h0" stroke="#3a47b0" stroke-width="4.2"/>
<path d="M703.8 1675.1h0M812.4 1549.6h0M823.6 1638.8h0M596.6 1740.4h0M671.5 1661.3h0M619.8 1749h0M646.5 1637.8h0M662.8 1611.1h0M814.2 1604.6h0M682.8 1594.5h0M676.3 1595.4h0M580.7 1670.9h0M636.1 1728.3h0M677.7 1608.3h0M601.8 1727.2h0M781.7 1605.9h0M770.6 1645.2h0M597.2 1761.5h0M818.2 1564.4h0M682.1 1626h0M820.3 1535.5h0M606.3 1729.5h0M623.2 1699h0M796.1 1642.2h0M635.5 1601.1h0M644.7 1609.3h0M563.6 1627.8h0M769.5 1647.2h0M699.9 1698h0M567.7 1751.3h0M571.9 1612.7h0M632.4 1632.6h0M741.4 1554.6h0M632.7 1736.8h0M689.8 1602.8h0M695.1 1619.7h0M664.9 1751.5h0M628 1606.1h0M761.8 1505.9h0M652.1 1716.9h0M774.6 1530.2h0M742 1543.8h0M804.2 1554.7h0M697 1724.1h0M639.2 1581.3h0M590.9 1703.6h0M610.7 1751.5h0M568 1523.7h0M799.9 1575.6h0M634 1563.7h0M633.4 1579.6h0M712.6 1518.4h0M657.6 1730.4h0M717.8 1700.2h0M585.9 1730.7h0M672 1757.5h0M724.8 1561.7h0M729.5 1768.9h0M616.9 1732.4h0M749.1 1506.1h0M614.7 1568.5h0M793.9 1651.3h0M751.9 1574.1h0M563.5 1586.5h0M759.9 1593.4h0M696.6 1566.7h0M613.6 1666.8h0M819.7 1656h0M644.2 1602.6h0M575.5 1679.6h0M735.5 1580.4h0M654.5 1599.8h0M719.4 1547.2h0M707.7 1574.1h0M679.7 1699.7h0M571.2 1579h0M793.9 1657.3h0M586.1 1564.9h0M669.1 1727.8h0M789.1 1576.2h0M673.6 1676.3h0M580.6 1519.5h0M579.4 1677.5h0M651.6 1720.6h0M597.2 1677.6h0M696.3 1769.9h0M629.1 1615.3h0M731.8 1535.9h0M630 1707.5h0M672.7 1612.3h0M709.8 1570.2h0M725 1518.2h0M588 1730.9h0M693.2 1735.5h0M818.4 1605.9h0M676.6 1609.4h0M814.6 1565.7h0M562.4 1648.6h0M727.4 1576.7h0M624.3 1620h0M593.5 1750.9h0M620.1 1562.8h0M806.5 1597.5h0M673.4 1628.7h0M667.1 1725.2h0M633 1624.5h0M646.8 1733.4h0M784.3 1631.9h0M567.4 1533.2h0M699.2 1619.7h0M600.1 1699.4h0M664.4 1629.9h0M638.6 1672.4h0M610.5 1701.3h0M759.6 1611.8h0M712 1518.7h0M760.4 1636.7h0M614.7 1744.6h0M688.7 1606.1h0M741.2 1548.6h0M591.7 1706.2h0M664.6 1690.6h0M619.9 1635h0M807.7 1508.9h0M703.2 1572.9h0M573 1578.1h0M563.2 1762.6h0M778.9 1505.7h0M697.1 1588.7h0M761.3 1584.5h0M605.5 1571.2h0M605.7 1722.6h0M766.1 1651.3h0M680.4 1590.3h0M778.4 1578.9h0M687.8 1768.7h0M617 1734.7h0M804.7 1559.6h0M689.2 1725.2h0M723.4 1544.6h0M642.5 1624.5h0M735.2 1532h0M723.4 1626h0M563.1 1582.4h0M675.6 1612.8h0M711.2 1671.1h0M699.3 1674.7h0M793 1585.5h0M696 1556.7h0M799.1 1557.8h0M716.7 1574.3h0M804.7 1630.2h0M734.8 1534h0M656.3 1725h0M563.1 1642.5h0M596.6 1566.1h0M718.9 1646.4h0M677.4 1765.9h0M679.7 1755h0M696.8 1639.9h0M799.5 1651h0M618.8 1673.3h0M594.7 1734.3h0M624.1 1623.9h0M563.3 1559.9h0M717.1 1624.7h0M723.6 1518.1h0M592.8 1612.3h0M760.2 1522.2h0M780.1 1574.9h0M663.2 1711.9h0M642.4 1600.1h0M716 1688.3h0M675.1 1761.6h0M587.9 1761.2h0M725.4 1620.1h0M810.4 1619.6h0M734.2 1559.3h0M755.5 1579h0M744.8 1621.8h0M683.2 1667.6h0M810.5 1558.7h0M619.7 1662.8h0M815.9 1602.5h0M638.3 1659.3h0M712.8 1620.1h0M746.1 1518.2h0M822 1609h0M630.4 1602.9h0M817 1558.3h0M741.8 1537.2h0M567.8 1517.1h0M752 1612.4h0M710.9 1696.9h0M768 1590.8h0M631.9 1723.7h0M784.1 1521h0M565.5 1528.8h0M748.6 1608.6h0M638.1 1696h0M804.1 1548.1h0M578.9 1641.4h0M784.9 1651.1h0M744.4 1562.2h0M636.8 1705.8h0M635 1752.9h0M562.3 1638.4h0M605.4 1607.4h0M593.9 1732.6h0M563.3 1663.1h0M785.8 1531.6h0M788.1 1651.4h0M708.8 1667.3h0M796.7 1513.8h0M634.4 1755.8h0M606.9 1591.4h0M630.8 1649.4h0M689.2 1734h0M636.3 1693.2h0M576.4 1742.6h0M693.1 1742.5h0M648.5 1589.8h0M744.1 1571.1h0M658.3 1640.9h0M686.9 1717.3h0M722.1 1551.9h0M794.9 1600.5h0M683.4 1589.3h0M599.9 1625.4h0M649.2 1732.9h0M682 1597h0M644.5 1726.1h0M632.9 1652.5h0M605.6 1656h0M725.5 1542.4h0M562.2 1766.3h0M675.6 1619.1h0M674.7 1759.1h0M745.9 1585.2h0M790.1 1568.9h0M610.6 1618.6h0M598 1605.4h0M819.5 1521.2h0M577.6 1608.8h0M604.7 1574h0M683.4 1751.6h0M576.4 1651.5h0M701 1770h0M630 1611.2h0M579.8 1580.9h0M603.6 1622.9h0M579.5 1637.9h0M652.8 1753.1h0M810.4 1567.8h0M804.4 1594.2h0M811 1650.4h0M725.7 1634.8h0M575.4 1588.5h0M713.2 1676.3h0M564 1607.9h0M612.4 1577.8h0M615.8 1705.1h0M726.4 1543.2h0M639.1 1585.7h0M721.3 1610.1h0M756.7 1580.9h0M616.6 1638.2h0M580.2 1715.1h0M621.3 1570.9h0M607.1 1631.6h0M745.7 1612.1h0M694.9 1633.2h0M608.9 1712.4h0M682.7 1742.8h0M637.2 1662.2h0M615.2 1623.2h0M649.6 1642.2h0M739.1 1553.2h0M638.1 1588.6h0M698.1 1665.4h0M761 1515.1h0M815 1619.7h0M643.6 1710.9h0M594.5 1660.9h0M728.2 1505.9h0M816 1548.8h0M761.8 1559.8h0M692.5 1631h0M659.8 1732.4h0M616.9 1633.6h0M633.2 1670.4h0M589.9 1682.3h0M768.5 1530.7h0M688.9 1688.5h0M671.6 1737.1h0M620.6 1693.2h0M713.5 1712.3h0M813.1 1534.8h0M678.3 1695.4h0M621.2 1711.8h0M577.7 1664.4h0M584.7 1549.3h0M688.7 1655.3h0M783 1577.1h0M604.4 1683.9h0M738.3 1628.4h0M647.2 1664h0M668.8 1669.5h0M671.4 1638.1h0M808.8 1597.6h0M576.2 1725.3h0M721.2 1549.1h0M763.6 1624h0M650.5 1605.3h0M675.6 1596.7h0M673.7 1668.8h0M798.9 1598.8h0M732.3 1591.3h0M590.1 1577.8h0M695.5 1756.5h0M690.2 1687.3h0M588.8 1580.5h0M590.5 1665.6h0M613.1 1558.9h0M755.6 1564.5h0M768.1 1514.5h0M661.1 1730.6h0M642.7 1669.4h0M642.7 1700.2h0M598.6 1690.2h0M815.8 1594.1h0M730.5 1552.6h0M637.7 1741.4h0M602 1620.5h0M677.3 1744.2h0M697 1734.6h0M645.9 1720.4h0M787.1 1576.2h0M569.6 1576.3h0M572.8 1583.7h0M680.8 1678.1h0M606 1620.9h0M796.2 1515.3h0M715.7 1679.4h0M783.1 1649.6h0M793.2 1604.7h0M680.4 1702.4h0M580 1723.5h0M562.5 1507h0M676.1 1612h0M726.4 1540.8h0M595.3 1624.5h0M732.5 1556.7h0M592.8 1673.9h0M707.2 1769.3h0M787.3 1650.6h0M751.7 1588.3h0M635.1 1668.3h0M653.3 1767.3h0M753.4 1609.8h0M628.7 1567.2h0M581.5 1740.1h0M698.5 1738.7h0M655.6 1757.6h0M733.4 1587.5h0M665.3 1692.5h0M806.5 1546.2h0M713.7 1703.1h0M570.9 1615.7h0M782 1513.5h0M635.5 1693.9h0M722.6 1512.1h0M666.9 1689.9h0M791.2 1592.3h0M582.6 1637.8h0M690.7 1678.3h0M618.8 1564.6h0M693.6 1687.6h0M787.1 1538.7h0M602 1660.5h0M794.9 1643.9h0M634.8 1734.7h0M675.1 1760.4h0M623.3 1753.6h0M676.6 1691.9h0M600 1661.4h0M759.2 1524.2h0M660.8 1747h0M689.6 1617.9h0M640.8 1760.2h0M606.5 1735.3h0M636 1562.1h0M588.6 1739.6h0M662 1628.1h0M660.3 1748.7h0M649.6 1744.5h0M776.8 1535.1h0M778.7 1507.3h0M660.7 1761.2h0M741.5 1523.2h0M813.8 1557.9h0M569.6 1621.7h0M585.7 1506.1h0M570.2 1568.3h0M577.9 1554.5h0M574.7 1530.2h0M660.1 1692h0M623.4 1670.9h0M661.6 1699.2h0M583.5 1735.2h0M670.7 1710.9h0M630.5 1636.2h0M582.2 1633.2h0M705.9 1699.1h0M579.8 1525.9h0M580.8 1579.4h0M638.5 1668.2h0M663.7 1593.2h0M702.2 1596.1h0M747.7 1551.9h0M809.3 1631.9h0M686.2 1768.5h0M713.7 1551.5h0M571.5 1666.8h0M615.8 1614.9h0M572.3 1550h0M676.2 1759.2h0M599.7 1719.2h0M618 1713.5h0M680.7 1704.3h0M795.8 1619.1h0M603.6 1574.4h0M587.7 1589.3h0M660.2 1641.4h0M739.6 1538.8h0M611.7 1721.8h0M581.9 1595.4h0M746.8 1562h0M761.7 1564h0M632 1742.6h0M658 1605.9h0M624.2 1740h0M659.5 1637.2h0M793 1659.3h0M823.2 1682.3h0M608.6 1621.6h0M679.7 1766.7h0M615.1 1730.3h0M668.5 1648.3h0M655.3 1644.2h0M590.7 1675.4h0M774.7 1537.2h0M676.4 1639.4h0M656.8 1652.2h0M712 1622.4h0M610.4 1599h0M683.8 1621.2h0M791.8 1600.4h0M588.5 1519h0" stroke="#3a47b0" stroke-width="5.2"/>
<path d="M686.4 1679.6h0M608.7 1689.8h0M726.3 1574.8h0M682.5 1732h0M597.7 1565h0M728.6 1629.1h0M622.5 1607.4h0M643.2 1599.3h0M780.8 1644.6h0M737.5 1582.6h0M800.8 1589.1h0M719.3 1624.7h0M743.3 1529.7h0M772.5 1614.9h0M813.4 1614.2h0M614.4 1611h0M704.3 1541.8h0M678.9 1596.4h0M798.6 1530.6h0M657.3 1655.3h0M796.3 1565.3h0M581.3 1606.5h0M727.2 1565.4h0M731 1534.3h0M648.9 1681.4h0M591.4 1582.4h0M749.4 1562.5h0M708 1551.8h0M776.6 1530.1h0M604.4 1704.5h0M617.8 1637.8h0M597 1691.6h0M571.5 1566.6h0M735.5 1580h0M737.2 1512.9h0M817.8 1507.4h0M757.7 1518.8h0M753 1603.1h0M775.7 1656.4h0M815.7 1570.5h0M614.9 1759.2h0M812.7 1526.7h0M567.3 1633.9h0M776.3 1581.3h0M780 1633.1h0M647.3 1586.6h0M773.1 1600.9h0M626.9 1592.8h0M625.2 1702.7h0M599.7 1596.1h0M570.2 1541.7h0M649.4 1651h0M611.6 1731.1h0M734.3 1546h0M758.1 1547.3h0M689.7 1638.1h0M713.9 1517.1h0M772.6 1625.9h0M771.8 1652.8h0M674.6 1624.1h0M676.6 1620.9h0M799.8 1548.3h0M633.7 1628.3h0M649.5 1597h0M672.2 1661h0M785.5 1665.5h0M644.4 1592.9h0M627.4 1613.8h0M761.2 1535.6h0M761.9 1569.6h0M564.4 1616.4h0M579.1 1564.7h0M816.6 1533.9h0M695.8 1557.3h0M611.8 1691.9h0M730.1 1521.8h0M661.7 1719.5h0M810.1 1568.6h0M686.8 1702.8h0M642.8 1732.9h0M646.6 1731.3h0M774.4 1674.5h0M661.5 1751.6h0M756.8 1632.6h0M640.6 1600.7h0M781.2 1639.1h0M568 1729.5h0M602.1 1666.6h0M612.1 1664.6h0M756.6 1601.3h0M802 1521.6h0M608.6 1582.5h0M594.9 1648.2h0M655.2 1627.2h0M620.8 1688.1h0M597.1 1564.6h0M820.1 1587h0M634.9 1723.6h0M607.2 1768.6h0M810 1655.4h0M796.1 1654.9h0M741.2 1566.8h0M658.4 1715.4h0M773.5 1599.6h0M731.8 1548.7h0M581.6 1633.8h0M821.2 1590h0M745.9 1568.7h0M663.2 1764.9h0M587.1 1598.8h0M661.9 1613.3h0M629.1 1686.9h0M600.5 1610.9h0M601.4 1604.6h0M817.9 1571.3h0M781.4 1551.7h0M604.3 1706.3h0M701.3 1572.8h0M646.9 1589.3h0M679.8 1616h0M724.6 1631h0M722.9 1601.7h0M618.5 1559h0M785.6 1559.6h0M578.4 1583.3h0M648 1631.3h0M725.6 1522.6h0M655.1 1608.8h0M596.3 1665h0M702.8 1723.5h0M673.7 1607.9h0M617.2 1688.5h0M581.7 1734.4h0M609.8 1642.2h0M690.3 1712h0M612 1678.7h0M593.8 1668.4h0M734.2 1534.9h0M567.4 1524h0M596.2 1749.8h0M737.2 1560.2h0M765.5 1526.9h0M796.1 1577.9h0M594 1744h0M668.1 1769.4h0M577.7 1741.8h0M798.3 1533.2h0M627.9 1615h0M619.4 1728.7h0M783 1536.4h0M746.7 1539.5h0M730.3 1596.7h0M776 1617h0M593.2 1562.9h0M632.3 1670.4h0M813.2 1528.7h0M635.9 1563.7h0M762 1666.9h0M707.5 1673.7h0M771.6 1651.7h0M814 1576.8h0M589.6 1603.6h0M771.2 1551h0M792.8 1526.5h0M808.7 1596.7h0M681.7 1752.2h0M698 1691h0M640.8 1602.8h0M637 1728.8h0M632.5 1683.2h0M802 1553.6h0M607.2 1765.4h0M772.5 1511.7h0M749.6 1555.1h0M613.7 1728.5h0M593.5 1558.2h0M758.4 1558.9h0M773.2 1560.4h0M578.4 1593.9h0M716.6 1612.5h0M797.6 1642h0M668.1 1736.2h0M672.3 1650.8h0M674.7 1630.6h0M796.2 1606.4h0M802.4 1596.6h0M570.5 1548.6h0M628.4 1650.5h0M692 1601.9h0M667.2 1667.3h0M681.2 1682.8h0M807.7 1521.6h0M589.5 1556.9h0M741.7 1586.3h0M801.6 1611.6h0M562.6 1510.6h0M693.6 1738.3h0M675.8 1603.7h0M643.7 1769.8h0M653.7 1685.5h0M708.4 1646.9h0M685.2 1672.5h0M785 1630.9h0M676.7 1737.9h0M591.6 1732h0M654.4 1663h0M592.5 1693.9h0M600.5 1693.5h0M661.2 1598h0M794.3 1645.2h0M753.6 1607.4h0M787.2 1662h0M746.8 1573h0" stroke="#3a47b0" stroke-width="6.2"/>
<path d="M620.6 1767.7h0M800.6 1647.1h0M748.1 1555.2h0M703 1707.1h0M641 1768.1h0M582.4 1749.3h0M769.8 1523.4h0M584.9 1557h0M576.6 1596.7h0M781.4 1544.2h0M671.9 1754.1h0M689.2 1738.7h0M722.4 1630.9h0M644.9 1708h0M786.8 1604.3h0M729.5 1602.3h0M729.5 1584.3h0M797.8 1617.1h0M608 1695h0M697.3 1651.4h0M696.7 1575.3h0M651.7 1609.1h0M623.5 1654h0M722.7 1519.8h0M607.3 1586.7h0M806.5 1631.9h0M649 1714.8h0M574.8 1546.4h0M819.7 1626.1h0M683.6 1618.1h0M603.3 1717.9h0M758.3 1518.1h0M578 1600.3h0M676.7 1666.8h0M645.5 1657.9h0M741.6 1561.1h0M713.4 1684.1h0M641.6 1712.5h0M615.7 1768.6h0M586 1562.7h0M609.7 1653.9h0M590.7 1714h0M605.5 1575.9h0M634.7 1722.2h0M626.2 1744.2h0M618.1 1574.1h0M655.6 1633.6h0M573 1551.9h0M651.8 1700.8h0M581.5 1703.2h0M747.6 1519.8h0M613 1688.1h0M743.7 1557.5h0M775.9 1654.5h0M689.8 1592.3h0M800.3 1578.4h0M811.3 1527h0M714.5 1623h0M596.4 1643.1h0M593.5 1588.3h0M681.5 1638.4h0M710 1549.6h0M743.6 1520.1h0M689.5 1718.7h0M592.7 1758.2h0M639.3 1717.9h0M705.5 1703.8h0M619.6 1751.9h0M586.4 1625.1h0M750.1 1552.6h0M731.9 1513.7h0M670 1650.2h0M602 1572h0M659.5 1616h0M571.2 1528.9h0M599.8 1728.2h0M588.8 1684.3h0M642.9 1689.7h0M686.8 1747.1h0M590 1684h0M652.2 1692h0M568.4 1767.3h0M580.4 1552.8h0M779.5 1588.2h0M703.4 1637.6h0M568.4 1608.4h0M788.2 1531.4h0M657.4 1652.4h0M575.9 1522.7h0M818.4 1601.9h0M790.1 1554.1h0M790.7 1576.5h0M593.9 1677.8h0M593.5 1677.8h0M597.8 1753.2h0M618.7 1717.9h0M773.7 1590.2h0M780.1 1605.3h0M587.2 1580.4h0M666 1752h0M740.8 1558.3h0M711.1 1705.3h0M757.3 1631.7h0M792.3 1610.9h0M796.7 1629.9h0M598.5 1726h0M652.5 1639.2h0M763.8 1568.1h0M596.4 1610.9h0M706.5 1559.2h0M596.5 1581.1h0M748.5 1544.4h0M621.5 1625h0M790.6 1568.6h0M600.1 1576.5h0M654.5 1676.6h0M768.7 1552.5h0M588.1 1632.9h0M780 1562.1h0M601.8 1677.1h0" stroke="#4558c8" stroke-width="4.2"/>
<path d="M564.9 1604.6h0M708.3 1680.6h0M652.2 1674.1h0M616.8 1579.9h0M638.4 1736.8h0M814.5 1602.4h0M717.7 1708.2h0M705.6 1663.2h0M758.8 1580.8h0M585 1759.5h0M803.9 1624.7h0M822.5 1654.3h0M606.1 1767.8h0M781.9 1554.2h0M714 1677.2h0M648.5 1696.2h0M779 1511h0M605 1746.6h0M804.1 1560.2h0M586.1 1657.5h0M634.8 1717.6h0M780.8 1601.2h0M814.3 1558.9h0M642.5 1744h0M617.8 1688.8h0M685 1735.5h0M684 1698.8h0M818.9 1545.8h0M776.3 1541.4h0M695.2 1625.7h0M615.3 1711.1h0M664.1 1742.9h0M650.3 1672.1h0M819.8 1555h0M699.7 1555h0M587.9 1595.4h0M677.8 1677.8h0M820 1632.9h0M646.2 1760.4h0M766 1589.9h0M632.2 1685.4h0M594.9 1770.4h0M694.4 1736.1h0M627.1 1674.1h0M710.3 1715.3h0M711.8 1693.5h0M745.1 1579.6h0M799.3 1570.8h0M678.4 1709.8h0M736.2 1590.5h0M698.9 1631.3h0M711.7 1510.4h0M755.4 1632.5h0M588.6 1546.4h0M573.5 1653.5h0M785.6 1564.4h0M777.2 1576.3h0M601.7 1653.5h0M614.1 1627h0M691.7 1654.1h0M695.7 1766.1h0M771.8 1579.9h0M604 1673.7h0M638.1 1655.6h0M811.8 1614.7h0M663.9 1688.5h0M628.6 1702.5h0M656.4 1702.8h0M782.4 1545.7h0M676.8 1741.7h0M600.3 1652h0M784.8 1555h0M583.9 1556.8h0M799 1545.2h0M613 1624h0M812 1571.2h0M722.7 1557.5h0M780.5 1641.5h0M650.6 1668.4h0M565.8 1515.2h0M761.6 1554.5h0M690.6 1674.1h0M589.7 1650.7h0M562.9 1536.6h0M767.2 1666.6h0M688.2 1614.8h0M791.2 1595.1h0M621 1718.4h0M631.1 1676.8h0M597.6 1600.8h0M597.4 1734.5h0M641.9 1630.1h0M644.8 1663.3h0M728.4 1618h0M611 1662.2h0M640.6 1694.5h0M806 1589.7h0M746.5 1615.4h0M575.4 1596.2h0M586.3 1543.9h0M634.7 1635.1h0M671.1 1614.5h0M620.8 1729.2h0M583.8 1725.3h0M715.3 1702.8h0M789.4 1620h0M715.8 1563.3h0M654.2 1645.1h0M788.2 1583.6h0M725.9 1526.6h0M617.1 1620.6h0M584.7 1561.3h0M653.8 1723.5h0M603.6 1713h0M610.3 1596.3h0M711.6 1661.1h0M793.4 1639h0M764.8 1553.1h0M562.6 1636.3h0M616.6 1627.7h0M814.8 1505.5h0M583.9 1555.5h0M660.4 1658.1h0M713.9 1705h0M581.8 1624.4h0M584 1653.1h0M794.9 1540h0M761.4 1632.1h0M763.5 1612h0M635.1 1603.5h0M676 1599.2h0M802 1583.4h0M784 1578.1h0M619.6 1608.8h0M673.8 1769.2h0M608.1 1690.9h0M806.3 1546.9h0M737.7 1508.9h0M676.2 1638.8h0M702.7 1572.8h0M577.3 1658.4h0M669.9 1703.6h0M588.3 1601.8h0M594.6 1708.8h0M796.5 1566.4h0M785.4 1654.1h0M595.2 1646.2h0M666 1745h0M685.9 1609.6h0M704.3 1620.7h0M597 1611.8h0M651.3 1603.5h0M653.3 1606.8h0M575.6 1521.6h0M702.5 1762.6h0M643.2 1587.1h0M715.9 1505.9h0M736.5 1597.9h0M723.7 1564.8h0M652.5 1754.1h0M625.7 1713.9h0M796.9 1525.7h0M767 1562.8h0M780.9 1585.6h0M811.5 1594.7h0M720.9 1508.4h0M703.5 1553.3h0M680.8 1726.3h0M670.3 1769.1h0M797.2 1640.2h0M565.1 1561.9h0M600.2 1615.2h0M652.8 1750.2h0M583.2 1751.4h0M700.2 1668.7h0M582 1568.3h0M603 1693.6h0M806.8 1630.8h0M787.9 1658.8h0M675 1755h0M627.1 1751h0M679.5 1749.8h0M635.6 1762.4h0M590.9 1693.2h0M743.1 1521.5h0M773.2 1644.2h0M593.4 1717.7h0M748.2 1511.6h0M601.1 1597.1h0M651.8 1647.5h0M696 1689.4h0M659.3 1688.3h0M772.1 1525.7h0M795.4 1590.7h0M602.4 1646.7h0M682.9 1680.1h0M654.1 1615.2h0M563.2 1650h0M633.2 1701.3h0M669 1630.9h0M667.9 1705.4h0M661 1621.7h0M633.2 1592.6h0M765.1 1663.7h0M701.5 1657.4h0M718.5 1697.3h0M632.9 1694.4h0M683.8 1660.8h0M610.9 1601.3h0M682.6 1639h0M583.6 1707.1h0M563.4 1581.9h0M773.5 1597.2h0M591.4 1506.7h0M639.4 1678.4h0M771.5 1524.2h0M667.4 1608.3h0M715.4 1645.1h0M821.1 1606.8h0M591.8 1694.8h0M713.6 1576.6h0M586.2 1615.6h0M652.6 1625.6h0M801.5 1632.1h0M681.6 1651.1h0M673.3 1683.1h0M792.6 1536.7h0M649.9 1594.3h0M594.2 1727.4h0M765.2 1552.9h0M597.9 1747.6h0M772.5 1522.7h0M804.9 1626.7h0M668.5 1694.6h0M701.1 1619.3h0M767.7 1633.4h0M622.8 1562.3h0M799.7 1648h0" stroke="#4558c8" stroke-width="5.2"/>
<path d="M729.6 1566h0M806.9 1602.1h0M600.9 1573.9h0M673.1 1679.9h0M690.8 1732.2h0M687.5 1759.6h0M773.7 1548.6h0M622.4 1591.6h0M603.5 1621.4h0M594.1 1606.8h0M576.9 1563.9h0M593.9 1707.2h0M766.1 1615.5h0M609.5 1558.4h0M670.5 1619.6h0M621.8 1617.5h0M814.8 1633.7h0M611.9 1744.5h0M568 1651.8h0M797.8 1555.2h0M671.4 1603.9h0M618.5 1742.7h0M595.7 1632.2h0M712.8 1655.2h0M702.2 1618.3h0M786.6 1545.2h0M801.5 1635.9h0M620.5 1716.6h0M593 1721.3h0M666.1 1628.9h0M599.8 1698.5h0M807 1640.3h0M794.8 1605.2h0M607.1 1670.6h0M806.8 1588.8h0M568 1598.3h0M602 1671.4h0M609.5 1696.2h0M638.5 1750.9h0M637.9 1666.5h0M589 1649.6h0M817 1554.4h0M636.2 1694h0M668 1636.7h0M584.3 1586.1h0M745.2 1525.9h0M769.8 1574.2h0M755.7 1541.8h0M713.4 1684.2h0M641.7 1586.4h0M585.9 1761.1h0M602 1681.5h0M604.3 1663.6h0M643.3 1736.1h0M666.1 1614.6h0M707.4 1683.4h0M738.2 1573.9h0M781.5 1635.7h0M612 1615.4h0M633 1696.2h0M566.6 1605.3h0M660.9 1660.9h0M817.2 1505.4h0M599.5 1681.1h0M637.3 1643.9h0M751.7 1517.9h0M671.9 1754.6h0M723 1508h0M570 1541.1h0M610.7 1703.3h0M689.5 1693.6h0M605 1690h0M619.5 1680.6h0M581.3 1763.7h0M807.7 1580.3h0M801.9 1571.8h0M604.3 1755.2h0M612.9 1591.7h0M597 1564.8h0M786 1572.2h0M592.5 1604h0M669.7 1756.1h0M735.5 1583.6h0M798.5 1539.4h0M820.7 1510.8h0M624.9 1674.1h0M618.3 1607.8h0M665.1 1684.6h0M681.9 1642.6h0M731.8 1576.6h0M601.4 1578.5h0M817.3 1578.6h0M697.8 1727.1h0M631.8 1707.9h0M811.5 1600.2h0M622.7 1611h0M702.7 1567.8h0M623.9 1765.6h0M587.8 1657.5h0M796.3 1609.3h0M792.8 1558.8h0M649.7 1717.4h0M650 1621.2h0M597.6 1761.2h0M789 1525.3h0M819.5 1565.2h0M801.6 1536.1h0M599.1 1606.3h0M582.8 1573.9h0M626.8 1694.6h0M720.3 1552.8h0M645 1770.1h0" stroke="#4558c8" stroke-width="6.2"/>
</g>
<g fill="#35cc62" filter="url(#mb)">
<circle cx="580.4" cy="1507.8" r="3.5"/>
<circle cx="596.1" cy="1536.9" r="3"/>
<circle cx="664.2" cy="1539.6" r="3.5"/>
<circle cx="656.4" cy="1543.6" r="2.5"/>
<circle cx="575.2" cy="1552.9" r="3"/>
<circle cx="585.7" cy="1572.8" r="4"/>
<circle cx="724.5" cy="1558.2" r="2.5"/>
<circle cx="758.5" cy="1527.7" r="2.5"/>
<circle cx="818.8" cy="1563.5" r="3"/>
<circle cx="602.7" cy="1596.7" r="4"/>
<circle cx="611.9" cy="1613.9" r="4"/>
<circle cx="638.1" cy="1608.6" r="2.5"/>
<circle cx="644.6" cy="1628.5" r="3.5"/>
<circle cx="645.9" cy="1637.8" r="3"/>
<circle cx="766.4" cy="1600.6" r="2.5"/>
<circle cx="803" cy="1643.1" r="3"/>
<circle cx="602.7" cy="1669.6" r="4"/>
<circle cx="610.6" cy="1668.3" r="3.5"/>
<circle cx="665.6" cy="1677.6" r="4.5"/>
<circle cx="674.7" cy="1675" r="4"/>
<circle cx="683.9" cy="1684.2" r="3.5"/>
<circle cx="611.9" cy="1690.9" r="2.5"/>
<circle cx="636.7" cy="1698.8" r="3"/>
<circle cx="653.8" cy="1710.8" r="3"/>
<circle cx="598.8" cy="1737.3" r="3"/>
<circle cx="691.7" cy="1744" r="5.5"/>
<circle cx="584.4" cy="1754.6" r="3"/>
<circle cx="745.4" cy="1682.9" r="2.5"/>
<circle cx="632.8" cy="1563.5" r="2.5"/>
<circle cx="724.5" cy="1664.3" r="2.5"/>
<circle cx="615.8" cy="1698.8" r="2.5"/>
<circle cx="661.6" cy="1584.7" r="2"/>
</g>
</g>
<rect x="291.1" y="1760.4" width="33.7" height="8.4" fill="#ffffff"/>
<text transform="translate(555.7 1798.4) scale(1.020 1)" font-size="21.5" text-anchor="middle" fill="#231f20"><tspan fill="#0ea050">H3Y1 </tspan><tspan fill="#3a53a4">DAPI</tspan></text>
<text transform="translate(867 1650) rotate(-90) scale(1.060 1)" font-size="21.5" text-anchor="middle" fill="#231f20">Percent H3Y1<tspan dy="-9.2" font-size="12">+</tspan><tspan dy="9.2"> cells</tspan></text>
<line x1="914" y1="1520.9" x2="914" y2="1779.6" stroke="#231f20" stroke-width="1.5"/>
<line x1="904.3" y1="1779.6" x2="978.7" y2="1779.6" stroke="#231f20" stroke-width="1.5"/>
<line x1="904" y1="1520.9" x2="914" y2="1520.9" stroke="#231f20" stroke-width="1.5"/>
<text transform="translate(895 1527.4) scale(1.050 1)" font-size="18.5" text-anchor="end" fill="#231f20">6</text>
<line x1="904" y1="1607.4" x2="914" y2="1607.4" stroke="#231f20" stroke-width="1.5"/>
<text transform="translate(895 1613.9) scale(1.050 1)" font-size="18.5" text-anchor="end" fill="#231f20">4</text>
<line x1="904" y1="1693.7" x2="914" y2="1693.7" stroke="#231f20" stroke-width="1.5"/>
<text transform="translate(895 1700.2) scale(1.050 1)" font-size="18.5" text-anchor="end" fill="#231f20">2</text>
<line x1="904" y1="1779.6" x2="914" y2="1779.6" stroke="#231f20" stroke-width="1.5"/>
<text transform="translate(895 1786.1) scale(1.050 1)" font-size="18.5" text-anchor="end" fill="#231f20">0</text>
<line x1="932.1" y1="1779.6" x2="932.1" y2="1790.6" stroke="#231f20" stroke-width="1.5"/>
<line x1="960.4" y1="1779.6" x2="960.4" y2="1790.6" stroke="#231f20" stroke-width="1.5"/>
<text transform="translate(944.5 1516.3)" font-size="34" text-anchor="middle" fill="#231f20" letter-spacing="1">****</text>
<line x1="933.3" y1="1519.4" x2="958.4" y2="1519.4" stroke="#231f20" stroke-width="1.5"/>
<line x1="960.4" y1="1572.2" x2="960.4" y2="1648.4" stroke="#231f20" stroke-width="1.5"/>
<line x1="960.4" y1="1572.2" x2="966" y2="1572.2" stroke="#231f20" stroke-width="1.5"/>
<line x1="960.4" y1="1648.4" x2="966" y2="1648.4" stroke="#231f20" stroke-width="1.5"/>
<circle cx="930.4" cy="1764" r="5.2" fill="#231f20"/>
<circle cx="934" cy="1765.7" r="5.2" fill="#231f20"/>
<circle cx="932.8" cy="1771" r="5.2" fill="#231f20"/>
<circle cx="936.6" cy="1773" r="5.2" fill="#231f20"/>
<circle cx="927.9" cy="1779.3" r="5.2" fill="#231f20"/>
<circle cx="959.6" cy="1531.3" r="5.2" fill="#e8313a"/>
<circle cx="964.1" cy="1564.8" r="5.2" fill="#e8313a"/>
<circle cx="964.1" cy="1589.6" r="5.2" fill="#e8313a"/>
<circle cx="955.9" cy="1595.8" r="5.2" fill="#e8313a"/>
<circle cx="955.9" cy="1607" r="5.2" fill="#e8313a"/>
<circle cx="964.3" cy="1608.2" r="5.2" fill="#e8313a"/>
<circle cx="955.9" cy="1633" r="5.2" fill="#e8313a"/>
<circle cx="955.9" cy="1649.9" r="5.2" fill="#e8313a"/>
<text transform="translate(942 1808) rotate(-45) scale(1.080 1)" font-size="22.5" text-anchor="end" fill="#231f20">sgControl</text>
<text transform="translate(981 1803) rotate(-45) scale(1.040 1)" font-size="22.5" text-anchor="end" fill="#231f20">sgDDX6</text>
<text transform="translate(1037.5 1293)" font-size="39" font-weight="bold" fill="#231f20" stroke="#231f20" stroke-width="1.2">n</text>
<text transform="translate(1276.2 1291.7) scale(1.100 1)" font-size="21.5" text-anchor="middle" fill="#231f20">Human ES cells</text>
<text transform="translate(1149.6 1321.4) scale(1.120 1)" font-size="21.5" text-anchor="middle" fill="#231f20">Primed</text>
<text transform="translate(1273 1321.4) scale(1.120 1)" font-size="21.5" text-anchor="middle" fill="#231f20">Naive</text>
<text transform="translate(1340.2 1321.4) scale(0.980 1)" font-size="21.5" fill="#231f20"><tspan font-style="italic">TPRX1</tspan>-GFP<tspan dy="-9.2" font-size="12">+</tspan></text>
<line x1="1092.4" y1="1335" x2="1206.1" y2="1335" stroke="#231f20" stroke-width="1.3"/>
<line x1="1218.4" y1="1335" x2="1333.7" y2="1335" stroke="#231f20" stroke-width="1.3"/>
<line x1="1342.8" y1="1335" x2="1458.2" y2="1335" stroke="#231f20" stroke-width="1.3"/>
<text transform="translate(1123.5 1417) rotate(-45) scale(1.040 1)" font-size="19" fill="#231f20">Control KD</text>
<text transform="translate(1177 1418.5) rotate(-45)" font-size="19" fill="#231f20"><tspan font-style="italic">DDX6</tspan> KD</text>
<text transform="translate(1250.3 1417) rotate(-45) scale(1.040 1)" font-size="19" fill="#231f20">Control KD</text>
<text transform="translate(1303.8 1418.5) rotate(-45)" font-size="19" fill="#231f20"><tspan font-style="italic">DDX6</tspan> KD</text>
<text transform="translate(1377.1 1417) rotate(-45) scale(1.040 1)" font-size="19" fill="#231f20">Control KD</text>
<text transform="translate(1430.6 1418.5) rotate(-45)" font-size="19" fill="#231f20"><tspan font-style="italic">DDX6</tspan> KD</text>
<g shape-rendering="crispEdges">
<rect x="1092.4" y="1427.1" width="62.4" height="13.9" fill="#0f75bc"/>
<rect x="1154.3" y="1427.1" width="62.4" height="13.9" fill="#e8253a"/>
<rect x="1216.1" y="1427.1" width="62.4" height="13.9" fill="#0f75bc"/>
<rect x="1278" y="1427.1" width="62.4" height="13.9" fill="#e8253a"/>
<rect x="1339.9" y="1427.1" width="62.4" height="13.9" fill="#0f75bc"/>
<rect x="1401.7" y="1427.1" width="62.4" height="13.9" fill="#e8253a"/>
<rect x="1092.4" y="1448.3" width="31.5" height="19.1" fill="#b4b7d7"/>
<rect x="1123.3" y="1448.3" width="31.5" height="19.1" fill="#9498c6"/>
<rect x="1154.3" y="1448.3" width="31.5" height="19.1" fill="#e78389"/>
<rect x="1185.2" y="1448.3" width="31.5" height="19.1" fill="#f5d2d4"/>
<rect x="1216.1" y="1448.3" width="31.5" height="19.1" fill="#e78389"/>
<rect x="1247.1" y="1448.3" width="31.5" height="19.1" fill="#e76269"/>
<rect x="1278" y="1448.3" width="31.5" height="19.1" fill="#dfe0ee"/>
<rect x="1308.9" y="1448.3" width="31.5" height="19.1" fill="#e78f94"/>
<rect x="1339.9" y="1448.3" width="31.5" height="19.1" fill="#a9add1"/>
<rect x="1370.8" y="1448.3" width="31.5" height="19.1" fill="#737ab4"/>
<rect x="1401.7" y="1448.3" width="31.5" height="19.1" fill="#898ec0"/>
<rect x="1432.7" y="1448.3" width="31.5" height="19.1" fill="#a9add1"/>
<rect x="1092.4" y="1466.8" width="31.5" height="19.1" fill="#fae8e9"/>
<rect x="1123.3" y="1466.8" width="31.5" height="19.1" fill="#e76d74"/>
<rect x="1154.3" y="1466.8" width="31.5" height="19.1" fill="#e78f94"/>
<rect x="1185.2" y="1466.8" width="31.5" height="19.1" fill="#e78389"/>
<rect x="1216.1" y="1466.8" width="31.5" height="19.1" fill="#fae8e9"/>
<rect x="1247.1" y="1466.8" width="31.5" height="19.1" fill="#f5d2d4"/>
<rect x="1278" y="1466.8" width="31.5" height="19.1" fill="#dfe0ee"/>
<rect x="1308.9" y="1466.8" width="31.5" height="19.1" fill="#f7dddf"/>
<rect x="1339.9" y="1466.8" width="31.5" height="19.1" fill="#b4b7d7"/>
<rect x="1370.8" y="1466.8" width="31.5" height="19.1" fill="#28328c"/>
<rect x="1401.7" y="1466.8" width="31.5" height="19.1" fill="#eaeaf4"/>
<rect x="1432.7" y="1466.8" width="31.5" height="19.1" fill="#737ab4"/>
<rect x="1092.4" y="1485.4" width="31.5" height="19.1" fill="#e78f94"/>
<rect x="1123.3" y="1485.4" width="31.5" height="19.1" fill="#e99a9f"/>
<rect x="1154.3" y="1485.4" width="31.5" height="19.1" fill="#e76d74"/>
<rect x="1185.2" y="1485.4" width="31.5" height="19.1" fill="#e7575f"/>
<rect x="1216.1" y="1485.4" width="31.5" height="19.1" fill="#eaeaf4"/>
<rect x="1247.1" y="1485.4" width="31.5" height="19.1" fill="#dfe0ee"/>
<rect x="1278" y="1485.4" width="31.5" height="19.1" fill="#eaeaf4"/>
<rect x="1308.9" y="1485.4" width="31.5" height="19.1" fill="#f4f5f9"/>
<rect x="1339.9" y="1485.4" width="31.5" height="19.1" fill="#898ec0"/>
<rect x="1370.8" y="1485.4" width="31.5" height="19.1" fill="#7e84ba"/>
<rect x="1401.7" y="1485.4" width="31.5" height="19.1" fill="#898ec0"/>
<rect x="1432.7" y="1485.4" width="31.5" height="19.1" fill="#898ec0"/>
<rect x="1092.4" y="1503.9" width="31.5" height="19.1" fill="#e78f94"/>
<rect x="1123.3" y="1503.9" width="31.5" height="19.1" fill="#e78389"/>
<rect x="1154.3" y="1503.9" width="31.5" height="19.1" fill="#e74b54"/>
<rect x="1185.2" y="1503.9" width="31.5" height="19.1" fill="#e7575f"/>
<rect x="1216.1" y="1503.9" width="31.5" height="19.1" fill="#a9add1"/>
<rect x="1247.1" y="1503.9" width="31.5" height="19.1" fill="#a9add1"/>
<rect x="1278" y="1503.9" width="31.5" height="19.1" fill="#a9add1"/>
<rect x="1308.9" y="1503.9" width="31.5" height="19.1" fill="#a9add1"/>
<rect x="1339.9" y="1503.9" width="31.5" height="19.1" fill="#a9add1"/>
<rect x="1370.8" y="1503.9" width="31.5" height="19.1" fill="#9ea3cb"/>
<rect x="1401.7" y="1503.9" width="31.5" height="19.1" fill="#b4b7d7"/>
<rect x="1432.7" y="1503.9" width="31.5" height="19.1" fill="#a9add1"/>
<rect x="1092.4" y="1522.4" width="31.5" height="19.1" fill="#737ab4"/>
<rect x="1123.3" y="1522.4" width="31.5" height="19.1" fill="#737ab4"/>
<rect x="1154.3" y="1522.4" width="31.5" height="19.1" fill="#737ab4"/>
<rect x="1185.2" y="1522.4" width="31.5" height="19.1" fill="#737ab4"/>
<rect x="1216.1" y="1522.4" width="31.5" height="19.1" fill="#e99a9f"/>
<rect x="1247.1" y="1522.4" width="31.5" height="19.1" fill="#e99a9f"/>
<rect x="1278" y="1522.4" width="31.5" height="19.1" fill="#e78389"/>
<rect x="1308.9" y="1522.4" width="31.5" height="19.1" fill="#f3c7c9"/>
<rect x="1339.9" y="1522.4" width="31.5" height="19.1" fill="#f5d2d4"/>
<rect x="1370.8" y="1522.4" width="31.5" height="19.1" fill="#e7787f"/>
<rect x="1401.7" y="1522.4" width="31.5" height="19.1" fill="#f9f9fc"/>
<rect x="1432.7" y="1522.4" width="31.5" height="19.1" fill="#f4f5f9"/>
<rect x="1092.4" y="1541" width="31.5" height="19.1" fill="#737ab4"/>
<rect x="1123.3" y="1541" width="31.5" height="19.1" fill="#737ab4"/>
<rect x="1154.3" y="1541" width="31.5" height="19.1" fill="#737ab4"/>
<rect x="1185.2" y="1541" width="31.5" height="19.1" fill="#737ab4"/>
<rect x="1216.1" y="1541" width="31.5" height="19.1" fill="#e99a9f"/>
<rect x="1247.1" y="1541" width="31.5" height="19.1" fill="#e78f94"/>
<rect x="1278" y="1541" width="31.5" height="19.1" fill="#e99a9f"/>
<rect x="1308.9" y="1541" width="31.5" height="19.1" fill="#eba5a9"/>
<rect x="1339.9" y="1541" width="31.5" height="19.1" fill="#f0bbbf"/>
<rect x="1370.8" y="1541" width="31.5" height="19.1" fill="#eba5a9"/>
<rect x="1401.7" y="1541" width="31.5" height="19.1" fill="#f7dddf"/>
<rect x="1432.7" y="1541" width="31.5" height="19.1" fill="#f7dddf"/>
<rect x="1092.4" y="1559.5" width="31.5" height="19.1" fill="#898ec0"/>
<rect x="1123.3" y="1559.5" width="31.5" height="19.1" fill="#9498c6"/>
<rect x="1154.3" y="1559.5" width="31.5" height="19.1" fill="#9ea3cb"/>
<rect x="1185.2" y="1559.5" width="31.5" height="19.1" fill="#898ec0"/>
<rect x="1216.1" y="1559.5" width="31.5" height="19.1" fill="#b4b7d7"/>
<rect x="1247.1" y="1559.5" width="31.5" height="19.1" fill="#dfe0ee"/>
<rect x="1278" y="1559.5" width="31.5" height="19.1" fill="#eaeaf4"/>
<rect x="1308.9" y="1559.5" width="31.5" height="19.1" fill="#f4f5f9"/>
<rect x="1339.9" y="1559.5" width="31.5" height="19.1" fill="#e78f94"/>
<rect x="1370.8" y="1559.5" width="31.5" height="19.1" fill="#e78389"/>
<rect x="1401.7" y="1559.5" width="31.5" height="19.1" fill="#f3c7c9"/>
<rect x="1432.7" y="1559.5" width="31.5" height="19.1" fill="#e72a34"/>
<rect x="1092.4" y="1578" width="31.5" height="19.1" fill="#898ec0"/>
<rect x="1123.3" y="1578" width="31.5" height="19.1" fill="#898ec0"/>
<rect x="1154.3" y="1578" width="31.5" height="19.1" fill="#898ec0"/>
<rect x="1185.2" y="1578" width="31.5" height="19.1" fill="#9498c6"/>
<rect x="1216.1" y="1578" width="31.5" height="19.1" fill="#dfe0ee"/>
<rect x="1247.1" y="1578" width="31.5" height="19.1" fill="#eaeaf4"/>
<rect x="1278" y="1578" width="31.5" height="19.1" fill="#d4d6e8"/>
<rect x="1308.9" y="1578" width="31.5" height="19.1" fill="#eaeaf4"/>
<rect x="1339.9" y="1578" width="31.5" height="19.1" fill="#e7787f"/>
<rect x="1370.8" y="1578" width="31.5" height="19.1" fill="#e76269"/>
<rect x="1401.7" y="1578" width="31.5" height="19.1" fill="#e78f94"/>
<rect x="1432.7" y="1578" width="31.5" height="19.1" fill="#e76d74"/>
<rect x="1092.4" y="1596.6" width="31.5" height="19.1" fill="#9498c6"/>
<rect x="1123.3" y="1596.6" width="31.5" height="19.1" fill="#9498c6"/>
<rect x="1154.3" y="1596.6" width="31.5" height="19.1" fill="#9ea3cb"/>
<rect x="1185.2" y="1596.6" width="31.5" height="19.1" fill="#9ea3cb"/>
<rect x="1216.1" y="1596.6" width="31.5" height="19.1" fill="#c9cce2"/>
<rect x="1247.1" y="1596.6" width="31.5" height="19.1" fill="#c9cce2"/>
<rect x="1278" y="1596.6" width="31.5" height="19.1" fill="#b4b7d7"/>
<rect x="1308.9" y="1596.6" width="31.5" height="19.1" fill="#c9cce2"/>
<rect x="1339.9" y="1596.6" width="31.5" height="19.1" fill="#e7787f"/>
<rect x="1370.8" y="1596.6" width="31.5" height="19.1" fill="#e78f94"/>
<rect x="1401.7" y="1596.6" width="31.5" height="19.1" fill="#e76d74"/>
<rect x="1432.7" y="1596.6" width="31.5" height="19.1" fill="#e74b54"/>
<rect x="1092.4" y="1615.1" width="31.5" height="19.1" fill="#898ec0"/>
<rect x="1123.3" y="1615.1" width="31.5" height="19.1" fill="#898ec0"/>
<rect x="1154.3" y="1615.1" width="31.5" height="19.1" fill="#9498c6"/>
<rect x="1185.2" y="1615.1" width="31.5" height="19.1" fill="#9498c6"/>
<rect x="1216.1" y="1615.1" width="31.5" height="19.1" fill="#c9cce2"/>
<rect x="1247.1" y="1615.1" width="31.5" height="19.1" fill="#c9cce2"/>
<rect x="1278" y="1615.1" width="31.5" height="19.1" fill="#dfe0ee"/>
<rect x="1308.9" y="1615.1" width="31.5" height="19.1" fill="#dfe0ee"/>
<rect x="1339.9" y="1615.1" width="31.5" height="19.1" fill="#e7787f"/>
<rect x="1370.8" y="1615.1" width="31.5" height="19.1" fill="#e78389"/>
<rect x="1401.7" y="1615.1" width="31.5" height="19.1" fill="#e76269"/>
<rect x="1432.7" y="1615.1" width="31.5" height="19.1" fill="#e76269"/>
<rect x="1092.4" y="1633.6" width="31.5" height="19.1" fill="#898ec0"/>
<rect x="1123.3" y="1633.6" width="31.5" height="19.1" fill="#7e84ba"/>
<rect x="1154.3" y="1633.6" width="31.5" height="19.1" fill="#898ec0"/>
<rect x="1185.2" y="1633.6" width="31.5" height="19.1" fill="#a9add1"/>
<rect x="1216.1" y="1633.6" width="31.5" height="19.1" fill="#c9cce2"/>
<rect x="1247.1" y="1633.6" width="31.5" height="19.1" fill="#eaeaf4"/>
<rect x="1278" y="1633.6" width="31.5" height="19.1" fill="#d4d6e8"/>
<rect x="1308.9" y="1633.6" width="31.5" height="19.1" fill="#d4d6e8"/>
<rect x="1339.9" y="1633.6" width="31.5" height="19.1" fill="#e78389"/>
<rect x="1370.8" y="1633.6" width="31.5" height="19.1" fill="#e78389"/>
<rect x="1401.7" y="1633.6" width="31.5" height="19.1" fill="#e76d74"/>
<rect x="1432.7" y="1633.6" width="31.5" height="19.1" fill="#e7575f"/>
<rect x="1092.4" y="1652.2" width="31.5" height="19.1" fill="#a9add1"/>
<rect x="1123.3" y="1652.2" width="31.5" height="19.1" fill="#d4d6e8"/>
<rect x="1154.3" y="1652.2" width="31.5" height="19.1" fill="#a9add1"/>
<rect x="1185.2" y="1652.2" width="31.5" height="19.1" fill="#a9add1"/>
<rect x="1216.1" y="1652.2" width="31.5" height="19.1" fill="#a9add1"/>
<rect x="1247.1" y="1652.2" width="31.5" height="19.1" fill="#b4b7d7"/>
<rect x="1278" y="1652.2" width="31.5" height="19.1" fill="#b4b7d7"/>
<rect x="1308.9" y="1652.2" width="31.5" height="19.1" fill="#a9add1"/>
<rect x="1339.9" y="1652.2" width="31.5" height="19.1" fill="#f7dddf"/>
<rect x="1370.8" y="1652.2" width="31.5" height="19.1" fill="#e78f94"/>
<rect x="1401.7" y="1652.2" width="31.5" height="19.1" fill="#e76269"/>
<rect x="1432.7" y="1652.2" width="31.5" height="19.1" fill="#e72a34"/>
<rect x="1092.4" y="1670.7" width="31.5" height="19.1" fill="#a9add1"/>
<rect x="1123.3" y="1670.7" width="31.5" height="19.1" fill="#a9add1"/>
<rect x="1154.3" y="1670.7" width="31.5" height="19.1" fill="#b4b7d7"/>
<rect x="1185.2" y="1670.7" width="31.5" height="19.1" fill="#b4b7d7"/>
<rect x="1216.1" y="1670.7" width="31.5" height="19.1" fill="#b4b7d7"/>
<rect x="1247.1" y="1670.7" width="31.5" height="19.1" fill="#bec2dc"/>
<rect x="1278" y="1670.7" width="31.5" height="19.1" fill="#bec2dc"/>
<rect x="1308.9" y="1670.7" width="31.5" height="19.1" fill="#a9add1"/>
<rect x="1339.9" y="1670.7" width="31.5" height="19.1" fill="#fae8e9"/>
<rect x="1370.8" y="1670.7" width="31.5" height="19.1" fill="#e78389"/>
<rect x="1401.7" y="1670.7" width="31.5" height="19.1" fill="#e99a9f"/>
<rect x="1432.7" y="1670.7" width="31.5" height="19.1" fill="#e71f2a"/>
<rect x="1092.4" y="1689.2" width="31.5" height="19.1" fill="#b4b7d7"/>
<rect x="1123.3" y="1689.2" width="31.5" height="19.1" fill="#a9add1"/>
<rect x="1154.3" y="1689.2" width="31.5" height="19.1" fill="#a9add1"/>
<rect x="1185.2" y="1689.2" width="31.5" height="19.1" fill="#a9add1"/>
<rect x="1216.1" y="1689.2" width="31.5" height="19.1" fill="#a9add1"/>
<rect x="1247.1" y="1689.2" width="31.5" height="19.1" fill="#a9add1"/>
<rect x="1278" y="1689.2" width="31.5" height="19.1" fill="#b4b7d7"/>
<rect x="1308.9" y="1689.2" width="31.5" height="19.1" fill="#a9add1"/>
<rect x="1339.9" y="1689.2" width="31.5" height="19.1" fill="#e74b54"/>
<rect x="1370.8" y="1689.2" width="31.5" height="19.1" fill="#e78389"/>
<rect x="1401.7" y="1689.2" width="31.5" height="19.1" fill="#e76269"/>
<rect x="1432.7" y="1689.2" width="31.5" height="19.1" fill="#e76d74"/>
<rect x="1092.4" y="1707.7" width="31.5" height="19.1" fill="#9498c6"/>
<rect x="1123.3" y="1707.7" width="31.5" height="19.1" fill="#9498c6"/>
<rect x="1154.3" y="1707.7" width="31.5" height="19.1" fill="#9498c6"/>
<rect x="1185.2" y="1707.7" width="31.5" height="19.1" fill="#9498c6"/>
<rect x="1216.1" y="1707.7" width="31.5" height="19.1" fill="#bec2dc"/>
<rect x="1247.1" y="1707.7" width="31.5" height="19.1" fill="#bec2dc"/>
<rect x="1278" y="1707.7" width="31.5" height="19.1" fill="#bec2dc"/>
<rect x="1308.9" y="1707.7" width="31.5" height="19.1" fill="#b4b7d7"/>
<rect x="1339.9" y="1707.7" width="31.5" height="19.1" fill="#e76d74"/>
<rect x="1370.8" y="1707.7" width="31.5" height="19.1" fill="#e76d74"/>
<rect x="1401.7" y="1707.7" width="31.5" height="19.1" fill="#e76269"/>
<rect x="1432.7" y="1707.7" width="31.5" height="19.1" fill="#e76d74"/>
<rect x="1092.4" y="1726.3" width="31.5" height="19.1" fill="#9498c6"/>
<rect x="1123.3" y="1726.3" width="31.5" height="19.1" fill="#9498c6"/>
<rect x="1154.3" y="1726.3" width="31.5" height="19.1" fill="#9498c6"/>
<rect x="1185.2" y="1726.3" width="31.5" height="19.1" fill="#9498c6"/>
<rect x="1216.1" y="1726.3" width="31.5" height="19.1" fill="#b4b7d7"/>
<rect x="1247.1" y="1726.3" width="31.5" height="19.1" fill="#c9cce2"/>
<rect x="1278" y="1726.3" width="31.5" height="19.1" fill="#bec2dc"/>
<rect x="1308.9" y="1726.3" width="31.5" height="19.1" fill="#bec2dc"/>
<rect x="1339.9" y="1726.3" width="31.5" height="19.1" fill="#e76d74"/>
<rect x="1370.8" y="1726.3" width="31.5" height="19.1" fill="#e99a9f"/>
<rect x="1401.7" y="1726.3" width="31.5" height="19.1" fill="#e74b54"/>
<rect x="1432.7" y="1726.3" width="31.5" height="19.1" fill="#e76d74"/>
<rect x="1092.4" y="1744.8" width="31.5" height="19.1" fill="#9ea3cb"/>
<rect x="1123.3" y="1744.8" width="31.5" height="19.1" fill="#9ea3cb"/>
<rect x="1154.3" y="1744.8" width="31.5" height="19.1" fill="#bec2dc"/>
<rect x="1185.2" y="1744.8" width="31.5" height="19.1" fill="#b4b7d7"/>
<rect x="1216.1" y="1744.8" width="31.5" height="19.1" fill="#a9add1"/>
<rect x="1247.1" y="1744.8" width="31.5" height="19.1" fill="#9ea3cb"/>
<rect x="1278" y="1744.8" width="31.5" height="19.1" fill="#a9add1"/>
<rect x="1308.9" y="1744.8" width="31.5" height="19.1" fill="#9ea3cb"/>
<rect x="1339.9" y="1744.8" width="31.5" height="19.1" fill="#e76d74"/>
<rect x="1370.8" y="1744.8" width="31.5" height="19.1" fill="#e78389"/>
<rect x="1401.7" y="1744.8" width="31.5" height="19.1" fill="#e7575f"/>
<rect x="1432.7" y="1744.8" width="31.5" height="19.1" fill="#e76d74"/>
<rect x="1092.4" y="1763.3" width="31.5" height="19.1" fill="#a9add1"/>
<rect x="1123.3" y="1763.3" width="31.5" height="19.1" fill="#a9add1"/>
<rect x="1154.3" y="1763.3" width="31.5" height="19.1" fill="#a9add1"/>
<rect x="1185.2" y="1763.3" width="31.5" height="19.1" fill="#a9add1"/>
<rect x="1216.1" y="1763.3" width="31.5" height="19.1" fill="#b4b7d7"/>
<rect x="1247.1" y="1763.3" width="31.5" height="19.1" fill="#b4b7d7"/>
<rect x="1278" y="1763.3" width="31.5" height="19.1" fill="#b4b7d7"/>
<rect x="1308.9" y="1763.3" width="31.5" height="19.1" fill="#a9add1"/>
<rect x="1339.9" y="1763.3" width="31.5" height="19.1" fill="#e7787f"/>
<rect x="1370.8" y="1763.3" width="31.5" height="19.1" fill="#eba5a9"/>
<rect x="1401.7" y="1763.3" width="31.5" height="19.1" fill="#e74b54"/>
<rect x="1432.7" y="1763.3" width="31.5" height="19.1" fill="#e74b54"/>
<rect x="1092.4" y="1781.9" width="31.5" height="19.1" fill="#bec2dc"/>
<rect x="1123.3" y="1781.9" width="31.5" height="19.1" fill="#b4b7d7"/>
<rect x="1154.3" y="1781.9" width="31.5" height="19.1" fill="#9ea3cb"/>
<rect x="1185.2" y="1781.9" width="31.5" height="19.1" fill="#fefafa"/>
<rect x="1216.1" y="1781.9" width="31.5" height="19.1" fill="#9ea3cb"/>
<rect x="1247.1" y="1781.9" width="31.5" height="19.1" fill="#9ea3cb"/>
<rect x="1278" y="1781.9" width="31.5" height="19.1" fill="#9ea3cb"/>
<rect x="1308.9" y="1781.9" width="31.5" height="19.1" fill="#a9add1"/>
<rect x="1339.9" y="1781.9" width="31.5" height="19.1" fill="#f7dddf"/>
<rect x="1370.8" y="1781.9" width="31.5" height="19.1" fill="#e78f94"/>
<rect x="1401.7" y="1781.9" width="31.5" height="19.1" fill="#e72a34"/>
<rect x="1432.7" y="1781.9" width="31.5" height="19.1" fill="#e76d74"/>
<rect x="1092.4" y="1800.4" width="31.5" height="19.1" fill="#b4b7d7"/>
<rect x="1123.3" y="1800.4" width="31.5" height="19.1" fill="#a9add1"/>
<rect x="1154.3" y="1800.4" width="31.5" height="19.1" fill="#a9add1"/>
<rect x="1185.2" y="1800.4" width="31.5" height="19.1" fill="#a9add1"/>
<rect x="1216.1" y="1800.4" width="31.5" height="19.1" fill="#a9add1"/>
<rect x="1247.1" y="1800.4" width="31.5" height="19.1" fill="#a9add1"/>
<rect x="1278" y="1800.4" width="31.5" height="19.1" fill="#a9add1"/>
<rect x="1308.9" y="1800.4" width="31.5" height="19.1" fill="#a9add1"/>
<rect x="1339.9" y="1800.4" width="31.5" height="19.1" fill="#eba5a9"/>
<rect x="1370.8" y="1800.4" width="31.5" height="19.1" fill="#eeb0b4"/>
<rect x="1401.7" y="1800.4" width="31.5" height="19.1" fill="#e71f2a"/>
<rect x="1432.7" y="1800.4" width="31.5" height="19.1" fill="#e76d74"/>
<rect x="1092.4" y="1818.9" width="31.5" height="19.1" fill="#b4b7d7"/>
<rect x="1123.3" y="1818.9" width="31.5" height="19.1" fill="#a9add1"/>
<rect x="1154.3" y="1818.9" width="31.5" height="19.1" fill="#a9add1"/>
<rect x="1185.2" y="1818.9" width="31.5" height="19.1" fill="#b4b7d7"/>
<rect x="1216.1" y="1818.9" width="31.5" height="19.1" fill="#a9add1"/>
<rect x="1247.1" y="1818.9" width="31.5" height="19.1" fill="#a9add1"/>
<rect x="1278" y="1818.9" width="31.5" height="19.1" fill="#a9add1"/>
<rect x="1308.9" y="1818.9" width="31.5" height="19.1" fill="#a9add1"/>
<rect x="1339.9" y="1818.9" width="31.5" height="19.1" fill="#e99a9f"/>
<rect x="1370.8" y="1818.9" width="31.5" height="19.1" fill="#eeb0b4"/>
<rect x="1401.7" y="1818.9" width="31.5" height="19.1" fill="#e74049"/>
<rect x="1432.7" y="1818.9" width="31.5" height="19.1" fill="#e74b54"/>
<rect x="1092.4" y="1837.5" width="31.5" height="19.1" fill="#b4b7d7"/>
<rect x="1123.3" y="1837.5" width="31.5" height="19.1" fill="#a9add1"/>
<rect x="1154.3" y="1837.5" width="31.5" height="19.1" fill="#a9add1"/>
<rect x="1185.2" y="1837.5" width="31.5" height="19.1" fill="#bec2dc"/>
<rect x="1216.1" y="1837.5" width="31.5" height="19.1" fill="#a9add1"/>
<rect x="1247.1" y="1837.5" width="31.5" height="19.1" fill="#a9add1"/>
<rect x="1278" y="1837.5" width="31.5" height="19.1" fill="#a9add1"/>
<rect x="1308.9" y="1837.5" width="31.5" height="19.1" fill="#a9add1"/>
<rect x="1339.9" y="1837.5" width="31.5" height="19.1" fill="#e78f94"/>
<rect x="1370.8" y="1837.5" width="31.5" height="19.1" fill="#f3c7c9"/>
<rect x="1401.7" y="1837.5" width="31.5" height="19.1" fill="#e74049"/>
<rect x="1432.7" y="1837.5" width="31.5" height="19.1" fill="#e74049"/>
<rect x="1092.4" y="1856" width="31.5" height="19.1" fill="#b4b7d7"/>
<rect x="1123.3" y="1856" width="31.5" height="19.1" fill="#b4b7d7"/>
<rect x="1154.3" y="1856" width="31.5" height="19.1" fill="#b4b7d7"/>
<rect x="1185.2" y="1856" width="31.5" height="19.1" fill="#a9add1"/>
<rect x="1216.1" y="1856" width="31.5" height="19.1" fill="#a9add1"/>
<rect x="1247.1" y="1856" width="31.5" height="19.1" fill="#a9add1"/>
<rect x="1278" y="1856" width="31.5" height="19.1" fill="#a9add1"/>
<rect x="1308.9" y="1856" width="31.5" height="19.1" fill="#a9add1"/>
<rect x="1339.9" y="1856" width="31.5" height="19.1" fill="#e99a9f"/>
<rect x="1370.8" y="1856" width="31.5" height="19.1" fill="#f3c7c9"/>
<rect x="1401.7" y="1856" width="31.5" height="19.1" fill="#e74049"/>
<rect x="1432.7" y="1856" width="31.5" height="19.1" fill="#e74049"/>
<rect x="1092.4" y="1874.5" width="31.5" height="19.1" fill="#b4b7d7"/>
<rect x="1123.3" y="1874.5" width="31.5" height="19.1" fill="#a9add1"/>
<rect x="1154.3" y="1874.5" width="31.5" height="19.1" fill="#b4b7d7"/>
<rect x="1185.2" y="1874.5" width="31.5" height="19.1" fill="#b4b7d7"/>
<rect x="1216.1" y="1874.5" width="31.5" height="19.1" fill="#a9add1"/>
<rect x="1247.1" y="1874.5" width="31.5" height="19.1" fill="#a9add1"/>
<rect x="1278" y="1874.5" width="31.5" height="19.1" fill="#a9add1"/>
<rect x="1308.9" y="1874.5" width="31.5" height="19.1" fill="#a9add1"/>
<rect x="1339.9" y="1874.5" width="31.5" height="19.1" fill="#eba5a9"/>
<rect x="1370.8" y="1874.5" width="31.5" height="19.1" fill="#f4cdd0"/>
<rect x="1401.7" y="1874.5" width="31.5" height="19.1" fill="#e74b54"/>
<rect x="1432.7" y="1874.5" width="31.5" height="19.1" fill="#e7353f"/>
<rect x="1092.4" y="1893.1" width="31.5" height="19.1" fill="#e76269"/>
<rect x="1123.3" y="1893.1" width="31.5" height="19.1" fill="#e76269"/>
<rect x="1154.3" y="1893.1" width="31.5" height="19.1" fill="#898ec0"/>
<rect x="1185.2" y="1893.1" width="31.5" height="19.1" fill="#898ec0"/>
<rect x="1216.1" y="1893.1" width="31.5" height="19.1" fill="#f0bbbf"/>
<rect x="1247.1" y="1893.1" width="31.5" height="19.1" fill="#f0bbbf"/>
<rect x="1278" y="1893.1" width="31.5" height="19.1" fill="#9498c6"/>
<rect x="1308.9" y="1893.1" width="31.5" height="19.1" fill="#9498c6"/>
<rect x="1339.9" y="1893.1" width="31.5" height="19.1" fill="#f4cdd0"/>
<rect x="1370.8" y="1893.1" width="31.5" height="19.1" fill="#e7787f"/>
<rect x="1401.7" y="1893.1" width="31.5" height="19.1" fill="#898ec0"/>
<rect x="1432.7" y="1893.1" width="31.5" height="19.1" fill="#a9add1"/>
</g>
<path d="M1092.4 1466.8H1463.6M1092.4 1485.4H1463.6M1092.4 1503.9H1463.6M1092.4 1522.4H1463.6M1092.4 1541H1463.6M1092.4 1559.5H1463.6M1092.4 1578H1463.6M1092.4 1596.6H1463.6M1092.4 1615.1H1463.6M1092.4 1633.6H1463.6M1092.4 1652.2H1463.6M1092.4 1670.7H1463.6M1092.4 1689.2H1463.6M1092.4 1707.7H1463.6M1092.4 1726.3H1463.6M1092.4 1744.8H1463.6M1092.4 1763.3H1463.6M1092.4 1781.9H1463.6M1092.4 1800.4H1463.6M1092.4 1818.9H1463.6M1092.4 1837.5H1463.6M1092.4 1856H1463.6M1092.4 1874.5H1463.6M1092.4 1893.1H1463.6M1123.3 1448.3V1911.6M1154.3 1448.3V1911.6M1185.2 1448.3V1911.6M1216.1 1448.3V1911.6M1247.1 1448.3V1911.6M1278 1448.3V1911.6M1308.9 1448.3V1911.6M1339.9 1448.3V1911.6M1370.8 1448.3V1911.6M1401.7 1448.3V1911.6M1432.7 1448.3V1911.6" stroke="#ffffff" stroke-width="0.6" opacity="0.25" fill="none"/>
<path d="M1154.3 1427.1V1441M1154.3 1448.3V1911.6M1216.1 1427.1V1441M1216.1 1448.3V1911.6M1278 1427.1V1441M1278 1448.3V1911.6M1339.9 1427.1V1441M1339.9 1448.3V1911.6M1401.7 1427.1V1441M1401.7 1448.3V1911.6" stroke="#231f20" stroke-width="1.2" fill="none"/>
<rect x="1092.4" y="1427.1" width="371.2" height="13.9" fill="none" stroke="#231f20" stroke-width="1.3"/>
<rect x="1092.4" y="1448.3" width="371.2" height="463.3" fill="none" stroke="#231f20" stroke-width="1.3"/>
<text transform="translate(1467.6 1465.4) scale(1.040 1)" font-size="20.5" font-style="italic" fill="#231f20" letter-spacing="0.5">NANOG</text>
<text transform="translate(1467.6 1483.9) scale(1.040 1)" font-size="20.5" font-style="italic" fill="#231f20" letter-spacing="0.5">SOX2</text>
<text transform="translate(1467.6 1502.5) scale(1.040 1)" font-size="20.5" font-style="italic" fill="#231f20" letter-spacing="0.5">POU5F1</text>
<text transform="translate(1467.6 1521) scale(1.040 1)" font-size="20.5" font-style="italic" fill="#231f20" letter-spacing="0.5">CD24</text>
<text transform="translate(1467.6 1539.5) scale(1.040 1)" font-size="20.5" font-style="italic" fill="#231f20" letter-spacing="0.5">KHDC3L</text>
<text transform="translate(1467.6 1558.1) scale(1.040 1)" font-size="20.5" font-style="italic" fill="#231f20" letter-spacing="0.5">DPPA5</text>
<text transform="translate(1467.6 1576.6) scale(1.040 1)" font-size="20.5" font-style="italic" fill="#231f20" letter-spacing="0.5">ZNF296</text>
<text transform="translate(1467.6 1595.1) scale(1.040 1)" font-size="20.5" font-style="italic" fill="#231f20" letter-spacing="0.5">MAEL</text>
<text transform="translate(1467.6 1613.7) scale(1.040 1)" font-size="20.5" font-style="italic" fill="#231f20" letter-spacing="0.5">DPPA3</text>
<text transform="translate(1467.6 1632.2) scale(1.040 1)" font-size="20.5" font-style="italic" fill="#231f20" letter-spacing="0.5">CCNA1</text>
<text transform="translate(1467.6 1650.7) scale(1.040 1)" font-size="20.5" font-style="italic" fill="#231f20" letter-spacing="0.5">TFAP2C</text>
<text transform="translate(1467.6 1669.3) scale(1.040 1)" font-size="20.5" font-style="italic" fill="#231f20" letter-spacing="0.5">MBD3L3</text>
<text transform="translate(1467.6 1687.8) scale(1.040 1)" font-size="20.5" font-style="italic" fill="#231f20" letter-spacing="0.5">SIAH1</text>
<text transform="translate(1467.6 1706.3) scale(1.040 1)" font-size="20.5" font-style="italic" fill="#231f20" letter-spacing="0.5">MBD3L2</text>
<text transform="translate(1467.6 1724.8) scale(1.040 1)" font-size="20.5" font-style="italic" fill="#231f20" letter-spacing="0.5">ZNF280A</text>
<text transform="translate(1467.6 1743.4) scale(1.040 1)" font-size="20.5" font-style="italic" fill="#231f20" letter-spacing="0.5">KLF17</text>
<text transform="translate(1467.6 1761.9) scale(1.040 1)" font-size="20.5" font-style="italic" fill="#231f20" letter-spacing="0.5">TPRX1</text>
<text transform="translate(1467.6 1780.4) scale(1.040 1)" font-size="20.5" font-style="italic" fill="#231f20" letter-spacing="0.5">FAM151A</text>
<text transform="translate(1467.6 1799) scale(1.040 1)" font-size="20.5" font-style="italic" fill="#231f20" letter-spacing="0.5">LEUTX</text>
<text transform="translate(1467.6 1817.5) scale(1.040 1)" font-size="20.5" font-style="italic" fill="#231f20" letter-spacing="0.5">DUXA</text>
<text transform="translate(1467.6 1836) scale(1.040 1)" font-size="20.5" font-style="italic" fill="#231f20" letter-spacing="0.5">MFSD2A</text>
<text transform="translate(1467.6 1854.6) scale(1.040 1)" font-size="20.5" font-style="italic" fill="#231f20" letter-spacing="0.5">ZSCAN5B</text>
<text transform="translate(1467.6 1873.1) scale(1.040 1)" font-size="20.5" font-style="italic" fill="#231f20" letter-spacing="0.5">TRIM43</text>
<text transform="translate(1467.6 1891.6) scale(1.040 1)" font-size="20.5" font-style="italic" fill="#231f20" letter-spacing="0.5">ZSCAN4</text>
<text transform="translate(1467.6 1910.2) scale(1.040 1)" font-size="20.5" font-style="italic" fill="#231f20" letter-spacing="0.5">DDX6</text>
<rect x="1095.2" y="1936.2" width="58.8" height="13.5" fill="url(#cbn)" stroke="#231f20" stroke-width="1"/>
<text transform="translate(1101 1967.1)" font-size="18.5" text-anchor="middle" fill="#231f20">–2</text>
<text transform="translate(1123.5 1967.1)" font-size="18.5" text-anchor="middle" fill="#231f20">0</text>
<text transform="translate(1144.9 1967.1)" font-size="18.5" text-anchor="middle" fill="#231f20">2</text>
<text transform="translate(1087.2 1930.8) scale(1.080 1)" font-size="22" fill="#231f20"><tspan font-style="italic">z</tspan> score</text>
<text transform="translate(1679 1293)" font-size="39" font-weight="bold" fill="#231f20" stroke="#231f20" stroke-width="1.2">o</text>
<text transform="translate(1867.2 1394.6) scale(1.100 1)" font-size="21.5" text-anchor="middle" fill="#231f20">Human ES cells</text>
<text transform="translate(1734.8 1426.5) scale(1.120 1)" font-size="21.5" text-anchor="middle" fill="#231f20">Primed</text>
<text transform="translate(1859.2 1426.5) scale(1.120 1)" font-size="21.5" text-anchor="middle" fill="#231f20">Naive</text>
<text transform="translate(1926.9 1426.5) scale(0.980 1)" font-size="21.5" fill="#231f20"><tspan font-style="italic">TPRX1</tspan>-GFP<tspan dy="-9.2" font-size="12">+</tspan></text>
<line x1="1677.9" y1="1438.4" x2="1791.5" y2="1438.4" stroke="#231f20" stroke-width="1.3"/>
<line x1="1804.6" y1="1438.4" x2="1919.4" y2="1438.4" stroke="#231f20" stroke-width="1.3"/>
<line x1="1928.6" y1="1438.4" x2="2043.4" y2="1438.4" stroke="#231f20" stroke-width="1.3"/>
<text transform="translate(1711 1521) rotate(-45) scale(1.040 1)" font-size="19" fill="#231f20">Control KD</text>
<text transform="translate(1764.7 1522.5) rotate(-45)" font-size="19" fill="#231f20"><tspan font-style="italic">DDX6</tspan> KD</text>
<text transform="translate(1837.7 1521) rotate(-45) scale(1.040 1)" font-size="19" fill="#231f20">Control KD</text>
<text transform="translate(1891.4 1522.5) rotate(-45)" font-size="19" fill="#231f20"><tspan font-style="italic">DDX6</tspan> KD</text>
<text transform="translate(1964.4 1521) rotate(-45) scale(1.040 1)" font-size="19" fill="#231f20">Control KD</text>
<text transform="translate(2018.1 1522.5) rotate(-45)" font-size="19" fill="#231f20"><tspan font-style="italic">DDX6</tspan> KD</text>
<g shape-rendering="crispEdges">
<rect x="1677.9" y="1530.8" width="62.2" height="14.4" fill="#0f75bc"/>
<rect x="1739.6" y="1530.8" width="62.2" height="14.4" fill="#e8253a"/>
<rect x="1801.2" y="1530.8" width="62.2" height="14.4" fill="#0f75bc"/>
<rect x="1862.9" y="1530.8" width="62.2" height="14.4" fill="#e8253a"/>
<rect x="1924.6" y="1530.8" width="62.2" height="14.4" fill="#0f75bc"/>
<rect x="1986.2" y="1530.8" width="62.2" height="14.4" fill="#e8253a"/>
<rect x="1677.9" y="1553.2" width="31.4" height="28.2" fill="#e72a34"/>
<rect x="1708.7" y="1553.2" width="31.4" height="28.2" fill="#e74049"/>
<rect x="1739.6" y="1553.2" width="31.4" height="28.2" fill="#e7575f"/>
<rect x="1770.4" y="1553.2" width="31.4" height="28.2" fill="#e74049"/>
<rect x="1801.2" y="1553.2" width="31.4" height="28.2" fill="#9498c6"/>
<rect x="1832.1" y="1553.2" width="31.4" height="28.2" fill="#7e84ba"/>
<rect x="1862.9" y="1553.2" width="31.4" height="28.2" fill="#737ab4"/>
<rect x="1893.7" y="1553.2" width="31.4" height="28.2" fill="#7e84ba"/>
<rect x="1924.6" y="1553.2" width="31.4" height="28.2" fill="#9ea3cb"/>
<rect x="1955.4" y="1553.2" width="31.4" height="28.2" fill="#dfe0ee"/>
<rect x="1986.2" y="1553.2" width="31.4" height="28.2" fill="#898ec0"/>
<rect x="2017.1" y="1553.2" width="31.4" height="28.2" fill="#898ec0"/>
<rect x="1677.9" y="1580.8" width="31.4" height="28.2" fill="#3e4698"/>
<rect x="1708.7" y="1580.8" width="31.4" height="28.2" fill="#3e4698"/>
<rect x="1739.6" y="1580.8" width="31.4" height="28.2" fill="#535ba3"/>
<rect x="1770.4" y="1580.8" width="31.4" height="28.2" fill="#535ba3"/>
<rect x="1801.2" y="1580.8" width="31.4" height="28.2" fill="#f0bbbf"/>
<rect x="1832.1" y="1580.8" width="31.4" height="28.2" fill="#f5d2d4"/>
<rect x="1862.9" y="1580.8" width="31.4" height="28.2" fill="#e7575f"/>
<rect x="1893.7" y="1580.8" width="31.4" height="28.2" fill="#e72a34"/>
<rect x="1924.6" y="1580.8" width="31.4" height="28.2" fill="#f5d2d4"/>
<rect x="1955.4" y="1580.8" width="31.4" height="28.2" fill="#fae8e9"/>
<rect x="1986.2" y="1580.8" width="31.4" height="28.2" fill="#e78f94"/>
<rect x="2017.1" y="1580.8" width="31.4" height="28.2" fill="#e7787f"/>
<rect x="1677.9" y="1608.4" width="31.4" height="28.2" fill="#5e65a9"/>
<rect x="1708.7" y="1608.4" width="31.4" height="28.2" fill="#3e4698"/>
<rect x="1739.6" y="1608.4" width="31.4" height="28.2" fill="#28328c"/>
<rect x="1770.4" y="1608.4" width="31.4" height="28.2" fill="#3e4698"/>
<rect x="1801.2" y="1608.4" width="31.4" height="28.2" fill="#f3c7c9"/>
<rect x="1832.1" y="1608.4" width="31.4" height="28.2" fill="#fbeded"/>
<rect x="1862.9" y="1608.4" width="31.4" height="28.2" fill="#e7787f"/>
<rect x="1893.7" y="1608.4" width="31.4" height="28.2" fill="#e76269"/>
<rect x="1924.6" y="1608.4" width="31.4" height="28.2" fill="#e76d74"/>
<rect x="1955.4" y="1608.4" width="31.4" height="28.2" fill="#e7787f"/>
<rect x="1986.2" y="1608.4" width="31.4" height="28.2" fill="#e78f94"/>
<rect x="2017.1" y="1608.4" width="31.4" height="28.2" fill="#e76d74"/>
<rect x="1677.9" y="1636" width="31.4" height="28.2" fill="#48519d"/>
<rect x="1708.7" y="1636" width="31.4" height="28.2" fill="#48519d"/>
<rect x="1739.6" y="1636" width="31.4" height="28.2" fill="#3e4698"/>
<rect x="1770.4" y="1636" width="31.4" height="28.2" fill="#48519d"/>
<rect x="1801.2" y="1636" width="31.4" height="28.2" fill="#fae8e9"/>
<rect x="1832.1" y="1636" width="31.4" height="28.2" fill="#fae8e9"/>
<rect x="1862.9" y="1636" width="31.4" height="28.2" fill="#f3c7c9"/>
<rect x="1893.7" y="1636" width="31.4" height="28.2" fill="#eba5a9"/>
<rect x="1924.6" y="1636" width="31.4" height="28.2" fill="#e7787f"/>
<rect x="1955.4" y="1636" width="31.4" height="28.2" fill="#e7787f"/>
<rect x="1986.2" y="1636" width="31.4" height="28.2" fill="#e76269"/>
<rect x="2017.1" y="1636" width="31.4" height="28.2" fill="#e74b54"/>
<rect x="1677.9" y="1663.6" width="31.4" height="28.2" fill="#28328c"/>
<rect x="1708.7" y="1663.6" width="31.4" height="28.2" fill="#28328c"/>
<rect x="1739.6" y="1663.6" width="31.4" height="28.2" fill="#6870ae"/>
<rect x="1770.4" y="1663.6" width="31.4" height="28.2" fill="#9498c6"/>
<rect x="1801.2" y="1663.6" width="31.4" height="28.2" fill="#f5d2d4"/>
<rect x="1832.1" y="1663.6" width="31.4" height="28.2" fill="#f6d8da"/>
<rect x="1862.9" y="1663.6" width="31.4" height="28.2" fill="#fbeded"/>
<rect x="1893.7" y="1663.6" width="31.4" height="28.2" fill="#eba5a9"/>
<rect x="1924.6" y="1663.6" width="31.4" height="28.2" fill="#eeb0b4"/>
<rect x="1955.4" y="1663.6" width="31.4" height="28.2" fill="#e7787f"/>
<rect x="1986.2" y="1663.6" width="31.4" height="28.2" fill="#e76269"/>
<rect x="2017.1" y="1663.6" width="31.4" height="28.2" fill="#e72a34"/>
<rect x="1677.9" y="1691.2" width="31.4" height="28.2" fill="#28328c"/>
<rect x="1708.7" y="1691.2" width="31.4" height="28.2" fill="#28328c"/>
<rect x="1739.6" y="1691.2" width="31.4" height="28.2" fill="#7e84ba"/>
<rect x="1770.4" y="1691.2" width="31.4" height="28.2" fill="#6870ae"/>
<rect x="1801.2" y="1691.2" width="31.4" height="28.2" fill="#f0bbbf"/>
<rect x="1832.1" y="1691.2" width="31.4" height="28.2" fill="#f6d8da"/>
<rect x="1862.9" y="1691.2" width="31.4" height="28.2" fill="#e78389"/>
<rect x="1893.7" y="1691.2" width="31.4" height="28.2" fill="#e78389"/>
<rect x="1924.6" y="1691.2" width="31.4" height="28.2" fill="#eba5a9"/>
<rect x="1955.4" y="1691.2" width="31.4" height="28.2" fill="#eeb0b4"/>
<rect x="1986.2" y="1691.2" width="31.4" height="28.2" fill="#e99a9f"/>
<rect x="2017.1" y="1691.2" width="31.4" height="28.2" fill="#e7353f"/>
<rect x="1677.9" y="1718.8" width="31.4" height="28.2" fill="#6870ae"/>
<rect x="1708.7" y="1718.8" width="31.4" height="28.2" fill="#a9add1"/>
<rect x="1739.6" y="1718.8" width="31.4" height="28.2" fill="#6870ae"/>
<rect x="1770.4" y="1718.8" width="31.4" height="28.2" fill="#7e84ba"/>
<rect x="1801.2" y="1718.8" width="31.4" height="28.2" fill="#a9add1"/>
<rect x="1832.1" y="1718.8" width="31.4" height="28.2" fill="#9498c6"/>
<rect x="1862.9" y="1718.8" width="31.4" height="28.2" fill="#b4b7d7"/>
<rect x="1893.7" y="1718.8" width="31.4" height="28.2" fill="#f9f9fc"/>
<rect x="1924.6" y="1718.8" width="31.4" height="28.2" fill="#e72a34"/>
<rect x="1955.4" y="1718.8" width="31.4" height="28.2" fill="#e99a9f"/>
<rect x="1986.2" y="1718.8" width="31.4" height="28.2" fill="#e72530"/>
<rect x="2017.1" y="1718.8" width="31.4" height="28.2" fill="#e72a34"/>
<rect x="1677.9" y="1746.4" width="31.4" height="28.2" fill="#bec2dc"/>
<rect x="1708.7" y="1746.4" width="31.4" height="28.2" fill="#9ea3cb"/>
<rect x="1739.6" y="1746.4" width="31.4" height="28.2" fill="#737ab4"/>
<rect x="1770.4" y="1746.4" width="31.4" height="28.2" fill="#898ec0"/>
<rect x="1801.2" y="1746.4" width="31.4" height="28.2" fill="#9ea3cb"/>
<rect x="1832.1" y="1746.4" width="31.4" height="28.2" fill="#9498c6"/>
<rect x="1862.9" y="1746.4" width="31.4" height="28.2" fill="#9ea3cb"/>
<rect x="1893.7" y="1746.4" width="31.4" height="28.2" fill="#6870ae"/>
<rect x="1924.6" y="1746.4" width="31.4" height="28.2" fill="#e7353f"/>
<rect x="1955.4" y="1746.4" width="31.4" height="28.2" fill="#e71f2a"/>
<rect x="1986.2" y="1746.4" width="31.4" height="28.2" fill="#e74b54"/>
<rect x="2017.1" y="1746.4" width="31.4" height="28.2" fill="#e74b54"/>
<rect x="1677.9" y="1774" width="31.4" height="28.2" fill="#d4d6e8"/>
<rect x="1708.7" y="1774" width="31.4" height="28.2" fill="#a9add1"/>
<rect x="1739.6" y="1774" width="31.4" height="28.2" fill="#48519d"/>
<rect x="1770.4" y="1774" width="31.4" height="28.2" fill="#28328c"/>
<rect x="1801.2" y="1774" width="31.4" height="28.2" fill="#d4d6e8"/>
<rect x="1832.1" y="1774" width="31.4" height="28.2" fill="#c9cce2"/>
<rect x="1862.9" y="1774" width="31.4" height="28.2" fill="#9ea3cb"/>
<rect x="1893.7" y="1774" width="31.4" height="28.2" fill="#d4d6e8"/>
<rect x="1924.6" y="1774" width="31.4" height="28.2" fill="#e72e38"/>
<rect x="1955.4" y="1774" width="31.4" height="28.2" fill="#e76269"/>
<rect x="1986.2" y="1774" width="31.4" height="28.2" fill="#e74b54"/>
<rect x="2017.1" y="1774" width="31.4" height="28.2" fill="#e74049"/>
</g>
<path d="M1677.9 1580.8H2047.9M1677.9 1608.4H2047.9M1677.9 1636H2047.9M1677.9 1663.6H2047.9M1677.9 1691.2H2047.9M1677.9 1718.8H2047.9M1677.9 1746.4H2047.9M1677.9 1774H2047.9M1708.7 1553.2V1801.6M1739.6 1553.2V1801.6M1770.4 1553.2V1801.6M1801.2 1553.2V1801.6M1832.1 1553.2V1801.6M1862.9 1553.2V1801.6M1893.7 1553.2V1801.6M1924.6 1553.2V1801.6M1955.4 1553.2V1801.6M1986.2 1553.2V1801.6M2017.1 1553.2V1801.6" stroke="#ffffff" stroke-width="0.6" opacity="0.25" fill="none"/>
<path d="M1739.6 1530.8V1545.2M1801.2 1530.8V1545.2M1862.9 1530.8V1545.2M1924.6 1530.8V1545.2M1986.2 1530.8V1545.2" stroke="#231f20" stroke-width="1.2" fill="none"/>
<rect x="1677.9" y="1530.8" width="370" height="14.4" fill="none" stroke="#231f20" stroke-width="1.3"/>
<rect x="1677.9" y="1553.2" width="370" height="248.4" fill="none" stroke="#231f20" stroke-width="1.3"/>
<text transform="translate(2060.4 1574.1) scale(0.970 1)" font-size="21.5" fill="#231f20">MER51B</text>
<text transform="translate(2060.4 1601.7) scale(0.970 1)" font-size="21.5" fill="#231f20">LTR5_Hs</text>
<text transform="translate(2060.4 1629.3) scale(0.970 1)" font-size="21.5" fill="#231f20">LTR12D</text>
<text transform="translate(2060.4 1656.9) scale(0.970 1)" font-size="21.5" fill="#231f20">LTR12C</text>
<text transform="translate(2060.4 1684.5) scale(0.970 1)" font-size="21.5" fill="#231f20">LTR7B</text>
<text transform="translate(2060.4 1712.1) scale(0.970 1)" font-size="21.5" fill="#231f20">LTR7Y</text>
<text transform="translate(2060.4 1739.7) scale(0.970 1)" font-size="21.5" fill="#231f20">LTR12E</text>
<text transform="translate(2060.4 1767.3) scale(0.970 1)" font-size="21.5" fill="#231f20">MLT2A1</text>
<text transform="translate(2060.4 1794.9) scale(0.970 1)" font-size="21.5" fill="#231f20">LTR12</text>
<rect x="1686.2" y="1835" width="58.2" height="12.5" fill="url(#cbo)" stroke="#231f20" stroke-width="1"/>
<text transform="translate(1692.8 1869.3)" font-size="18.5" text-anchor="middle" fill="#231f20">–1.5</text>
<text transform="translate(1717.2 1869.3)" font-size="18.5" text-anchor="middle" fill="#231f20">0</text>
<text transform="translate(1742.9 1869.3)" font-size="18.5" text-anchor="middle" fill="#231f20">1.5</text>
<text transform="translate(1677.3 1828.1) scale(1.080 1)" font-size="22" fill="#231f20"><tspan font-style="italic">z</tspan> score</text>
<text transform="translate(1652 1936)" font-size="39" font-weight="bold" fill="#231f20" stroke="#231f20" stroke-width="1.2">s</text>
<text transform="translate(1692.2 1966.5) scale(0.960 1)" font-size="23" fill="#231f20">hiPSCs</text>
<text transform="translate(1790 1963.5)" font-size="23" fill="#231f20">iMeLCs</text>
<text transform="translate(1889 1935.2) scale(0.980 1)" font-size="22" fill="#231f20"><tspan font-style="italic">TFAP2C</tspan><tspan dy="-9.2" font-size="12">–</tspan></text>
<text transform="translate(1892 1962.9) scale(0.980 1)" font-size="22" fill="#231f20"><tspan font-style="italic">BLIMP1</tspan><tspan dy="-9.2" font-size="12">–</tspan></text>
<text transform="translate(1995.7 1936) scale(0.980 1)" font-size="22" fill="#231f20"><tspan font-style="italic">TFAP2C</tspan><tspan dy="-9.2" font-size="12">+</tspan></text>
<text transform="translate(1998.7 1962.9) scale(0.980 1)" font-size="22" fill="#231f20"><tspan font-style="italic">BLIMP1</tspan><tspan dy="-9.2" font-size="12">+</tspan></text>
<line x1="1701.7" y1="1972.4" x2="1755.7" y2="1972.4" stroke="#231f20" stroke-width="1.3"/>
<line x1="1802.5" y1="1972.4" x2="1856.8" y2="1972.4" stroke="#231f20" stroke-width="1.3"/>
<line x1="1905.4" y1="1972.4" x2="1959.7" y2="1972.4" stroke="#231f20" stroke-width="1.3"/>
<line x1="2012.1" y1="1972.4" x2="2066.4" y2="1972.4" stroke="#231f20" stroke-width="1.3"/>
<text transform="translate(1709.5 2052.5) rotate(-45) scale(1.040 1)" font-size="19" fill="#231f20">Control KD</text>
<text transform="translate(1747 2054.5) rotate(-45)" font-size="19" fill="#231f20"><tspan font-style="italic">DDX6</tspan> KD</text>
<text transform="translate(1804.8 2052.5) rotate(-45) scale(1.040 1)" font-size="19" fill="#231f20">Control KD</text>
<text transform="translate(1842.3 2054.5) rotate(-45)" font-size="19" fill="#231f20"><tspan font-style="italic">DDX6</tspan> KD</text>
<text transform="translate(1900.1 2052.5) rotate(-45) scale(1.040 1)" font-size="19" fill="#231f20">Control KD</text>
<text transform="translate(1937.6 2054.5) rotate(-45)" font-size="19" fill="#231f20"><tspan font-style="italic">DDX6</tspan> KD</text>
<text transform="translate(1995.4 2052.5) rotate(-45) scale(1.040 1)" font-size="19" fill="#231f20">Control KD</text>
<text transform="translate(2032.9 2054.5) rotate(-45)" font-size="19" fill="#231f20"><tspan font-style="italic">DDX6</tspan> KD</text>
<g shape-rendering="crispEdges">
<rect x="1686.8" y="2059.5" width="47" height="14.9" fill="#0f75bc"/>
<rect x="1733.2" y="2059.5" width="47" height="14.9" fill="#e8253a"/>
<rect x="1779.7" y="2059.5" width="47" height="14.9" fill="#0f75bc"/>
<rect x="1826.2" y="2059.5" width="47" height="14.9" fill="#e8253a"/>
<rect x="1872.6" y="2059.5" width="47" height="14.9" fill="#0f75bc"/>
<rect x="1919" y="2059.5" width="47" height="14.9" fill="#e8253a"/>
<rect x="1965.5" y="2059.5" width="47" height="14.9" fill="#0f75bc"/>
<rect x="2012" y="2059.5" width="47" height="14.9" fill="#e8253a"/>
<rect x="1686.8" y="2081.9" width="23.8" height="33.5" fill="#e99a9f"/>
<rect x="1710" y="2081.9" width="23.8" height="33.5" fill="#e78f94"/>
<rect x="1733.2" y="2081.9" width="23.8" height="33.5" fill="#f0bbbf"/>
<rect x="1756.5" y="2081.9" width="23.8" height="33.5" fill="#fefafa"/>
<rect x="1779.7" y="2081.9" width="23.8" height="33.5" fill="#5e65a9"/>
<rect x="1802.9" y="2081.9" width="23.8" height="33.5" fill="#737ab4"/>
<rect x="1826.2" y="2081.9" width="23.8" height="33.5" fill="#7e84ba"/>
<rect x="1849.4" y="2081.9" width="23.8" height="33.5" fill="#c9cce2"/>
<rect x="1872.6" y="2081.9" width="23.8" height="33.5" fill="#eeb0b4"/>
<rect x="1895.8" y="2081.9" width="23.8" height="33.5" fill="#5e65a9"/>
<rect x="1919" y="2081.9" width="23.8" height="33.5" fill="#e78f94"/>
<rect x="1942.3" y="2081.9" width="23.8" height="33.5" fill="#f4cdd0"/>
<rect x="1965.5" y="2081.9" width="23.8" height="33.5" fill="#b4b7d7"/>
<rect x="1988.7" y="2081.9" width="23.8" height="33.5" fill="#d4d6e8"/>
<rect x="2012" y="2081.9" width="23.8" height="33.5" fill="#e74049"/>
<rect x="2035.2" y="2081.9" width="23.8" height="33.5" fill="#e99a9f"/>
<rect x="1686.8" y="2114.8" width="23.8" height="33.5" fill="#898ec0"/>
<rect x="1710" y="2114.8" width="23.8" height="33.5" fill="#9498c6"/>
<rect x="1733.2" y="2114.8" width="23.8" height="33.5" fill="#f5d2d4"/>
<rect x="1756.5" y="2114.8" width="23.8" height="33.5" fill="#bec2dc"/>
<rect x="1779.7" y="2114.8" width="23.8" height="33.5" fill="#a9add1"/>
<rect x="1802.9" y="2114.8" width="23.8" height="33.5" fill="#c9cce2"/>
<rect x="1826.2" y="2114.8" width="23.8" height="33.5" fill="#9ea3cb"/>
<rect x="1849.4" y="2114.8" width="23.8" height="33.5" fill="#a9add1"/>
<rect x="1872.6" y="2114.8" width="23.8" height="33.5" fill="#b4b7d7"/>
<rect x="1895.8" y="2114.8" width="23.8" height="33.5" fill="#d4d6e8"/>
<rect x="1919" y="2114.8" width="23.8" height="33.5" fill="#d4d6e8"/>
<rect x="1942.3" y="2114.8" width="23.8" height="33.5" fill="#c9cce2"/>
<rect x="1965.5" y="2114.8" width="23.8" height="33.5" fill="#e78f94"/>
<rect x="1988.7" y="2114.8" width="23.8" height="33.5" fill="#eaa0a5"/>
<rect x="2012" y="2114.8" width="23.8" height="33.5" fill="#e71f2a"/>
<rect x="2035.2" y="2114.8" width="23.8" height="33.5" fill="#e74b54"/>
<rect x="1686.8" y="2147.6" width="23.8" height="33.5" fill="#9498c6"/>
<rect x="1710" y="2147.6" width="23.8" height="33.5" fill="#9498c6"/>
<rect x="1733.2" y="2147.6" width="23.8" height="33.5" fill="#9498c6"/>
<rect x="1756.5" y="2147.6" width="23.8" height="33.5" fill="#9498c6"/>
<rect x="1779.7" y="2147.6" width="23.8" height="33.5" fill="#9498c6"/>
<rect x="1802.9" y="2147.6" width="23.8" height="33.5" fill="#9498c6"/>
<rect x="1826.2" y="2147.6" width="23.8" height="33.5" fill="#9ea3cb"/>
<rect x="1849.4" y="2147.6" width="23.8" height="33.5" fill="#9ea3cb"/>
<rect x="1872.6" y="2147.6" width="23.8" height="33.5" fill="#fefafa"/>
<rect x="1895.8" y="2147.6" width="23.8" height="33.5" fill="#fefafa"/>
<rect x="1919" y="2147.6" width="23.8" height="33.5" fill="#f6d8da"/>
<rect x="1942.3" y="2147.6" width="23.8" height="33.5" fill="#eeb0b4"/>
<rect x="1965.5" y="2147.6" width="23.8" height="33.5" fill="#e78f94"/>
<rect x="1988.7" y="2147.6" width="23.8" height="33.5" fill="#e7787f"/>
<rect x="2012" y="2147.6" width="23.8" height="33.5" fill="#e74049"/>
<rect x="2035.2" y="2147.6" width="23.8" height="33.5" fill="#e74049"/>
<rect x="1686.8" y="2180.5" width="23.8" height="33.5" fill="#e78f94"/>
<rect x="1710" y="2180.5" width="23.8" height="33.5" fill="#a9add1"/>
<rect x="1733.2" y="2180.5" width="23.8" height="33.5" fill="#a9add1"/>
<rect x="1756.5" y="2180.5" width="23.8" height="33.5" fill="#a9add1"/>
<rect x="1779.7" y="2180.5" width="23.8" height="33.5" fill="#d4d6e8"/>
<rect x="1802.9" y="2180.5" width="23.8" height="33.5" fill="#a9add1"/>
<rect x="1826.2" y="2180.5" width="23.8" height="33.5" fill="#a9add1"/>
<rect x="1849.4" y="2180.5" width="23.8" height="33.5" fill="#a9add1"/>
<rect x="1872.6" y="2180.5" width="23.8" height="33.5" fill="#a9add1"/>
<rect x="1895.8" y="2180.5" width="23.8" height="33.5" fill="#a9add1"/>
<rect x="1919" y="2180.5" width="23.8" height="33.5" fill="#f4f5f9"/>
<rect x="1942.3" y="2180.5" width="23.8" height="33.5" fill="#a9add1"/>
<rect x="1965.5" y="2180.5" width="23.8" height="33.5" fill="#e78f94"/>
<rect x="1988.7" y="2180.5" width="23.8" height="33.5" fill="#e76d74"/>
<rect x="2012" y="2180.5" width="23.8" height="33.5" fill="#e71f2a"/>
<rect x="2035.2" y="2180.5" width="23.8" height="33.5" fill="#e99a9f"/>
<rect x="1686.8" y="2213.3" width="23.8" height="33.5" fill="#d4d6e8"/>
<rect x="1710" y="2213.3" width="23.8" height="33.5" fill="#a9add1"/>
<rect x="1733.2" y="2213.3" width="23.8" height="33.5" fill="#fefafa"/>
<rect x="1756.5" y="2213.3" width="23.8" height="33.5" fill="#bec2dc"/>
<rect x="1779.7" y="2213.3" width="23.8" height="33.5" fill="#f7dddf"/>
<rect x="1802.9" y="2213.3" width="23.8" height="33.5" fill="#f4f5f9"/>
<rect x="1826.2" y="2213.3" width="23.8" height="33.5" fill="#d4d6e8"/>
<rect x="1849.4" y="2213.3" width="23.8" height="33.5" fill="#d4d6e8"/>
<rect x="1872.6" y="2213.3" width="23.8" height="33.5" fill="#898ec0"/>
<rect x="1895.8" y="2213.3" width="23.8" height="33.5" fill="#9498c6"/>
<rect x="1919" y="2213.3" width="23.8" height="33.5" fill="#9498c6"/>
<rect x="1942.3" y="2213.3" width="23.8" height="33.5" fill="#7e84ba"/>
<rect x="1965.5" y="2213.3" width="23.8" height="33.5" fill="#e78f94"/>
<rect x="1988.7" y="2213.3" width="23.8" height="33.5" fill="#e76d74"/>
<rect x="2012" y="2213.3" width="23.8" height="33.5" fill="#e74b54"/>
<rect x="2035.2" y="2213.3" width="23.8" height="33.5" fill="#e74049"/>
<rect x="1686.8" y="2246.2" width="23.8" height="33.5" fill="#a9add1"/>
<rect x="1710" y="2246.2" width="23.8" height="33.5" fill="#9ea3cb"/>
<rect x="1733.2" y="2246.2" width="23.8" height="33.5" fill="#a9add1"/>
<rect x="1756.5" y="2246.2" width="23.8" height="33.5" fill="#a9add1"/>
<rect x="1779.7" y="2246.2" width="23.8" height="33.5" fill="#a9add1"/>
<rect x="1802.9" y="2246.2" width="23.8" height="33.5" fill="#a9add1"/>
<rect x="1826.2" y="2246.2" width="23.8" height="33.5" fill="#fefafa"/>
<rect x="1849.4" y="2246.2" width="23.8" height="33.5" fill="#fefafa"/>
<rect x="1872.6" y="2246.2" width="23.8" height="33.5" fill="#a9add1"/>
<rect x="1895.8" y="2246.2" width="23.8" height="33.5" fill="#a9add1"/>
<rect x="1919" y="2246.2" width="23.8" height="33.5" fill="#bec2dc"/>
<rect x="1942.3" y="2246.2" width="23.8" height="33.5" fill="#b4b7d7"/>
<rect x="1965.5" y="2246.2" width="23.8" height="33.5" fill="#e7787f"/>
<rect x="1988.7" y="2246.2" width="23.8" height="33.5" fill="#e78389"/>
<rect x="2012" y="2246.2" width="23.8" height="33.5" fill="#e7353f"/>
<rect x="2035.2" y="2246.2" width="23.8" height="33.5" fill="#e74049"/>
<rect x="1686.8" y="2279" width="23.8" height="33.5" fill="#b4b7d7"/>
<rect x="1710" y="2279" width="23.8" height="33.5" fill="#b4b7d7"/>
<rect x="1733.2" y="2279" width="23.8" height="33.5" fill="#b4b7d7"/>
<rect x="1756.5" y="2279" width="23.8" height="33.5" fill="#b4b7d7"/>
<rect x="1779.7" y="2279" width="23.8" height="33.5" fill="#b4b7d7"/>
<rect x="1802.9" y="2279" width="23.8" height="33.5" fill="#b4b7d7"/>
<rect x="1826.2" y="2279" width="23.8" height="33.5" fill="#b4b7d7"/>
<rect x="1849.4" y="2279" width="23.8" height="33.5" fill="#b4b7d7"/>
<rect x="1872.6" y="2279" width="23.8" height="33.5" fill="#bec2dc"/>
<rect x="1895.8" y="2279" width="23.8" height="33.5" fill="#bec2dc"/>
<rect x="1919" y="2279" width="23.8" height="33.5" fill="#bec2dc"/>
<rect x="1942.3" y="2279" width="23.8" height="33.5" fill="#bec2dc"/>
<rect x="1965.5" y="2279" width="23.8" height="33.5" fill="#e76269"/>
<rect x="1988.7" y="2279" width="23.8" height="33.5" fill="#e7575f"/>
<rect x="2012" y="2279" width="23.8" height="33.5" fill="#e74049"/>
<rect x="2035.2" y="2279" width="23.8" height="33.5" fill="#e74049"/>
<rect x="1686.8" y="2311.9" width="23.8" height="33.5" fill="#a9add1"/>
<rect x="1710" y="2311.9" width="23.8" height="33.5" fill="#a9add1"/>
<rect x="1733.2" y="2311.9" width="23.8" height="33.5" fill="#b4b7d7"/>
<rect x="1756.5" y="2311.9" width="23.8" height="33.5" fill="#a9add1"/>
<rect x="1779.7" y="2311.9" width="23.8" height="33.5" fill="#b4b7d7"/>
<rect x="1802.9" y="2311.9" width="23.8" height="33.5" fill="#b4b7d7"/>
<rect x="1826.2" y="2311.9" width="23.8" height="33.5" fill="#b4b7d7"/>
<rect x="1849.4" y="2311.9" width="23.8" height="33.5" fill="#b4b7d7"/>
<rect x="1872.6" y="2311.9" width="23.8" height="33.5" fill="#bec2dc"/>
<rect x="1895.8" y="2311.9" width="23.8" height="33.5" fill="#bec2dc"/>
<rect x="1919" y="2311.9" width="23.8" height="33.5" fill="#bec2dc"/>
<rect x="1942.3" y="2311.9" width="23.8" height="33.5" fill="#bec2dc"/>
<rect x="1965.5" y="2311.9" width="23.8" height="33.5" fill="#e76269"/>
<rect x="1988.7" y="2311.9" width="23.8" height="33.5" fill="#e7575f"/>
<rect x="2012" y="2311.9" width="23.8" height="33.5" fill="#e74049"/>
<rect x="2035.2" y="2311.9" width="23.8" height="33.5" fill="#e73c45"/>
<rect x="1686.8" y="2344.7" width="23.8" height="33.5" fill="#bec2dc"/>
<rect x="1710" y="2344.7" width="23.8" height="33.5" fill="#b4b7d7"/>
<rect x="1733.2" y="2344.7" width="23.8" height="33.5" fill="#b4b7d7"/>
<rect x="1756.5" y="2344.7" width="23.8" height="33.5" fill="#f9f9fc"/>
<rect x="1779.7" y="2344.7" width="23.8" height="33.5" fill="#eeb0b4"/>
<rect x="1802.9" y="2344.7" width="23.8" height="33.5" fill="#e99a9f"/>
<rect x="1826.2" y="2344.7" width="23.8" height="33.5" fill="#e72a34"/>
<rect x="1849.4" y="2344.7" width="23.8" height="33.5" fill="#e71f2a"/>
<rect x="1872.6" y="2344.7" width="23.8" height="33.5" fill="#b4b7d7"/>
<rect x="1895.8" y="2344.7" width="23.8" height="33.5" fill="#b4b7d7"/>
<rect x="1919" y="2344.7" width="23.8" height="33.5" fill="#b4b7d7"/>
<rect x="1942.3" y="2344.7" width="23.8" height="33.5" fill="#c9cce2"/>
<rect x="1965.5" y="2344.7" width="23.8" height="33.5" fill="#b4b7d7"/>
<rect x="1988.7" y="2344.7" width="23.8" height="33.5" fill="#b4b7d7"/>
<rect x="2012" y="2344.7" width="23.8" height="33.5" fill="#b4b7d7"/>
<rect x="2035.2" y="2344.7" width="23.8" height="33.5" fill="#b4b7d7"/>
<rect x="1686.8" y="2377.6" width="23.8" height="33.5" fill="#a9add1"/>
<rect x="1710" y="2377.6" width="23.8" height="33.5" fill="#d4d6e8"/>
<rect x="1733.2" y="2377.6" width="23.8" height="33.5" fill="#9ea3cb"/>
<rect x="1756.5" y="2377.6" width="23.8" height="33.5" fill="#c9cce2"/>
<rect x="1779.7" y="2377.6" width="23.8" height="33.5" fill="#e76269"/>
<rect x="1802.9" y="2377.6" width="23.8" height="33.5" fill="#e74b54"/>
<rect x="1826.2" y="2377.6" width="23.8" height="33.5" fill="#e7575f"/>
<rect x="1849.4" y="2377.6" width="23.8" height="33.5" fill="#e74b54"/>
<rect x="1872.6" y="2377.6" width="23.8" height="33.5" fill="#b4b7d7"/>
<rect x="1895.8" y="2377.6" width="23.8" height="33.5" fill="#fefafa"/>
<rect x="1919" y="2377.6" width="23.8" height="33.5" fill="#b4b7d7"/>
<rect x="1942.3" y="2377.6" width="23.8" height="33.5" fill="#bec2dc"/>
<rect x="1965.5" y="2377.6" width="23.8" height="33.5" fill="#a9add1"/>
<rect x="1988.7" y="2377.6" width="23.8" height="33.5" fill="#9ea3cb"/>
<rect x="2012" y="2377.6" width="23.8" height="33.5" fill="#9498c6"/>
<rect x="2035.2" y="2377.6" width="23.8" height="33.5" fill="#bec2dc"/>
<rect x="1686.8" y="2410.4" width="23.8" height="33.5" fill="#c9cce2"/>
<rect x="1710" y="2410.4" width="23.8" height="33.5" fill="#bec2dc"/>
<rect x="1733.2" y="2410.4" width="23.8" height="33.5" fill="#bec2dc"/>
<rect x="1756.5" y="2410.4" width="23.8" height="33.5" fill="#d4d6e8"/>
<rect x="1779.7" y="2410.4" width="23.8" height="33.5" fill="#e76269"/>
<rect x="1802.9" y="2410.4" width="23.8" height="33.5" fill="#e7575f"/>
<rect x="1826.2" y="2410.4" width="23.8" height="33.5" fill="#e74049"/>
<rect x="1849.4" y="2410.4" width="23.8" height="33.5" fill="#e74049"/>
<rect x="1872.6" y="2410.4" width="23.8" height="33.5" fill="#a9add1"/>
<rect x="1895.8" y="2410.4" width="23.8" height="33.5" fill="#a9add1"/>
<rect x="1919" y="2410.4" width="23.8" height="33.5" fill="#b4b7d7"/>
<rect x="1942.3" y="2410.4" width="23.8" height="33.5" fill="#a9add1"/>
<rect x="1965.5" y="2410.4" width="23.8" height="33.5" fill="#a9add1"/>
<rect x="1988.7" y="2410.4" width="23.8" height="33.5" fill="#a9add1"/>
<rect x="2012" y="2410.4" width="23.8" height="33.5" fill="#a9add1"/>
<rect x="2035.2" y="2410.4" width="23.8" height="33.5" fill="#a9add1"/>
<rect x="1686.8" y="2443.3" width="23.8" height="33.5" fill="#e76d74"/>
<rect x="1710" y="2443.3" width="23.8" height="33.5" fill="#e74b54"/>
<rect x="1733.2" y="2443.3" width="23.8" height="33.5" fill="#e7575f"/>
<rect x="1756.5" y="2443.3" width="23.8" height="33.5" fill="#e7787f"/>
<rect x="1779.7" y="2443.3" width="23.8" height="33.5" fill="#f3c7c9"/>
<rect x="1802.9" y="2443.3" width="23.8" height="33.5" fill="#f7dddf"/>
<rect x="1826.2" y="2443.3" width="23.8" height="33.5" fill="#f5d2d4"/>
<rect x="1849.4" y="2443.3" width="23.8" height="33.5" fill="#f7dddf"/>
<rect x="1872.6" y="2443.3" width="23.8" height="33.5" fill="#9498c6"/>
<rect x="1895.8" y="2443.3" width="23.8" height="33.5" fill="#9498c6"/>
<rect x="1919" y="2443.3" width="23.8" height="33.5" fill="#9498c6"/>
<rect x="1942.3" y="2443.3" width="23.8" height="33.5" fill="#9498c6"/>
<rect x="1965.5" y="2443.3" width="23.8" height="33.5" fill="#9498c6"/>
<rect x="1988.7" y="2443.3" width="23.8" height="33.5" fill="#9498c6"/>
<rect x="2012" y="2443.3" width="23.8" height="33.5" fill="#9498c6"/>
<rect x="2035.2" y="2443.3" width="23.8" height="33.5" fill="#9498c6"/>
<rect x="1686.8" y="2476.1" width="23.8" height="33.5" fill="#e7575f"/>
<rect x="1710" y="2476.1" width="23.8" height="33.5" fill="#e78f94"/>
<rect x="1733.2" y="2476.1" width="23.8" height="33.5" fill="#a9add1"/>
<rect x="1756.5" y="2476.1" width="23.8" height="33.5" fill="#9ea3cb"/>
<rect x="1779.7" y="2476.1" width="23.8" height="33.5" fill="#e7575f"/>
<rect x="1802.9" y="2476.1" width="23.8" height="33.5" fill="#e76269"/>
<rect x="1826.2" y="2476.1" width="23.8" height="33.5" fill="#898ec0"/>
<rect x="1849.4" y="2476.1" width="23.8" height="33.5" fill="#898ec0"/>
<rect x="1872.6" y="2476.1" width="23.8" height="33.5" fill="#eaeaf4"/>
<rect x="1895.8" y="2476.1" width="23.8" height="33.5" fill="#fefafa"/>
<rect x="1919" y="2476.1" width="23.8" height="33.5" fill="#898ec0"/>
<rect x="1942.3" y="2476.1" width="23.8" height="33.5" fill="#9498c6"/>
<rect x="1965.5" y="2476.1" width="23.8" height="33.5" fill="#e78f94"/>
<rect x="1988.7" y="2476.1" width="23.8" height="33.5" fill="#e99a9f"/>
<rect x="2012" y="2476.1" width="23.8" height="33.5" fill="#9498c6"/>
<rect x="2035.2" y="2476.1" width="23.8" height="33.5" fill="#9ea3cb"/>
</g>
<path d="M1686.8 2114.8H2058.4M1686.8 2147.6H2058.4M1686.8 2180.5H2058.4M1686.8 2213.3H2058.4M1686.8 2246.2H2058.4M1686.8 2279H2058.4M1686.8 2311.9H2058.4M1686.8 2344.7H2058.4M1686.8 2377.6H2058.4M1686.8 2410.4H2058.4M1686.8 2443.3H2058.4M1686.8 2476.1H2058.4M1710 2081.9V2509M1733.2 2081.9V2509M1756.5 2081.9V2509M1779.7 2081.9V2509M1802.9 2081.9V2509M1826.2 2081.9V2509M1849.4 2081.9V2509M1872.6 2081.9V2509M1895.8 2081.9V2509M1919 2081.9V2509M1942.3 2081.9V2509M1965.5 2081.9V2509M1988.7 2081.9V2509M2012 2081.9V2509M2035.2 2081.9V2509" stroke="#ffffff" stroke-width="0.6" opacity="0.25" fill="none"/>
<path d="M1733.2 2059.5V2074.4M1733.2 2081.9V2509M1779.7 2059.5V2074.4M1779.7 2081.9V2509M1826.2 2059.5V2074.4M1826.2 2081.9V2509M1872.6 2059.5V2074.4M1872.6 2081.9V2509M1919 2059.5V2074.4M1919 2081.9V2509M1965.5 2059.5V2074.4M1965.5 2081.9V2509M2012 2059.5V2074.4M2012 2081.9V2509" stroke="#231f20" stroke-width="1.2" fill="none"/>
<rect x="1686.8" y="2059.5" width="371.6" height="14.9" fill="none" stroke="#231f20" stroke-width="1.3"/>
<rect x="1686.8" y="2081.9" width="371.6" height="427.1" fill="none" stroke="#231f20" stroke-width="1.3"/>
<text transform="translate(2067 2107.2) scale(0.980 1)" font-size="22" font-style="italic" fill="#231f20" letter-spacing="0.5">DPPA3</text>
<text transform="translate(2067 2140.1) scale(0.980 1)" font-size="22" font-style="italic" fill="#231f20" letter-spacing="0.5">ZFP42</text>
<text transform="translate(2067 2172.9) scale(0.980 1)" font-size="22" font-style="italic" fill="#231f20" letter-spacing="0.5">MSX2</text>
<text transform="translate(2067 2205.8) scale(0.980 1)" font-size="22" font-style="italic" fill="#231f20" letter-spacing="0.5">TCL1B</text>
<text transform="translate(2067 2238.6) scale(0.980 1)" font-size="22" font-style="italic" fill="#231f20" letter-spacing="0.5">TFCP2L1</text>
<text transform="translate(2067 2271.5) scale(0.980 1)" font-size="22" font-style="italic" fill="#231f20" letter-spacing="0.5">PRDM1</text>
<text transform="translate(2067 2304.3) scale(0.980 1)" font-size="22" font-style="italic" fill="#231f20" letter-spacing="0.5">KLF4</text>
<text transform="translate(2067 2337.2) scale(0.980 1)" font-size="22" font-style="italic" fill="#231f20" letter-spacing="0.5">TFAP2C</text>
<text transform="translate(2067 2370) scale(0.980 1)" font-size="22" font-style="italic" fill="#231f20" letter-spacing="0.5">EOMES</text>
<text transform="translate(2067 2402.9) scale(0.980 1)" font-size="22" font-style="italic" fill="#231f20" letter-spacing="0.5">MIXL1</text>
<text transform="translate(2067 2435.7) scale(0.980 1)" font-size="22" font-style="italic" fill="#231f20" letter-spacing="0.5">NODAL</text>
<text transform="translate(2067 2468.6) scale(0.980 1)" font-size="22" font-style="italic" fill="#231f20" letter-spacing="0.5">POU5F1</text>
<text transform="translate(2067 2501.4) scale(0.980 1)" font-size="22" font-style="italic" fill="#231f20" letter-spacing="0.5">DDX6</text>
<rect x="1693.1" y="2537" width="58.1" height="12.8" fill="url(#cbs)" stroke="#231f20" stroke-width="1"/>
<text transform="translate(1699 2571.8)" font-size="18.5" text-anchor="middle" fill="#231f20">–2</text>
<text transform="translate(1721.1 2571.8)" font-size="18.5" text-anchor="middle" fill="#231f20">0</text>
<text transform="translate(1742.9 2571.8)" font-size="18.5" text-anchor="middle" fill="#231f20">2</text>
<text transform="translate(1684.1 2531.6) scale(1.080 1)" font-size="22" fill="#231f20"><tspan font-style="italic">z</tspan> score</text>
<text transform="translate(-1 2088.6)" font-size="39" font-weight="bold" fill="#231f20" stroke="#231f20" stroke-width="1.2">p</text>
<text transform="translate(288.6 2145.2) scale(1.100 1)" font-size="21.5" text-anchor="middle" fill="#231f20">PGCLC signature enrichment</text>
<rect x="81.4" y="2155" width="414.4" height="245.2" fill="#fff" stroke="#4d4d4d" stroke-width="1.5"/>
<line x1="73.7" y1="2158.5" x2="81.4" y2="2158.5" stroke="#4d4d4d" stroke-width="1.3"/>
<text transform="translate(66.5 2165) scale(1.050 1)" font-size="18.5" text-anchor="end" fill="#231f20">0.4</text>
<line x1="73.7" y1="2243.1" x2="81.4" y2="2243.1" stroke="#4d4d4d" stroke-width="1.3"/>
<text transform="translate(66.5 2249.6) scale(1.050 1)" font-size="18.5" text-anchor="end" fill="#231f20">0.2</text>
<line x1="73.7" y1="2327.7" x2="81.4" y2="2327.7" stroke="#4d4d4d" stroke-width="1.3"/>
<text transform="translate(66.5 2334.2) scale(1.050 1)" font-size="18.5" text-anchor="end" fill="#231f20">0</text>
<line x1="100.2" y1="2400.2" x2="100.2" y2="2407.9" stroke="#4d4d4d" stroke-width="1.3"/>
<text transform="translate(100.2 2429.7) scale(1.060 1)" font-size="18.5" text-anchor="middle" fill="#231f20">0</text>
<line x1="186.6" y1="2400.2" x2="186.6" y2="2407.9" stroke="#4d4d4d" stroke-width="1.3"/>
<text transform="translate(186.6 2429.7) scale(1.060 1)" font-size="18.5" text-anchor="middle" fill="#231f20">5,000</text>
<line x1="273.6" y1="2400.2" x2="273.6" y2="2407.9" stroke="#4d4d4d" stroke-width="1.3"/>
<text transform="translate(273.6 2429.7) scale(1.060 1)" font-size="18.5" text-anchor="middle" fill="#231f20">10,000</text>
<line x1="360.2" y1="2400.2" x2="360.2" y2="2407.9" stroke="#4d4d4d" stroke-width="1.3"/>
<text transform="translate(360.2 2429.7) scale(1.060 1)" font-size="18.5" text-anchor="middle" fill="#231f20">15,000</text>
<line x1="447.5" y1="2400.2" x2="447.5" y2="2407.9" stroke="#4d4d4d" stroke-width="1.3"/>
<text transform="translate(447.5 2429.7) scale(1.060 1)" font-size="18.5" text-anchor="middle" fill="#231f20">20,000</text>
<text transform="translate(19 2277.6) rotate(-90) scale(1.100 1)" font-size="21.5" text-anchor="middle" fill="#231f20">Enrichment score</text>
<text transform="translate(288.3 2462.1) scale(1.100 1)" font-size="21.5" text-anchor="middle" fill="#231f20">Rank</text>
<line x1="81.4" y1="2327.7" x2="495.8" y2="2327.7" stroke="#4d4d4d" stroke-width="1.3"/>
<path d="M100.2 2327.7 L101.7 2314.2 L103.2 2302.4 L105.2 2290.6 L107.9 2277.3 L110.2 2275.2 L112.9 2264 L117 2249.9 L120.9 2240.5 L123.2 2235.1 L126.8 2228.7 L129.7 2222.8 L132.7 2212.4 L135.6 2205.1 L141.5 2199.2 L147.4 2193.3 L153.3 2190.3 L159.2 2188.9 L165.1 2189.2 L171 2185.3 L176.9 2187.4 L182.8 2188.9 L191.6 2192.7 L200.5 2194.8 L212.2 2203.6 L224 2213.9 L250.6 2240.5 L280 2272.9 L316.9 2314.2 L342 2340.7 L356.7 2353.1 L371.4 2364.3 L386.2 2373.1 L398 2379 L406.8 2383.4 L415.6 2387.3 L421.5 2386.7 L430.4 2388.4 L439.2 2384.3 L445.1 2384.3 L451 2379 L456.3 2374.6 L459.9 2367.2 L464.3 2365.7 L467.2 2364.3 L468.7 2352.5 L471.7 2345.1 L475.2 2337.7" fill="none" stroke="#1a7a4f" stroke-width="1.5" stroke-linejoin="round"/>
<rect x="100.2" y="2315" width="376.5" height="25.7" fill="#231f20"/>
<path d="M283.2 2315v25.7M284.6 2315v25.7M286.2 2315v25.7M287.6 2315v25.7M289.5 2315v25.7M316.6 2315v25.7M317.3 2315v25.7M272.5 2315v25.7M292 2315v25.7M296 2315v25.7M301 2315v25.7M306 2315v25.7M311 2315v25.7M331 2315v25.7M338 2315v25.7M402 2315v25.7M418 2315v25.7M465 2315v25.7M157 2315v25.7M190 2315v25.7M211 2315v25.7M236 2315v25.7M246 2315v25.7M401 2315v25.7" stroke="#ffffff" stroke-width="0.5" opacity="0.45"/>
<text transform="translate(344.3 2181.5) scale(0.930 1)" font-size="21.5" fill="#231f20" xml:space="preserve">NES =  1.17</text>
<text transform="translate(344.3 2207.1)" font-size="21.5" fill="#231f20" xml:space="preserve"><tspan font-style="italic">P</tspan><tspan dy="6" font-size="14">adj</tspan><tspan dy="-6"> =  0.017</tspan></text>
<text transform="translate(518.5 2088.6)" font-size="39" font-weight="bold" fill="#231f20" stroke="#231f20" stroke-width="1.2">q</text>
<circle cx="617.3" cy="2118.1" r="36.8" fill="url(#cgqo)" stroke="#3a8f50" stroke-width="1"/>
<circle cx="615.8" cy="2113.7" r="22.7" fill="url(#cgqi)" stroke="#3b8065" stroke-width="1.5"/>
<text transform="translate(615 2180) scale(1.100 1)" font-size="21.5" text-anchor="middle" fill="#231f20">Primed ES</text>
<text transform="translate(617.3 2208) scale(1.100 1)" font-size="21.5" text-anchor="middle" fill="#231f20">cells</text>
<line x1="618.8" y1="2219.8" x2="618.8" y2="2292.8" stroke="#34496b" stroke-width="4.7"/>
<path d="M618.8 2299.4 L612 2281.8 L618.8 2286.8 L625.6 2281.8 Z" fill="#34496b"/>
<text transform="translate(671 2252.2) scale(1.100 1)" font-size="19" text-anchor="middle" fill="#e8253a">P-body</text>
<text transform="translate(673.3 2275.2) scale(1.100 1)" font-size="19" text-anchor="middle" fill="#e8253a">dissolution</text>
<circle cx="617" cy="2358" r="49" fill="#9a9a9a" filter="url(#qf)" opacity="0.5"/>
<circle cx="659.6" cy="2347.6" r="7" fill="url(#qb)"/>
<circle cx="650.8" cy="2329.2" r="7" fill="url(#qb)"/>
<circle cx="581.7" cy="2384.6" r="7" fill="url(#qb)"/>
<circle cx="575" cy="2336.3" r="7" fill="url(#qb)"/>
<circle cx="577.1" cy="2378.2" r="7" fill="url(#qb)"/>
<circle cx="571.8" cy="2364" r="7" fill="url(#qb)"/>
<circle cx="578.4" cy="2379.9" r="7" fill="url(#qb)"/>
<circle cx="615.3" cy="2399.3" r="7" fill="url(#qb)"/>
<circle cx="572.6" cy="2344.5" r="7" fill="url(#qb)"/>
<circle cx="650.9" cy="2330.5" r="7" fill="url(#qb)"/>
<circle cx="617.9" cy="2312.2" r="7" fill="url(#qb)"/>
<circle cx="610.7" cy="2312.5" r="7" fill="url(#qb)"/>
<circle cx="654.4" cy="2339" r="7" fill="url(#qb)"/>
<circle cx="624.9" cy="2396.7" r="7" fill="url(#qb)"/>
<circle cx="575.8" cy="2371.8" r="7" fill="url(#qb)"/>
<circle cx="614" cy="2313" r="7" fill="url(#qb)"/>
<circle cx="597.9" cy="2394.2" r="7" fill="url(#qb)"/>
<circle cx="609.9" cy="2397.4" r="7" fill="url(#qb)"/>
<circle cx="657.2" cy="2358.1" r="7" fill="url(#qb)"/>
<circle cx="655" cy="2342.9" r="7" fill="url(#qb)"/>
<circle cx="636.4" cy="2391.1" r="7" fill="url(#qb)"/>
<circle cx="646.4" cy="2328.1" r="7" fill="url(#qb)"/>
<circle cx="615.4" cy="2396.9" r="7" fill="url(#qb)"/>
<circle cx="625.5" cy="2395.3" r="7" fill="url(#qb)"/>
<circle cx="600.3" cy="2393.9" r="7" fill="url(#qb)"/>
<circle cx="620" cy="2396.2" r="7" fill="url(#qb)"/>
<circle cx="651" cy="2336" r="7" fill="url(#qb)"/>
<circle cx="578.5" cy="2373.8" r="7" fill="url(#qb)"/>
<circle cx="584.6" cy="2328.1" r="7" fill="url(#qb)"/>
<circle cx="610.1" cy="2315" r="7" fill="url(#qb)"/>
<circle cx="654.8" cy="2347.2" r="7" fill="url(#qb)"/>
<circle cx="616.2" cy="2395.9" r="7" fill="url(#qb)"/>
<circle cx="601.4" cy="2393.5" r="7" fill="url(#qb)"/>
<circle cx="634.7" cy="2320.6" r="7" fill="url(#qb)"/>
<circle cx="646.6" cy="2331.1" r="7" fill="url(#qb)"/>
<circle cx="628.1" cy="2317.9" r="7" fill="url(#qb)"/>
<circle cx="589.9" cy="2385.6" r="7" fill="url(#qb)"/>
<circle cx="630" cy="2319.2" r="7" fill="url(#qb)"/>
<circle cx="576.1" cy="2358.6" r="7" fill="url(#qb)"/>
<circle cx="590.4" cy="2385.3" r="7" fill="url(#qb)"/>
<circle cx="652.2" cy="2365.2" r="7" fill="url(#qb)"/>
<circle cx="625.1" cy="2318.7" r="7" fill="url(#qb)"/>
<circle cx="652" cy="2348.3" r="7" fill="url(#qb)"/>
<circle cx="585.2" cy="2333.1" r="7" fill="url(#qb)"/>
<circle cx="593.4" cy="2325.3" r="7" fill="url(#qb)"/>
<circle cx="645.4" cy="2334.7" r="7" fill="url(#qb)"/>
<circle cx="651.4" cy="2352.3" r="7" fill="url(#qb)"/>
<circle cx="642.7" cy="2379.2" r="7" fill="url(#qb)"/>
<circle cx="650" cy="2365.4" r="7" fill="url(#qb)"/>
<circle cx="595.6" cy="2385.9" r="7" fill="url(#qb)"/>
<circle cx="631" cy="2387.6" r="7" fill="url(#qb)"/>
<circle cx="642.4" cy="2378.2" r="7" fill="url(#qb)"/>
<circle cx="626.3" cy="2321.8" r="7" fill="url(#qb)"/>
<circle cx="601.6" cy="2387.8" r="7" fill="url(#qb)"/>
<circle cx="638.8" cy="2329.6" r="7" fill="url(#qb)"/>
<circle cx="599" cy="2324.6" r="7" fill="url(#qb)"/>
<circle cx="623.3" cy="2321.9" r="7" fill="url(#qb)"/>
<circle cx="618.4" cy="2321" r="7" fill="url(#qb)"/>
<circle cx="644.4" cy="2337.4" r="7" fill="url(#qb)"/>
<circle cx="646.2" cy="2340.9" r="7" fill="url(#qb)"/>
<circle cx="592" cy="2330.5" r="7" fill="url(#qb)"/>
<circle cx="639.7" cy="2332.7" r="7" fill="url(#qb)"/>
<circle cx="582" cy="2361.1" r="7" fill="url(#qb)"/>
<circle cx="600.2" cy="2385.1" r="7" fill="url(#qb)"/>
<circle cx="639.2" cy="2377.6" r="7" fill="url(#qb)"/>
<circle cx="602.1" cy="2385.5" r="7" fill="url(#qb)"/>
<circle cx="639.9" cy="2334.6" r="7" fill="url(#qb)"/>
<circle cx="646.3" cy="2363.2" r="7" fill="url(#qb)"/>
<circle cx="608.6" cy="2387" r="7" fill="url(#qb)"/>
<circle cx="628.3" cy="2326" r="7" fill="url(#qb)"/>
<circle cx="586.9" cy="2339.8" r="7" fill="url(#qb)"/>
<circle cx="646.8" cy="2353" r="7" fill="url(#qb)"/>
<circle cx="618.7" cy="2323.8" r="7" fill="url(#qb)"/>
<circle cx="588.2" cy="2338.2" r="7" fill="url(#qb)"/>
<circle cx="630.9" cy="2328.3" r="7" fill="url(#qb)"/>
<circle cx="618.3" cy="2385.9" r="7" fill="url(#qb)"/>
<circle cx="628.8" cy="2382.2" r="7" fill="url(#qb)"/>
<circle cx="644.9" cy="2352.1" r="7" fill="url(#qb)"/>
<circle cx="644.2" cy="2362" r="7" fill="url(#qb)"/>
<circle cx="590.3" cy="2338.6" r="7" fill="url(#qb)"/>
<circle cx="585.3" cy="2353.9" r="7" fill="url(#qb)"/>
<circle cx="644.3" cy="2353.7" r="7" fill="url(#qb)"/>
<circle cx="641.8" cy="2366.7" r="7" fill="url(#qb)"/>
<circle cx="587.5" cy="2348.1" r="7" fill="url(#qb)"/>
<circle cx="616.5" cy="2383.6" r="7" fill="url(#qb)"/>
<circle cx="619.4" cy="2327.6" r="7" fill="url(#qb)"/>
<circle cx="638" cy="2339.9" r="7" fill="url(#qb)"/>
<circle cx="590.7" cy="2343.4" r="7" fill="url(#qb)"/>
<circle cx="632.9" cy="2375.7" r="7" fill="url(#qb)"/>
<circle cx="588.4" cy="2360" r="7" fill="url(#qb)"/>
<circle cx="588.1" cy="2356.3" r="7" fill="url(#qb)"/>
<circle cx="620.9" cy="2329.5" r="7" fill="url(#qb)"/>
<circle cx="618.7" cy="2329.2" r="7" fill="url(#qb)"/>
<circle cx="602.4" cy="2333.1" r="7" fill="url(#qb)"/>
<circle cx="617.1" cy="2380.6" r="7" fill="url(#qb)"/>
<circle cx="590.8" cy="2348.3" r="7" fill="url(#qb)"/>
<circle cx="639.7" cy="2358.1" r="7" fill="url(#qb)"/>
<circle cx="628.5" cy="2376" r="7" fill="url(#qb)"/>
<circle cx="621" cy="2331.5" r="7" fill="url(#qb)"/>
<circle cx="603.3" cy="2376.8" r="7" fill="url(#qb)"/>
<circle cx="591.3" cy="2350.1" r="7" fill="url(#qb)"/>
<circle cx="598.7" cy="2338.3" r="7" fill="url(#qb)"/>
<circle cx="637.8" cy="2359.8" r="7" fill="url(#qb)"/>
<circle cx="635.5" cy="2363.3" r="7" fill="url(#qb)"/>
<circle cx="617.1" cy="2334.8" r="7" fill="url(#qb)"/>
<circle cx="597.2" cy="2365.7" r="7" fill="url(#qb)"/>
<circle cx="635.4" cy="2355.1" r="7" fill="url(#qb)"/>
<circle cx="630" cy="2341.8" r="7" fill="url(#qb)"/>
<circle cx="616" cy="2375.4" r="7" fill="url(#qb)"/>
<circle cx="630" cy="2342.2" r="7" fill="url(#qb)"/>
<circle cx="595.5" cy="2354.7" r="7" fill="url(#qb)"/>
<circle cx="621.3" cy="2337" r="7" fill="url(#qb)"/>
<circle cx="609.6" cy="2373.9" r="7" fill="url(#qb)"/>
<circle cx="633.3" cy="2360.4" r="7" fill="url(#qb)"/>
<circle cx="632.8" cy="2361.5" r="7" fill="url(#qb)"/>
<circle cx="632.5" cy="2362.1" r="7" fill="url(#qb)"/>
<circle cx="622.1" cy="2338.1" r="7" fill="url(#qb)"/>
<circle cx="632.6" cy="2350.3" r="7" fill="url(#qb)"/>
<circle cx="600.6" cy="2365.9" r="7" fill="url(#qb)"/>
<circle cx="630.2" cy="2363.7" r="7" fill="url(#qb)"/>
<circle cx="598.8" cy="2361.3" r="7" fill="url(#qb)"/>
<circle cx="607.1" cy="2340.1" r="7" fill="url(#qb)"/>
<circle cx="623" cy="2370.6" r="7" fill="url(#qb)"/>
<circle cx="599" cy="2361" r="7" fill="url(#qb)"/>
<circle cx="606.1" cy="2341.7" r="7" fill="url(#qb)"/>
<circle cx="628.3" cy="2346.1" r="7" fill="url(#qb)"/>
<circle cx="626.2" cy="2344.9" r="7" fill="url(#qb)"/>
<circle cx="622" cy="2368.1" r="7" fill="url(#qb)"/>
<circle cx="627.1" cy="2347.5" r="7" fill="url(#qb)"/>
<circle cx="628.9" cy="2352.5" r="7" fill="url(#qb)"/>
<circle cx="616.3" cy="2369.5" r="7" fill="url(#qb)"/>
<circle cx="600.9" cy="2355.9" r="7" fill="url(#qb)"/>
<circle cx="604.8" cy="2346.1" r="7" fill="url(#qb)"/>
<circle cx="601.4" cy="2357.6" r="7" fill="url(#qb)"/>
<circle cx="611.4" cy="2368.7" r="7" fill="url(#qb)"/>
<circle cx="624.9" cy="2346.5" r="7" fill="url(#qb)"/>
<circle cx="621.3" cy="2344.1" r="7" fill="url(#qb)"/>
<circle cx="602.4" cy="2356.6" r="7" fill="url(#qb)"/>
<circle cx="627.1" cy="2352.1" r="7" fill="url(#qb)"/>
<circle cx="617" cy="2344.2" r="7" fill="url(#qb)"/>
<circle cx="617.9" cy="2365.7" r="7" fill="url(#qb)"/>
<circle cx="621.6" cy="2363.1" r="7" fill="url(#qb)"/>
<circle cx="610.2" cy="2347.3" r="7" fill="url(#qb)"/>
<circle cx="618.7" cy="2346.9" r="7" fill="url(#qb)"/>
<circle cx="623.4" cy="2356.7" r="7" fill="url(#qb)"/>
<circle cx="621.5" cy="2356.3" r="7" fill="url(#qb)"/>
<circle cx="619.7" cy="2353" r="7" fill="url(#qb)"/>
<circle cx="612.8" cy="2359.1" r="7" fill="url(#qb)"/>
<circle cx="614.2" cy="2352.2" r="7" fill="url(#qb)"/>
<circle cx="615.5" cy="2357.9" r="7" fill="url(#qb)"/>
<circle cx="595.9" cy="2323.3" r="5.5" fill="url(#qs)"/>
<circle cx="592.8" cy="2325" r="5.5" fill="url(#qs)"/>
<circle cx="596.7" cy="2341.8" r="5.5" fill="url(#qs)"/>
<circle cx="593.1" cy="2336.5" r="5.5" fill="url(#qs)"/>
<circle cx="607.6" cy="2326.2" r="5.5" fill="url(#qs)"/>
<circle cx="598.3" cy="2336.7" r="5.5" fill="url(#qs)"/>
<circle cx="596.2" cy="2339.5" r="5.5" fill="url(#qs)"/>
<circle cx="610.6" cy="2331.6" r="5.5" fill="url(#qs)"/>
<circle cx="594.6" cy="2335.9" r="5.5" fill="url(#qs)"/>
<circle cx="602.6" cy="2326.5" r="5.5" fill="url(#qs)"/>
<circle cx="599.1" cy="2332.5" r="5.5" fill="url(#qs)"/>
<circle cx="603.5" cy="2339.2" r="5.5" fill="url(#qs)"/>
<circle cx="597.2" cy="2323.7" r="5.5" fill="url(#qs)"/>
<circle cx="593.1" cy="2339.9" r="5.5" fill="url(#qs)"/>
<circle cx="643.4" cy="2346.5" r="5.5" fill="url(#qs)"/>
<circle cx="656.4" cy="2354" r="5.5" fill="url(#qs)"/>
<circle cx="657" cy="2348.7" r="5.5" fill="url(#qs)"/>
<circle cx="641.6" cy="2345.8" r="5.5" fill="url(#qs)"/>
<circle cx="651.2" cy="2352.5" r="5.5" fill="url(#qs)"/>
<circle cx="648.3" cy="2359.9" r="5.5" fill="url(#qs)"/>
<circle cx="654.1" cy="2343.4" r="5.5" fill="url(#qs)"/>
<circle cx="649.7" cy="2353.8" r="5.5" fill="url(#qs)"/>
<circle cx="643.2" cy="2359.7" r="5.5" fill="url(#qs)"/>
<circle cx="651.6" cy="2357.9" r="5.5" fill="url(#qs)"/>
<circle cx="643.1" cy="2342.1" r="5.5" fill="url(#qs)"/>
<circle cx="652" cy="2348.1" r="5.5" fill="url(#qs)"/>
<circle cx="642.2" cy="2348.8" r="5.5" fill="url(#qs)"/>
<circle cx="648.1" cy="2350.6" r="5.5" fill="url(#qs)"/>
<circle cx="598.6" cy="2375.1" r="5.5" fill="url(#qs)"/>
<circle cx="610.4" cy="2375.7" r="5.5" fill="url(#qs)"/>
<circle cx="597.7" cy="2381.7" r="5.5" fill="url(#qs)"/>
<circle cx="597.4" cy="2362.6" r="5.5" fill="url(#qs)"/>
<circle cx="594.2" cy="2362.7" r="5.5" fill="url(#qs)"/>
<circle cx="606.9" cy="2365.1" r="5.5" fill="url(#qs)"/>
<circle cx="591.7" cy="2368.2" r="5.5" fill="url(#qs)"/>
<circle cx="598.9" cy="2363.5" r="5.5" fill="url(#qs)"/>
<circle cx="595.9" cy="2371.5" r="5.5" fill="url(#qs)"/>
<circle cx="604.5" cy="2365.3" r="5.5" fill="url(#qs)"/>
<circle cx="604.3" cy="2373.5" r="5.5" fill="url(#qs)"/>
<circle cx="604.1" cy="2367.7" r="5.5" fill="url(#qs)"/>
<circle cx="593.2" cy="2377.3" r="5.5" fill="url(#qs)"/>
<circle cx="604.3" cy="2366.8" r="5.5" fill="url(#qs)"/>
<text transform="translate(615.8 2426.2) scale(1.070 1)" font-size="21.5" text-anchor="middle" fill="#231f20">hPGCLCs (day 4)</text>
<text transform="translate(615.8 2452.7)" font-size="21.5" text-anchor="middle" fill="#231f20">(<tspan font-style="italic">TFAP2C</tspan>-GFP<tspan dy="-9.2" font-size="12">+</tspan></text>
<text transform="translate(615.8 2481.3) scale(1.040 1)" font-size="21.5" text-anchor="middle" fill="#231f20"><tspan font-style="italic">BLIMP1</tspan>-Tomato<tspan dy="-9.2" font-size="12">+</tspan><tspan dy="9.2">)</tspan></text>
<text transform="translate(761 2088.6)" font-size="39" font-weight="bold" fill="#231f20" stroke="#231f20" stroke-width="1.2">r</text>
<text transform="translate(971.5 2128) scale(1.100 1)" font-size="21.5" text-anchor="middle" fill="#231f20">Control KD</text>
<text transform="translate(1281 2128) scale(1.055 1)" font-size="21.5" text-anchor="middle" fill="#231f20"><tspan font-style="italic">DDX6</tspan> KD, day 4</text>
<line x1="772.3" y1="2259.6" x2="772.3" y2="2145.7" stroke="#34496b" stroke-width="2.2"/>
<path d="M772.3 2140.6 L767 2154.2 L772.3 2150.4 L777.6 2154.2 Z" fill="#34496b"/>
<text transform="translate(778.6 2404.5) rotate(-90)" font-size="21.5" fill="#0ea050"><tspan font-style="italic">TFAP2C</tspan>-GFP</text>
<rect x="840.4" y="2140.2" width="262.3" height="260.8" fill="#fff"/>
<g clip-path="url(#rc1)">
<path d="M904.9 2295.9h2v2h-2zM980.3 2272.8h2v2h-2zM901.3 2284.4h2v2h-2zM962.8 2314.7h2v2h-2zM905.2 2252.5h2v2h-2zM970.5 2298.4h2v2h-2zM998.6 2311.6h2v2h-2zM943 2279h2v2h-2zM1033.9 2278.6h2v2h-2zM919.8 2256.5h2v2h-2zM949.7 2289.9h2v2h-2zM934.8 2284.5h2v2h-2zM955.8 2304.1h2v2h-2zM983.8 2291.6h2v2h-2zM885.6 2304.3h2v2h-2zM898.2 2281.6h2v2h-2zM896.4 2286.2h2v2h-2zM920 2291.7h2v2h-2zM1058.7 2284.8h2v2h-2zM975.1 2251.7h2v2h-2zM936.7 2303.3h2v2h-2zM943.3 2295.7h2v2h-2zM950 2259.9h2v2h-2zM965.7 2265h2v2h-2zM1010.1 2273h2v2h-2zM969.8 2286.2h2v2h-2zM978.9 2270.4h2v2h-2zM980.5 2282.9h2v2h-2zM989.5 2302.3h2v2h-2zM951.3 2265.8h2v2h-2zM972.6 2298.3h2v2h-2zM1002.3 2276.3h2v2h-2zM965.4 2299.3h2v2h-2zM956.1 2291.5h2v2h-2zM952.7 2270.5h2v2h-2zM912 2275.8h2v2h-2zM966.6 2325.4h2v2h-2zM979.7 2313.5h2v2h-2zM972.9 2304.3h2v2h-2zM952.7 2306.2h2v2h-2zM1006.8 2277.6h2v2h-2zM922.9 2337.1h2v2h-2zM954.8 2311.3h2v2h-2zM976.2 2256.6h2v2h-2zM1029.2 2332.3h2v2h-2zM952.5 2305.7h2v2h-2zM950.8 2263.1h2v2h-2zM942.7 2295.8h2v2h-2zM984.4 2304.5h2v2h-2zM948.5 2321.3h2v2h-2zM920.6 2306.7h2v2h-2zM984.3 2278.5h2v2h-2zM885.6 2262.5h2v2h-2zM954.6 2299.8h2v2h-2zM999.1 2260h2v2h-2zM946.6 2303h2v2h-2zM941.1 2224.5h2v2h-2zM973.9 2346.2h2v2h-2zM980.6 2262.2h2v2h-2zM932.5 2291.9h2v2h-2zM1031.1 2302.2h2v2h-2zM950.4 2326.6h2v2h-2zM943.7 2334.5h2v2h-2zM923.2 2273.8h2v2h-2zM971 2323.1h2v2h-2zM968.7 2293.9h2v2h-2zM884.6 2267.6h2v2h-2zM925.7 2272.2h2v2h-2zM966.4 2277.4h2v2h-2zM973.3 2288.2h2v2h-2zM935.2 2289.2h2v2h-2zM961.1 2308.4h2v2h-2zM930.3 2280h2v2h-2zM900.1 2327.8h2v2h-2zM995.9 2281.5h2v2h-2zM930.2 2254h2v2h-2zM952.3 2291.5h2v2h-2zM1020.7 2292.5h2v2h-2zM920.1 2222.5h2v2h-2zM994.4 2291h2v2h-2zM891.8 2290.8h2v2h-2zM891.8 2376.6h2v2h-2zM984.5 2301h2v2h-2zM940.5 2230.5h2v2h-2zM942.2 2245.7h2v2h-2zM966.8 2230.5h2v2h-2zM915.6 2317.8h2v2h-2zM1002.4 2255.4h2v2h-2zM894.3 2309h2v2h-2zM975.5 2260.4h2v2h-2zM922.9 2268.1h2v2h-2zM906.1 2268.4h2v2h-2zM989 2304h2v2h-2zM1016.4 2283.9h2v2h-2zM941.9 2260.6h2v2h-2zM942.3 2252h2v2h-2zM886.1 2304.2h2v2h-2zM995.5 2307.9h2v2h-2zM991.8 2292.7h2v2h-2zM922.1 2288.3h2v2h-2zM933.8 2257.2h2v2h-2zM889 2247.5h2v2h-2zM946.3 2290h2v2h-2zM930.4 2323.3h2v2h-2zM952.6 2301.3h2v2h-2zM987.9 2264.8h2v2h-2zM879.5 2305.7h2v2h-2zM923.1 2320.2h2v2h-2zM958 2312.3h2v2h-2zM972.5 2232h2v2h-2zM971 2268.6h2v2h-2zM920.8 2274.8h2v2h-2zM972.6 2309.1h2v2h-2zM980.9 2242.9h2v2h-2zM926.4 2224.3h2v2h-2zM943 2301.7h2v2h-2zM920.5 2292.5h2v2h-2zM954.4 2312.3h2v2h-2zM918.6 2264.5h2v2h-2zM920.5 2331.7h2v2h-2zM983.6 2282.9h2v2h-2zM954.2 2289.1h2v2h-2zM953.4 2280.7h2v2h-2zM935.1 2253.4h2v2h-2zM924.7 2329h2v2h-2zM964.7 2287.8h2v2h-2zM939.2 2287.7h2v2h-2zM958.5 2269.3h2v2h-2zM953.2 2292.3h2v2h-2zM921 2265.6h2v2h-2zM912.5 2258.5h2v2h-2zM976.8 2224.7h2v2h-2zM937.4 2270.2h2v2h-2zM925.4 2288.6h2v2h-2zM984.8 2288.1h2v2h-2zM941.7 2270.2h2v2h-2zM942.1 2309.8h2v2h-2zM933.1 2256.3h2v2h-2zM903.5 2257.3h2v2h-2zM899.2 2314.7h2v2h-2zM958.6 2279.9h2v2h-2zM996.1 2269h2v2h-2zM972.1 2306.9h2v2h-2zM893.9 2245.6h2v2h-2zM915 2309.7h2v2h-2zM990.6 2254.2h2v2h-2zM982.2 2276.1h2v2h-2zM933.1 2271.8h2v2h-2zM935.5 2238.8h2v2h-2zM912.5 2254h2v2h-2zM963.2 2340.4h2v2h-2zM1039.4 2277.4h2v2h-2zM888 2275.5h2v2h-2zM914.6 2337.7h2v2h-2zM965.9 2267.2h2v2h-2zM978.3 2300h2v2h-2zM891.2 2272.3h2v2h-2zM938.4 2286.6h2v2h-2zM951 2277.3h2v2h-2zM953 2270.9h2v2h-2zM916 2325.5h2v2h-2zM958.7 2297.5h2v2h-2zM892.3 2281.8h2v2h-2zM974.4 2252.5h2v2h-2zM983.8 2276h2v2h-2zM960.2 2282.6h2v2h-2zM953.9 2317.4h2v2h-2zM932.8 2326.8h2v2h-2zM919.9 2261.9h2v2h-2zM970.7 2258.4h2v2h-2zM933.9 2309.7h2v2h-2zM987.7 2240h2v2h-2zM963.7 2335.1h2v2h-2zM987.1 2279.9h2v2h-2zM926.1 2278.4h2v2h-2zM907.3 2279.2h2v2h-2zM940.1 2282.3h2v2h-2zM986.7 2280.1h2v2h-2zM896.9 2313.4h2v2h-2zM910 2274.5h2v2h-2zM942 2277.2h2v2h-2zM912.4 2279.6h2v2h-2zM1020.8 2270.3h2v2h-2zM941.9 2315.3h2v2h-2zM971.8 2305.9h2v2h-2zM975.8 2234.9h2v2h-2zM917.1 2289.4h2v2h-2zM963.5 2319.8h2v2h-2zM962.5 2279.9h2v2h-2zM947.8 2280.6h2v2h-2zM954.9 2303.6h2v2h-2zM934.9 2264.9h2v2h-2zM917.4 2314.6h2v2h-2zM990.1 2311.9h2v2h-2zM975.6 2307.8h2v2h-2zM946.4 2303.4h2v2h-2zM910.7 2280.8h2v2h-2zM921.6 2305h2v2h-2zM926.8 2283.3h2v2h-2zM960.1 2321.3h2v2h-2zM919.6 2261.7h2v2h-2zM974.3 2257.3h2v2h-2zM961.9 2271.3h2v2h-2zM942.9 2238.8h2v2h-2zM970.8 2273.1h2v2h-2zM915.9 2340.1h2v2h-2zM970.7 2377.3h2v2h-2zM960.4 2277h2v2h-2zM950.2 2327.9h2v2h-2zM945.6 2297.8h2v2h-2zM964.1 2262.4h2v2h-2zM950.9 2273h2v2h-2zM904.2 2308.8h2v2h-2zM969.1 2288h2v2h-2zM915.6 2233.9h2v2h-2zM963 2283.6h2v2h-2zM889.2 2284.5h2v2h-2zM894.8 2285.4h2v2h-2zM951.4 2295.3h2v2h-2zM953.9 2290.5h2v2h-2zM907.7 2276.1h2v2h-2zM929.1 2280h2v2h-2zM955.7 2302.2h2v2h-2zM1002.1 2219.3h2v2h-2zM960.1 2280.9h2v2h-2zM1023.9 2310.4h2v2h-2zM890.3 2296.5h2v2h-2zM928.8 2311.9h2v2h-2zM910.6 2283.5h2v2h-2zM942 2283.6h2v2h-2zM926.6 2238.3h2v2h-2zM962.2 2312.1h2v2h-2zM944.2 2259.7h2v2h-2zM953.4 2300.8h2v2h-2zM940.5 2285.7h2v2h-2zM994.4 2257h2v2h-2zM927.5 2236.6h2v2h-2zM922.7 2266.9h2v2h-2zM913.9 2268.1h2v2h-2zM1007.6 2281h2v2h-2zM942.6 2343.3h2v2h-2zM944.4 2241h2v2h-2zM960.2 2261.7h2v2h-2zM1002.2 2253.7h2v2h-2zM926.8 2244.3h2v2h-2zM949.8 2259.7h2v2h-2zM944.3 2276.3h2v2h-2zM925.7 2310.6h2v2h-2zM978.3 2287.7h2v2h-2zM915.9 2258.3h2v2h-2zM955.7 2348.3h2v2h-2zM931 2265.7h2v2h-2zM922.8 2257.6h2v2h-2zM913.4 2280.8h2v2h-2zM995.3 2286.1h2v2h-2zM929.1 2244.1h2v2h-2zM953.7 2285.4h2v2h-2zM904.8 2257.8h2v2h-2zM945.1 2312.4h2v2h-2zM967.8 2291.4h2v2h-2z" fill="#a9b4dc" opacity="0.8"/>
<path d="M916.6 2317.9h1.1v1.1h-1.1zM933.3 2283.4h1.1v1.1h-1.1zM969.7 2268.6h1.1v1.1h-1.1zM965.7 2321.8h1.1v1.1h-1.1zM917.3 2274.4h1.1v1.1h-1.1zM907.5 2303.7h1.1v1.1h-1.1zM973.7 2287.8h1.1v1.1h-1.1zM998.9 2295.4h1.1v1.1h-1.1zM995.6 2264.1h1.1v1.1h-1.1zM987.5 2271.5h1.1v1.1h-1.1zM946.6 2311h1.1v1.1h-1.1zM946.7 2281.3h1.1v1.1h-1.1zM1005.6 2260.3h1.1v1.1h-1.1zM936.1 2294.1h1.1v1.1h-1.1zM999.2 2236.3h1.1v1.1h-1.1zM974.5 2282.2h1.1v1.1h-1.1zM968.8 2286h1.1v1.1h-1.1zM930.7 2287.5h1.1v1.1h-1.1zM939.7 2283h1.1v1.1h-1.1zM989.5 2296.5h1.1v1.1h-1.1zM935.7 2312.7h1.1v1.1h-1.1zM915.8 2293.3h1.1v1.1h-1.1zM944.6 2292.5h1.1v1.1h-1.1zM901 2250h1.1v1.1h-1.1zM977 2254.3h1.1v1.1h-1.1zM943.5 2310h1.1v1.1h-1.1zM914.2 2273.2h1.1v1.1h-1.1zM966 2283.5h1.1v1.1h-1.1zM941.3 2316.4h1.1v1.1h-1.1zM941 2259.3h1.1v1.1h-1.1zM993.2 2256.3h1.1v1.1h-1.1zM928.6 2315.9h1.1v1.1h-1.1zM965.4 2300.1h1.1v1.1h-1.1zM932 2330.1h1.1v1.1h-1.1zM980.5 2279.4h1.1v1.1h-1.1zM981.6 2296.5h1.1v1.1h-1.1zM967.1 2274.1h1.1v1.1h-1.1zM945 2321.3h1.1v1.1h-1.1zM975.7 2271.9h1.1v1.1h-1.1zM962.4 2295.3h1.1v1.1h-1.1zM894.4 2340.6h1.1v1.1h-1.1zM893.7 2338.9h1.1v1.1h-1.1zM1000.3 2297.7h1.1v1.1h-1.1zM943.6 2302.5h1.1v1.1h-1.1zM914.9 2249.3h1.1v1.1h-1.1zM965.1 2271.4h1.1v1.1h-1.1zM936.4 2268.5h1.1v1.1h-1.1zM948.5 2288.2h1.1v1.1h-1.1zM982.3 2266h1.1v1.1h-1.1zM1023.8 2210.8h1.1v1.1h-1.1zM941.4 2290.3h1.1v1.1h-1.1zM951.1 2327.7h1.1v1.1h-1.1zM945.1 2251.6h1.1v1.1h-1.1zM967.3 2303.5h1.1v1.1h-1.1zM917.4 2316.3h1.1v1.1h-1.1zM976.2 2330.5h1.1v1.1h-1.1zM952.1 2270.9h1.1v1.1h-1.1zM962.3 2329.3h1.1v1.1h-1.1zM970.1 2334.1h1.1v1.1h-1.1zM909.1 2313.2h1.1v1.1h-1.1zM932.6 2278.6h1.1v1.1h-1.1zM953.2 2301.9h1.1v1.1h-1.1zM912.2 2274.5h1.1v1.1h-1.1zM1000.7 2284.8h1.1v1.1h-1.1zM936.6 2304.7h1.1v1.1h-1.1zM903.2 2354.1h1.1v1.1h-1.1zM909.3 2302.5h1.1v1.1h-1.1zM980.6 2222.1h1.1v1.1h-1.1zM933.4 2267.3h1.1v1.1h-1.1zM888.5 2302.2h1.1v1.1h-1.1zM935.8 2258.4h1.1v1.1h-1.1zM944.9 2309.9h1.1v1.1h-1.1zM925.7 2266.7h1.1v1.1h-1.1zM984.8 2258.8h1.1v1.1h-1.1zM965.9 2240.6h1.1v1.1h-1.1zM968.2 2230h1.1v1.1h-1.1zM901.5 2312.8h1.1v1.1h-1.1zM943.3 2297.7h1.1v1.1h-1.1zM944.2 2307.8h1.1v1.1h-1.1zM969.9 2248.7h1.1v1.1h-1.1zM910.4 2306h1.1v1.1h-1.1zM979 2283.9h1.1v1.1h-1.1zM926 2275.9h1.1v1.1h-1.1zM961.6 2302.8h1.1v1.1h-1.1zM950.2 2322.1h1.1v1.1h-1.1zM957.6 2286.5h1.1v1.1h-1.1zM953.1 2321.5h1.1v1.1h-1.1zM927.8 2259.7h1.1v1.1h-1.1zM961.2 2262.8h1.1v1.1h-1.1zM975.7 2267.8h1.1v1.1h-1.1zM936 2301.1h1.1v1.1h-1.1zM924.9 2281.5h1.1v1.1h-1.1zM960.6 2299.8h1.1v1.1h-1.1zM948.6 2283.1h1.1v1.1h-1.1zM943.4 2306.6h1.1v1.1h-1.1zM968.2 2297h1.1v1.1h-1.1zM987.2 2315.2h1.1v1.1h-1.1zM910.8 2315.8h1.1v1.1h-1.1zM973.4 2290.9h1.1v1.1h-1.1zM894.9 2295.1h1.1v1.1h-1.1zM962.2 2304.8h1.1v1.1h-1.1zM951.9 2238.7h1.1v1.1h-1.1zM967.9 2303.5h1.1v1.1h-1.1zM934 2267.9h1.1v1.1h-1.1zM912.3 2277.2h1.1v1.1h-1.1zM972.2 2258.3h1.1v1.1h-1.1zM925.6 2279.5h1.1v1.1h-1.1zM931.8 2273.2h1.1v1.1h-1.1zM924.8 2304.4h1.1v1.1h-1.1zM949.3 2298.3h1.1v1.1h-1.1zM968.4 2303.3h1.1v1.1h-1.1zM950.8 2291.3h1.1v1.1h-1.1zM941.8 2267.8h1.1v1.1h-1.1zM967.6 2253.2h1.1v1.1h-1.1zM929.1 2338.1h1.1v1.1h-1.1zM955.2 2263.6h1.1v1.1h-1.1zM984 2283.8h1.1v1.1h-1.1zM947.6 2252.3h1.1v1.1h-1.1zM937.3 2264.9h1.1v1.1h-1.1zM925.8 2288.3h1.1v1.1h-1.1zM935.4 2310.9h1.1v1.1h-1.1zM938.6 2312h1.1v1.1h-1.1zM943.4 2272.3h1.1v1.1h-1.1zM961.8 2294.4h1.1v1.1h-1.1zM970.9 2259.3h1.1v1.1h-1.1zM996.5 2261.9h1.1v1.1h-1.1zM957.6 2238.7h1.1v1.1h-1.1zM940.7 2327.2h1.1v1.1h-1.1zM949.5 2298.3h1.1v1.1h-1.1zM955.3 2238h1.1v1.1h-1.1zM986.2 2310.2h1.1v1.1h-1.1zM967.9 2272h1.1v1.1h-1.1zM961.2 2275.2h1.1v1.1h-1.1zM984.6 2293.1h1.1v1.1h-1.1zM951 2300.2h1.1v1.1h-1.1zM965.7 2292.7h1.1v1.1h-1.1zM952.1 2251.5h1.1v1.1h-1.1zM987.3 2278h1.1v1.1h-1.1zM918.6 2302.4h1.1v1.1h-1.1zM910.1 2309.5h1.1v1.1h-1.1zM939.1 2259.9h1.1v1.1h-1.1zM917.6 2286.1h1.1v1.1h-1.1zM920.9 2286.4h1.1v1.1h-1.1zM931.4 2316.5h1.1v1.1h-1.1zM931.3 2276.2h1.1v1.1h-1.1zM962.8 2257.2h1.1v1.1h-1.1zM951.1 2247.6h1.1v1.1h-1.1zM974.2 2251.1h1.1v1.1h-1.1zM931.9 2311.4h1.1v1.1h-1.1zM901.7 2293.6h1.1v1.1h-1.1zM946.6 2273.2h1.1v1.1h-1.1zM959.2 2280.7h1.1v1.1h-1.1zM955.7 2283.3h1.1v1.1h-1.1zM964.5 2272.2h1.1v1.1h-1.1zM987 2280.6h1.1v1.1h-1.1zM877.5 2294.4h1.1v1.1h-1.1zM977.7 2248.3h1.1v1.1h-1.1zM950.7 2280.5h1.1v1.1h-1.1zM985.7 2318.1h1.1v1.1h-1.1zM932.5 2300.8h1.1v1.1h-1.1zM932.7 2267.6h1.1v1.1h-1.1zM923.9 2298.4h1.1v1.1h-1.1zM953 2292.9h1.1v1.1h-1.1zM880.3 2297.5h1.1v1.1h-1.1zM983.5 2251h1.1v1.1h-1.1zM961 2262.9h1.1v1.1h-1.1zM961.6 2335.6h1.1v1.1h-1.1zM906.5 2294.5h1.1v1.1h-1.1zM963.8 2273.2h1.1v1.1h-1.1zM912 2320.2h1.1v1.1h-1.1zM943.1 2246h1.1v1.1h-1.1zM946.2 2310.2h1.1v1.1h-1.1zM959 2209.6h1.1v1.1h-1.1zM932.3 2299.8h1.1v1.1h-1.1zM913.9 2288.3h1.1v1.1h-1.1zM943.6 2304.4h1.1v1.1h-1.1zM935.6 2321.4h1.1v1.1h-1.1zM979.2 2284.3h1.1v1.1h-1.1zM975.9 2247.4h1.1v1.1h-1.1zM960.9 2303.9h1.1v1.1h-1.1zM990.4 2277.4h1.1v1.1h-1.1zM930.5 2286.5h1.1v1.1h-1.1zM911.3 2304.1h1.1v1.1h-1.1zM920.2 2295.1h1.1v1.1h-1.1zM950.9 2307.4h1.1v1.1h-1.1zM966.9 2268.6h1.1v1.1h-1.1zM920.8 2307.2h1.1v1.1h-1.1zM969.9 2292.1h1.1v1.1h-1.1zM964.1 2295.6h1.1v1.1h-1.1zM941.9 2309.7h1.1v1.1h-1.1zM959.8 2265.8h1.1v1.1h-1.1zM947.8 2321.5h1.1v1.1h-1.1zM934.6 2316.9h1.1v1.1h-1.1zM936.7 2285.4h1.1v1.1h-1.1zM935.7 2283.5h1.1v1.1h-1.1zM972.2 2316.9h1.1v1.1h-1.1zM979.4 2255.6h1.1v1.1h-1.1zM971.6 2292.3h1.1v1.1h-1.1zM964.1 2325.3h1.1v1.1h-1.1zM957.4 2295.8h1.1v1.1h-1.1zM910 2285.6h1.1v1.1h-1.1zM915.7 2294.4h1.1v1.1h-1.1zM967.1 2260.7h1.1v1.1h-1.1zM962.2 2261.9h1.1v1.1h-1.1zM928.2 2307.3h1.1v1.1h-1.1zM915.1 2265.6h1.1v1.1h-1.1zM965.6 2305h1.1v1.1h-1.1zM926 2269.8h1.1v1.1h-1.1zM913.2 2280.2h1.1v1.1h-1.1zM928.8 2274.7h1.1v1.1h-1.1zM947.7 2291.1h1.1v1.1h-1.1zM962 2240.9h1.1v1.1h-1.1zM923.7 2353h1.1v1.1h-1.1zM952.6 2271.5h1.1v1.1h-1.1zM946.3 2260.6h1.1v1.1h-1.1zM949.6 2304h1.1v1.1h-1.1zM942.5 2294.3h1.1v1.1h-1.1zM959.6 2279.6h1.1v1.1h-1.1zM949.5 2299.4h1.1v1.1h-1.1zM996.3 2281.9h1.1v1.1h-1.1zM938.4 2315.8h1.1v1.1h-1.1zM884 2298.9h1.1v1.1h-1.1zM964.6 2287.3h1.1v1.1h-1.1zM954.9 2230.7h1.1v1.1h-1.1zM964.9 2256h1.1v1.1h-1.1zM943.3 2302.5h1.1v1.1h-1.1zM966.8 2243h1.1v1.1h-1.1zM900 2308.9h1.1v1.1h-1.1zM962 2308.5h1.1v1.1h-1.1zM951.9 2273.9h1.1v1.1h-1.1zM929.5 2288h1.1v1.1h-1.1zM946.5 2239.3h1.1v1.1h-1.1zM919.4 2284.7h1.1v1.1h-1.1zM975.3 2266.4h1.1v1.1h-1.1zM942.8 2311.6h1.1v1.1h-1.1zM1007.1 2265.6h1.1v1.1h-1.1zM914.8 2307.6h1.1v1.1h-1.1zM948.1 2233.6h1.1v1.1h-1.1zM913.6 2302.6h1.1v1.1h-1.1zM948 2262.1h1.1v1.1h-1.1zM948.8 2280.4h1.1v1.1h-1.1zM937.9 2259.6h1.1v1.1h-1.1zM866.2 2292.6h1.1v1.1h-1.1zM965.1 2299.3h1.1v1.1h-1.1zM935.9 2249.7h1.1v1.1h-1.1zM903.4 2314.7h1.1v1.1h-1.1zM900.5 2272.8h1.1v1.1h-1.1zM922.8 2283.9h1.1v1.1h-1.1zM950 2294.7h1.1v1.1h-1.1zM954.3 2285.5h1.1v1.1h-1.1zM957.8 2274.2h1.1v1.1h-1.1zM932.1 2288.9h1.1v1.1h-1.1zM970.5 2258.5h1.1v1.1h-1.1zM989.3 2298.4h1.1v1.1h-1.1zM956.9 2216.3h1.1v1.1h-1.1zM964.5 2299.7h1.1v1.1h-1.1zM926.8 2282.8h1.1v1.1h-1.1zM904.8 2302.2h1.1v1.1h-1.1zM920.6 2254.3h1.1v1.1h-1.1zM935 2272.2h1.1v1.1h-1.1zM932.3 2267.4h1.1v1.1h-1.1zM951.3 2287.2h1.1v1.1h-1.1zM921.7 2288.1h1.1v1.1h-1.1zM977.8 2278.4h1.1v1.1h-1.1zM935.4 2308.4h1.1v1.1h-1.1zM913.2 2299.6h1.1v1.1h-1.1zM872 2332.8h1.1v1.1h-1.1zM955.8 2264.7h1.1v1.1h-1.1zM951.5 2263.9h1.1v1.1h-1.1zM951.9 2277.7h1.1v1.1h-1.1zM954.2 2340.2h1.1v1.1h-1.1zM908.7 2279.6h1.1v1.1h-1.1zM956.7 2291.6h1.1v1.1h-1.1zM953.4 2277.6h1.1v1.1h-1.1zM970.9 2292.8h1.1v1.1h-1.1zM941.8 2250.8h1.1v1.1h-1.1zM986.2 2252.3h1.1v1.1h-1.1zM911.7 2339.6h1.1v1.1h-1.1zM947.7 2293.7h1.1v1.1h-1.1zM985 2238.8h1.1v1.1h-1.1zM918.8 2281.6h1.1v1.1h-1.1zM960.7 2293.6h1.1v1.1h-1.1zM958.4 2281.4h1.1v1.1h-1.1zM901.9 2331.5h1.1v1.1h-1.1zM964.6 2256.6h1.1v1.1h-1.1zM920.5 2279.3h1.1v1.1h-1.1zM930.6 2255.1h1.1v1.1h-1.1zM988.1 2245.9h1.1v1.1h-1.1zM916.1 2277.1h1.1v1.1h-1.1zM973.1 2292.1h1.1v1.1h-1.1zM936.6 2299.8h1.1v1.1h-1.1zM967.5 2296.7h1.1v1.1h-1.1zM978.6 2295h1.1v1.1h-1.1zM951.4 2357.2h1.1v1.1h-1.1zM919.7 2276.9h1.1v1.1h-1.1zM931.2 2310.5h1.1v1.1h-1.1zM999.1 2312.1h1.1v1.1h-1.1zM964.4 2249.6h1.1v1.1h-1.1zM932.6 2284.8h1.1v1.1h-1.1zM930.9 2294.7h1.1v1.1h-1.1zM949.5 2317.7h1.1v1.1h-1.1zM963.6 2290.1h1.1v1.1h-1.1zM927.1 2269.6h1.1v1.1h-1.1zM951.6 2271h1.1v1.1h-1.1zM1010.2 2268.4h1.1v1.1h-1.1zM905.4 2292.7h1.1v1.1h-1.1zM931.5 2293h1.1v1.1h-1.1zM970.8 2261h1.1v1.1h-1.1zM953.1 2271.9h1.1v1.1h-1.1zM959.5 2310.9h1.1v1.1h-1.1zM975.2 2318.9h1.1v1.1h-1.1zM951.6 2293.5h1.1v1.1h-1.1zM965.6 2289.6h1.1v1.1h-1.1zM981.8 2237.5h1.1v1.1h-1.1zM921.7 2280.4h1.1v1.1h-1.1zM995.3 2259.1h1.1v1.1h-1.1zM964 2285.1h1.1v1.1h-1.1zM915.7 2334.7h1.1v1.1h-1.1zM954.5 2288.8h1.1v1.1h-1.1zM948 2282.8h1.1v1.1h-1.1zM937.5 2277.9h1.1v1.1h-1.1zM950.9 2301h1.1v1.1h-1.1zM910.4 2340.7h1.1v1.1h-1.1zM947 2255.7h1.1v1.1h-1.1zM963.3 2281.4h1.1v1.1h-1.1zM959.1 2324.5h1.1v1.1h-1.1zM949.4 2280.4h1.1v1.1h-1.1zM948 2347.7h1.1v1.1h-1.1zM956.7 2287.1h1.1v1.1h-1.1zM971.2 2325.3h1.1v1.1h-1.1zM966 2315.5h1.1v1.1h-1.1zM985.3 2282.1h1.1v1.1h-1.1zM978.2 2293.3h1.1v1.1h-1.1zM915.3 2253.4h1.1v1.1h-1.1zM901.3 2356.6h1.1v1.1h-1.1zM919 2348.2h1.1v1.1h-1.1zM991.5 2194.7h1.1v1.1h-1.1zM967.9 2282.3h1.1v1.1h-1.1zM902.8 2266.3h1.1v1.1h-1.1zM969 2316.3h1.1v1.1h-1.1zM944.6 2288h1.1v1.1h-1.1zM949.8 2285.1h1.1v1.1h-1.1zM986.2 2318.9h1.1v1.1h-1.1zM901.4 2272.2h1.1v1.1h-1.1zM959.3 2261h1.1v1.1h-1.1zM915.9 2272.2h1.1v1.1h-1.1zM937.1 2282.2h1.1v1.1h-1.1zM951.4 2271.1h1.1v1.1h-1.1zM920.7 2322.5h1.1v1.1h-1.1zM918.6 2255.8h1.1v1.1h-1.1zM950.1 2305.4h1.1v1.1h-1.1zM941.2 2281.8h1.1v1.1h-1.1zM951.7 2263.9h1.1v1.1h-1.1zM938.6 2308.3h1.1v1.1h-1.1zM934.8 2278.7h1.1v1.1h-1.1zM956 2286.1h1.1v1.1h-1.1zM982.8 2285h1.1v1.1h-1.1zM948.9 2283.9h1.1v1.1h-1.1zM928.7 2307.4h1.1v1.1h-1.1zM950.8 2307h1.1v1.1h-1.1zM974.6 2281.4h1.1v1.1h-1.1zM950.6 2292.7h1.1v1.1h-1.1zM1005.7 2285.8h1.1v1.1h-1.1zM893.9 2249.9h1.1v1.1h-1.1zM939.9 2248.4h1.1v1.1h-1.1zM954.8 2292.8h1.1v1.1h-1.1zM979.1 2254.4h1.1v1.1h-1.1zM936.6 2278.7h1.1v1.1h-1.1zM937 2259.8h1.1v1.1h-1.1zM965 2280.9h1.1v1.1h-1.1zM973.9 2255h1.1v1.1h-1.1zM957.6 2283.2h1.1v1.1h-1.1zM933.4 2270.3h1.1v1.1h-1.1zM935.2 2297.7h1.1v1.1h-1.1zM973.2 2294h1.1v1.1h-1.1zM937.3 2302h1.1v1.1h-1.1zM973.5 2288.7h1.1v1.1h-1.1zM956 2284.8h1.1v1.1h-1.1zM939.9 2293.2h1.1v1.1h-1.1zM918.6 2260.7h1.1v1.1h-1.1zM897.4 2259.4h1.1v1.1h-1.1zM971.4 2291.1h1.1v1.1h-1.1zM941.6 2295.9h1.1v1.1h-1.1zM947.6 2278.8h1.1v1.1h-1.1zM978.5 2254.6h1.1v1.1h-1.1zM954.1 2278.8h1.1v1.1h-1.1zM970.3 2220.2h1.1v1.1h-1.1zM933.5 2259.8h1.1v1.1h-1.1zM917.8 2283.8h1.1v1.1h-1.1zM949.9 2253.1h1.1v1.1h-1.1zM919.9 2299.8h1.1v1.1h-1.1zM911.8 2287.7h1.1v1.1h-1.1zM974.4 2244.6h1.1v1.1h-1.1zM948.6 2324.5h1.1v1.1h-1.1zM965.3 2303.1h1.1v1.1h-1.1zM906.3 2312.3h1.1v1.1h-1.1zM961.6 2280.5h1.1v1.1h-1.1zM977.6 2296.5h1.1v1.1h-1.1zM976.5 2293.2h1.1v1.1h-1.1zM954.3 2259.1h1.1v1.1h-1.1zM970.4 2304.2h1.1v1.1h-1.1zM933.6 2313.2h1.1v1.1h-1.1zM981 2296.4h1.1v1.1h-1.1zM943 2358h1.1v1.1h-1.1zM912.2 2315.9h1.1v1.1h-1.1zM986.7 2214.7h1.1v1.1h-1.1zM1003 2247.4h1.1v1.1h-1.1zM1012 2273.5h1.1v1.1h-1.1zM940.2 2269.9h1.1v1.1h-1.1zM922.3 2270.3h1.1v1.1h-1.1zM921.5 2319h1.1v1.1h-1.1zM919.7 2319.9h1.1v1.1h-1.1zM944.3 2285.1h1.1v1.1h-1.1zM906.5 2285.2h1.1v1.1h-1.1zM952.5 2254.6h1.1v1.1h-1.1zM932 2294.1h1.1v1.1h-1.1zM991.1 2306.2h1.1v1.1h-1.1zM1003.8 2261.6h1.1v1.1h-1.1zM972.4 2284.2h1.1v1.1h-1.1zM940 2286.6h1.1v1.1h-1.1zM915.9 2328.6h1.1v1.1h-1.1zM941.7 2302h1.1v1.1h-1.1zM1011.1 2257.4h1.1v1.1h-1.1zM986.4 2278.7h1.1v1.1h-1.1zM925.7 2285.8h1.1v1.1h-1.1zM906.2 2304.4h1.1v1.1h-1.1zM961.2 2294.5h1.1v1.1h-1.1zM956 2269.1h1.1v1.1h-1.1zM922.4 2308.6h1.1v1.1h-1.1zM926.9 2246.8h1.1v1.1h-1.1zM929.5 2260.2h1.1v1.1h-1.1zM935.2 2292.4h1.1v1.1h-1.1zM917.9 2296.4h1.1v1.1h-1.1zM933.6 2269.1h1.1v1.1h-1.1zM972.4 2284h1.1v1.1h-1.1zM945.2 2257.8h1.1v1.1h-1.1zM938.5 2284.3h1.1v1.1h-1.1zM960.7 2296.4h1.1v1.1h-1.1zM935.7 2296.6h1.1v1.1h-1.1zM961.7 2264.7h1.1v1.1h-1.1zM963.6 2271.9h1.1v1.1h-1.1zM914.5 2312.5h1.1v1.1h-1.1zM944.8 2276.3h1.1v1.1h-1.1zM985.8 2242.7h1.1v1.1h-1.1zM911.6 2311.6h1.1v1.1h-1.1zM949.5 2298.9h1.1v1.1h-1.1zM1007.3 2239.8h1.1v1.1h-1.1zM956 2258.3h1.1v1.1h-1.1zM915.9 2292.3h1.1v1.1h-1.1zM936.5 2282.3h1.1v1.1h-1.1zM938.1 2275.3h1.1v1.1h-1.1zM908.8 2296h1.1v1.1h-1.1zM948.9 2251.7h1.1v1.1h-1.1zM988.3 2298.5h1.1v1.1h-1.1zM938.6 2319h1.1v1.1h-1.1zM929.2 2225.5h1.1v1.1h-1.1zM976.1 2280.5h1.1v1.1h-1.1zM954.2 2330.8h1.1v1.1h-1.1zM924.7 2342.2h1.1v1.1h-1.1zM938.8 2263.7h1.1v1.1h-1.1zM928.1 2258.3h1.1v1.1h-1.1zM968.8 2283.6h1.1v1.1h-1.1zM995.2 2286.1h1.1v1.1h-1.1zM938.4 2307.7h1.1v1.1h-1.1zM892.1 2249.3h1.1v1.1h-1.1zM985.6 2287.5h1.1v1.1h-1.1zM976.8 2311.1h1.1v1.1h-1.1zM921.3 2258.1h1.1v1.1h-1.1zM932.7 2290.3h1.1v1.1h-1.1zM947.6 2274h1.1v1.1h-1.1zM878.3 2308.3h1.1v1.1h-1.1zM959.5 2307.8h1.1v1.1h-1.1zM913.4 2276.9h1.1v1.1h-1.1zM949 2310.7h1.1v1.1h-1.1zM961.8 2245.5h1.1v1.1h-1.1zM981.4 2295.3h1.1v1.1h-1.1zM949.8 2252.1h1.1v1.1h-1.1zM953.9 2266h1.1v1.1h-1.1zM962.7 2328.3h1.1v1.1h-1.1zM953.4 2295.3h1.1v1.1h-1.1zM998.3 2290.3h1.1v1.1h-1.1zM944.8 2270.4h1.1v1.1h-1.1zM936.3 2275.6h1.1v1.1h-1.1zM942.7 2286.4h1.1v1.1h-1.1zM901.6 2301.5h1.1v1.1h-1.1zM913.6 2312.5h1.1v1.1h-1.1zM975.8 2282.9h1.1v1.1h-1.1zM937.8 2266.3h1.1v1.1h-1.1zM926.2 2264.4h1.1v1.1h-1.1zM938.3 2249h1.1v1.1h-1.1zM956.7 2327.5h1.1v1.1h-1.1zM942.8 2261.6h1.1v1.1h-1.1zM927.5 2272.9h1.1v1.1h-1.1zM922.7 2294.4h1.1v1.1h-1.1zM930.2 2305.6h1.1v1.1h-1.1zM959.5 2250.9h1.1v1.1h-1.1zM914.1 2290.4h1.1v1.1h-1.1zM934.6 2300.1h1.1v1.1h-1.1zM919.2 2284.1h1.1v1.1h-1.1zM945.3 2315.8h1.1v1.1h-1.1zM984.1 2284.9h1.1v1.1h-1.1zM937.8 2266.6h1.1v1.1h-1.1zM1009.9 2296.9h1.1v1.1h-1.1zM923.3 2288.3h1.1v1.1h-1.1zM981.7 2276.7h1.1v1.1h-1.1zM985.6 2313.5h1.1v1.1h-1.1zM931.5 2276.1h1.1v1.1h-1.1zM941.7 2296.9h1.1v1.1h-1.1zM969 2303.4h1.1v1.1h-1.1zM954.4 2259.1h1.1v1.1h-1.1zM961.2 2268.7h1.1v1.1h-1.1zM997.9 2276.2h1.1v1.1h-1.1zM941.1 2306.8h1.1v1.1h-1.1zM923.5 2319h1.1v1.1h-1.1zM955.1 2292.2h1.1v1.1h-1.1zM907.1 2295.1h1.1v1.1h-1.1zM930.8 2293h1.1v1.1h-1.1zM950.6 2259.3h1.1v1.1h-1.1zM892.6 2315.7h1.1v1.1h-1.1zM976.8 2285.7h1.1v1.1h-1.1zM926.7 2321.6h1.1v1.1h-1.1zM959.5 2296.3h1.1v1.1h-1.1zM968.6 2303.9h1.1v1.1h-1.1zM960.9 2336.5h1.1v1.1h-1.1zM955.5 2245h1.1v1.1h-1.1zM925.4 2333.5h1.1v1.1h-1.1zM899.5 2303h1.1v1.1h-1.1zM955.7 2274.3h1.1v1.1h-1.1zM919.5 2246.7h1.1v1.1h-1.1zM936.4 2309.3h1.1v1.1h-1.1zM1000.4 2252.9h1.1v1.1h-1.1zM949.1 2287.5h1.1v1.1h-1.1zM979 2277.2h1.1v1.1h-1.1zM898 2269.9h1.1v1.1h-1.1zM935.4 2284h1.1v1.1h-1.1zM976.4 2236.2h1.1v1.1h-1.1zM935.4 2237.7h1.1v1.1h-1.1zM945.9 2249.2h1.1v1.1h-1.1zM944 2282.1h1.1v1.1h-1.1zM948.6 2284.2h1.1v1.1h-1.1zM928.2 2318.3h1.1v1.1h-1.1zM924.8 2302.6h1.1v1.1h-1.1zM925.9 2302.1h1.1v1.1h-1.1zM940.5 2285.1h1.1v1.1h-1.1zM944.8 2322.1h1.1v1.1h-1.1zM942.8 2290.7h1.1v1.1h-1.1zM903.7 2338.7h1.1v1.1h-1.1zM906.4 2313.2h1.1v1.1h-1.1zM925.4 2357.9h1.1v1.1h-1.1zM901 2316h1.1v1.1h-1.1zM898.5 2289h1.1v1.1h-1.1zM925.6 2344.9h1.1v1.1h-1.1zM993.2 2242.3h1.1v1.1h-1.1zM957.4 2262h1.1v1.1h-1.1zM946.2 2337.8h1.1v1.1h-1.1zM943.8 2254.3h1.1v1.1h-1.1zM942.4 2287.9h1.1v1.1h-1.1zM937.3 2290.2h1.1v1.1h-1.1zM928.7 2297.7h1.1v1.1h-1.1zM930.8 2288.7h1.1v1.1h-1.1zM949.5 2327.1h1.1v1.1h-1.1zM932.1 2290.8h1.1v1.1h-1.1zM951 2281.7h1.1v1.1h-1.1zM927.1 2326h1.1v1.1h-1.1zM907.3 2298.6h1.1v1.1h-1.1zM951.3 2274.7h1.1v1.1h-1.1zM928.5 2300.1h1.1v1.1h-1.1zM916.4 2292.6h1.1v1.1h-1.1zM899.7 2288h1.1v1.1h-1.1zM922.2 2306.1h1.1v1.1h-1.1zM930.4 2293.5h1.1v1.1h-1.1zM958.7 2261h1.1v1.1h-1.1zM902.7 2323.3h1.1v1.1h-1.1zM943.9 2202.6h1.1v1.1h-1.1zM922.4 2272.2h1.1v1.1h-1.1zM920.9 2328.8h1.1v1.1h-1.1zM942.7 2286.4h1.1v1.1h-1.1zM906.9 2302.9h1.1v1.1h-1.1zM939.8 2333.6h1.1v1.1h-1.1zM914.5 2253.2h1.1v1.1h-1.1zM957.7 2317.5h1.1v1.1h-1.1zM922.2 2296.7h1.1v1.1h-1.1zM949.4 2295.5h1.1v1.1h-1.1zM946.3 2266.5h1.1v1.1h-1.1zM945.4 2305.1h1.1v1.1h-1.1zM915.6 2300.3h1.1v1.1h-1.1zM948.5 2275.7h1.1v1.1h-1.1zM944.8 2333h1.1v1.1h-1.1zM943.8 2278.3h1.1v1.1h-1.1zM892.9 2361h1.1v1.1h-1.1zM964.9 2267.5h1.1v1.1h-1.1zM933.1 2271.6h1.1v1.1h-1.1zM1003.4 2262.5h1.1v1.1h-1.1zM1028.2 2280.9h1.1v1.1h-1.1zM911.9 2332h1.1v1.1h-1.1zM902.1 2332.4h1.1v1.1h-1.1zM937.5 2276h1.1v1.1h-1.1zM961.7 2276h1.1v1.1h-1.1zM933.6 2288.4h1.1v1.1h-1.1zM972.9 2276.5h1.1v1.1h-1.1zM969.1 2275.3h1.1v1.1h-1.1zM927.8 2286.7h1.1v1.1h-1.1zM940.4 2269.6h1.1v1.1h-1.1zM941.9 2311.9h1.1v1.1h-1.1zM947.1 2278.3h1.1v1.1h-1.1zM944.5 2275.9h1.1v1.1h-1.1zM972 2258h1.1v1.1h-1.1zM929.5 2265.8h1.1v1.1h-1.1zM910.8 2277.7h1.1v1.1h-1.1zM963 2287.2h1.1v1.1h-1.1zM954.7 2268.3h1.1v1.1h-1.1zM951.4 2291.3h1.1v1.1h-1.1zM913 2265h1.1v1.1h-1.1zM997.5 2256.6h1.1v1.1h-1.1zM977.6 2282.2h1.1v1.1h-1.1zM928.1 2299.6h1.1v1.1h-1.1zM949.2 2313.7h1.1v1.1h-1.1zM939.6 2270.4h1.1v1.1h-1.1zM991.9 2326.3h1.1v1.1h-1.1zM952.1 2294.8h1.1v1.1h-1.1zM980.7 2230.1h1.1v1.1h-1.1zM969.7 2301h1.1v1.1h-1.1zM951.7 2263.6h1.1v1.1h-1.1zM946.4 2288.4h1.1v1.1h-1.1zM982.1 2284.7h1.1v1.1h-1.1zM901.3 2325.2h1.1v1.1h-1.1zM933.1 2305.1h1.1v1.1h-1.1zM941.4 2300.1h1.1v1.1h-1.1zM914.2 2318.7h1.1v1.1h-1.1zM975.8 2296.3h1.1v1.1h-1.1zM981.7 2256h1.1v1.1h-1.1zM951.4 2319.6h1.1v1.1h-1.1zM959.3 2284.1h1.1v1.1h-1.1zM938.8 2250.6h1.1v1.1h-1.1zM912.8 2288.4h1.1v1.1h-1.1zM942.4 2333.7h1.1v1.1h-1.1zM901.3 2319h1.1v1.1h-1.1zM931.8 2272.7h1.1v1.1h-1.1zM943 2264.6h1.1v1.1h-1.1zM895.4 2292.2h1.1v1.1h-1.1zM971.4 2253.5h1.1v1.1h-1.1zM958.7 2292.1h1.1v1.1h-1.1zM945.4 2265.4h1.1v1.1h-1.1zM979.6 2288.3h1.1v1.1h-1.1zM925.2 2327.3h1.1v1.1h-1.1zM973.6 2294.5h1.1v1.1h-1.1zM957.7 2271.9h1.1v1.1h-1.1zM938 2311.7h1.1v1.1h-1.1zM961 2285.6h1.1v1.1h-1.1zM951.5 2315.2h1.1v1.1h-1.1zM983 2286.4h1.1v1.1h-1.1zM941.3 2307.7h1.1v1.1h-1.1zM950.1 2245h1.1v1.1h-1.1zM933.4 2304.6h1.1v1.1h-1.1zM912.1 2312.4h1.1v1.1h-1.1zM927.9 2259.5h1.1v1.1h-1.1zM960.1 2274.8h1.1v1.1h-1.1zM975 2261.3h1.1v1.1h-1.1zM934.6 2294.9h1.1v1.1h-1.1zM930.5 2247.2h1.1v1.1h-1.1zM950.2 2304.2h1.1v1.1h-1.1zM969.5 2277.7h1.1v1.1h-1.1zM920.3 2305.6h1.1v1.1h-1.1zM957.3 2277.8h1.1v1.1h-1.1zM976.9 2314.5h1.1v1.1h-1.1zM984.9 2241.3h1.1v1.1h-1.1zM925.3 2305h1.1v1.1h-1.1zM962.5 2243.2h1.1v1.1h-1.1zM907.4 2283.4h1.1v1.1h-1.1zM965.9 2256.5h1.1v1.1h-1.1zM968.2 2314.6h1.1v1.1h-1.1zM957.1 2268.5h1.1v1.1h-1.1zM933.2 2329.5h1.1v1.1h-1.1zM944.5 2278.9h1.1v1.1h-1.1zM942.6 2269.3h1.1v1.1h-1.1zM954.8 2285.6h1.1v1.1h-1.1zM925.7 2311.1h1.1v1.1h-1.1zM981.3 2298.7h1.1v1.1h-1.1zM997.1 2304.3h1.1v1.1h-1.1zM967.1 2268.6h1.1v1.1h-1.1zM955.9 2279.7h1.1v1.1h-1.1zM922.6 2300.3h1.1v1.1h-1.1zM936.5 2265.5h1.1v1.1h-1.1zM954.3 2296.6h1.1v1.1h-1.1zM984.3 2251.9h1.1v1.1h-1.1zM930.6 2281.1h1.1v1.1h-1.1zM918.6 2326.3h1.1v1.1h-1.1zM926.2 2284.7h1.1v1.1h-1.1zM942.6 2331.7h1.1v1.1h-1.1zM984.6 2268h1.1v1.1h-1.1zM922.6 2272.9h1.1v1.1h-1.1zM886.7 2315h1.1v1.1h-1.1zM950.3 2325.7h1.1v1.1h-1.1zM917.3 2264.3h1.1v1.1h-1.1zM987.6 2269.7h1.1v1.1h-1.1zM943.2 2299.6h1.1v1.1h-1.1zM955.5 2266.2h1.1v1.1h-1.1zM929.9 2305.3h1.1v1.1h-1.1zM968.6 2283h1.1v1.1h-1.1zM908.5 2291.4h1.1v1.1h-1.1zM938.2 2276.6h1.1v1.1h-1.1zM966.4 2322.9h1.1v1.1h-1.1zM905.7 2313.1h1.1v1.1h-1.1zM926.7 2309.9h1.1v1.1h-1.1zM995.2 2256.6h1.1v1.1h-1.1zM964 2245.8h1.1v1.1h-1.1zM972.8 2303.6h1.1v1.1h-1.1zM928.1 2280.4h1.1v1.1h-1.1zM932.8 2339.8h1.1v1.1h-1.1zM963.3 2311.3h1.1v1.1h-1.1zM952.1 2283.2h1.1v1.1h-1.1zM968.6 2274.1h1.1v1.1h-1.1zM965.8 2253.7h1.1v1.1h-1.1zM934.4 2297.9h1.1v1.1h-1.1zM932.5 2292.5h1.1v1.1h-1.1zM970.6 2276.4h1.1v1.1h-1.1zM969.3 2317.1h1.1v1.1h-1.1zM908.3 2302h1.1v1.1h-1.1zM956.3 2306.1h1.1v1.1h-1.1zM968.4 2283.2h1.1v1.1h-1.1zM979.7 2256.3h1.1v1.1h-1.1zM946.8 2320.5h1.1v1.1h-1.1zM968.3 2239.9h1.1v1.1h-1.1zM932 2295.7h1.1v1.1h-1.1zM956.6 2281.2h1.1v1.1h-1.1zM941.4 2245.2h1.1v1.1h-1.1zM913.6 2269.9h1.1v1.1h-1.1zM980.1 2287h1.1v1.1h-1.1zM952.5 2281.5h1.1v1.1h-1.1zM943.3 2286.4h1.1v1.1h-1.1zM935.1 2309.6h1.1v1.1h-1.1zM951.5 2262.4h1.1v1.1h-1.1zM976.6 2302.5h1.1v1.1h-1.1zM1015.2 2294.4h1.1v1.1h-1.1zM988.6 2209.3h1.1v1.1h-1.1zM929.8 2287.9h1.1v1.1h-1.1zM978.9 2302.3h1.1v1.1h-1.1zM921.4 2323.9h1.1v1.1h-1.1zM971.8 2300.9h1.1v1.1h-1.1zM948.9 2265.4h1.1v1.1h-1.1zM946.1 2272.6h1.1v1.1h-1.1zM939.5 2284.7h1.1v1.1h-1.1zM952.3 2292.3h1.1v1.1h-1.1zM972.1 2297.9h1.1v1.1h-1.1zM938.5 2244.1h1.1v1.1h-1.1zM955.8 2267.1h1.1v1.1h-1.1zM963.2 2260.5h1.1v1.1h-1.1zM908.5 2278.3h1.1v1.1h-1.1zM955.3 2301.8h1.1v1.1h-1.1zM932.2 2308.3h1.1v1.1h-1.1zM912.3 2257.8h1.1v1.1h-1.1zM938.8 2284.8h1.1v1.1h-1.1zM935 2248.9h1.1v1.1h-1.1zM960.3 2272.6h1.1v1.1h-1.1zM961.8 2261.5h1.1v1.1h-1.1zM928.7 2294.5h1.1v1.1h-1.1zM961.1 2303.9h1.1v1.1h-1.1zM926 2294.7h1.1v1.1h-1.1zM918.7 2299.5h1.1v1.1h-1.1zM972.9 2304.6h1.1v1.1h-1.1zM947.4 2292.5h1.1v1.1h-1.1zM962.6 2302.6h1.1v1.1h-1.1zM936.5 2287.2h1.1v1.1h-1.1zM950 2275.7h1.1v1.1h-1.1zM950.6 2280.4h1.1v1.1h-1.1zM951.1 2306.5h1.1v1.1h-1.1zM936.5 2283.5h1.1v1.1h-1.1zM983.2 2306.9h1.1v1.1h-1.1zM950.9 2277.6h1.1v1.1h-1.1zM971.1 2280.7h1.1v1.1h-1.1zM940.5 2324.2h1.1v1.1h-1.1zM969.8 2252h1.1v1.1h-1.1zM947.2 2303.2h1.1v1.1h-1.1zM956.5 2281.9h1.1v1.1h-1.1zM954.9 2235.4h1.1v1.1h-1.1zM942.7 2304.1h1.1v1.1h-1.1zM949.6 2267.8h1.1v1.1h-1.1zM923.3 2339.3h1.1v1.1h-1.1zM969.7 2270.7h1.1v1.1h-1.1zM969 2296.9h1.1v1.1h-1.1zM985.5 2224.6h1.1v1.1h-1.1zM920 2252.6h1.1v1.1h-1.1zM935.8 2328h1.1v1.1h-1.1zM909.9 2255.1h1.1v1.1h-1.1zM937.7 2335.5h1.1v1.1h-1.1zM975.1 2297.4h1.1v1.1h-1.1zM974.9 2247h1.1v1.1h-1.1zM938.2 2274.9h1.1v1.1h-1.1zM939 2318.9h1.1v1.1h-1.1zM942.4 2269.6h1.1v1.1h-1.1zM903.9 2310.1h1.1v1.1h-1.1zM929.8 2279.7h1.1v1.1h-1.1zM971.9 2280.6h1.1v1.1h-1.1zM973.8 2297.8h1.1v1.1h-1.1zM938.7 2291.1h1.1v1.1h-1.1zM981.3 2232.1h1.1v1.1h-1.1zM963.4 2293.4h1.1v1.1h-1.1zM951.2 2280.3h1.1v1.1h-1.1zM969.6 2289.8h1.1v1.1h-1.1zM946.8 2277.6h1.1v1.1h-1.1zM904.2 2313h1.1v1.1h-1.1zM918.2 2287.6h1.1v1.1h-1.1zM907.2 2282.3h1.1v1.1h-1.1zM929.5 2302.6h1.1v1.1h-1.1zM899.5 2287.2h1.1v1.1h-1.1zM985.2 2277.3h1.1v1.1h-1.1zM938.7 2301h1.1v1.1h-1.1zM947.1 2295.2h1.1v1.1h-1.1zM943.3 2255.8h1.1v1.1h-1.1zM915.3 2335.1h1.1v1.1h-1.1zM944.9 2262h1.1v1.1h-1.1zM980.3 2265.6h1.1v1.1h-1.1zM969.1 2306.1h1.1v1.1h-1.1zM994.7 2275.7h1.1v1.1h-1.1zM948 2270.2h1.1v1.1h-1.1zM945.1 2275.7h1.1v1.1h-1.1zM979.1 2287.7h1.1v1.1h-1.1zM962.2 2301.5h1.1v1.1h-1.1zM937.3 2329.2h1.1v1.1h-1.1zM925.1 2245.1h1.1v1.1h-1.1zM958.7 2298.1h1.1v1.1h-1.1zM945.5 2261.6h1.1v1.1h-1.1zM978 2282.1h1.1v1.1h-1.1zM968.8 2307.9h1.1v1.1h-1.1zM940 2301.2h1.1v1.1h-1.1zM917.1 2250.3h1.1v1.1h-1.1zM963.6 2288h1.1v1.1h-1.1zM932.8 2297.6h1.1v1.1h-1.1zM966.8 2261.8h1.1v1.1h-1.1zM964.5 2279.6h1.1v1.1h-1.1zM960.5 2295.7h1.1v1.1h-1.1zM891.5 2295.2h1.1v1.1h-1.1zM934.3 2318.4h1.1v1.1h-1.1zM968 2259.2h1.1v1.1h-1.1zM932.3 2337.9h1.1v1.1h-1.1zM922.9 2279.1h1.1v1.1h-1.1zM943.6 2268.7h1.1v1.1h-1.1zM966.1 2282h1.1v1.1h-1.1zM948.3 2333.7h1.1v1.1h-1.1zM951.8 2292.9h1.1v1.1h-1.1zM994.5 2278.4h1.1v1.1h-1.1zM889.7 2333h1.1v1.1h-1.1zM946.8 2299.6h1.1v1.1h-1.1zM983.9 2298.4h1.1v1.1h-1.1zM901.6 2322.4h1.1v1.1h-1.1zM966.5 2258.8h1.1v1.1h-1.1zM999 2272.3h1.1v1.1h-1.1zM956.3 2252.6h1.1v1.1h-1.1zM902.3 2313.3h1.1v1.1h-1.1zM945.8 2291.2h1.1v1.1h-1.1zM967.1 2260.2h1.1v1.1h-1.1zM946.1 2336.8h1.1v1.1h-1.1zM958.6 2258.8h1.1v1.1h-1.1zM887.6 2224.8h1.1v1.1h-1.1zM917.5 2306.8h1.1v1.1h-1.1zM955.1 2273.2h1.1v1.1h-1.1zM932.8 2279h1.1v1.1h-1.1zM950.5 2327.5h1.1v1.1h-1.1zM1006.4 2265.5h1.1v1.1h-1.1zM904.4 2257h1.1v1.1h-1.1zM948.5 2252.7h1.1v1.1h-1.1zM941.7 2297.6h1.1v1.1h-1.1zM967.7 2242.3h1.1v1.1h-1.1zM949 2305.5h1.1v1.1h-1.1zM963.9 2266h1.1v1.1h-1.1zM963.4 2290.2h1.1v1.1h-1.1zM910.6 2265.6h1.1v1.1h-1.1zM963.8 2314.6h1.1v1.1h-1.1zM906.6 2294.8h1.1v1.1h-1.1zM988.4 2293.6h1.1v1.1h-1.1zM959.2 2283.6h1.1v1.1h-1.1zM888.5 2297.7h1.1v1.1h-1.1zM904 2269.4h1.1v1.1h-1.1zM950.9 2248.7h1.1v1.1h-1.1zM983.4 2219.9h1.1v1.1h-1.1zM946.4 2272.3h1.1v1.1h-1.1zM955.6 2308.9h1.1v1.1h-1.1zM917.3 2301.3h1.1v1.1h-1.1zM959.1 2249.4h1.1v1.1h-1.1zM987.8 2211.1h1.1v1.1h-1.1zM967.8 2274.5h1.1v1.1h-1.1zM956.5 2276.4h1.1v1.1h-1.1zM942.1 2301.9h1.1v1.1h-1.1zM920.1 2280.8h1.1v1.1h-1.1zM959.6 2219.8h1.1v1.1h-1.1zM953.2 2264h1.1v1.1h-1.1zM864.9 2284.3h1.1v1.1h-1.1zM931.8 2312.8h1.1v1.1h-1.1zM975.2 2259.7h1.1v1.1h-1.1zM977.1 2263h1.1v1.1h-1.1zM953.6 2285.9h1.1v1.1h-1.1zM957.8 2243.2h1.1v1.1h-1.1zM921.6 2345.7h1.1v1.1h-1.1zM952.3 2290.2h1.1v1.1h-1.1zM977.2 2272.1h1.1v1.1h-1.1zM965.7 2312.3h1.1v1.1h-1.1zM969.1 2260.9h1.1v1.1h-1.1zM946.1 2274.1h1.1v1.1h-1.1zM934.2 2277h1.1v1.1h-1.1zM950.4 2254.6h1.1v1.1h-1.1z" fill="#1f5fae" opacity="0.9"/>
<path d="M943.1 2378.6h1.1v1.1h-1.1zM932 2286.2h1.1v1.1h-1.1zM949.1 2354.7h1.1v1.1h-1.1zM951.4 2352.1h1.1v1.1h-1.1zM943.7 2321.4h1.1v1.1h-1.1zM933.6 2332.3h1.1v1.1h-1.1zM939.8 2364.7h1.1v1.1h-1.1zM956 2303.4h1.1v1.1h-1.1zM957.3 2338.1h1.1v1.1h-1.1zM964.1 2381.3h1.1v1.1h-1.1zM955.1 2288.9h1.1v1.1h-1.1zM956.7 2295.1h1.1v1.1h-1.1zM971.5 2320.5h1.1v1.1h-1.1zM943.2 2390.6h1.1v1.1h-1.1zM917.8 2340h1.1v1.1h-1.1zM928.9 2324.5h1.1v1.1h-1.1zM933.3 2358.5h1.1v1.1h-1.1zM941.4 2349h1.1v1.1h-1.1zM956.6 2290.7h1.1v1.1h-1.1zM968.9 2332.2h1.1v1.1h-1.1zM919.4 2320.6h1.1v1.1h-1.1zM960.4 2367.6h1.1v1.1h-1.1zM935.1 2342.2h1.1v1.1h-1.1zM950.2 2368.7h1.1v1.1h-1.1zM944.1 2367.2h1.1v1.1h-1.1zM931.8 2318.8h1.1v1.1h-1.1zM957.2 2359.9h1.1v1.1h-1.1zM945.6 2356.5h1.1v1.1h-1.1zM949.7 2361.2h1.1v1.1h-1.1zM965.3 2354.2h1.1v1.1h-1.1zM959.7 2328.1h1.1v1.1h-1.1zM937.3 2272.2h1.1v1.1h-1.1zM953 2340.3h1.1v1.1h-1.1zM955 2285.9h1.1v1.1h-1.1zM938.4 2323.4h1.1v1.1h-1.1zM916.9 2365.3h1.1v1.1h-1.1zM966.3 2303h1.1v1.1h-1.1zM953.6 2388.6h1.1v1.1h-1.1zM926.6 2367.6h1.1v1.1h-1.1zM972.3 2392.7h1.1v1.1h-1.1zM924.1 2308.9h1.1v1.1h-1.1zM949.8 2373.8h1.1v1.1h-1.1zM925.8 2317.9h1.1v1.1h-1.1zM928.1 2371h1.1v1.1h-1.1zM937.2 2355.8h1.1v1.1h-1.1zM956.9 2372.6h1.1v1.1h-1.1zM953.2 2349.1h1.1v1.1h-1.1zM965.3 2353h1.1v1.1h-1.1zM925.7 2324h1.1v1.1h-1.1zM961.2 2343.4h1.1v1.1h-1.1zM940.6 2346.4h1.1v1.1h-1.1zM1000.7 2337.9h1.1v1.1h-1.1zM954.3 2352.5h1.1v1.1h-1.1zM941.9 2373.6h1.1v1.1h-1.1zM960.4 2350.8h1.1v1.1h-1.1zM924.2 2375.6h1.1v1.1h-1.1zM958.9 2337h1.1v1.1h-1.1zM902.2 2337.7h1.1v1.1h-1.1zM926.5 2332.8h1.1v1.1h-1.1zM938 2315.6h1.1v1.1h-1.1zM963 2342.6h1.1v1.1h-1.1zM966.7 2311.6h1.1v1.1h-1.1zM943.2 2378.5h1.1v1.1h-1.1zM951.7 2318.5h1.1v1.1h-1.1zM931.7 2322.3h1.1v1.1h-1.1zM945 2359.1h1.1v1.1h-1.1zM948.8 2361h1.1v1.1h-1.1zM960.2 2342.8h1.1v1.1h-1.1zM967.6 2360.6h1.1v1.1h-1.1zM943.3 2334.6h1.1v1.1h-1.1zM946.1 2318.1h1.1v1.1h-1.1zM924.3 2340.4h1.1v1.1h-1.1zM937.9 2356.2h1.1v1.1h-1.1zM936.5 2342.1h1.1v1.1h-1.1zM949.6 2325.8h1.1v1.1h-1.1zM949.5 2318.5h1.1v1.1h-1.1zM939.3 2362.3h1.1v1.1h-1.1zM952.7 2339.2h1.1v1.1h-1.1zM933.4 2359.3h1.1v1.1h-1.1zM979.1 2276.7h1.1v1.1h-1.1zM963.6 2345.5h1.1v1.1h-1.1zM964.3 2372.8h1.1v1.1h-1.1zM929.6 2389.2h1.1v1.1h-1.1zM936.5 2332h1.1v1.1h-1.1zM956.6 2336.8h1.1v1.1h-1.1zM950.7 2324.3h1.1v1.1h-1.1zM929.2 2339.7h1.1v1.1h-1.1zM928.3 2377.8h1.1v1.1h-1.1zM950.3 2379.5h1.1v1.1h-1.1zM925.8 2279.4h1.1v1.1h-1.1zM908.8 2328.2h1.1v1.1h-1.1zM925.1 2349.4h1.1v1.1h-1.1zM922.3 2299.3h1.1v1.1h-1.1zM950.8 2327.8h1.1v1.1h-1.1zM957.4 2362.4h1.1v1.1h-1.1zM952.1 2304.1h1.1v1.1h-1.1zM942.5 2347.5h1.1v1.1h-1.1zM948.3 2338.3h1.1v1.1h-1.1zM943.4 2322.9h1.1v1.1h-1.1zM937.7 2281.2h1.1v1.1h-1.1zM973.6 2336h1.1v1.1h-1.1zM924.7 2354h1.1v1.1h-1.1zM957.2 2297.6h1.1v1.1h-1.1zM937.7 2382h1.1v1.1h-1.1zM955.1 2351.4h1.1v1.1h-1.1zM962.6 2335.3h1.1v1.1h-1.1zM941.4 2384.9h1.1v1.1h-1.1zM943.2 2336.8h1.1v1.1h-1.1zM956.7 2340.1h1.1v1.1h-1.1zM926 2393.4h1.1v1.1h-1.1zM945 2390.6h1.1v1.1h-1.1zM954.6 2313h1.1v1.1h-1.1zM971.6 2334.1h1.1v1.1h-1.1zM932.1 2338.3h1.1v1.1h-1.1zM911 2350.7h1.1v1.1h-1.1zM934.3 2331.9h1.1v1.1h-1.1zM931.6 2358.5h1.1v1.1h-1.1zM952.1 2370.1h1.1v1.1h-1.1zM973.5 2347.2h1.1v1.1h-1.1zM947.7 2347.9h1.1v1.1h-1.1zM932.9 2323.4h1.1v1.1h-1.1zM958.6 2314.4h1.1v1.1h-1.1zM914.4 2329h1.1v1.1h-1.1zM950.4 2381.3h1.1v1.1h-1.1zM934.5 2312.2h1.1v1.1h-1.1zM947.8 2334.6h1.1v1.1h-1.1zM950.3 2324.2h1.1v1.1h-1.1zM949.4 2322.4h1.1v1.1h-1.1zM962.3 2347h1.1v1.1h-1.1zM955.5 2326.4h1.1v1.1h-1.1zM922.7 2339.4h1.1v1.1h-1.1zM945.3 2370.5h1.1v1.1h-1.1zM961.9 2337.9h1.1v1.1h-1.1zM945.4 2310.6h1.1v1.1h-1.1zM945.5 2345h1.1v1.1h-1.1zM939.3 2308h1.1v1.1h-1.1zM967 2312.5h1.1v1.1h-1.1zM973.1 2372.7h1.1v1.1h-1.1zM971.3 2314.7h1.1v1.1h-1.1zM956.3 2299.2h1.1v1.1h-1.1zM940.2 2295.3h1.1v1.1h-1.1zM934.1 2324.4h1.1v1.1h-1.1zM961.7 2369.6h1.1v1.1h-1.1zM940 2330.7h1.1v1.1h-1.1zM930.7 2306.2h1.1v1.1h-1.1zM916.9 2332.6h1.1v1.1h-1.1zM955.7 2316.9h1.1v1.1h-1.1zM951.9 2305.9h1.1v1.1h-1.1zM929.6 2323.5h1.1v1.1h-1.1zM960.3 2323.7h1.1v1.1h-1.1zM958.4 2328.6h1.1v1.1h-1.1zM927.9 2281.5h1.1v1.1h-1.1zM938.2 2311.3h1.1v1.1h-1.1zM960.6 2351.1h1.1v1.1h-1.1zM919.3 2362.4h1.1v1.1h-1.1zM954.5 2256.1h1.1v1.1h-1.1zM928.9 2345.4h1.1v1.1h-1.1zM920 2317.8h1.1v1.1h-1.1zM954.3 2345.5h1.1v1.1h-1.1zM953.1 2355.8h1.1v1.1h-1.1zM941.5 2354.3h1.1v1.1h-1.1zM951.3 2334.2h1.1v1.1h-1.1zM950.9 2345.7h1.1v1.1h-1.1zM958.9 2347.4h1.1v1.1h-1.1zM946.7 2352.1h1.1v1.1h-1.1zM969.1 2340.4h1.1v1.1h-1.1zM955.6 2342.3h1.1v1.1h-1.1zM914.1 2312.9h1.1v1.1h-1.1zM931 2299h1.1v1.1h-1.1zM935.8 2288.5h1.1v1.1h-1.1zM950.1 2323.1h1.1v1.1h-1.1zM965.5 2349.1h1.1v1.1h-1.1zM925.2 2332.1h1.1v1.1h-1.1zM946.5 2319.1h1.1v1.1h-1.1zM939.9 2307.7h1.1v1.1h-1.1zM933.9 2346h1.1v1.1h-1.1zM940.4 2372.2h1.1v1.1h-1.1zM911.6 2315.8h1.1v1.1h-1.1zM939.7 2379.7h1.1v1.1h-1.1zM963.6 2359.4h1.1v1.1h-1.1zM961.3 2382.9h1.1v1.1h-1.1zM956.5 2331.4h1.1v1.1h-1.1zM948.5 2317.7h1.1v1.1h-1.1zM942 2348.4h1.1v1.1h-1.1zM937.5 2340.8h1.1v1.1h-1.1zM938.6 2300.9h1.1v1.1h-1.1zM922.4 2357.3h1.1v1.1h-1.1zM946 2361.1h1.1v1.1h-1.1zM943.8 2337.5h1.1v1.1h-1.1zM949.7 2328.2h1.1v1.1h-1.1zM967.5 2365.8h1.1v1.1h-1.1zM951.8 2308.4h1.1v1.1h-1.1zM936.8 2343.4h1.1v1.1h-1.1zM963.9 2336.4h1.1v1.1h-1.1zM944.9 2352.1h1.1v1.1h-1.1zM947.1 2333h1.1v1.1h-1.1zM927.2 2371.7h1.1v1.1h-1.1zM944.3 2322.8h1.1v1.1h-1.1zM943.5 2300.1h1.1v1.1h-1.1zM918.3 2287.2h1.1v1.1h-1.1zM951 2300h1.1v1.1h-1.1zM946.8 2303.8h1.1v1.1h-1.1zM916.5 2319.6h1.1v1.1h-1.1zM933.1 2317.5h1.1v1.1h-1.1zM972.5 2342.4h1.1v1.1h-1.1zM935.4 2361.1h1.1v1.1h-1.1zM939.7 2370.8h1.1v1.1h-1.1zM919.9 2367h1.1v1.1h-1.1zM927.5 2316.1h1.1v1.1h-1.1zM948.1 2306.6h1.1v1.1h-1.1zM918.5 2325.5h1.1v1.1h-1.1zM940 2290.6h1.1v1.1h-1.1zM960.3 2313.4h1.1v1.1h-1.1zM934.8 2330h1.1v1.1h-1.1zM945.4 2366h1.1v1.1h-1.1zM910.2 2336.6h1.1v1.1h-1.1zM958.8 2343h1.1v1.1h-1.1zM943.4 2305.1h1.1v1.1h-1.1zM950 2322.6h1.1v1.1h-1.1zM946.7 2306.6h1.1v1.1h-1.1zM939.5 2332.2h1.1v1.1h-1.1zM920.9 2365h1.1v1.1h-1.1zM942.6 2300.2h1.1v1.1h-1.1zM940.5 2339.8h1.1v1.1h-1.1zM939 2307.2h1.1v1.1h-1.1zM940.9 2298.1h1.1v1.1h-1.1zM917.9 2369h1.1v1.1h-1.1zM971.8 2388.3h1.1v1.1h-1.1zM980.7 2374.1h1.1v1.1h-1.1zM929.6 2320.3h1.1v1.1h-1.1zM962.1 2322.9h1.1v1.1h-1.1zM938.9 2335.6h1.1v1.1h-1.1zM951.2 2297.9h1.1v1.1h-1.1zM945 2349.8h1.1v1.1h-1.1zM911.7 2367.6h1.1v1.1h-1.1zM956.8 2313.3h1.1v1.1h-1.1zM973.8 2347.8h1.1v1.1h-1.1zM952.2 2379.4h1.1v1.1h-1.1zM903.3 2336.4h1.1v1.1h-1.1zM961.5 2375.9h1.1v1.1h-1.1zM943.9 2331h1.1v1.1h-1.1zM932.2 2326.8h1.1v1.1h-1.1zM930.8 2268.9h1.1v1.1h-1.1zM935.1 2307.9h1.1v1.1h-1.1zM934.9 2323.3h1.1v1.1h-1.1zM936.7 2338.9h1.1v1.1h-1.1zM943.4 2325.9h1.1v1.1h-1.1zM934.6 2333.1h1.1v1.1h-1.1zM939.5 2332.4h1.1v1.1h-1.1zM966.6 2342.8h1.1v1.1h-1.1zM938.1 2278.6h1.1v1.1h-1.1zM921.2 2253.2h1.1v1.1h-1.1zM958.6 2366.9h1.1v1.1h-1.1zM938 2323h1.1v1.1h-1.1zM952.1 2352.1h1.1v1.1h-1.1zM916.7 2328.9h1.1v1.1h-1.1zM939.4 2300.7h1.1v1.1h-1.1zM967.1 2357.1h1.1v1.1h-1.1zM934.8 2334.8h1.1v1.1h-1.1zM935.7 2321.9h1.1v1.1h-1.1zM938.2 2364.7h1.1v1.1h-1.1zM944.6 2322.8h1.1v1.1h-1.1zM933.5 2343.4h1.1v1.1h-1.1zM930.5 2290.8h1.1v1.1h-1.1zM942.2 2380.6h1.1v1.1h-1.1zM933.6 2340.5h1.1v1.1h-1.1zM941.3 2370.4h1.1v1.1h-1.1zM952.1 2300.5h1.1v1.1h-1.1zM972.4 2336.3h1.1v1.1h-1.1zM929.8 2321.9h1.1v1.1h-1.1zM945.5 2366.2h1.1v1.1h-1.1zM940 2315.3h1.1v1.1h-1.1zM965.7 2380h1.1v1.1h-1.1zM938.8 2339.9h1.1v1.1h-1.1zM950.5 2327.6h1.1v1.1h-1.1zM929.8 2365.3h1.1v1.1h-1.1zM926.9 2284.6h1.1v1.1h-1.1zM953.8 2368.6h1.1v1.1h-1.1zM957.5 2314.5h1.1v1.1h-1.1zM940.5 2305.5h1.1v1.1h-1.1zM936.1 2267.2h1.1v1.1h-1.1zM930.5 2374.8h1.1v1.1h-1.1zM925.7 2384.5h1.1v1.1h-1.1zM947.3 2281h1.1v1.1h-1.1zM959.6 2309.3h1.1v1.1h-1.1zM953.4 2331.1h1.1v1.1h-1.1zM938.9 2331.2h1.1v1.1h-1.1zM923.4 2314.8h1.1v1.1h-1.1zM938.1 2386h1.1v1.1h-1.1zM935.3 2345.3h1.1v1.1h-1.1zM951.8 2370.6h1.1v1.1h-1.1zM940.8 2341.9h1.1v1.1h-1.1zM920.6 2343.4h1.1v1.1h-1.1zM939 2340.9h1.1v1.1h-1.1zM936.1 2323.6h1.1v1.1h-1.1zM960.5 2363h1.1v1.1h-1.1z" fill="#1f5fae" opacity="0.8"/>
<path d="M934.2 2350.3h2v2h-2zM931.3 2343h2v2h-2zM927.2 2348.4h2v2h-2zM943.4 2362.3h2v2h-2zM956.3 2332.3h2v2h-2zM940.6 2341.6h2v2h-2zM944 2312.2h2v2h-2zM953 2277.7h2v2h-2zM943.8 2377.7h2v2h-2zM951.9 2300.6h2v2h-2zM959.7 2335.3h2v2h-2zM936.3 2317.9h2v2h-2zM946.4 2349.8h2v2h-2zM943.2 2369.8h2v2h-2zM936 2350h2v2h-2zM923.3 2289.2h2v2h-2zM943.4 2337.5h2v2h-2zM970.6 2324.3h2v2h-2zM948.8 2305.2h2v2h-2zM945.3 2343.8h2v2h-2zM939.3 2354.1h2v2h-2zM964.4 2344.8h2v2h-2zM944.2 2327.6h2v2h-2zM953.4 2309.7h2v2h-2zM958.4 2318.9h2v2h-2zM948.9 2307.9h2v2h-2zM932 2314.2h2v2h-2zM952.2 2332.8h2v2h-2zM946.1 2353.4h2v2h-2zM932.6 2351.2h2v2h-2zM936.9 2312.4h2v2h-2zM937.4 2355h2v2h-2zM967.9 2319.9h2v2h-2zM930.1 2297.5h2v2h-2zM945.4 2341.1h2v2h-2zM950.4 2337.3h2v2h-2zM964.1 2332.9h2v2h-2zM950.5 2325.8h2v2h-2zM931.6 2282.9h2v2h-2zM945.3 2318.5h2v2h-2zM937.6 2318.2h2v2h-2zM945.4 2334.1h2v2h-2zM913.5 2323.3h2v2h-2zM950.8 2338.7h2v2h-2zM941.5 2335.1h2v2h-2zM922.4 2339h2v2h-2zM940.7 2332.6h2v2h-2zM953.6 2333.9h2v2h-2zM928.7 2287.7h2v2h-2zM938 2330.9h2v2h-2zM947.6 2353.4h2v2h-2zM949.9 2338h2v2h-2zM919.9 2348.1h2v2h-2zM946.8 2376.5h2v2h-2zM955.1 2314.6h2v2h-2zM945.9 2345h2v2h-2zM931.5 2295.4h2v2h-2zM950.6 2319.5h2v2h-2zM941.9 2333.2h2v2h-2zM940.6 2348.4h2v2h-2zM948.5 2337.2h2v2h-2zM956.4 2330.3h2v2h-2zM927.2 2331.3h2v2h-2zM926.1 2336.2h2v2h-2zM928.2 2330.7h2v2h-2zM961.9 2346h2v2h-2zM933.5 2300.3h2v2h-2zM938.5 2353.7h2v2h-2zM952.3 2297.8h2v2h-2zM956.5 2337.5h2v2h-2zM954.9 2361.6h2v2h-2zM933.1 2343.7h2v2h-2zM947.1 2355h2v2h-2zM940.6 2300.6h2v2h-2zM947 2352.8h2v2h-2zM941.1 2325.9h2v2h-2zM947 2328.4h2v2h-2zM938.9 2322.3h2v2h-2zM965.2 2322h2v2h-2zM947.3 2356.8h2v2h-2zM960 2295.5h2v2h-2zM934.1 2304.3h2v2h-2zM943 2282.2h2v2h-2zM925.2 2328.5h2v2h-2zM949.5 2306h2v2h-2zM948.1 2359.5h2v2h-2zM931.6 2359.4h2v2h-2zM944.1 2283.2h2v2h-2zM946.8 2334.1h2v2h-2zM965.1 2316.2h2v2h-2zM970.2 2330.4h2v2h-2zM952.3 2327.4h2v2h-2zM952.1 2359h2v2h-2zM944.8 2320.1h2v2h-2zM954.1 2326h2v2h-2zM948.8 2353.7h2v2h-2zM947 2339.8h2v2h-2zM947.7 2333.8h2v2h-2zM956.8 2358h2v2h-2zM949 2293.9h2v2h-2zM924.2 2349.3h2v2h-2zM965.5 2360.2h2v2h-2zM938.4 2337.1h2v2h-2zM937.7 2340.8h2v2h-2zM943.9 2309.8h2v2h-2zM953.6 2332.6h2v2h-2zM974.7 2357.2h2v2h-2zM923.7 2351.5h2v2h-2zM932.5 2318.5h2v2h-2zM942.5 2303.4h2v2h-2zM987.7 2350.1h2v2h-2zM932.7 2357.1h2v2h-2zM913.4 2359.2h2v2h-2zM946.9 2337.6h2v2h-2zM958.2 2337h2v2h-2zM953.3 2311.6h2v2h-2zM951.6 2326h2v2h-2zM952.8 2328.3h2v2h-2zM951.4 2321.5h2v2h-2zM927.7 2316.1h2v2h-2zM958.7 2327h2v2h-2zM947 2325.1h2v2h-2zM958.1 2315.4h2v2h-2zM908.6 2317.7h2v2h-2zM937 2359.1h2v2h-2zM934.3 2321.4h2v2h-2zM953.5 2349.7h2v2h-2zM940.6 2360.6h2v2h-2zM939.6 2336.1h2v2h-2zM932.7 2284.7h2v2h-2zM935.8 2318.7h2v2h-2zM933 2383.4h2v2h-2zM923.4 2343.2h2v2h-2zM967.4 2349.3h2v2h-2zM953 2320.5h2v2h-2zM937.4 2361h2v2h-2zM968 2319.8h2v2h-2zM951.4 2332.6h2v2h-2zM955.4 2316.7h2v2h-2zM959.1 2324.1h2v2h-2zM949.5 2317.8h2v2h-2zM960 2325.6h2v2h-2zM953.8 2331.5h2v2h-2zM957.2 2342.4h2v2h-2zM980.4 2315.6h2v2h-2zM957.4 2321.2h2v2h-2zM947.3 2295.1h2v2h-2zM962.6 2280.6h2v2h-2zM956.3 2298.6h2v2h-2zM941 2343.3h2v2h-2zM934.4 2340.1h2v2h-2zM944.6 2318.2h2v2h-2zM951.1 2365.2h2v2h-2zM950.2 2333.4h2v2h-2zM947.3 2331.1h2v2h-2zM963.2 2352h2v2h-2zM943.7 2341.5h2v2h-2zM931.3 2331.4h2v2h-2zM949.7 2331.3h2v2h-2zM944.1 2354h2v2h-2z" fill="#a9b4dc" opacity="0.8"/>
<path d="M1023.8 2300.4h1.1v1.1h-1.1zM987.5 2242.2h1.1v1.1h-1.1zM1005.3 2296.2h1.1v1.1h-1.1zM1004.6 2251.8h1.1v1.1h-1.1zM999.8 2309.7h1.1v1.1h-1.1zM987.4 2302h1.1v1.1h-1.1zM1014 2290.6h1.1v1.1h-1.1zM1017.4 2270.1h1.1v1.1h-1.1zM1005 2317h1.1v1.1h-1.1zM1001.3 2272.6h1.1v1.1h-1.1zM987.1 2271.6h1.1v1.1h-1.1zM1017.1 2306h1.1v1.1h-1.1zM1015.8 2293.7h1.1v1.1h-1.1zM1014.9 2287.8h1.1v1.1h-1.1zM1020.8 2278.2h1.1v1.1h-1.1zM1021.7 2279.7h1.1v1.1h-1.1zM984.5 2255.6h1.1v1.1h-1.1zM1004.1 2272h1.1v1.1h-1.1zM989.9 2265.9h1.1v1.1h-1.1zM1009.3 2289.1h1.1v1.1h-1.1zM1018.6 2264h1.1v1.1h-1.1zM1012 2301.6h1.1v1.1h-1.1zM1011.7 2316.1h1.1v1.1h-1.1zM1000.2 2281h1.1v1.1h-1.1zM1009.2 2273.1h1.1v1.1h-1.1zM1006.1 2285.7h1.1v1.1h-1.1zM1006.3 2271.2h1.1v1.1h-1.1zM1000.6 2279.6h1.1v1.1h-1.1zM985.6 2284.7h1.1v1.1h-1.1zM991.6 2276.2h1.1v1.1h-1.1zM991.8 2283h1.1v1.1h-1.1zM1001.5 2276h1.1v1.1h-1.1zM996.6 2283.3h1.1v1.1h-1.1zM1028.7 2245.6h1.1v1.1h-1.1zM1013.8 2285.5h1.1v1.1h-1.1zM1001.4 2256.1h1.1v1.1h-1.1zM1028.4 2284.7h1.1v1.1h-1.1zM1020.5 2273.8h1.1v1.1h-1.1zM996.3 2302.2h1.1v1.1h-1.1zM1016.9 2275.2h1.1v1.1h-1.1zM1003.8 2293.2h1.1v1.1h-1.1zM995.8 2264.7h1.1v1.1h-1.1zM1006.2 2300.8h1.1v1.1h-1.1zM1018.5 2284.8h1.1v1.1h-1.1zM1025.2 2278.2h1.1v1.1h-1.1zM1000 2326.9h1.1v1.1h-1.1zM1000 2292.8h1.1v1.1h-1.1zM1014.4 2283.5h1.1v1.1h-1.1zM1009.9 2294.7h1.1v1.1h-1.1zM1014.4 2269.8h1.1v1.1h-1.1zM1006.9 2308.2h1.1v1.1h-1.1zM1016.8 2272.7h1.1v1.1h-1.1zM1007.7 2261.9h1.1v1.1h-1.1zM989.2 2270.9h1.1v1.1h-1.1zM1028.7 2269.1h1.1v1.1h-1.1zM979.9 2279h1.1v1.1h-1.1zM997.5 2295.6h1.1v1.1h-1.1zM1023.7 2274.7h1.1v1.1h-1.1zM1008.5 2263.8h1.1v1.1h-1.1zM1023.3 2267h1.1v1.1h-1.1zM1007.3 2327.6h1.1v1.1h-1.1zM994.2 2284.5h1.1v1.1h-1.1zM1006.2 2290.3h1.1v1.1h-1.1zM1013.3 2310.2h1.1v1.1h-1.1zM1013.6 2293h1.1v1.1h-1.1zM990.1 2289.1h1.1v1.1h-1.1zM988.8 2304.9h1.1v1.1h-1.1zM1006.1 2300.2h1.1v1.1h-1.1zM1000.1 2285.8h1.1v1.1h-1.1zM1008.1 2292.1h1.1v1.1h-1.1zM1005.5 2269.9h1.1v1.1h-1.1zM1001.8 2268.7h1.1v1.1h-1.1zM994.4 2257.7h1.1v1.1h-1.1zM987 2318h1.1v1.1h-1.1zM996.8 2259.7h1.1v1.1h-1.1zM1020.4 2286.9h1.1v1.1h-1.1zM1005.1 2303.4h1.1v1.1h-1.1zM1032.2 2264.8h1.1v1.1h-1.1zM1026.3 2292.5h1.1v1.1h-1.1zM1022.7 2271h1.1v1.1h-1.1zM1029.8 2303.9h1.1v1.1h-1.1zM971.5 2306.1h1.1v1.1h-1.1zM1025.2 2254.3h1.1v1.1h-1.1zM1011.5 2277.9h1.1v1.1h-1.1zM1009.9 2264.6h1.1v1.1h-1.1zM1015.7 2295.7h1.1v1.1h-1.1zM1005.5 2280h1.1v1.1h-1.1zM983.4 2291.9h1.1v1.1h-1.1zM989.5 2281.7h1.1v1.1h-1.1zM996 2332.1h1.1v1.1h-1.1zM1006.9 2311.2h1.1v1.1h-1.1zM1006.4 2280.5h1.1v1.1h-1.1zM1017 2280.7h1.1v1.1h-1.1zM1038.8 2277.8h1.1v1.1h-1.1zM1029.1 2258.1h1.1v1.1h-1.1zM994.5 2294h1.1v1.1h-1.1zM988.1 2319.7h1.1v1.1h-1.1zM1014.2 2283h1.1v1.1h-1.1zM1031.1 2271.2h1.1v1.1h-1.1zM996.7 2230.5h1.1v1.1h-1.1zM980.4 2275.4h1.1v1.1h-1.1zM978.5 2296.1h1.1v1.1h-1.1zM1020.3 2290.1h1.1v1.1h-1.1zM984.7 2264.5h1.1v1.1h-1.1zM988 2295.1h1.1v1.1h-1.1zM1021 2276.8h1.1v1.1h-1.1zM1007.8 2285.7h1.1v1.1h-1.1zM1017 2263.6h1.1v1.1h-1.1zM993.8 2296.7h1.1v1.1h-1.1zM1013.9 2290.7h1.1v1.1h-1.1zM1007.7 2296.3h1.1v1.1h-1.1zM1013.4 2269.4h1.1v1.1h-1.1zM1030.4 2302.6h1.1v1.1h-1.1zM1003.6 2279.3h1.1v1.1h-1.1zM997 2253.9h1.1v1.1h-1.1zM992.4 2253.1h1.1v1.1h-1.1zM997.8 2287.6h1.1v1.1h-1.1zM1006 2253h1.1v1.1h-1.1zM1004.1 2268.8h1.1v1.1h-1.1zM991.7 2303h1.1v1.1h-1.1zM992.5 2299h1.1v1.1h-1.1zM983.6 2286.7h1.1v1.1h-1.1zM997.2 2300.1h1.1v1.1h-1.1zM1012.4 2265.8h1.1v1.1h-1.1zM1015.7 2306.4h1.1v1.1h-1.1zM1025.2 2310.3h1.1v1.1h-1.1zM1002 2323.8h1.1v1.1h-1.1zM998.8 2278.6h1.1v1.1h-1.1zM985.7 2277h1.1v1.1h-1.1zM986.9 2283.5h1.1v1.1h-1.1zM982.6 2318.1h1.1v1.1h-1.1zM1018.1 2312.8h1.1v1.1h-1.1zM1023.2 2284.5h1.1v1.1h-1.1zM1013.5 2285.3h1.1v1.1h-1.1zM980.9 2258.1h1.1v1.1h-1.1zM1001.5 2299.9h1.1v1.1h-1.1zM987.8 2285.1h1.1v1.1h-1.1zM999 2296h1.1v1.1h-1.1zM1017.5 2260.7h1.1v1.1h-1.1zM991.2 2310.5h1.1v1.1h-1.1zM1021.6 2280.9h1.1v1.1h-1.1zM1018.6 2282.6h1.1v1.1h-1.1zM1013.6 2273.7h1.1v1.1h-1.1zM1014.6 2314.6h1.1v1.1h-1.1zM1027.2 2306.6h1.1v1.1h-1.1zM1008.8 2300.6h1.1v1.1h-1.1zM1001 2275.5h1.1v1.1h-1.1zM1009.1 2259.8h1.1v1.1h-1.1zM1009.7 2247.3h1.1v1.1h-1.1zM1029.8 2298.3h1.1v1.1h-1.1zM1011.2 2267.6h1.1v1.1h-1.1zM998.7 2273.6h1.1v1.1h-1.1zM984 2273h1.1v1.1h-1.1zM994.3 2298.2h1.1v1.1h-1.1zM1025.6 2310.3h1.1v1.1h-1.1zM988.2 2254.1h1.1v1.1h-1.1zM1026.9 2297.1h1.1v1.1h-1.1zM1021.7 2294.7h1.1v1.1h-1.1zM1010.3 2323.7h1.1v1.1h-1.1zM1019.1 2295h1.1v1.1h-1.1zM993.1 2284.6h1.1v1.1h-1.1zM1025.8 2292.7h1.1v1.1h-1.1zM1019.7 2277.7h1.1v1.1h-1.1zM1016.9 2270.2h1.1v1.1h-1.1zM1004.5 2302.8h1.1v1.1h-1.1zM1030.7 2275.1h1.1v1.1h-1.1zM1004 2276.8h1.1v1.1h-1.1zM1004.4 2282h1.1v1.1h-1.1zM1019.3 2288.4h1.1v1.1h-1.1zM1006.9 2290.4h1.1v1.1h-1.1zM982.3 2278.4h1.1v1.1h-1.1zM1034.5 2261h1.1v1.1h-1.1zM998.9 2286.6h1.1v1.1h-1.1zM1021 2276.2h1.1v1.1h-1.1zM992.3 2312.1h1.1v1.1h-1.1zM974.4 2263.4h1.1v1.1h-1.1zM996.5 2234.9h1.1v1.1h-1.1zM1025.9 2320.3h1.1v1.1h-1.1zM985.8 2273h1.1v1.1h-1.1zM1003.4 2295.2h1.1v1.1h-1.1zM1004.2 2292.7h1.1v1.1h-1.1zM1013.5 2278.5h1.1v1.1h-1.1zM1007.6 2309.3h1.1v1.1h-1.1zM1009.4 2294.3h1.1v1.1h-1.1zM1006.5 2295.6h1.1v1.1h-1.1zM1029.6 2283.1h1.1v1.1h-1.1zM1000.2 2266.5h1.1v1.1h-1.1zM1021.1 2265.8h1.1v1.1h-1.1zM1013.5 2331.9h1.1v1.1h-1.1zM1009.9 2317.1h1.1v1.1h-1.1zM1007.1 2279.6h1.1v1.1h-1.1zM1015.1 2263.9h1.1v1.1h-1.1zM972.9 2280.3h1.1v1.1h-1.1zM996.8 2285.5h1.1v1.1h-1.1zM1034.4 2293.7h1.1v1.1h-1.1zM985.5 2289.8h1.1v1.1h-1.1zM981.9 2237.7h1.1v1.1h-1.1zM1036.9 2262.7h1.1v1.1h-1.1zM976 2279.8h1.1v1.1h-1.1zM1004.2 2290.7h1.1v1.1h-1.1zM1004.5 2277.3h1.1v1.1h-1.1zM1018.9 2277.9h1.1v1.1h-1.1zM996.4 2288.6h1.1v1.1h-1.1zM999 2303.3h1.1v1.1h-1.1zM1007.5 2277.8h1.1v1.1h-1.1zM1000.9 2293.5h1.1v1.1h-1.1zM1021.2 2275.5h1.1v1.1h-1.1zM975.8 2297.1h1.1v1.1h-1.1zM996.2 2293.8h1.1v1.1h-1.1zM998.4 2289.7h1.1v1.1h-1.1zM1003.4 2265.2h1.1v1.1h-1.1zM988.5 2279.5h1.1v1.1h-1.1zM1009.1 2248.4h1.1v1.1h-1.1zM972.7 2286.8h1.1v1.1h-1.1zM1037.8 2265.2h1.1v1.1h-1.1zM1003.3 2259.5h1.1v1.1h-1.1zM989 2311.6h1.1v1.1h-1.1zM983.8 2286.5h1.1v1.1h-1.1zM996.5 2293.4h1.1v1.1h-1.1zM1029.2 2284.7h1.1v1.1h-1.1zM1002.7 2303.6h1.1v1.1h-1.1zM1002.7 2243.7h1.1v1.1h-1.1zM1026.1 2271h1.1v1.1h-1.1zM1010.2 2326.7h1.1v1.1h-1.1zM1020.3 2287.9h1.1v1.1h-1.1zM1030.8 2263.5h1.1v1.1h-1.1zM983.3 2258.4h1.1v1.1h-1.1zM1008.5 2286.1h1.1v1.1h-1.1zM997.3 2325.2h1.1v1.1h-1.1zM1018.7 2285.4h1.1v1.1h-1.1zM997.2 2280.3h1.1v1.1h-1.1zM1011.3 2274.1h1.1v1.1h-1.1zM1048.3 2316.4h1.1v1.1h-1.1zM1016.6 2282.1h1.1v1.1h-1.1zM982.5 2303.4h1.1v1.1h-1.1zM997.4 2303.3h1.1v1.1h-1.1zM1013.2 2254.9h1.1v1.1h-1.1zM1007.9 2277.8h1.1v1.1h-1.1zM1003.9 2279.9h1.1v1.1h-1.1zM1008.6 2277.4h1.1v1.1h-1.1zM1019 2292.9h1.1v1.1h-1.1zM1005 2278.7h1.1v1.1h-1.1zM1002.5 2273.8h1.1v1.1h-1.1zM1004.9 2286.2h1.1v1.1h-1.1zM1002.9 2243.7h1.1v1.1h-1.1zM1008.2 2263.5h1.1v1.1h-1.1zM1006.7 2332.2h1.1v1.1h-1.1zM1021.7 2232.9h1.1v1.1h-1.1zM981.9 2302h1.1v1.1h-1.1zM995.9 2249.5h1.1v1.1h-1.1z" fill="#1f5fae" opacity="0.9"/>
<path d="M1012.7 2213.8h1.1v1.1h-1.1zM1006 2209.8h1.1v1.1h-1.1zM1013.3 2213.6h1.1v1.1h-1.1zM1017.7 2194.4h1.1v1.1h-1.1zM1020.8 2157.2h1.1v1.1h-1.1zM1018.5 2224.6h1.1v1.1h-1.1zM1002.4 2209.1h1.1v1.1h-1.1zM1015.6 2223.7h1.1v1.1h-1.1zM1015.9 2186.9h1.1v1.1h-1.1zM1008.7 2206.3h1.1v1.1h-1.1zM1020.9 2199.9h1.1v1.1h-1.1zM1020.9 2226h1.1v1.1h-1.1zM1007.8 2220.8h1.1v1.1h-1.1zM996.8 2219.5h1.1v1.1h-1.1zM976.3 2224.3h1.1v1.1h-1.1zM996.8 2212.6h1.1v1.1h-1.1zM1020.6 2169.6h1.1v1.1h-1.1zM980.6 2239.1h1.1v1.1h-1.1zM1018.6 2211.2h1.1v1.1h-1.1zM1041 2227.5h1.1v1.1h-1.1zM992.3 2205h1.1v1.1h-1.1zM1016 2230.1h1.1v1.1h-1.1zM1013.3 2209.1h1.1v1.1h-1.1zM1015.6 2215.6h1.1v1.1h-1.1zM989.2 2236.7h1.1v1.1h-1.1zM995.9 2220.6h1.1v1.1h-1.1zM1002.7 2221.2h1.1v1.1h-1.1zM1020.4 2204.2h1.1v1.1h-1.1zM1018.5 2223.9h1.1v1.1h-1.1zM1010.4 2203.5h1.1v1.1h-1.1zM1017 2203.2h1.1v1.1h-1.1zM1007.2 2220.4h1.1v1.1h-1.1zM1023.2 2191.4h1.1v1.1h-1.1zM1005.2 2220.8h1.1v1.1h-1.1zM998.6 2224.9h1.1v1.1h-1.1zM1012.7 2183.6h1.1v1.1h-1.1zM1004.3 2207.2h1.1v1.1h-1.1zM1041.9 2202.5h1.1v1.1h-1.1zM1016.7 2208.3h1.1v1.1h-1.1zM996 2226h1.1v1.1h-1.1zM1014.5 2212.3h1.1v1.1h-1.1zM1039.8 2206.9h1.1v1.1h-1.1zM994.3 2219.7h1.1v1.1h-1.1zM1004.2 2199.3h1.1v1.1h-1.1zM1002.1 2210.3h1.1v1.1h-1.1zM1013 2215.2h1.1v1.1h-1.1zM1010.9 2235.5h1.1v1.1h-1.1zM1006.9 2228.4h1.1v1.1h-1.1zM988 2214.8h1.1v1.1h-1.1zM998 2216.9h1.1v1.1h-1.1zM1009.2 2191.1h1.1v1.1h-1.1zM1022.9 2186.3h1.1v1.1h-1.1zM1031.5 2203.4h1.1v1.1h-1.1zM1009.5 2229.4h1.1v1.1h-1.1zM1003.3 2219.9h1.1v1.1h-1.1zM1033 2246.6h1.1v1.1h-1.1zM1011.3 2245.9h1.1v1.1h-1.1zM1000.5 2210.2h1.1v1.1h-1.1zM1012.8 2233.9h1.1v1.1h-1.1zM1001 2208.7h1.1v1.1h-1.1zM1020.2 2212.6h1.1v1.1h-1.1zM1015.3 2192.8h1.1v1.1h-1.1zM1039.3 2214.7h1.1v1.1h-1.1zM997.4 2218.5h1.1v1.1h-1.1zM1014 2208.3h1.1v1.1h-1.1zM1024.8 2214.3h1.1v1.1h-1.1zM1000.4 2203h1.1v1.1h-1.1zM984.2 2237.7h1.1v1.1h-1.1zM1001 2239.8h1.1v1.1h-1.1zM1034.3 2200h1.1v1.1h-1.1zM1030.7 2220.9h1.1v1.1h-1.1zM1011.9 2195.2h1.1v1.1h-1.1zM991.9 2219.3h1.1v1.1h-1.1zM1004 2205.2h1.1v1.1h-1.1zM1022.2 2227.8h1.1v1.1h-1.1zM1004.1 2219.3h1.1v1.1h-1.1zM995 2223.4h1.1v1.1h-1.1zM1032.1 2221.4h1.1v1.1h-1.1zM1006.4 2204.5h1.1v1.1h-1.1zM1020.2 2174h1.1v1.1h-1.1zM997.5 2211.1h1.1v1.1h-1.1zM1013.9 2221.7h1.1v1.1h-1.1zM1031.2 2259h1.1v1.1h-1.1zM1044.3 2205.3h1.1v1.1h-1.1zM991.2 2203.1h1.1v1.1h-1.1zM1032.6 2213.7h1.1v1.1h-1.1zM1027.2 2227h1.1v1.1h-1.1zM1005.3 2195.1h1.1v1.1h-1.1zM981 2229.2h1.1v1.1h-1.1zM1016.3 2221h1.1v1.1h-1.1zM1012.1 2210.7h1.1v1.1h-1.1zM1002.9 2229.3h1.1v1.1h-1.1zM1015.1 2202h1.1v1.1h-1.1zM993.3 2220h1.1v1.1h-1.1zM997.4 2227.4h1.1v1.1h-1.1zM995.7 2230.5h1.1v1.1h-1.1zM1001.7 2228.9h1.1v1.1h-1.1zM1033.7 2179.9h1.1v1.1h-1.1zM1029.7 2240.9h1.1v1.1h-1.1zM1023.7 2208.8h1.1v1.1h-1.1zM1014.7 2207.2h1.1v1.1h-1.1zM969.7 2200h1.1v1.1h-1.1zM994.6 2215.6h1.1v1.1h-1.1zM1026.6 2207.9h1.1v1.1h-1.1zM991.4 2235.5h1.1v1.1h-1.1zM1001.3 2240.6h1.1v1.1h-1.1zM1001.5 2234.8h1.1v1.1h-1.1zM1006.9 2208.8h1.1v1.1h-1.1zM1022.4 2202.5h1.1v1.1h-1.1zM978.7 2243.6h1.1v1.1h-1.1zM992.8 2219.9h1.1v1.1h-1.1zM1018.2 2221.3h1.1v1.1h-1.1zM1003.2 2202.2h1.1v1.1h-1.1zM990.4 2209.4h1.1v1.1h-1.1zM1000.2 2210.3h1.1v1.1h-1.1zM1014.2 2200.1h1.1v1.1h-1.1zM1036.2 2226.3h1.1v1.1h-1.1zM1014.2 2208.6h1.1v1.1h-1.1zM1018.5 2194.2h1.1v1.1h-1.1zM1018.5 2230.8h1.1v1.1h-1.1zM1015.6 2208h1.1v1.1h-1.1zM1001.1 2212.5h1.1v1.1h-1.1zM1044.7 2223.3h1.1v1.1h-1.1zM1029.8 2201.6h1.1v1.1h-1.1zM1007.2 2202.8h1.1v1.1h-1.1zM999.2 2233.3h1.1v1.1h-1.1zM1008.3 2194.7h1.1v1.1h-1.1zM994.9 2231h1.1v1.1h-1.1zM999.2 2240.3h1.1v1.1h-1.1zM1016.9 2191.3h1.1v1.1h-1.1zM1012 2228.8h1.1v1.1h-1.1zM1022.8 2205.3h1.1v1.1h-1.1zM1005.1 2213.5h1.1v1.1h-1.1zM1021.3 2216.7h1.1v1.1h-1.1zM1001.9 2211.8h1.1v1.1h-1.1zM1005.8 2214h1.1v1.1h-1.1zM992.8 2205.2h1.1v1.1h-1.1zM1016.1 2223.6h1.1v1.1h-1.1zM1019.6 2228h1.1v1.1h-1.1zM1019.8 2220h1.1v1.1h-1.1zM1004.8 2184.7h1.1v1.1h-1.1zM1027.1 2220.5h1.1v1.1h-1.1zM978.4 2205.8h1.1v1.1h-1.1zM992.6 2221.2h1.1v1.1h-1.1zM1001.1 2194.7h1.1v1.1h-1.1zM996.6 2204.1h1.1v1.1h-1.1zM1010.4 2211.6h1.1v1.1h-1.1zM1006.8 2207.3h1.1v1.1h-1.1zM1009 2229.5h1.1v1.1h-1.1zM992.4 2225.9h1.1v1.1h-1.1zM997.8 2217.5h1.1v1.1h-1.1zM1007 2236h1.1v1.1h-1.1zM1019.6 2203h1.1v1.1h-1.1zM1037.4 2198.6h1.1v1.1h-1.1zM1020.8 2188.9h1.1v1.1h-1.1zM996.2 2213.4h1.1v1.1h-1.1zM1044.8 2206.1h1.1v1.1h-1.1zM1006.3 2221.9h1.1v1.1h-1.1zM1006.6 2215.2h1.1v1.1h-1.1zM1003.9 2234.4h1.1v1.1h-1.1z" fill="#1f5fae" opacity="0.9"/>
<g transform="rotate(-42 946.5 2286.1)" fill="none" stroke="#1f5fae" stroke-width="1">
<rect x="900.5" y="2257.1" width="92" height="58" rx="21.8" ry="21.8" fill="#fff"/>
<rect x="905.3" y="2259.4" width="84.6" height="53.3" rx="20" ry="20"/>
<rect x="910.1" y="2261.8" width="77.2" height="48.7" rx="18.3" ry="18.3"/>
<rect x="914.8" y="2264" width="70" height="44.1" rx="16.6" ry="16.6"/>
<rect x="919.4" y="2266.3" width="62.9" height="39.7" rx="14.9" ry="14.9"/>
<rect x="923.9" y="2268.5" width="56" height="35.3" rx="13.2" ry="13.2"/>
<rect x="928.4" y="2270.6" width="49.1" height="31" rx="11.6" ry="11.6"/>
<rect x="932.7" y="2272.7" width="42.5" height="26.8" rx="10" ry="10"/>
<rect x="936.9" y="2274.8" width="36" height="22.7" rx="8.5" ry="8.5"/>
<rect x="941" y="2276.8" width="29.7" height="18.7" rx="7" ry="7"/>
<rect x="945" y="2278.7" width="23.6" height="14.9" rx="5.6" ry="5.6"/>
<rect x="948.8" y="2280.5" width="17.7" height="11.2" rx="4.2" ry="4.2"/>
<rect x="952.4" y="2282.3" width="12.2" height="7.7" rx="2.9" ry="2.9"/>
<rect x="955.7" y="2283.9" width="7.1" height="4.5" rx="1.7" ry="1.7"/>
<rect x="958.7" y="2285.3" width="2.5" height="1.6" rx="0.6" ry="0.6"/>
</g>
<ellipse cx="1011" cy="2215.5" rx="18" ry="11.5" fill="#ffffff" transform="rotate(-35 1011 2215.5)"/>
<g transform="rotate(-35 1011 2215.5)" fill="none" stroke="#1f5fae" stroke-width="1">
<ellipse cx="1011" cy="2215.5" rx="19" ry="12.5"/>
<ellipse cx="1011.6" cy="2215.5" rx="16.1" ry="10.6"/>
<ellipse cx="1012.1" cy="2215.5" rx="13.3" ry="8.7"/>
<ellipse cx="1012.7" cy="2215.5" rx="10.6" ry="7"/>
<ellipse cx="1013.2" cy="2215.5" rx="8" ry="5.3"/>
<ellipse cx="1013.7" cy="2215.5" rx="5.5" ry="3.6"/>
<ellipse cx="1014.2" cy="2215.5" rx="3.2" ry="2.1"/>
<ellipse cx="1014.6" cy="2215.5" rx="1.2" ry="0.8"/>
</g>
<ellipse cx="1006.7" cy="2281" rx="8.5" ry="13.5" fill="#ffffff" transform="rotate(15 1006.7 2281)"/>
<g transform="rotate(15 1006.7 2281)" fill="none" stroke="#1f5fae" stroke-width="1">
<ellipse cx="1006.7" cy="2281" rx="9.5" ry="14.5"/>
<ellipse cx="1006.7" cy="2281" rx="6.2" ry="9.5"/>
<ellipse cx="1006.7" cy="2281" rx="3.2" ry="4.8"/>
</g>
<g transform="rotate(0 841 2300.4)" fill="none" stroke="#1f5fae" stroke-width="1">
<ellipse cx="841" cy="2300.4" rx="6" ry="23"/>
<ellipse cx="841" cy="2300.4" rx="4.2" ry="16.3"/>
<ellipse cx="841" cy="2300.4" rx="2.6" ry="10"/>
</g>
<g transform="rotate(0 934.3 2401)" fill="none" stroke="#1f5fae" stroke-width="1">
<ellipse cx="934.3" cy="2401" rx="20" ry="6"/>
<ellipse cx="934.3" cy="2401" rx="14.2" ry="4.2"/>
<ellipse cx="934.3" cy="2401" rx="8.7" ry="2.6"/>
</g>
</g>
<line x1="983.7" y1="2140.2" x2="983.7" y2="2401" stroke="#231f20" stroke-width="1.4"/>
<line x1="840.4" y1="2243.1" x2="1102.7" y2="2243.1" stroke="#231f20" stroke-width="1.4"/>
<rect x="840.4" y="2140.2" width="262.3" height="260.8" fill="none" stroke="#231f20" stroke-width="1.5"/>
<path d="M840.4 2161h-7M840.4 2208.8h-7M840.4 2256.5h-7M840.4 2304.5h-7M840.4 2352.4h-7M840.4 2400.4h-7M840.4 2194.4h-4M840.4 2186h-4M840.4 2180h-4M840.4 2175.4h-4M840.4 2171.6h-4M840.4 2168.4h-4M840.4 2165.6h-4M840.4 2163.2h-4M840.4 2242.1h-4M840.4 2233.7h-4M840.4 2227.8h-4M840.4 2223.2h-4M840.4 2219.4h-4M840.4 2216.2h-4M840.4 2213.4h-4M840.4 2211h-4M840.4 2290.1h-4M840.4 2281.6h-4M840.4 2275.6h-4M840.4 2270.9h-4M840.4 2267.1h-4M840.4 2263.9h-4M840.4 2261.2h-4M840.4 2258.7h-4M840.4 2338h-4M840.4 2329.5h-4M840.4 2323.6h-4M840.4 2318.9h-4M840.4 2315.1h-4M840.4 2311.9h-4M840.4 2309.1h-4M840.4 2306.7h-4M840.4 2386h-4M840.4 2377.5h-4M840.4 2371.5h-4M840.4 2366.8h-4M840.4 2363h-4M840.4 2359.8h-4M840.4 2357.1h-4M840.4 2354.6h-4M840.4 2146.6h-4M841.4 2401v7M889 2401v7M936.5 2401v7M984.3 2401v7M1032.2 2401v7M1080.2 2401v7M855.7 2401v4M864.1 2401v4M870.1 2401v4M874.7 2401v4M878.4 2401v4M881.6 2401v4M884.4 2401v4M886.8 2401v4M903.3 2401v4M911.7 2401v4M917.6 2401v4M922.2 2401v4M926 2401v4M929.1 2401v4M931.9 2401v4M934.3 2401v4M950.9 2401v4M959.3 2401v4M965.3 2401v4M969.9 2401v4M973.7 2401v4M976.9 2401v4M979.7 2401v4M982.1 2401v4M998.7 2401v4M1007.2 2401v4M1013.1 2401v4M1017.8 2401v4M1021.6 2401v4M1024.8 2401v4M1027.6 2401v4M1030 2401v4M1046.6 2401v4M1055.1 2401v4M1061.1 2401v4M1065.8 2401v4M1069.6 2401v4M1072.8 2401v4M1075.5 2401v4M1078 2401v4M1094.6 2401v4" stroke="#231f20" stroke-width="1.1" fill="none"/>
<text transform="translate(845.9 2435) scale(0.950 1)" font-size="18" text-anchor="middle" fill="#231f20">10<tspan dy="-7.6" font-size="11.2">0</tspan></text>
<text transform="translate(893.5 2435) scale(0.950 1)" font-size="18" text-anchor="middle" fill="#231f20">10<tspan dy="-7.6" font-size="11.2">1</tspan></text>
<text transform="translate(941 2435) scale(0.950 1)" font-size="18" text-anchor="middle" fill="#231f20">10<tspan dy="-7.6" font-size="11.2">2</tspan></text>
<text transform="translate(988.8 2435) scale(0.950 1)" font-size="18" text-anchor="middle" fill="#231f20">10<tspan dy="-7.6" font-size="11.2">3</tspan></text>
<text transform="translate(1036.7 2435) scale(0.950 1)" font-size="18" text-anchor="middle" fill="#231f20">10<tspan dy="-7.6" font-size="11.2">4</tspan></text>
<text transform="translate(1084.7 2435) scale(0.950 1)" font-size="18" text-anchor="middle" fill="#231f20">10<tspan dy="-7.6" font-size="11.2">5</tspan></text>
<text transform="translate(820.4 2166.5) scale(0.950 1)" font-size="18" text-anchor="end" fill="#231f20">10<tspan dy="-7.6" font-size="11.2">5</tspan></text>
<text transform="translate(820.4 2214.3) scale(0.950 1)" font-size="18" text-anchor="end" fill="#231f20">10<tspan dy="-7.6" font-size="11.2">4</tspan></text>
<text transform="translate(820.4 2262) scale(0.950 1)" font-size="18" text-anchor="end" fill="#231f20">10<tspan dy="-7.6" font-size="11.2">3</tspan></text>
<text transform="translate(820.4 2310) scale(0.950 1)" font-size="18" text-anchor="end" fill="#231f20">10<tspan dy="-7.6" font-size="11.2">2</tspan></text>
<text transform="translate(820.4 2357.9) scale(0.950 1)" font-size="18" text-anchor="end" fill="#231f20">10<tspan dy="-7.6" font-size="11.2">1</tspan></text>
<text transform="translate(820.4 2405.9) scale(0.950 1)" font-size="18" text-anchor="end" fill="#231f20">10<tspan dy="-7.6" font-size="11.2">0</tspan></text>
<text transform="translate(847.4 2161.5) scale(1.030 1)" font-size="18.5" fill="#231f20">0.27%</text>
<text transform="translate(1097.2 2161.5) scale(1.030 1)" font-size="18.5" text-anchor="end" fill="#231f20">7.97%</text>
<text transform="translate(846.4 2397.3) scale(1.030 1)" font-size="18.5" fill="#231f20">86.4%</text>
<text transform="translate(1098.7 2397.3) scale(1.030 1)" font-size="18.5" text-anchor="end" fill="#231f20">5.39%</text>
<rect x="1150.4" y="2140.2" width="261.2" height="260.8" fill="#fff"/>
<g clip-path="url(#rc2)">
<path d="M1291.5 2316.2h2v2h-2zM1239.3 2259.7h2v2h-2zM1277.8 2327.1h2v2h-2zM1279.5 2252.9h2v2h-2zM1240.1 2281.4h2v2h-2zM1297.7 2282.5h2v2h-2zM1253.9 2277h2v2h-2zM1271.7 2263.8h2v2h-2zM1266.1 2289.6h2v2h-2zM1320.7 2281.3h2v2h-2zM1298.3 2256.6h2v2h-2zM1294.7 2286.9h2v2h-2zM1248.1 2282.2h2v2h-2zM1296.1 2274.6h2v2h-2zM1300.3 2321.6h2v2h-2zM1320.2 2324.1h2v2h-2zM1223.8 2291.6h2v2h-2zM1243.4 2307h2v2h-2zM1268.6 2288.6h2v2h-2zM1281.6 2267.8h2v2h-2zM1269.4 2264.5h2v2h-2zM1335.6 2271.3h2v2h-2zM1266.7 2237.9h2v2h-2zM1216.9 2261.6h2v2h-2zM1292.8 2302.6h2v2h-2zM1275.6 2266.6h2v2h-2zM1328 2256.8h2v2h-2zM1237.7 2295.3h2v2h-2zM1233 2289.7h2v2h-2zM1298.6 2281.2h2v2h-2zM1279.8 2283.9h2v2h-2zM1243.7 2201.9h2v2h-2zM1225.5 2282.8h2v2h-2zM1211.3 2268.5h2v2h-2zM1273.1 2317.1h2v2h-2zM1220.5 2269.4h2v2h-2zM1273.8 2296.4h2v2h-2zM1220 2330.5h2v2h-2zM1238.8 2310.8h2v2h-2zM1259.5 2293.4h2v2h-2zM1322.1 2301.1h2v2h-2zM1270.6 2257.2h2v2h-2zM1244.2 2246.3h2v2h-2zM1333.9 2243h2v2h-2zM1179.7 2325.1h2v2h-2zM1309.1 2273.7h2v2h-2zM1294.3 2261.8h2v2h-2zM1246.8 2295.8h2v2h-2zM1279.4 2271.1h2v2h-2zM1320.8 2301.8h2v2h-2zM1270.8 2252.5h2v2h-2zM1270.8 2274.7h2v2h-2zM1263.6 2303.5h2v2h-2zM1246.8 2289.7h2v2h-2zM1293 2292h2v2h-2zM1343.5 2237.9h2v2h-2zM1264 2252.3h2v2h-2zM1263.8 2347.7h2v2h-2zM1210.8 2275.3h2v2h-2zM1288.1 2285.2h2v2h-2zM1296.9 2242.6h2v2h-2zM1298.9 2258.1h2v2h-2zM1224.9 2297.4h2v2h-2zM1282.1 2263.9h2v2h-2zM1238.3 2277.5h2v2h-2zM1265.6 2278.3h2v2h-2zM1231.6 2222.7h2v2h-2zM1310.1 2287.1h2v2h-2zM1223.9 2242.1h2v2h-2zM1242.4 2271.9h2v2h-2zM1193.8 2318.7h2v2h-2zM1280.1 2274.2h2v2h-2zM1277.5 2288.5h2v2h-2zM1301.5 2286.5h2v2h-2zM1308.3 2322.4h2v2h-2zM1255.1 2270.8h2v2h-2zM1235.8 2276.5h2v2h-2zM1241.1 2282.7h2v2h-2zM1275.9 2296.3h2v2h-2zM1226.5 2310.4h2v2h-2zM1255.1 2279.5h2v2h-2zM1248.2 2230.7h2v2h-2zM1274.1 2236.5h2v2h-2zM1302.9 2283.4h2v2h-2zM1318.2 2299.2h2v2h-2zM1289.2 2318.6h2v2h-2zM1264 2322.2h2v2h-2zM1261.1 2289h2v2h-2zM1242.6 2296.4h2v2h-2zM1288.1 2269.3h2v2h-2zM1222.1 2281.4h2v2h-2zM1279.7 2278.2h2v2h-2zM1232.4 2263.6h2v2h-2zM1256.4 2214.4h2v2h-2zM1245.5 2319.5h2v2h-2zM1222 2276.6h2v2h-2zM1322.5 2300.6h2v2h-2zM1296.5 2278.5h2v2h-2zM1220.4 2356.8h2v2h-2zM1275.6 2288.5h2v2h-2zM1320.9 2303.2h2v2h-2zM1267.3 2253.7h2v2h-2zM1260.1 2278.4h2v2h-2zM1242.4 2259.8h2v2h-2zM1231.4 2279.2h2v2h-2zM1245.2 2292.8h2v2h-2zM1299.6 2290.4h2v2h-2zM1266 2322.6h2v2h-2zM1287.4 2244h2v2h-2zM1241 2287.2h2v2h-2zM1235.5 2301.8h2v2h-2zM1205.9 2232.8h2v2h-2zM1298.4 2297.2h2v2h-2zM1211 2284.1h2v2h-2zM1310.7 2253.3h2v2h-2zM1224.9 2250.7h2v2h-2zM1231.9 2237.2h2v2h-2zM1248.8 2244.6h2v2h-2zM1267.2 2339.9h2v2h-2zM1229.6 2305.6h2v2h-2zM1304.7 2222.3h2v2h-2zM1268.8 2281.8h2v2h-2zM1253.7 2302.8h2v2h-2zM1250.2 2291.2h2v2h-2zM1251.9 2278.5h2v2h-2zM1238.5 2341h2v2h-2zM1263.2 2253.1h2v2h-2zM1331.1 2322.9h2v2h-2zM1258.4 2265.1h2v2h-2zM1240.1 2314h2v2h-2zM1254 2263.6h2v2h-2zM1293.6 2275.1h2v2h-2zM1263.3 2332.2h2v2h-2zM1294.3 2314.3h2v2h-2zM1279.2 2315.4h2v2h-2zM1259.3 2307h2v2h-2zM1300.5 2271.4h2v2h-2zM1221.5 2295.9h2v2h-2zM1261 2297.8h2v2h-2zM1244.7 2295.7h2v2h-2zM1297.6 2343.3h2v2h-2zM1325.6 2292.2h2v2h-2zM1313.7 2265.8h2v2h-2zM1304.8 2285.6h2v2h-2zM1310.1 2290.7h2v2h-2zM1257.3 2263.7h2v2h-2zM1307.6 2283.6h2v2h-2zM1289.2 2294.5h2v2h-2zM1195.9 2297.7h2v2h-2zM1252.5 2292.2h2v2h-2zM1281.4 2235.3h2v2h-2zM1254.4 2280.5h2v2h-2zM1278.2 2306.4h2v2h-2zM1242 2276.1h2v2h-2zM1286.2 2234.6h2v2h-2zM1327.9 2257.6h2v2h-2zM1309.6 2285.8h2v2h-2zM1328.8 2309h2v2h-2zM1263.9 2238.1h2v2h-2zM1269.5 2290.4h2v2h-2zM1283.5 2249.4h2v2h-2zM1237.1 2261.9h2v2h-2zM1274.6 2259.5h2v2h-2zM1261.1 2306.1h2v2h-2zM1250.8 2316.9h2v2h-2zM1275.1 2275.6h2v2h-2zM1302.1 2294.8h2v2h-2zM1255.4 2266.8h2v2h-2zM1263.5 2291h2v2h-2zM1303.7 2289h2v2h-2zM1244.1 2247.7h2v2h-2zM1273.7 2292.2h2v2h-2zM1303.4 2268.4h2v2h-2zM1221.3 2303.7h2v2h-2zM1259.2 2250.6h2v2h-2zM1321.2 2305h2v2h-2zM1267.2 2289.3h2v2h-2zM1239.9 2307.7h2v2h-2zM1250.4 2270.4h2v2h-2zM1255 2252.6h2v2h-2zM1299.8 2325.2h2v2h-2zM1290.8 2229h2v2h-2zM1254.8 2265.6h2v2h-2zM1277.7 2226.7h2v2h-2zM1192.3 2270.2h2v2h-2zM1298.2 2277.2h2v2h-2zM1339.6 2260.2h2v2h-2zM1266.4 2278.2h2v2h-2zM1237 2310.8h2v2h-2zM1220.4 2254.8h2v2h-2zM1252.8 2269.7h2v2h-2zM1303.2 2268.4h2v2h-2zM1282 2270h2v2h-2zM1308.3 2281.6h2v2h-2zM1273.9 2239.9h2v2h-2zM1288.9 2265.4h2v2h-2zM1295.1 2295.2h2v2h-2zM1283.5 2311.2h2v2h-2zM1277.8 2259.4h2v2h-2zM1270.4 2286.5h2v2h-2zM1225.3 2297.9h2v2h-2zM1314.6 2288.3h2v2h-2zM1268.9 2294h2v2h-2zM1302.2 2268.1h2v2h-2zM1297.3 2262.9h2v2h-2zM1283.1 2295.4h2v2h-2zM1221.7 2299h2v2h-2zM1272.4 2239h2v2h-2zM1249.8 2265.9h2v2h-2zM1235 2292.8h2v2h-2zM1238.3 2283.3h2v2h-2zM1228.4 2275.2h2v2h-2zM1326.7 2292.7h2v2h-2zM1212.6 2257.8h2v2h-2zM1260.3 2240h2v2h-2zM1298 2281h2v2h-2zM1262.7 2283.4h2v2h-2zM1242 2252.5h2v2h-2zM1160.1 2240.2h2v2h-2zM1273 2299.6h2v2h-2zM1258.8 2234.7h2v2h-2zM1253.6 2282.9h2v2h-2zM1221.3 2317.4h2v2h-2zM1227.2 2282h2v2h-2zM1228.2 2305.4h2v2h-2zM1222.4 2258.8h2v2h-2zM1302.6 2249.5h2v2h-2zM1246.8 2296h2v2h-2zM1277 2236.8h2v2h-2zM1285.4 2274.4h2v2h-2zM1306.2 2237.3h2v2h-2zM1290.8 2292.4h2v2h-2zM1252.2 2271.1h2v2h-2zM1278 2264.2h2v2h-2zM1253.3 2262.2h2v2h-2zM1269.6 2299.4h2v2h-2zM1211.3 2282.6h2v2h-2zM1275.4 2320.8h2v2h-2zM1239.9 2314.4h2v2h-2zM1249.9 2294.6h2v2h-2zM1272.4 2288.9h2v2h-2zM1253.4 2256.6h2v2h-2zM1315.1 2319.5h2v2h-2zM1261 2277.6h2v2h-2zM1257.8 2247.5h2v2h-2zM1227.4 2292.6h2v2h-2zM1297 2276.1h2v2h-2zM1233.3 2254.1h2v2h-2zM1244.2 2299.9h2v2h-2zM1266.5 2245.1h2v2h-2zM1225.7 2290.3h2v2h-2zM1274.9 2327.3h2v2h-2zM1313.4 2286.6h2v2h-2zM1241.9 2287.1h2v2h-2zM1226.6 2264.2h2v2h-2zM1298.7 2297.7h2v2h-2zM1296 2322.1h2v2h-2zM1250.9 2302.5h2v2h-2zM1267.3 2290h2v2h-2zM1272.6 2295.7h2v2h-2z" fill="#9cc4aa" opacity="0.8"/>
<path d="M1275.2 2269.4h1.1v1.1h-1.1zM1355.1 2221.8h1.1v1.1h-1.1zM1276.2 2285.9h1.1v1.1h-1.1zM1242.1 2279.7h1.1v1.1h-1.1zM1271.3 2263.4h1.1v1.1h-1.1zM1281.4 2261.9h1.1v1.1h-1.1zM1202.6 2294.8h1.1v1.1h-1.1zM1214.9 2264.2h1.1v1.1h-1.1zM1258.8 2278.5h1.1v1.1h-1.1zM1274.7 2247.8h1.1v1.1h-1.1zM1268 2296.8h1.1v1.1h-1.1zM1267.7 2249h1.1v1.1h-1.1zM1292.4 2240.2h1.1v1.1h-1.1zM1289.4 2252.6h1.1v1.1h-1.1zM1236.5 2268.5h1.1v1.1h-1.1zM1297.3 2326.7h1.1v1.1h-1.1zM1272.5 2322h1.1v1.1h-1.1zM1291.2 2248.3h1.1v1.1h-1.1zM1312.5 2284h1.1v1.1h-1.1zM1249.9 2278.7h1.1v1.1h-1.1zM1297.3 2265.7h1.1v1.1h-1.1zM1322.7 2246.7h1.1v1.1h-1.1zM1236.6 2304.5h1.1v1.1h-1.1zM1247.7 2319.3h1.1v1.1h-1.1zM1276 2260.5h1.1v1.1h-1.1zM1257 2315.8h1.1v1.1h-1.1zM1274.1 2311.3h1.1v1.1h-1.1zM1237.4 2297h1.1v1.1h-1.1zM1236.6 2274.7h1.1v1.1h-1.1zM1355.7 2256.6h1.1v1.1h-1.1zM1261.8 2308.7h1.1v1.1h-1.1zM1240.3 2340.6h1.1v1.1h-1.1zM1286.3 2254h1.1v1.1h-1.1zM1260.3 2293.5h1.1v1.1h-1.1zM1270.9 2266.3h1.1v1.1h-1.1zM1240.8 2294.6h1.1v1.1h-1.1zM1266.5 2304.5h1.1v1.1h-1.1zM1270.9 2284.4h1.1v1.1h-1.1zM1219.5 2308.9h1.1v1.1h-1.1zM1248.1 2280.8h1.1v1.1h-1.1zM1258.1 2279h1.1v1.1h-1.1zM1242.6 2329.5h1.1v1.1h-1.1zM1280 2254.2h1.1v1.1h-1.1zM1266.7 2252.8h1.1v1.1h-1.1zM1232.1 2303.9h1.1v1.1h-1.1zM1301.6 2248.7h1.1v1.1h-1.1zM1232.3 2317.2h1.1v1.1h-1.1zM1241.3 2280.9h1.1v1.1h-1.1zM1248.5 2243.9h1.1v1.1h-1.1zM1201 2292.4h1.1v1.1h-1.1zM1293.8 2261.7h1.1v1.1h-1.1zM1241.4 2282.2h1.1v1.1h-1.1zM1300.8 2290.7h1.1v1.1h-1.1zM1252.8 2301.3h1.1v1.1h-1.1zM1332.6 2244.8h1.1v1.1h-1.1zM1263.8 2294.6h1.1v1.1h-1.1zM1279.3 2291.5h1.1v1.1h-1.1zM1268 2266h1.1v1.1h-1.1zM1269.6 2291h1.1v1.1h-1.1zM1251.4 2297.1h1.1v1.1h-1.1zM1263.2 2322.3h1.1v1.1h-1.1zM1291.7 2234.9h1.1v1.1h-1.1zM1290 2267.7h1.1v1.1h-1.1zM1265.5 2275.5h1.1v1.1h-1.1zM1288.4 2294.2h1.1v1.1h-1.1zM1252.6 2324.7h1.1v1.1h-1.1zM1244.4 2267.8h1.1v1.1h-1.1zM1275.3 2294.1h1.1v1.1h-1.1zM1269.3 2288.9h1.1v1.1h-1.1zM1251 2279.2h1.1v1.1h-1.1zM1277.4 2245.1h1.1v1.1h-1.1zM1296.1 2267.7h1.1v1.1h-1.1zM1257.1 2283.5h1.1v1.1h-1.1zM1259.7 2287.1h1.1v1.1h-1.1zM1263.9 2280.3h1.1v1.1h-1.1zM1189.5 2283.7h1.1v1.1h-1.1zM1266.1 2263.9h1.1v1.1h-1.1zM1251 2290.3h1.1v1.1h-1.1zM1263.5 2331.3h1.1v1.1h-1.1zM1264.5 2278.8h1.1v1.1h-1.1zM1254.9 2318.6h1.1v1.1h-1.1zM1306.4 2293.4h1.1v1.1h-1.1zM1276.6 2249.6h1.1v1.1h-1.1zM1257 2331.2h1.1v1.1h-1.1zM1249.5 2293.5h1.1v1.1h-1.1zM1270.9 2293.7h1.1v1.1h-1.1zM1265.2 2252.7h1.1v1.1h-1.1zM1226.4 2264.3h1.1v1.1h-1.1zM1278.2 2267.8h1.1v1.1h-1.1zM1242.3 2333.7h1.1v1.1h-1.1zM1252.7 2264h1.1v1.1h-1.1zM1248.8 2279.9h1.1v1.1h-1.1zM1272.8 2283.3h1.1v1.1h-1.1zM1259.8 2300.8h1.1v1.1h-1.1zM1200.5 2327.7h1.1v1.1h-1.1zM1296.6 2285.5h1.1v1.1h-1.1zM1271.1 2247.7h1.1v1.1h-1.1zM1222.2 2309.6h1.1v1.1h-1.1zM1325.2 2241.1h1.1v1.1h-1.1zM1225.2 2267.4h1.1v1.1h-1.1zM1264 2271.2h1.1v1.1h-1.1zM1281.8 2275.2h1.1v1.1h-1.1zM1209.8 2326.3h1.1v1.1h-1.1zM1277.1 2255.9h1.1v1.1h-1.1zM1221.8 2285.5h1.1v1.1h-1.1zM1267.4 2346.2h1.1v1.1h-1.1zM1291.4 2243.3h1.1v1.1h-1.1zM1283.9 2236.2h1.1v1.1h-1.1zM1243.2 2279.7h1.1v1.1h-1.1zM1271.9 2297h1.1v1.1h-1.1zM1325.4 2254.4h1.1v1.1h-1.1zM1266.5 2286.8h1.1v1.1h-1.1zM1266.7 2292.8h1.1v1.1h-1.1zM1249.9 2303.4h1.1v1.1h-1.1zM1291.2 2289.2h1.1v1.1h-1.1zM1253.3 2305.5h1.1v1.1h-1.1zM1261.5 2262.3h1.1v1.1h-1.1zM1212 2311.4h1.1v1.1h-1.1zM1283.1 2259.8h1.1v1.1h-1.1zM1328.3 2246.6h1.1v1.1h-1.1zM1248.1 2294.4h1.1v1.1h-1.1zM1284.3 2281.1h1.1v1.1h-1.1zM1267.5 2294.5h1.1v1.1h-1.1zM1349.3 2239.3h1.1v1.1h-1.1zM1263.5 2270.5h1.1v1.1h-1.1zM1227.1 2320.1h1.1v1.1h-1.1zM1256.1 2289.1h1.1v1.1h-1.1zM1264.7 2306h1.1v1.1h-1.1zM1281.5 2248.7h1.1v1.1h-1.1zM1238.7 2314.4h1.1v1.1h-1.1zM1304.8 2261.7h1.1v1.1h-1.1zM1257.5 2248.3h1.1v1.1h-1.1zM1261.8 2302.8h1.1v1.1h-1.1zM1274.9 2274.5h1.1v1.1h-1.1zM1292.1 2285.3h1.1v1.1h-1.1zM1258.1 2268h1.1v1.1h-1.1zM1236.3 2313.1h1.1v1.1h-1.1zM1259.7 2282.2h1.1v1.1h-1.1zM1282.8 2248.8h1.1v1.1h-1.1zM1269.3 2298.5h1.1v1.1h-1.1zM1214.5 2262.4h1.1v1.1h-1.1zM1265.1 2306.6h1.1v1.1h-1.1zM1248.6 2289.5h1.1v1.1h-1.1zM1240 2338.8h1.1v1.1h-1.1zM1215.8 2304.8h1.1v1.1h-1.1zM1290 2318.8h1.1v1.1h-1.1zM1258.5 2267.4h1.1v1.1h-1.1zM1226.8 2305.9h1.1v1.1h-1.1zM1228.5 2295.4h1.1v1.1h-1.1zM1284.8 2301.8h1.1v1.1h-1.1zM1259.9 2326.9h1.1v1.1h-1.1zM1248.6 2353.2h1.1v1.1h-1.1zM1245.6 2288.3h1.1v1.1h-1.1zM1258.4 2295.2h1.1v1.1h-1.1zM1260.1 2277.4h1.1v1.1h-1.1zM1242 2286.2h1.1v1.1h-1.1zM1259.8 2271.7h1.1v1.1h-1.1zM1229.3 2270.8h1.1v1.1h-1.1zM1273.7 2289.8h1.1v1.1h-1.1zM1256.5 2318.9h1.1v1.1h-1.1zM1266.7 2284.4h1.1v1.1h-1.1zM1235.3 2325.8h1.1v1.1h-1.1zM1323 2290.4h1.1v1.1h-1.1zM1251 2292.9h1.1v1.1h-1.1zM1290.9 2276.5h1.1v1.1h-1.1zM1252.2 2295.4h1.1v1.1h-1.1zM1296.8 2272.4h1.1v1.1h-1.1zM1279.7 2300.8h1.1v1.1h-1.1zM1237.8 2318.3h1.1v1.1h-1.1zM1245.6 2288.6h1.1v1.1h-1.1zM1309.7 2295.8h1.1v1.1h-1.1zM1278.5 2275.3h1.1v1.1h-1.1zM1315.2 2262.8h1.1v1.1h-1.1zM1206.4 2314.6h1.1v1.1h-1.1zM1241.3 2283.4h1.1v1.1h-1.1zM1240.9 2321.9h1.1v1.1h-1.1zM1295.2 2308.1h1.1v1.1h-1.1zM1261.6 2289.4h1.1v1.1h-1.1zM1263.7 2313.7h1.1v1.1h-1.1zM1319.7 2285.8h1.1v1.1h-1.1zM1282 2252.3h1.1v1.1h-1.1zM1281.8 2243.1h1.1v1.1h-1.1zM1249.9 2290.7h1.1v1.1h-1.1zM1305.1 2229.5h1.1v1.1h-1.1zM1247.5 2305.1h1.1v1.1h-1.1zM1302.3 2268.5h1.1v1.1h-1.1zM1267.9 2257.1h1.1v1.1h-1.1zM1276.3 2310.9h1.1v1.1h-1.1zM1260.5 2268.9h1.1v1.1h-1.1zM1278.2 2311.2h1.1v1.1h-1.1zM1312.6 2255.6h1.1v1.1h-1.1zM1272.1 2325.8h1.1v1.1h-1.1zM1254.1 2296h1.1v1.1h-1.1zM1277 2273.6h1.1v1.1h-1.1zM1286.3 2312.4h1.1v1.1h-1.1zM1254.6 2251.7h1.1v1.1h-1.1zM1272.6 2315.3h1.1v1.1h-1.1zM1249.1 2268h1.1v1.1h-1.1zM1295.3 2272.4h1.1v1.1h-1.1zM1276.6 2290.5h1.1v1.1h-1.1zM1261.5 2292.1h1.1v1.1h-1.1zM1273.1 2261.3h1.1v1.1h-1.1zM1281.4 2240.3h1.1v1.1h-1.1zM1316.2 2243.2h1.1v1.1h-1.1zM1259.2 2254.3h1.1v1.1h-1.1zM1273.9 2252.8h1.1v1.1h-1.1zM1279.2 2272.7h1.1v1.1h-1.1zM1274.1 2327.1h1.1v1.1h-1.1zM1264.3 2270h1.1v1.1h-1.1zM1264 2294.1h1.1v1.1h-1.1zM1280.9 2295.1h1.1v1.1h-1.1zM1257.9 2296.4h1.1v1.1h-1.1zM1246.8 2279.4h1.1v1.1h-1.1zM1275 2252.7h1.1v1.1h-1.1zM1239.9 2324h1.1v1.1h-1.1zM1264.1 2301.1h1.1v1.1h-1.1zM1287 2280.2h1.1v1.1h-1.1zM1291.6 2306.3h1.1v1.1h-1.1zM1260.5 2321.4h1.1v1.1h-1.1zM1268.9 2289.5h1.1v1.1h-1.1zM1270.5 2304.3h1.1v1.1h-1.1zM1272.9 2265.1h1.1v1.1h-1.1zM1276.2 2288.9h1.1v1.1h-1.1zM1299.7 2325.8h1.1v1.1h-1.1zM1275.8 2264.4h1.1v1.1h-1.1zM1295.3 2266.8h1.1v1.1h-1.1zM1251.9 2285.9h1.1v1.1h-1.1zM1242.7 2324.9h1.1v1.1h-1.1zM1301.8 2251.5h1.1v1.1h-1.1zM1226.1 2268.3h1.1v1.1h-1.1zM1240.7 2305h1.1v1.1h-1.1zM1251.8 2291.3h1.1v1.1h-1.1zM1247.1 2295.1h1.1v1.1h-1.1zM1265.9 2289.1h1.1v1.1h-1.1zM1273.2 2283.2h1.1v1.1h-1.1zM1246 2292.5h1.1v1.1h-1.1zM1233.7 2296.6h1.1v1.1h-1.1zM1273.6 2289.7h1.1v1.1h-1.1zM1224.5 2291.5h1.1v1.1h-1.1zM1239.3 2271.7h1.1v1.1h-1.1zM1259 2284h1.1v1.1h-1.1zM1274.5 2322.4h1.1v1.1h-1.1zM1261.9 2294h1.1v1.1h-1.1zM1239.5 2329.4h1.1v1.1h-1.1zM1278.1 2279.1h1.1v1.1h-1.1zM1218.7 2321.5h1.1v1.1h-1.1zM1258.4 2301.3h1.1v1.1h-1.1zM1259.9 2273.6h1.1v1.1h-1.1zM1274.6 2311.2h1.1v1.1h-1.1zM1268.9 2232.4h1.1v1.1h-1.1zM1266.6 2300.7h1.1v1.1h-1.1zM1262.8 2294.9h1.1v1.1h-1.1zM1283.3 2315.1h1.1v1.1h-1.1zM1281.6 2265.1h1.1v1.1h-1.1zM1309 2265.7h1.1v1.1h-1.1zM1299.6 2242.2h1.1v1.1h-1.1zM1244.8 2323.7h1.1v1.1h-1.1zM1244.2 2252.1h1.1v1.1h-1.1zM1182.3 2356.2h1.1v1.1h-1.1zM1258.1 2267.2h1.1v1.1h-1.1zM1258.6 2292.6h1.1v1.1h-1.1zM1253.6 2329.1h1.1v1.1h-1.1zM1238.6 2307.2h1.1v1.1h-1.1zM1260.8 2273.4h1.1v1.1h-1.1zM1261.9 2310.8h1.1v1.1h-1.1zM1230.9 2312.3h1.1v1.1h-1.1zM1293.3 2238.3h1.1v1.1h-1.1zM1225.5 2302.9h1.1v1.1h-1.1zM1189.8 2325h1.1v1.1h-1.1zM1228.8 2290.4h1.1v1.1h-1.1zM1255 2308.6h1.1v1.1h-1.1zM1253.3 2264.1h1.1v1.1h-1.1zM1282.5 2241h1.1v1.1h-1.1zM1293.4 2245.6h1.1v1.1h-1.1zM1239.4 2291.8h1.1v1.1h-1.1zM1301 2256.6h1.1v1.1h-1.1zM1242.6 2254.7h1.1v1.1h-1.1zM1261.5 2277.2h1.1v1.1h-1.1zM1247 2275.8h1.1v1.1h-1.1zM1248 2333.6h1.1v1.1h-1.1zM1252.6 2310.5h1.1v1.1h-1.1zM1281.6 2273.8h1.1v1.1h-1.1zM1278.5 2290h1.1v1.1h-1.1zM1257.3 2287.2h1.1v1.1h-1.1zM1276.5 2278.9h1.1v1.1h-1.1zM1221.4 2242.8h1.1v1.1h-1.1zM1248 2261.7h1.1v1.1h-1.1zM1310.5 2280.5h1.1v1.1h-1.1zM1275.4 2281.6h1.1v1.1h-1.1zM1217.3 2317.9h1.1v1.1h-1.1zM1274.1 2327.5h1.1v1.1h-1.1zM1267.5 2345h1.1v1.1h-1.1zM1233.5 2251.1h1.1v1.1h-1.1zM1304.6 2243.6h1.1v1.1h-1.1zM1290.2 2293.5h1.1v1.1h-1.1zM1223.4 2304.2h1.1v1.1h-1.1zM1287.2 2300.7h1.1v1.1h-1.1zM1270.7 2295.1h1.1v1.1h-1.1zM1233.5 2324.5h1.1v1.1h-1.1zM1240.3 2293.8h1.1v1.1h-1.1zM1281.5 2295h1.1v1.1h-1.1zM1256.9 2302.3h1.1v1.1h-1.1zM1268.2 2298.4h1.1v1.1h-1.1zM1275.9 2314.1h1.1v1.1h-1.1zM1228.2 2284.4h1.1v1.1h-1.1zM1285.6 2245.2h1.1v1.1h-1.1zM1291.5 2281.1h1.1v1.1h-1.1zM1223.8 2309.3h1.1v1.1h-1.1zM1253.9 2289h1.1v1.1h-1.1zM1235 2313.5h1.1v1.1h-1.1zM1255.5 2259.5h1.1v1.1h-1.1zM1270 2285.2h1.1v1.1h-1.1zM1226.3 2313.6h1.1v1.1h-1.1zM1297.5 2277.1h1.1v1.1h-1.1zM1230.5 2289.9h1.1v1.1h-1.1zM1272.3 2288.4h1.1v1.1h-1.1zM1286.1 2267.6h1.1v1.1h-1.1zM1275.2 2255.4h1.1v1.1h-1.1zM1305.6 2243.6h1.1v1.1h-1.1zM1236 2290.8h1.1v1.1h-1.1zM1214 2303.8h1.1v1.1h-1.1zM1265.3 2296.2h1.1v1.1h-1.1zM1279.2 2246h1.1v1.1h-1.1zM1258.2 2307.8h1.1v1.1h-1.1zM1299.8 2274.9h1.1v1.1h-1.1zM1254.9 2257.6h1.1v1.1h-1.1zM1230.9 2266.2h1.1v1.1h-1.1zM1266.7 2316.4h1.1v1.1h-1.1zM1297 2247.2h1.1v1.1h-1.1zM1297.9 2293.1h1.1v1.1h-1.1zM1221.3 2279.5h1.1v1.1h-1.1zM1220.1 2259.1h1.1v1.1h-1.1zM1279.1 2267.2h1.1v1.1h-1.1zM1258.6 2288.5h1.1v1.1h-1.1zM1275.3 2272.2h1.1v1.1h-1.1zM1245.3 2316.3h1.1v1.1h-1.1zM1256 2297.1h1.1v1.1h-1.1zM1248.5 2295.5h1.1v1.1h-1.1zM1230.1 2314.2h1.1v1.1h-1.1zM1272.1 2305.8h1.1v1.1h-1.1zM1233 2282.8h1.1v1.1h-1.1zM1251.9 2235.5h1.1v1.1h-1.1zM1276.8 2268.6h1.1v1.1h-1.1zM1254.3 2292.5h1.1v1.1h-1.1zM1244.2 2272.1h1.1v1.1h-1.1zM1267.3 2253.3h1.1v1.1h-1.1zM1263.3 2276.5h1.1v1.1h-1.1zM1237.5 2285.8h1.1v1.1h-1.1zM1264.6 2270.7h1.1v1.1h-1.1zM1306.2 2270.7h1.1v1.1h-1.1zM1267.1 2307.5h1.1v1.1h-1.1zM1233.2 2356h1.1v1.1h-1.1zM1215.3 2285.6h1.1v1.1h-1.1zM1265.5 2233.6h1.1v1.1h-1.1zM1250.8 2301.6h1.1v1.1h-1.1zM1213.7 2319.3h1.1v1.1h-1.1zM1273.7 2252.8h1.1v1.1h-1.1zM1284.2 2239h1.1v1.1h-1.1zM1301.6 2261.5h1.1v1.1h-1.1zM1262.8 2275.6h1.1v1.1h-1.1zM1255.4 2318.8h1.1v1.1h-1.1zM1236 2304.8h1.1v1.1h-1.1zM1286 2276.4h1.1v1.1h-1.1zM1269.8 2258.4h1.1v1.1h-1.1zM1237 2310.5h1.1v1.1h-1.1zM1274.5 2303.1h1.1v1.1h-1.1zM1217.7 2319.7h1.1v1.1h-1.1zM1265.5 2266.6h1.1v1.1h-1.1zM1226.2 2313.6h1.1v1.1h-1.1zM1277 2250.6h1.1v1.1h-1.1zM1227.6 2283h1.1v1.1h-1.1zM1214.9 2271.2h1.1v1.1h-1.1zM1331.6 2218.1h1.1v1.1h-1.1zM1306.7 2279.2h1.1v1.1h-1.1zM1258.2 2302.7h1.1v1.1h-1.1zM1324.1 2269.4h1.1v1.1h-1.1zM1276.4 2250.6h1.1v1.1h-1.1zM1249.6 2295.2h1.1v1.1h-1.1zM1289.2 2240.4h1.1v1.1h-1.1zM1295.9 2288.6h1.1v1.1h-1.1zM1282.7 2266.6h1.1v1.1h-1.1zM1259.3 2306.3h1.1v1.1h-1.1zM1262.1 2294.8h1.1v1.1h-1.1zM1245.4 2282.9h1.1v1.1h-1.1zM1239.7 2274h1.1v1.1h-1.1zM1266.4 2241.1h1.1v1.1h-1.1zM1267 2267.3h1.1v1.1h-1.1zM1252.5 2244.8h1.1v1.1h-1.1zM1265.3 2282.9h1.1v1.1h-1.1zM1311.3 2272h1.1v1.1h-1.1zM1272.4 2273.7h1.1v1.1h-1.1zM1280.3 2298.2h1.1v1.1h-1.1zM1303.3 2266.9h1.1v1.1h-1.1zM1271.5 2233.5h1.1v1.1h-1.1zM1314.9 2297h1.1v1.1h-1.1zM1259.9 2269.9h1.1v1.1h-1.1zM1271.1 2224.1h1.1v1.1h-1.1zM1276.6 2239.3h1.1v1.1h-1.1zM1260.6 2253.3h1.1v1.1h-1.1zM1300.7 2254.4h1.1v1.1h-1.1zM1252 2293h1.1v1.1h-1.1zM1318.8 2281.2h1.1v1.1h-1.1zM1268.5 2273.8h1.1v1.1h-1.1zM1302.9 2255.4h1.1v1.1h-1.1zM1280.6 2324.9h1.1v1.1h-1.1zM1235 2317.8h1.1v1.1h-1.1zM1310.2 2258.5h1.1v1.1h-1.1zM1286.8 2292.6h1.1v1.1h-1.1zM1245.8 2300.3h1.1v1.1h-1.1zM1281.5 2299.5h1.1v1.1h-1.1zM1280.4 2274.4h1.1v1.1h-1.1zM1316.1 2280.3h1.1v1.1h-1.1zM1277.6 2347.8h1.1v1.1h-1.1zM1271.2 2266.7h1.1v1.1h-1.1zM1274 2207.9h1.1v1.1h-1.1zM1246 2309.6h1.1v1.1h-1.1zM1238.2 2274.9h1.1v1.1h-1.1zM1284.9 2311.8h1.1v1.1h-1.1zM1283 2294.7h1.1v1.1h-1.1zM1286.9 2267.2h1.1v1.1h-1.1zM1262.1 2269.7h1.1v1.1h-1.1zM1286.7 2290.6h1.1v1.1h-1.1zM1265.8 2284.5h1.1v1.1h-1.1zM1282.7 2273.6h1.1v1.1h-1.1zM1252 2245h1.1v1.1h-1.1zM1256.8 2247.3h1.1v1.1h-1.1zM1282.6 2267h1.1v1.1h-1.1zM1243.5 2269.8h1.1v1.1h-1.1zM1285.3 2257.3h1.1v1.1h-1.1zM1234.4 2258.7h1.1v1.1h-1.1zM1297.7 2243.6h1.1v1.1h-1.1zM1267.5 2316.6h1.1v1.1h-1.1zM1248.7 2230.6h1.1v1.1h-1.1zM1288.6 2308.7h1.1v1.1h-1.1zM1254.4 2274.3h1.1v1.1h-1.1zM1299 2278.6h1.1v1.1h-1.1zM1241 2287.3h1.1v1.1h-1.1zM1250 2283.6h1.1v1.1h-1.1zM1231.8 2294.2h1.1v1.1h-1.1zM1263.2 2243.5h1.1v1.1h-1.1zM1299.4 2270.7h1.1v1.1h-1.1zM1297 2280.3h1.1v1.1h-1.1zM1229.5 2271.4h1.1v1.1h-1.1zM1294.3 2259.5h1.1v1.1h-1.1zM1292.4 2289.4h1.1v1.1h-1.1zM1239.1 2305.2h1.1v1.1h-1.1zM1254.8 2266.5h1.1v1.1h-1.1zM1249.5 2298.2h1.1v1.1h-1.1zM1294.4 2295.8h1.1v1.1h-1.1zM1308.7 2288.5h1.1v1.1h-1.1zM1262 2294.5h1.1v1.1h-1.1zM1263.2 2277.7h1.1v1.1h-1.1zM1275.4 2313.5h1.1v1.1h-1.1zM1302.7 2254.8h1.1v1.1h-1.1zM1192.2 2313.1h1.1v1.1h-1.1zM1273 2325.2h1.1v1.1h-1.1zM1289.8 2257.1h1.1v1.1h-1.1zM1289.6 2273.5h1.1v1.1h-1.1zM1264.9 2281.6h1.1v1.1h-1.1zM1233.6 2282.5h1.1v1.1h-1.1zM1250.1 2267h1.1v1.1h-1.1zM1272.7 2270h1.1v1.1h-1.1zM1254 2303.5h1.1v1.1h-1.1zM1246.4 2290.3h1.1v1.1h-1.1zM1256 2310h1.1v1.1h-1.1zM1268.3 2276h1.1v1.1h-1.1zM1270.1 2293.6h1.1v1.1h-1.1zM1232.7 2261h1.1v1.1h-1.1zM1307.5 2251.5h1.1v1.1h-1.1zM1273.1 2253.5h1.1v1.1h-1.1zM1217.2 2293.3h1.1v1.1h-1.1zM1275.3 2264.3h1.1v1.1h-1.1zM1257 2277.4h1.1v1.1h-1.1zM1255.1 2337.8h1.1v1.1h-1.1zM1232.7 2283.5h1.1v1.1h-1.1zM1246.3 2308.3h1.1v1.1h-1.1zM1297.4 2261.9h1.1v1.1h-1.1zM1273.2 2269.9h1.1v1.1h-1.1zM1300.7 2260.7h1.1v1.1h-1.1zM1262.3 2257h1.1v1.1h-1.1zM1303.8 2270.2h1.1v1.1h-1.1zM1247.2 2279.5h1.1v1.1h-1.1zM1259.9 2253.2h1.1v1.1h-1.1zM1258.7 2266.8h1.1v1.1h-1.1zM1258.9 2319.4h1.1v1.1h-1.1zM1219.2 2271.9h1.1v1.1h-1.1zM1291.5 2243.8h1.1v1.1h-1.1zM1291.7 2261.6h1.1v1.1h-1.1zM1223.7 2273.5h1.1v1.1h-1.1zM1266.4 2290.1h1.1v1.1h-1.1zM1247.3 2287.7h1.1v1.1h-1.1zM1247.4 2294.6h1.1v1.1h-1.1zM1266.7 2275.7h1.1v1.1h-1.1zM1210.5 2306.6h1.1v1.1h-1.1zM1250.8 2281.4h1.1v1.1h-1.1zM1216.1 2307.2h1.1v1.1h-1.1zM1208.5 2283.5h1.1v1.1h-1.1zM1261.2 2259.3h1.1v1.1h-1.1zM1305.3 2279h1.1v1.1h-1.1zM1226.1 2321.1h1.1v1.1h-1.1zM1238.2 2320h1.1v1.1h-1.1zM1307.5 2284.2h1.1v1.1h-1.1zM1273.5 2235.7h1.1v1.1h-1.1zM1249.6 2252.6h1.1v1.1h-1.1zM1285.9 2287h1.1v1.1h-1.1zM1272.9 2298.8h1.1v1.1h-1.1zM1239.4 2289.7h1.1v1.1h-1.1zM1213.7 2274.3h1.1v1.1h-1.1zM1267 2280.2h1.1v1.1h-1.1zM1229.8 2287.5h1.1v1.1h-1.1zM1240.4 2322h1.1v1.1h-1.1zM1270.3 2262.8h1.1v1.1h-1.1zM1249.9 2282h1.1v1.1h-1.1zM1249.9 2304.6h1.1v1.1h-1.1zM1258.4 2230.5h1.1v1.1h-1.1zM1271.7 2251h1.1v1.1h-1.1zM1236.9 2265.2h1.1v1.1h-1.1zM1251 2289.8h1.1v1.1h-1.1zM1293.2 2329.7h1.1v1.1h-1.1zM1251.7 2285.2h1.1v1.1h-1.1zM1263.4 2295.5h1.1v1.1h-1.1zM1290.7 2280.4h1.1v1.1h-1.1zM1266.5 2286.1h1.1v1.1h-1.1zM1213.1 2327.4h1.1v1.1h-1.1zM1245.7 2304.9h1.1v1.1h-1.1zM1259.2 2302.2h1.1v1.1h-1.1zM1266.2 2297.7h1.1v1.1h-1.1zM1232.4 2336.8h1.1v1.1h-1.1zM1255.3 2334.3h1.1v1.1h-1.1zM1232.4 2309.6h1.1v1.1h-1.1zM1243.8 2303h1.1v1.1h-1.1zM1275.6 2247.8h1.1v1.1h-1.1zM1283.5 2289.4h1.1v1.1h-1.1zM1253.1 2315.1h1.1v1.1h-1.1zM1259.8 2302.1h1.1v1.1h-1.1zM1283 2352.8h1.1v1.1h-1.1zM1233.8 2251h1.1v1.1h-1.1zM1270.2 2267.9h1.1v1.1h-1.1zM1224 2306.1h1.1v1.1h-1.1zM1238.3 2307.3h1.1v1.1h-1.1zM1228.3 2282.7h1.1v1.1h-1.1zM1272.7 2284.1h1.1v1.1h-1.1zM1267.9 2287.2h1.1v1.1h-1.1zM1266.3 2288.4h1.1v1.1h-1.1zM1304.2 2274.8h1.1v1.1h-1.1zM1298.3 2296.8h1.1v1.1h-1.1zM1239.9 2329.6h1.1v1.1h-1.1zM1211.3 2306.4h1.1v1.1h-1.1zM1250.4 2307.9h1.1v1.1h-1.1zM1287.1 2244.5h1.1v1.1h-1.1zM1235.6 2332h1.1v1.1h-1.1zM1240.4 2261.7h1.1v1.1h-1.1zM1317.5 2248.3h1.1v1.1h-1.1zM1269.9 2281.2h1.1v1.1h-1.1zM1264.9 2298.1h1.1v1.1h-1.1zM1282.7 2300.2h1.1v1.1h-1.1zM1229.8 2310.6h1.1v1.1h-1.1zM1272.2 2242.9h1.1v1.1h-1.1zM1270.1 2255h1.1v1.1h-1.1zM1304.5 2285.1h1.1v1.1h-1.1zM1278.7 2269.9h1.1v1.1h-1.1zM1238.7 2285.5h1.1v1.1h-1.1zM1270.5 2276.6h1.1v1.1h-1.1zM1245.4 2302.2h1.1v1.1h-1.1zM1256.3 2324h1.1v1.1h-1.1zM1283.5 2266.6h1.1v1.1h-1.1zM1286.7 2257.2h1.1v1.1h-1.1zM1298.5 2257.3h1.1v1.1h-1.1zM1208.8 2274.2h1.1v1.1h-1.1zM1284.1 2219.6h1.1v1.1h-1.1zM1275.5 2298.2h1.1v1.1h-1.1zM1245.7 2273.2h1.1v1.1h-1.1zM1263.2 2289.3h1.1v1.1h-1.1zM1276.1 2287.3h1.1v1.1h-1.1zM1255.9 2321.6h1.1v1.1h-1.1zM1282.5 2289.5h1.1v1.1h-1.1zM1292.6 2273.4h1.1v1.1h-1.1zM1228.4 2292.3h1.1v1.1h-1.1zM1233.8 2279.8h1.1v1.1h-1.1zM1227.3 2265h1.1v1.1h-1.1zM1265 2281.1h1.1v1.1h-1.1zM1281.9 2253.9h1.1v1.1h-1.1zM1302.8 2248.1h1.1v1.1h-1.1zM1259.2 2288.9h1.1v1.1h-1.1zM1311.6 2271.4h1.1v1.1h-1.1zM1272.6 2276h1.1v1.1h-1.1zM1236.7 2268.5h1.1v1.1h-1.1zM1256.4 2279.6h1.1v1.1h-1.1zM1295.8 2243.8h1.1v1.1h-1.1zM1296.1 2258.6h1.1v1.1h-1.1zM1266.4 2299.4h1.1v1.1h-1.1zM1189.1 2292h1.1v1.1h-1.1zM1310.8 2253.8h1.1v1.1h-1.1zM1271.4 2271.5h1.1v1.1h-1.1zM1266.7 2277.7h1.1v1.1h-1.1zM1265.6 2287.1h1.1v1.1h-1.1zM1279 2286.1h1.1v1.1h-1.1zM1236.5 2294.3h1.1v1.1h-1.1zM1298 2244.6h1.1v1.1h-1.1zM1275.3 2278.3h1.1v1.1h-1.1zM1282.9 2318.9h1.1v1.1h-1.1zM1253.5 2239.7h1.1v1.1h-1.1zM1272.7 2240.8h1.1v1.1h-1.1zM1214 2304.7h1.1v1.1h-1.1zM1260.5 2238.3h1.1v1.1h-1.1zM1273.6 2250.5h1.1v1.1h-1.1zM1302.8 2271.2h1.1v1.1h-1.1zM1215.1 2257.2h1.1v1.1h-1.1zM1234 2246.9h1.1v1.1h-1.1zM1275.9 2259.5h1.1v1.1h-1.1zM1283.4 2249.8h1.1v1.1h-1.1zM1248.4 2308.5h1.1v1.1h-1.1zM1241.6 2302.3h1.1v1.1h-1.1zM1251.2 2271.8h1.1v1.1h-1.1zM1242.4 2317.3h1.1v1.1h-1.1zM1297.3 2246.3h1.1v1.1h-1.1zM1239.4 2294h1.1v1.1h-1.1zM1209.9 2273.1h1.1v1.1h-1.1zM1289.1 2264.9h1.1v1.1h-1.1zM1280.6 2317.5h1.1v1.1h-1.1zM1263.2 2281.6h1.1v1.1h-1.1zM1275 2255.8h1.1v1.1h-1.1zM1276.7 2282.2h1.1v1.1h-1.1zM1285.3 2274.4h1.1v1.1h-1.1zM1307.1 2268.8h1.1v1.1h-1.1zM1292.3 2282.3h1.1v1.1h-1.1zM1238.6 2278.2h1.1v1.1h-1.1zM1273.5 2305.3h1.1v1.1h-1.1zM1240.3 2312.1h1.1v1.1h-1.1zM1241.5 2288.3h1.1v1.1h-1.1zM1220.8 2267.9h1.1v1.1h-1.1zM1292.2 2250.9h1.1v1.1h-1.1zM1265.2 2282.7h1.1v1.1h-1.1zM1220.3 2356.6h1.1v1.1h-1.1zM1299.6 2250h1.1v1.1h-1.1zM1279.3 2288.1h1.1v1.1h-1.1zM1291.2 2285.3h1.1v1.1h-1.1zM1277.1 2266h1.1v1.1h-1.1zM1260.4 2252.7h1.1v1.1h-1.1zM1277.7 2302.7h1.1v1.1h-1.1zM1302.4 2264.1h1.1v1.1h-1.1zM1274.7 2259.5h1.1v1.1h-1.1zM1281.4 2263.7h1.1v1.1h-1.1zM1260.9 2320.7h1.1v1.1h-1.1zM1270.2 2285.3h1.1v1.1h-1.1zM1238.4 2304.5h1.1v1.1h-1.1zM1279.9 2284.6h1.1v1.1h-1.1zM1282.3 2279.7h1.1v1.1h-1.1zM1301.2 2285.4h1.1v1.1h-1.1zM1276.9 2247.4h1.1v1.1h-1.1zM1286.7 2299.9h1.1v1.1h-1.1zM1282.1 2260.1h1.1v1.1h-1.1zM1263.2 2280.5h1.1v1.1h-1.1zM1241.6 2245h1.1v1.1h-1.1zM1209.9 2311.9h1.1v1.1h-1.1zM1218 2292.9h1.1v1.1h-1.1zM1243.3 2301.9h1.1v1.1h-1.1zM1279 2306.8h1.1v1.1h-1.1zM1262.1 2276.9h1.1v1.1h-1.1zM1258.9 2280.5h1.1v1.1h-1.1zM1224.8 2280h1.1v1.1h-1.1zM1283.7 2245.5h1.1v1.1h-1.1zM1227.4 2278.2h1.1v1.1h-1.1zM1229.4 2272.7h1.1v1.1h-1.1zM1221.4 2268h1.1v1.1h-1.1zM1257 2344.2h1.1v1.1h-1.1zM1271.4 2284.7h1.1v1.1h-1.1zM1298.1 2265.7h1.1v1.1h-1.1zM1266.6 2269.1h1.1v1.1h-1.1zM1274.3 2251.9h1.1v1.1h-1.1zM1250.6 2279.3h1.1v1.1h-1.1zM1289.9 2259.7h1.1v1.1h-1.1zM1286.7 2303.8h1.1v1.1h-1.1zM1302.7 2262.1h1.1v1.1h-1.1zM1265.1 2269.4h1.1v1.1h-1.1zM1276 2295.8h1.1v1.1h-1.1zM1294.3 2295h1.1v1.1h-1.1zM1260.7 2256.5h1.1v1.1h-1.1zM1219.1 2261.6h1.1v1.1h-1.1zM1261.8 2259.2h1.1v1.1h-1.1zM1271.1 2265.5h1.1v1.1h-1.1zM1264 2272h1.1v1.1h-1.1zM1266.4 2292.9h1.1v1.1h-1.1zM1252 2287.4h1.1v1.1h-1.1zM1248.8 2284.7h1.1v1.1h-1.1zM1237.8 2275.1h1.1v1.1h-1.1zM1267.4 2294.6h1.1v1.1h-1.1zM1256.4 2270.4h1.1v1.1h-1.1zM1267.1 2336.2h1.1v1.1h-1.1zM1276.5 2241h1.1v1.1h-1.1zM1215.6 2281.5h1.1v1.1h-1.1zM1264.4 2236h1.1v1.1h-1.1zM1250.7 2264.2h1.1v1.1h-1.1zM1251.9 2264.2h1.1v1.1h-1.1zM1258.9 2284.6h1.1v1.1h-1.1zM1301.7 2287h1.1v1.1h-1.1zM1277.3 2278.4h1.1v1.1h-1.1zM1278.1 2227.6h1.1v1.1h-1.1zM1300.8 2243.5h1.1v1.1h-1.1zM1273.6 2312h1.1v1.1h-1.1zM1254.9 2289.2h1.1v1.1h-1.1zM1298.5 2287.2h1.1v1.1h-1.1zM1246.8 2314.6h1.1v1.1h-1.1zM1270.3 2272.3h1.1v1.1h-1.1zM1332.3 2291.9h1.1v1.1h-1.1zM1290.5 2279h1.1v1.1h-1.1zM1244.3 2291.9h1.1v1.1h-1.1zM1260.3 2297.4h1.1v1.1h-1.1zM1261.6 2265.8h1.1v1.1h-1.1zM1245.1 2267.4h1.1v1.1h-1.1zM1255.4 2289.6h1.1v1.1h-1.1zM1266.4 2277.6h1.1v1.1h-1.1zM1265.9 2277.1h1.1v1.1h-1.1zM1256.9 2309.8h1.1v1.1h-1.1zM1244 2285.1h1.1v1.1h-1.1zM1285.9 2264h1.1v1.1h-1.1zM1294.7 2303.1h1.1v1.1h-1.1zM1231.6 2277.1h1.1v1.1h-1.1zM1302.2 2233.7h1.1v1.1h-1.1zM1276.6 2329.7h1.1v1.1h-1.1zM1268 2273.3h1.1v1.1h-1.1zM1216.7 2318.1h1.1v1.1h-1.1zM1255.4 2305.1h1.1v1.1h-1.1zM1223.3 2321.9h1.1v1.1h-1.1zM1300.1 2255.7h1.1v1.1h-1.1zM1215.8 2254h1.1v1.1h-1.1zM1245.2 2280.6h1.1v1.1h-1.1zM1224.6 2278.3h1.1v1.1h-1.1zM1310.5 2280.1h1.1v1.1h-1.1zM1229 2289.6h1.1v1.1h-1.1zM1230.3 2279.1h1.1v1.1h-1.1zM1279.2 2283.2h1.1v1.1h-1.1zM1285.3 2265.4h1.1v1.1h-1.1zM1289.8 2299.1h1.1v1.1h-1.1zM1279.2 2278.7h1.1v1.1h-1.1zM1222 2312.3h1.1v1.1h-1.1zM1257.6 2289.2h1.1v1.1h-1.1zM1283.6 2250.4h1.1v1.1h-1.1zM1285.9 2240h1.1v1.1h-1.1zM1285.4 2234.9h1.1v1.1h-1.1zM1236.1 2248.7h1.1v1.1h-1.1zM1202.6 2265.9h1.1v1.1h-1.1zM1272.8 2266.9h1.1v1.1h-1.1zM1214.6 2333.5h1.1v1.1h-1.1zM1233.3 2272.8h1.1v1.1h-1.1zM1259.6 2292.5h1.1v1.1h-1.1zM1263.3 2285.1h1.1v1.1h-1.1zM1291.4 2287.4h1.1v1.1h-1.1zM1241.4 2315.9h1.1v1.1h-1.1zM1219.2 2294h1.1v1.1h-1.1zM1217.4 2300.7h1.1v1.1h-1.1zM1293.6 2265.4h1.1v1.1h-1.1zM1291.7 2242.1h1.1v1.1h-1.1zM1262.6 2217.9h1.1v1.1h-1.1zM1293.2 2286.5h1.1v1.1h-1.1zM1271.9 2259.5h1.1v1.1h-1.1zM1249.3 2293.2h1.1v1.1h-1.1zM1323.8 2260.3h1.1v1.1h-1.1zM1237.2 2255.6h1.1v1.1h-1.1zM1277.1 2249.4h1.1v1.1h-1.1zM1266 2239.2h1.1v1.1h-1.1zM1244.4 2307.9h1.1v1.1h-1.1zM1286.6 2293.5h1.1v1.1h-1.1zM1265.2 2275.6h1.1v1.1h-1.1zM1276.5 2266h1.1v1.1h-1.1zM1245.3 2297.7h1.1v1.1h-1.1zM1300.5 2261.1h1.1v1.1h-1.1zM1288 2289.3h1.1v1.1h-1.1zM1264.2 2255.4h1.1v1.1h-1.1zM1264.4 2295.4h1.1v1.1h-1.1zM1309.5 2250.5h1.1v1.1h-1.1zM1246.6 2299.7h1.1v1.1h-1.1zM1249.2 2260.2h1.1v1.1h-1.1zM1308.6 2318.2h1.1v1.1h-1.1zM1254.4 2304.7h1.1v1.1h-1.1zM1287 2260h1.1v1.1h-1.1zM1228 2324.2h1.1v1.1h-1.1zM1246 2280.5h1.1v1.1h-1.1zM1274.6 2277.2h1.1v1.1h-1.1zM1306.6 2284.5h1.1v1.1h-1.1zM1257.4 2313.5h1.1v1.1h-1.1zM1267.5 2288h1.1v1.1h-1.1zM1297 2251.3h1.1v1.1h-1.1zM1234.3 2270.3h1.1v1.1h-1.1zM1313.8 2257.5h1.1v1.1h-1.1zM1269 2263.5h1.1v1.1h-1.1zM1273.9 2216.9h1.1v1.1h-1.1zM1316.3 2294.8h1.1v1.1h-1.1zM1308.2 2258.9h1.1v1.1h-1.1zM1276.4 2270.1h1.1v1.1h-1.1zM1261.6 2286.7h1.1v1.1h-1.1zM1256.5 2287.1h1.1v1.1h-1.1zM1250.6 2295h1.1v1.1h-1.1zM1297.1 2294.8h1.1v1.1h-1.1zM1274.1 2290.9h1.1v1.1h-1.1zM1273.2 2302.3h1.1v1.1h-1.1zM1234.6 2273.8h1.1v1.1h-1.1zM1223.5 2295.7h1.1v1.1h-1.1zM1281.6 2311.1h1.1v1.1h-1.1zM1276.8 2277h1.1v1.1h-1.1zM1226.3 2297.7h1.1v1.1h-1.1zM1293.8 2338.8h1.1v1.1h-1.1zM1313.6 2275.8h1.1v1.1h-1.1zM1230.1 2300.8h1.1v1.1h-1.1zM1259.9 2290.9h1.1v1.1h-1.1zM1240.6 2318.5h1.1v1.1h-1.1zM1236.9 2252.6h1.1v1.1h-1.1zM1272.3 2308.5h1.1v1.1h-1.1zM1293.2 2279.2h1.1v1.1h-1.1zM1241.4 2326.4h1.1v1.1h-1.1zM1273.6 2279.9h1.1v1.1h-1.1zM1218.4 2285.3h1.1v1.1h-1.1zM1305.8 2267h1.1v1.1h-1.1zM1313.9 2286.6h1.1v1.1h-1.1zM1247.6 2281.9h1.1v1.1h-1.1zM1252.2 2330.7h1.1v1.1h-1.1zM1269.7 2275.6h1.1v1.1h-1.1zM1257.5 2294.2h1.1v1.1h-1.1zM1312 2226.9h1.1v1.1h-1.1zM1239.2 2330.7h1.1v1.1h-1.1zM1291.5 2315.1h1.1v1.1h-1.1zM1284.2 2288.3h1.1v1.1h-1.1zM1223.5 2308.2h1.1v1.1h-1.1zM1255.4 2292.4h1.1v1.1h-1.1zM1279.9 2273h1.1v1.1h-1.1zM1278.2 2311.7h1.1v1.1h-1.1zM1313 2300h1.1v1.1h-1.1zM1243.4 2280.2h1.1v1.1h-1.1zM1213.1 2300.9h1.1v1.1h-1.1zM1284.4 2308.2h1.1v1.1h-1.1zM1217.3 2280.6h1.1v1.1h-1.1zM1256.4 2280.5h1.1v1.1h-1.1zM1268.1 2264.4h1.1v1.1h-1.1zM1251.5 2284h1.1v1.1h-1.1zM1249.5 2242.8h1.1v1.1h-1.1zM1256.8 2247.1h1.1v1.1h-1.1zM1280.1 2250.9h1.1v1.1h-1.1zM1267.3 2261.6h1.1v1.1h-1.1zM1283.7 2282h1.1v1.1h-1.1zM1247 2326.2h1.1v1.1h-1.1zM1255.9 2265.5h1.1v1.1h-1.1zM1241.9 2240.7h1.1v1.1h-1.1zM1250.9 2321.1h1.1v1.1h-1.1zM1272.6 2303.3h1.1v1.1h-1.1zM1282.4 2291.7h1.1v1.1h-1.1zM1291.8 2273.2h1.1v1.1h-1.1zM1260.6 2268.2h1.1v1.1h-1.1zM1306 2308.1h1.1v1.1h-1.1zM1263.7 2300.7h1.1v1.1h-1.1zM1271.3 2283.4h1.1v1.1h-1.1zM1275.4 2240.9h1.1v1.1h-1.1zM1305 2235.4h1.1v1.1h-1.1zM1201.2 2286.4h1.1v1.1h-1.1zM1287.5 2309.4h1.1v1.1h-1.1zM1262.5 2268.9h1.1v1.1h-1.1zM1301.6 2214.7h1.1v1.1h-1.1zM1276.2 2289.6h1.1v1.1h-1.1zM1282.4 2279h1.1v1.1h-1.1zM1263.8 2326.2h1.1v1.1h-1.1zM1278 2291.4h1.1v1.1h-1.1zM1224.1 2269.1h1.1v1.1h-1.1zM1306.2 2248.8h1.1v1.1h-1.1zM1245.4 2276.1h1.1v1.1h-1.1zM1258.2 2289.6h1.1v1.1h-1.1zM1263.8 2283.7h1.1v1.1h-1.1zM1247.7 2261.8h1.1v1.1h-1.1zM1281 2286.2h1.1v1.1h-1.1zM1242.7 2288.6h1.1v1.1h-1.1zM1248.5 2257.8h1.1v1.1h-1.1zM1259.4 2272.5h1.1v1.1h-1.1zM1312.9 2307.7h1.1v1.1h-1.1zM1245.9 2268.3h1.1v1.1h-1.1zM1272.9 2275.3h1.1v1.1h-1.1zM1250.9 2284.6h1.1v1.1h-1.1zM1268.3 2297.4h1.1v1.1h-1.1zM1262 2290.5h1.1v1.1h-1.1zM1299.2 2292.4h1.1v1.1h-1.1zM1292.3 2288.2h1.1v1.1h-1.1zM1300.5 2244.1h1.1v1.1h-1.1zM1308.9 2272.5h1.1v1.1h-1.1zM1231.4 2292.6h1.1v1.1h-1.1zM1248.4 2227.1h1.1v1.1h-1.1zM1257.4 2329.1h1.1v1.1h-1.1zM1290.6 2295.4h1.1v1.1h-1.1zM1278.7 2237.1h1.1v1.1h-1.1zM1261.8 2333.9h1.1v1.1h-1.1zM1208.2 2299.8h1.1v1.1h-1.1zM1258.5 2257.8h1.1v1.1h-1.1zM1263.7 2295.3h1.1v1.1h-1.1zM1269.3 2268.6h1.1v1.1h-1.1zM1288 2274.7h1.1v1.1h-1.1zM1283.7 2282.1h1.1v1.1h-1.1zM1246.4 2273.6h1.1v1.1h-1.1zM1268 2257.2h1.1v1.1h-1.1zM1274.4 2234.4h1.1v1.1h-1.1zM1280.9 2305.7h1.1v1.1h-1.1zM1250.9 2277.9h1.1v1.1h-1.1zM1316.8 2251.7h1.1v1.1h-1.1zM1280.7 2270.5h1.1v1.1h-1.1zM1314.7 2280.7h1.1v1.1h-1.1z" fill="#107a47" opacity="0.9"/>
<path d="M1297.7 2301h1.1v1.1h-1.1zM1268.2 2324.7h1.1v1.1h-1.1zM1248.9 2315.9h1.1v1.1h-1.1zM1254.7 2329.2h1.1v1.1h-1.1zM1269.2 2360.4h1.1v1.1h-1.1zM1266.2 2362.3h1.1v1.1h-1.1zM1269.7 2333.8h1.1v1.1h-1.1zM1258.8 2303.6h1.1v1.1h-1.1zM1237 2328.4h1.1v1.1h-1.1zM1259.5 2339.5h1.1v1.1h-1.1zM1267.4 2295.5h1.1v1.1h-1.1zM1250.8 2299.3h1.1v1.1h-1.1zM1277.9 2327.1h1.1v1.1h-1.1zM1263.9 2305.2h1.1v1.1h-1.1zM1241.8 2314h1.1v1.1h-1.1zM1260.3 2342.9h1.1v1.1h-1.1zM1237.9 2339.2h1.1v1.1h-1.1zM1248.3 2315.6h1.1v1.1h-1.1zM1256.7 2318.2h1.1v1.1h-1.1zM1269.1 2354.3h1.1v1.1h-1.1zM1267.2 2315.1h1.1v1.1h-1.1zM1268.5 2340.4h1.1v1.1h-1.1zM1275.5 2337.4h1.1v1.1h-1.1zM1236.4 2309.1h1.1v1.1h-1.1zM1255.5 2355.5h1.1v1.1h-1.1zM1259.7 2355.2h1.1v1.1h-1.1zM1266.5 2297.2h1.1v1.1h-1.1zM1262.6 2345.3h1.1v1.1h-1.1zM1268.3 2289.1h1.1v1.1h-1.1zM1268.6 2313.8h1.1v1.1h-1.1zM1228.6 2314.3h1.1v1.1h-1.1zM1230.8 2294.9h1.1v1.1h-1.1zM1284.6 2398h1.1v1.1h-1.1zM1278.6 2342h1.1v1.1h-1.1zM1291.8 2339.5h1.1v1.1h-1.1zM1246.4 2262.3h1.1v1.1h-1.1zM1276.2 2267.8h1.1v1.1h-1.1zM1216.7 2312h1.1v1.1h-1.1zM1262.9 2306.2h1.1v1.1h-1.1zM1278.4 2327.6h1.1v1.1h-1.1zM1265.2 2342.4h1.1v1.1h-1.1zM1252.7 2335.9h1.1v1.1h-1.1zM1298.9 2304.2h1.1v1.1h-1.1zM1264.6 2344.8h1.1v1.1h-1.1zM1253.4 2328.9h1.1v1.1h-1.1zM1234.8 2318.1h1.1v1.1h-1.1zM1262.7 2361.3h1.1v1.1h-1.1zM1277.1 2314.3h1.1v1.1h-1.1zM1244.4 2381.4h1.1v1.1h-1.1zM1276.3 2277.2h1.1v1.1h-1.1zM1256.7 2305.3h1.1v1.1h-1.1zM1252.4 2282.6h1.1v1.1h-1.1zM1255.4 2316.1h1.1v1.1h-1.1zM1258.4 2359.6h1.1v1.1h-1.1zM1265.8 2296.6h1.1v1.1h-1.1zM1234.5 2315.8h1.1v1.1h-1.1zM1280.6 2356.9h1.1v1.1h-1.1zM1252.9 2363.1h1.1v1.1h-1.1zM1269.2 2313.8h1.1v1.1h-1.1zM1269.2 2328.6h1.1v1.1h-1.1zM1244.5 2318.7h1.1v1.1h-1.1zM1264.9 2367.8h1.1v1.1h-1.1zM1245.8 2337.6h1.1v1.1h-1.1zM1262.7 2329.6h1.1v1.1h-1.1zM1242.9 2366.3h1.1v1.1h-1.1zM1283.2 2375.8h1.1v1.1h-1.1zM1270 2372.5h1.1v1.1h-1.1zM1271.1 2359.1h1.1v1.1h-1.1zM1257.2 2337.4h1.1v1.1h-1.1zM1257.3 2301.6h1.1v1.1h-1.1zM1255.6 2299.7h1.1v1.1h-1.1zM1244.6 2320.2h1.1v1.1h-1.1zM1252.9 2389.2h1.1v1.1h-1.1zM1291 2361.6h1.1v1.1h-1.1zM1275.3 2307.1h1.1v1.1h-1.1zM1267 2290.7h1.1v1.1h-1.1zM1252.5 2317.7h1.1v1.1h-1.1zM1256.7 2355.5h1.1v1.1h-1.1zM1254.4 2355.3h1.1v1.1h-1.1zM1237.2 2357h1.1v1.1h-1.1zM1242.9 2337h1.1v1.1h-1.1zM1262.6 2354.6h1.1v1.1h-1.1zM1272.5 2342.4h1.1v1.1h-1.1zM1260.3 2386.6h1.1v1.1h-1.1zM1255.3 2331.8h1.1v1.1h-1.1zM1255.1 2335.3h1.1v1.1h-1.1zM1247.2 2319.8h1.1v1.1h-1.1zM1270.8 2315.1h1.1v1.1h-1.1zM1270.1 2315h1.1v1.1h-1.1zM1285.6 2327.7h1.1v1.1h-1.1zM1291 2345.5h1.1v1.1h-1.1zM1260.6 2358.2h1.1v1.1h-1.1zM1281.5 2374.5h1.1v1.1h-1.1zM1285.1 2356.7h1.1v1.1h-1.1zM1243.9 2357.7h1.1v1.1h-1.1zM1261.3 2342.9h1.1v1.1h-1.1zM1283.1 2311.3h1.1v1.1h-1.1zM1271.6 2322.6h1.1v1.1h-1.1zM1284.8 2336.6h1.1v1.1h-1.1zM1279.7 2366.9h1.1v1.1h-1.1zM1238.3 2340.5h1.1v1.1h-1.1zM1238.1 2311.6h1.1v1.1h-1.1zM1272.5 2297.7h1.1v1.1h-1.1zM1251 2318.5h1.1v1.1h-1.1zM1267.7 2341.2h1.1v1.1h-1.1zM1269.8 2317.1h1.1v1.1h-1.1zM1250.5 2342.9h1.1v1.1h-1.1zM1248.6 2308.4h1.1v1.1h-1.1zM1273.8 2308.8h1.1v1.1h-1.1zM1248 2363h1.1v1.1h-1.1zM1261.8 2268.2h1.1v1.1h-1.1zM1250.4 2386.1h1.1v1.1h-1.1zM1308.2 2322.7h1.1v1.1h-1.1zM1273.8 2351.9h1.1v1.1h-1.1zM1267.5 2279.8h1.1v1.1h-1.1zM1278.6 2338.9h1.1v1.1h-1.1zM1258.6 2285.4h1.1v1.1h-1.1zM1252.3 2327.8h1.1v1.1h-1.1zM1258.4 2337.4h1.1v1.1h-1.1zM1256.2 2359.1h1.1v1.1h-1.1zM1272.4 2298.5h1.1v1.1h-1.1zM1252.7 2342.8h1.1v1.1h-1.1zM1253.5 2370.3h1.1v1.1h-1.1zM1253.7 2337.8h1.1v1.1h-1.1zM1272.1 2299h1.1v1.1h-1.1zM1282.4 2325h1.1v1.1h-1.1zM1250.9 2311.3h1.1v1.1h-1.1zM1235.1 2292.5h1.1v1.1h-1.1zM1286.4 2327.2h1.1v1.1h-1.1zM1257.8 2336.3h1.1v1.1h-1.1zM1271.6 2308.5h1.1v1.1h-1.1zM1258.9 2338.5h1.1v1.1h-1.1zM1278.6 2337.9h1.1v1.1h-1.1zM1289 2324.7h1.1v1.1h-1.1zM1256.9 2291.8h1.1v1.1h-1.1zM1261.6 2348.8h1.1v1.1h-1.1zM1258.4 2325.9h1.1v1.1h-1.1zM1246.6 2314.3h1.1v1.1h-1.1zM1255.2 2328.2h1.1v1.1h-1.1zM1279.5 2345.1h1.1v1.1h-1.1zM1277 2363.8h1.1v1.1h-1.1zM1254.9 2368.3h1.1v1.1h-1.1zM1263 2293.8h1.1v1.1h-1.1zM1252.6 2328.3h1.1v1.1h-1.1zM1237.7 2395.4h1.1v1.1h-1.1zM1261.5 2354.7h1.1v1.1h-1.1zM1242.9 2333.5h1.1v1.1h-1.1zM1266.4 2309.3h1.1v1.1h-1.1zM1266.3 2330.6h1.1v1.1h-1.1zM1268.2 2296.8h1.1v1.1h-1.1zM1270.5 2322.6h1.1v1.1h-1.1zM1248.5 2269h1.1v1.1h-1.1zM1259.1 2320.1h1.1v1.1h-1.1zM1300.2 2296.7h1.1v1.1h-1.1zM1286 2365.7h1.1v1.1h-1.1zM1268.8 2337.5h1.1v1.1h-1.1zM1270.2 2289.1h1.1v1.1h-1.1zM1284.8 2321.5h1.1v1.1h-1.1zM1250.3 2330.4h1.1v1.1h-1.1zM1218.1 2293.3h1.1v1.1h-1.1zM1243.3 2286.5h1.1v1.1h-1.1zM1271.5 2375.2h1.1v1.1h-1.1zM1262.3 2321.3h1.1v1.1h-1.1zM1267.3 2316.2h1.1v1.1h-1.1zM1264.2 2341.7h1.1v1.1h-1.1zM1258.4 2318.8h1.1v1.1h-1.1zM1263.1 2332h1.1v1.1h-1.1zM1272.9 2288h1.1v1.1h-1.1zM1244.1 2316.6h1.1v1.1h-1.1zM1269.8 2294h1.1v1.1h-1.1zM1281.3 2370.4h1.1v1.1h-1.1zM1250.1 2361.5h1.1v1.1h-1.1zM1228.5 2327.3h1.1v1.1h-1.1zM1236.1 2360.1h1.1v1.1h-1.1zM1275.4 2344.2h1.1v1.1h-1.1zM1252.5 2298.2h1.1v1.1h-1.1zM1268.4 2315.4h1.1v1.1h-1.1zM1272.5 2285h1.1v1.1h-1.1zM1268.5 2344h1.1v1.1h-1.1zM1225.2 2293.9h1.1v1.1h-1.1zM1250.2 2312.6h1.1v1.1h-1.1zM1233.9 2329.8h1.1v1.1h-1.1zM1243.3 2327.2h1.1v1.1h-1.1zM1232.1 2296.1h1.1v1.1h-1.1zM1272.5 2281.1h1.1v1.1h-1.1zM1260.8 2369.7h1.1v1.1h-1.1zM1274.3 2292.1h1.1v1.1h-1.1zM1296.9 2313.5h1.1v1.1h-1.1zM1276.3 2356h1.1v1.1h-1.1zM1256.2 2346.8h1.1v1.1h-1.1zM1217.1 2331.6h1.1v1.1h-1.1zM1263.8 2319.3h1.1v1.1h-1.1zM1263.2 2358.9h1.1v1.1h-1.1zM1276.3 2311.5h1.1v1.1h-1.1zM1273.9 2361.8h1.1v1.1h-1.1zM1263.1 2339.8h1.1v1.1h-1.1zM1222 2284.8h1.1v1.1h-1.1zM1267.2 2286.9h1.1v1.1h-1.1zM1274.8 2361.4h1.1v1.1h-1.1zM1245.4 2296.2h1.1v1.1h-1.1zM1258 2335h1.1v1.1h-1.1zM1274.3 2322.3h1.1v1.1h-1.1zM1261.7 2300.8h1.1v1.1h-1.1zM1265.6 2307h1.1v1.1h-1.1zM1277.1 2348.2h1.1v1.1h-1.1zM1234.8 2338.2h1.1v1.1h-1.1zM1243.5 2355.6h1.1v1.1h-1.1zM1244.5 2363.9h1.1v1.1h-1.1zM1278.1 2383.3h1.1v1.1h-1.1zM1266.3 2329.9h1.1v1.1h-1.1zM1280.5 2294.3h1.1v1.1h-1.1zM1260.3 2319.6h1.1v1.1h-1.1zM1260 2284.2h1.1v1.1h-1.1zM1234.1 2280.6h1.1v1.1h-1.1zM1284.4 2319h1.1v1.1h-1.1zM1270.9 2324.9h1.1v1.1h-1.1zM1257.1 2364.8h1.1v1.1h-1.1zM1223.9 2322.2h1.1v1.1h-1.1zM1248.4 2302.6h1.1v1.1h-1.1zM1235.1 2285.4h1.1v1.1h-1.1zM1241.7 2358.9h1.1v1.1h-1.1zM1249.9 2315.3h1.1v1.1h-1.1zM1258.1 2345.7h1.1v1.1h-1.1zM1277.4 2333.7h1.1v1.1h-1.1zM1261 2343h1.1v1.1h-1.1zM1248.2 2334.4h1.1v1.1h-1.1zM1287.9 2310.1h1.1v1.1h-1.1zM1247.2 2285.3h1.1v1.1h-1.1zM1261.8 2345.8h1.1v1.1h-1.1zM1254.1 2319.2h1.1v1.1h-1.1zM1279.8 2329.2h1.1v1.1h-1.1zM1272.1 2318.2h1.1v1.1h-1.1zM1281.7 2353.8h1.1v1.1h-1.1zM1258.7 2311.8h1.1v1.1h-1.1zM1301.6 2298.6h1.1v1.1h-1.1zM1245.7 2259h1.1v1.1h-1.1zM1272 2330.3h1.1v1.1h-1.1zM1259.7 2286h1.1v1.1h-1.1zM1261.3 2306.7h1.1v1.1h-1.1zM1242.5 2322h1.1v1.1h-1.1zM1266.1 2324.6h1.1v1.1h-1.1zM1253.1 2349.2h1.1v1.1h-1.1zM1265.1 2318.5h1.1v1.1h-1.1zM1270.3 2337.2h1.1v1.1h-1.1zM1275.8 2351.9h1.1v1.1h-1.1zM1273 2312.4h1.1v1.1h-1.1zM1282.2 2356.7h1.1v1.1h-1.1zM1252.7 2363.6h1.1v1.1h-1.1zM1262.7 2301.1h1.1v1.1h-1.1zM1260.7 2293.3h1.1v1.1h-1.1zM1279.2 2293.9h1.1v1.1h-1.1zM1284.6 2305h1.1v1.1h-1.1zM1259.2 2364.5h1.1v1.1h-1.1zM1266.9 2283.4h1.1v1.1h-1.1zM1259.2 2278.5h1.1v1.1h-1.1zM1272 2300.8h1.1v1.1h-1.1zM1260 2325.5h1.1v1.1h-1.1zM1237.5 2338.4h1.1v1.1h-1.1zM1289.6 2303.9h1.1v1.1h-1.1zM1252.3 2339.5h1.1v1.1h-1.1zM1280.6 2305h1.1v1.1h-1.1zM1264.6 2339.2h1.1v1.1h-1.1zM1278.1 2306.5h1.1v1.1h-1.1zM1300.5 2385.9h1.1v1.1h-1.1zM1240 2307.4h1.1v1.1h-1.1zM1267.3 2311.8h1.1v1.1h-1.1zM1253.3 2329.6h1.1v1.1h-1.1zM1250 2312.6h1.1v1.1h-1.1zM1265 2318.5h1.1v1.1h-1.1zM1267.4 2358.6h1.1v1.1h-1.1zM1279.3 2332.3h1.1v1.1h-1.1zM1294.2 2318.9h1.1v1.1h-1.1zM1275.9 2379.8h1.1v1.1h-1.1zM1264.8 2352.5h1.1v1.1h-1.1zM1254.3 2314.2h1.1v1.1h-1.1zM1265 2343.3h1.1v1.1h-1.1zM1267.6 2348.4h1.1v1.1h-1.1zM1267 2327.7h1.1v1.1h-1.1zM1252.3 2327.2h1.1v1.1h-1.1zM1262.8 2329.9h1.1v1.1h-1.1zM1244.9 2365.1h1.1v1.1h-1.1zM1279.3 2336.7h1.1v1.1h-1.1zM1254.5 2360.6h1.1v1.1h-1.1zM1258.5 2323.7h1.1v1.1h-1.1zM1271.5 2315.4h1.1v1.1h-1.1zM1264.2 2317.2h1.1v1.1h-1.1zM1271.7 2342.2h1.1v1.1h-1.1zM1273.4 2342.6h1.1v1.1h-1.1zM1267.4 2341.2h1.1v1.1h-1.1zM1274.7 2304.5h1.1v1.1h-1.1zM1243.9 2332.7h1.1v1.1h-1.1zM1264.8 2324h1.1v1.1h-1.1zM1285.7 2343.7h1.1v1.1h-1.1zM1282 2333.5h1.1v1.1h-1.1zM1241 2293.5h1.1v1.1h-1.1zM1279.2 2332.1h1.1v1.1h-1.1zM1254.9 2366h1.1v1.1h-1.1zM1289.2 2341.7h1.1v1.1h-1.1z" fill="#107a47" opacity="0.8"/>
<path d="M1262.8 2312.2h2v2h-2zM1268.3 2355.6h2v2h-2zM1285.7 2340.3h2v2h-2zM1263.4 2320.6h2v2h-2zM1256.3 2303.2h2v2h-2zM1240.1 2286h2v2h-2zM1277.3 2325.1h2v2h-2zM1276.7 2294.9h2v2h-2zM1266.3 2326.1h2v2h-2zM1272.2 2321.1h2v2h-2zM1276 2348.6h2v2h-2zM1281.6 2280.2h2v2h-2zM1245.7 2358.1h2v2h-2zM1299.1 2338.1h2v2h-2zM1258.3 2353.5h2v2h-2zM1266 2331.6h2v2h-2zM1281.9 2328.4h2v2h-2zM1239.1 2311.8h2v2h-2zM1271.7 2308.4h2v2h-2zM1268.4 2314.9h2v2h-2zM1270.8 2315.6h2v2h-2zM1275.8 2319h2v2h-2zM1247.8 2338.6h2v2h-2zM1268.1 2330.1h2v2h-2zM1241.7 2317.3h2v2h-2zM1276.7 2333.2h2v2h-2zM1246.3 2355h2v2h-2zM1269.1 2326.4h2v2h-2zM1256.7 2324.2h2v2h-2zM1270 2275.6h2v2h-2zM1258 2299h2v2h-2zM1269.1 2329.5h2v2h-2zM1263.4 2336.1h2v2h-2zM1286.6 2368.5h2v2h-2zM1245.4 2366.1h2v2h-2zM1264.6 2289.1h2v2h-2zM1281.5 2309.3h2v2h-2zM1253.9 2347.3h2v2h-2zM1260.2 2330.6h2v2h-2zM1280.4 2334.8h2v2h-2zM1225.9 2318.6h2v2h-2zM1244.2 2299.1h2v2h-2zM1244.7 2331.3h2v2h-2zM1264.5 2321.7h2v2h-2zM1277.7 2329.8h2v2h-2zM1259.1 2349.4h2v2h-2zM1270.8 2332.2h2v2h-2zM1278.6 2344.5h2v2h-2zM1265.8 2327.9h2v2h-2zM1256.8 2306.1h2v2h-2zM1295.9 2334.4h2v2h-2zM1230.1 2330.1h2v2h-2zM1252.5 2304.8h2v2h-2zM1257.9 2333.2h2v2h-2zM1277.7 2322h2v2h-2zM1260.3 2338.6h2v2h-2zM1230 2291.4h2v2h-2zM1242.3 2350.1h2v2h-2zM1257.8 2301.8h2v2h-2zM1250 2297.7h2v2h-2zM1266.8 2324.1h2v2h-2zM1269.5 2339.9h2v2h-2zM1273.4 2334.3h2v2h-2zM1254 2333.1h2v2h-2zM1261.4 2327h2v2h-2zM1282 2309.1h2v2h-2zM1270.7 2336.2h2v2h-2zM1263.4 2314.8h2v2h-2zM1262.6 2320.9h2v2h-2zM1247.8 2303.9h2v2h-2zM1238.9 2316.9h2v2h-2zM1300.8 2303.3h2v2h-2zM1278.2 2335.3h2v2h-2zM1280.2 2351.2h2v2h-2zM1265.3 2339.8h2v2h-2zM1265.3 2328.4h2v2h-2zM1262.3 2341.5h2v2h-2zM1237.4 2320.9h2v2h-2zM1260.8 2307.8h2v2h-2zM1262.1 2365.2h2v2h-2zM1259.8 2358.4h2v2h-2zM1281.1 2321.7h2v2h-2zM1258.6 2328.2h2v2h-2zM1260.5 2380.6h2v2h-2zM1267.4 2329.6h2v2h-2zM1253.4 2315.7h2v2h-2zM1254.7 2317.7h2v2h-2zM1265 2343.5h2v2h-2zM1258.2 2294h2v2h-2zM1284.7 2333.1h2v2h-2zM1264.2 2302.4h2v2h-2zM1264.9 2329h2v2h-2zM1269.4 2325.7h2v2h-2zM1267.9 2327.1h2v2h-2zM1306.5 2282.6h2v2h-2zM1265.2 2275.1h2v2h-2zM1265 2319.1h2v2h-2zM1248.5 2348.7h2v2h-2zM1254 2292.4h2v2h-2zM1260.5 2316.7h2v2h-2zM1236.1 2359.4h2v2h-2zM1257.4 2315.8h2v2h-2zM1232.7 2354.2h2v2h-2zM1262.5 2337.1h2v2h-2zM1270.6 2297.5h2v2h-2zM1252.3 2345.1h2v2h-2zM1260.8 2360.5h2v2h-2zM1257.4 2353.4h2v2h-2zM1281.1 2311.9h2v2h-2zM1258.5 2336.6h2v2h-2zM1258.6 2327.1h2v2h-2zM1265.2 2302.6h2v2h-2zM1251.9 2333.1h2v2h-2zM1258.4 2304.2h2v2h-2zM1254.1 2332.3h2v2h-2zM1267.9 2331.2h2v2h-2zM1265.5 2362.9h2v2h-2zM1258.2 2314.6h2v2h-2zM1273.9 2330.5h2v2h-2zM1258.7 2311.9h2v2h-2zM1256.2 2329.8h2v2h-2zM1267.5 2299h2v2h-2zM1223.8 2351.2h2v2h-2zM1251.8 2326.1h2v2h-2zM1249.1 2277.6h2v2h-2zM1240.6 2291.9h2v2h-2zM1251.8 2321.1h2v2h-2zM1259.7 2320.6h2v2h-2zM1279.5 2324.7h2v2h-2zM1274.6 2330.8h2v2h-2zM1243.3 2296.7h2v2h-2zM1274.7 2316.8h2v2h-2zM1276.1 2310.7h2v2h-2zM1237.7 2307.2h2v2h-2zM1259.2 2299.2h2v2h-2zM1275.7 2329h2v2h-2zM1262.5 2304.2h2v2h-2zM1290.3 2334.4h2v2h-2zM1248.1 2354.3h2v2h-2zM1255.3 2344.2h2v2h-2zM1248.9 2312.8h2v2h-2zM1279.5 2313.6h2v2h-2zM1252.2 2349.3h2v2h-2zM1263.4 2291.1h2v2h-2zM1279.9 2329.5h2v2h-2zM1275.4 2311.7h2v2h-2zM1267.2 2337.3h2v2h-2zM1238.1 2318.2h2v2h-2zM1264.4 2305.1h2v2h-2zM1274.4 2333.2h2v2h-2zM1249.3 2313h2v2h-2zM1255.4 2335.9h2v2h-2zM1255.1 2330.9h2v2h-2zM1257.8 2317.6h2v2h-2zM1282.1 2368.8h2v2h-2zM1276 2330h2v2h-2zM1256.4 2327.3h2v2h-2zM1244.2 2362.1h2v2h-2zM1264.5 2307.3h2v2h-2zM1254.3 2338.3h2v2h-2z" fill="#9cc4aa" opacity="0.8"/>
<path d="M1310.7 2238.8h1.1v1.1h-1.1zM1337.5 2341.1h1.1v1.1h-1.1zM1324.2 2304h1.1v1.1h-1.1zM1336.8 2294.4h1.1v1.1h-1.1zM1329.7 2301.5h1.1v1.1h-1.1zM1313.2 2242.4h1.1v1.1h-1.1zM1290.8 2290.4h1.1v1.1h-1.1zM1323.9 2275.2h1.1v1.1h-1.1zM1281.9 2270.7h1.1v1.1h-1.1zM1316 2254.4h1.1v1.1h-1.1zM1305.4 2322.6h1.1v1.1h-1.1zM1337.4 2293.2h1.1v1.1h-1.1zM1321.5 2266.2h1.1v1.1h-1.1zM1311.4 2291.1h1.1v1.1h-1.1zM1304.1 2271h1.1v1.1h-1.1zM1342 2247.8h1.1v1.1h-1.1zM1305 2314.8h1.1v1.1h-1.1zM1322.7 2279.8h1.1v1.1h-1.1zM1304.3 2245.1h1.1v1.1h-1.1zM1335.3 2219.6h1.1v1.1h-1.1zM1324 2263.9h1.1v1.1h-1.1zM1315.6 2230.6h1.1v1.1h-1.1zM1330.6 2289h1.1v1.1h-1.1zM1321.4 2285.2h1.1v1.1h-1.1zM1296.3 2279.8h1.1v1.1h-1.1zM1324.3 2274.3h1.1v1.1h-1.1zM1268.8 2273.6h1.1v1.1h-1.1zM1318.6 2251.5h1.1v1.1h-1.1zM1317.9 2304.2h1.1v1.1h-1.1zM1315.6 2304.7h1.1v1.1h-1.1zM1308.7 2260h1.1v1.1h-1.1zM1321 2256.5h1.1v1.1h-1.1zM1291.1 2283.3h1.1v1.1h-1.1zM1317 2288.8h1.1v1.1h-1.1zM1303.7 2266.4h1.1v1.1h-1.1zM1324.5 2265.2h1.1v1.1h-1.1zM1313.7 2281h1.1v1.1h-1.1zM1305.5 2281.3h1.1v1.1h-1.1zM1294.4 2286.8h1.1v1.1h-1.1zM1358 2290h1.1v1.1h-1.1zM1310.9 2240.5h1.1v1.1h-1.1zM1299.2 2269.7h1.1v1.1h-1.1zM1305.1 2286.8h1.1v1.1h-1.1zM1319.2 2292.7h1.1v1.1h-1.1zM1313.6 2293.4h1.1v1.1h-1.1zM1337.9 2256.3h1.1v1.1h-1.1zM1315.4 2273.1h1.1v1.1h-1.1zM1315.6 2301h1.1v1.1h-1.1zM1311.8 2256.5h1.1v1.1h-1.1zM1296.6 2243.9h1.1v1.1h-1.1zM1315.5 2295.5h1.1v1.1h-1.1zM1317.8 2258.5h1.1v1.1h-1.1zM1314.5 2256.2h1.1v1.1h-1.1zM1332.5 2278.7h1.1v1.1h-1.1zM1339.3 2290.5h1.1v1.1h-1.1zM1326.7 2255.7h1.1v1.1h-1.1zM1324.8 2267.8h1.1v1.1h-1.1zM1308.8 2280.2h1.1v1.1h-1.1zM1341.9 2287.2h1.1v1.1h-1.1zM1347.9 2291h1.1v1.1h-1.1zM1296.6 2265.2h1.1v1.1h-1.1zM1346.1 2289.4h1.1v1.1h-1.1zM1318.8 2267h1.1v1.1h-1.1zM1320.2 2286.1h1.1v1.1h-1.1zM1311.3 2275.8h1.1v1.1h-1.1zM1321.9 2253.7h1.1v1.1h-1.1zM1313.9 2261.3h1.1v1.1h-1.1zM1308.3 2257.9h1.1v1.1h-1.1zM1308.4 2259.5h1.1v1.1h-1.1zM1344 2273.5h1.1v1.1h-1.1zM1323.4 2260.1h1.1v1.1h-1.1zM1319.9 2286.8h1.1v1.1h-1.1zM1341.8 2314.5h1.1v1.1h-1.1zM1311.3 2315.6h1.1v1.1h-1.1zM1319.2 2303.6h1.1v1.1h-1.1zM1317.1 2293.1h1.1v1.1h-1.1zM1316.7 2248.6h1.1v1.1h-1.1zM1326.7 2271.1h1.1v1.1h-1.1zM1316.4 2283.1h1.1v1.1h-1.1zM1325.8 2330.7h1.1v1.1h-1.1zM1302.4 2267.1h1.1v1.1h-1.1zM1304.2 2304.4h1.1v1.1h-1.1zM1314 2265.2h1.1v1.1h-1.1zM1325.3 2279.5h1.1v1.1h-1.1zM1326.3 2246.4h1.1v1.1h-1.1zM1318.5 2290.5h1.1v1.1h-1.1zM1309.6 2304.2h1.1v1.1h-1.1zM1316.9 2261.2h1.1v1.1h-1.1zM1312.1 2288.9h1.1v1.1h-1.1zM1333.7 2267.5h1.1v1.1h-1.1zM1326.7 2270.5h1.1v1.1h-1.1zM1304.8 2256.8h1.1v1.1h-1.1zM1329.1 2268.1h1.1v1.1h-1.1zM1320.5 2312.6h1.1v1.1h-1.1zM1333 2269h1.1v1.1h-1.1zM1314.1 2283.3h1.1v1.1h-1.1zM1287.1 2291.6h1.1v1.1h-1.1zM1307.5 2293.1h1.1v1.1h-1.1zM1307.5 2270.2h1.1v1.1h-1.1zM1330.2 2291.2h1.1v1.1h-1.1zM1344.8 2267.7h1.1v1.1h-1.1zM1309.1 2309.2h1.1v1.1h-1.1zM1326.1 2253h1.1v1.1h-1.1zM1311.1 2286.2h1.1v1.1h-1.1zM1310.9 2246.8h1.1v1.1h-1.1zM1318.7 2286.8h1.1v1.1h-1.1zM1336.8 2300.7h1.1v1.1h-1.1zM1329.7 2260.1h1.1v1.1h-1.1zM1300.2 2255.9h1.1v1.1h-1.1zM1326.4 2296.2h1.1v1.1h-1.1zM1290.2 2288.9h1.1v1.1h-1.1zM1331 2309.2h1.1v1.1h-1.1zM1329 2297.4h1.1v1.1h-1.1zM1321.3 2271h1.1v1.1h-1.1zM1315.7 2276.2h1.1v1.1h-1.1zM1300.9 2274.7h1.1v1.1h-1.1zM1332.6 2270.2h1.1v1.1h-1.1zM1336.1 2258.6h1.1v1.1h-1.1zM1324.1 2260.4h1.1v1.1h-1.1zM1333.4 2292.1h1.1v1.1h-1.1zM1331.9 2294.2h1.1v1.1h-1.1zM1325.2 2300.6h1.1v1.1h-1.1zM1320.6 2225.2h1.1v1.1h-1.1zM1319.6 2287.8h1.1v1.1h-1.1zM1283.8 2301.7h1.1v1.1h-1.1zM1316.5 2298.7h1.1v1.1h-1.1zM1313.3 2280.9h1.1v1.1h-1.1zM1305.4 2271.8h1.1v1.1h-1.1zM1294.4 2282.1h1.1v1.1h-1.1zM1311.8 2263h1.1v1.1h-1.1zM1306.6 2256.2h1.1v1.1h-1.1zM1317.1 2274.4h1.1v1.1h-1.1zM1313 2305.3h1.1v1.1h-1.1zM1301.5 2267.6h1.1v1.1h-1.1zM1297.9 2270.9h1.1v1.1h-1.1zM1314.7 2238.2h1.1v1.1h-1.1zM1322.4 2233.1h1.1v1.1h-1.1zM1309.4 2270.4h1.1v1.1h-1.1zM1298 2305.1h1.1v1.1h-1.1zM1319.7 2248.5h1.1v1.1h-1.1zM1322.8 2284.5h1.1v1.1h-1.1zM1308.8 2258.6h1.1v1.1h-1.1zM1331.1 2325.1h1.1v1.1h-1.1zM1320.7 2321.4h1.1v1.1h-1.1zM1291.8 2241.5h1.1v1.1h-1.1zM1318.5 2262.8h1.1v1.1h-1.1zM1320.9 2315.5h1.1v1.1h-1.1zM1301.8 2285.5h1.1v1.1h-1.1zM1316.7 2248.8h1.1v1.1h-1.1zM1313.7 2252.2h1.1v1.1h-1.1zM1313.4 2307.6h1.1v1.1h-1.1zM1332.8 2298.9h1.1v1.1h-1.1zM1319.2 2265.4h1.1v1.1h-1.1zM1348 2276.7h1.1v1.1h-1.1zM1323.7 2298.7h1.1v1.1h-1.1zM1315.1 2286.5h1.1v1.1h-1.1zM1316.7 2283.8h1.1v1.1h-1.1zM1330.7 2247.8h1.1v1.1h-1.1zM1318.6 2265h1.1v1.1h-1.1zM1314.2 2284.1h1.1v1.1h-1.1zM1339.2 2231.8h1.1v1.1h-1.1zM1342.5 2263.8h1.1v1.1h-1.1zM1304.5 2260.7h1.1v1.1h-1.1zM1319.7 2279.4h1.1v1.1h-1.1zM1290.8 2241.2h1.1v1.1h-1.1zM1331.5 2273.5h1.1v1.1h-1.1zM1288.4 2270.4h1.1v1.1h-1.1zM1312.3 2307.9h1.1v1.1h-1.1zM1304.9 2263.5h1.1v1.1h-1.1zM1310.7 2283.5h1.1v1.1h-1.1zM1324.1 2289.4h1.1v1.1h-1.1zM1342.8 2273.3h1.1v1.1h-1.1zM1340.5 2277.8h1.1v1.1h-1.1zM1328.6 2296.3h1.1v1.1h-1.1zM1343.7 2255.2h1.1v1.1h-1.1zM1350.3 2235h1.1v1.1h-1.1zM1314.6 2272.3h1.1v1.1h-1.1zM1316.5 2305.7h1.1v1.1h-1.1zM1291.5 2251h1.1v1.1h-1.1zM1331 2312.6h1.1v1.1h-1.1zM1300.4 2263.4h1.1v1.1h-1.1zM1326.5 2288.9h1.1v1.1h-1.1zM1293.6 2273h1.1v1.1h-1.1zM1308.5 2250.1h1.1v1.1h-1.1zM1313.8 2257.9h1.1v1.1h-1.1zM1297.2 2323.5h1.1v1.1h-1.1zM1308.4 2253.5h1.1v1.1h-1.1zM1344.4 2267.5h1.1v1.1h-1.1zM1310 2221.5h1.1v1.1h-1.1zM1293.2 2306.3h1.1v1.1h-1.1zM1303.9 2266.2h1.1v1.1h-1.1zM1313.4 2279.7h1.1v1.1h-1.1zM1345.6 2240.8h1.1v1.1h-1.1zM1292.6 2309.7h1.1v1.1h-1.1zM1327.6 2292.3h1.1v1.1h-1.1zM1336.8 2274.7h1.1v1.1h-1.1zM1328 2299.7h1.1v1.1h-1.1zM1339.1 2281.2h1.1v1.1h-1.1zM1299.8 2261h1.1v1.1h-1.1zM1314.1 2268h1.1v1.1h-1.1zM1334.6 2253.1h1.1v1.1h-1.1zM1324.9 2267h1.1v1.1h-1.1zM1320.1 2307.7h1.1v1.1h-1.1zM1333 2263.8h1.1v1.1h-1.1zM1317.7 2297.6h1.1v1.1h-1.1zM1317.9 2298.9h1.1v1.1h-1.1zM1337.4 2268.3h1.1v1.1h-1.1zM1326.1 2318.5h1.1v1.1h-1.1zM1327.2 2261.8h1.1v1.1h-1.1zM1337.8 2276.2h1.1v1.1h-1.1zM1313.7 2285.3h1.1v1.1h-1.1zM1328.9 2265h1.1v1.1h-1.1zM1322.9 2290h1.1v1.1h-1.1zM1330 2275.5h1.1v1.1h-1.1zM1306.5 2278.7h1.1v1.1h-1.1zM1323.5 2281.2h1.1v1.1h-1.1zM1331.4 2284h1.1v1.1h-1.1zM1297.2 2289.1h1.1v1.1h-1.1zM1331.3 2240.7h1.1v1.1h-1.1zM1328.4 2295.7h1.1v1.1h-1.1zM1324.3 2289.1h1.1v1.1h-1.1zM1306.4 2289h1.1v1.1h-1.1zM1325.2 2258.5h1.1v1.1h-1.1zM1327.2 2298.9h1.1v1.1h-1.1zM1315.1 2319.4h1.1v1.1h-1.1zM1323.3 2283.3h1.1v1.1h-1.1zM1327.8 2282.7h1.1v1.1h-1.1zM1318.2 2268h1.1v1.1h-1.1zM1293.8 2249.1h1.1v1.1h-1.1zM1319.7 2308.8h1.1v1.1h-1.1zM1311 2225.3h1.1v1.1h-1.1zM1328.8 2253.5h1.1v1.1h-1.1zM1305 2284.7h1.1v1.1h-1.1zM1320.3 2280.6h1.1v1.1h-1.1zM1309.9 2263.2h1.1v1.1h-1.1zM1325.8 2295h1.1v1.1h-1.1zM1329.2 2298.5h1.1v1.1h-1.1zM1329.9 2270.2h1.1v1.1h-1.1zM1325.3 2278.5h1.1v1.1h-1.1zM1305.8 2314.7h1.1v1.1h-1.1zM1335 2266.8h1.1v1.1h-1.1zM1312 2281.4h1.1v1.1h-1.1zM1318.6 2272.2h1.1v1.1h-1.1zM1315.5 2308.4h1.1v1.1h-1.1zM1313.9 2264h1.1v1.1h-1.1zM1337.3 2274.1h1.1v1.1h-1.1zM1313.2 2262.5h1.1v1.1h-1.1zM1317.9 2271.6h1.1v1.1h-1.1zM1314.7 2273.6h1.1v1.1h-1.1zM1321.3 2250h1.1v1.1h-1.1z" fill="#107a47" opacity="0.9"/>
<path d="M1321.1 2247.7h1.1v1.1h-1.1zM1331.3 2206h1.1v1.1h-1.1zM1335.9 2195.7h1.1v1.1h-1.1zM1366.7 2200.7h1.1v1.1h-1.1zM1336.6 2225.1h1.1v1.1h-1.1zM1319.6 2233.1h1.1v1.1h-1.1zM1352.8 2217.2h1.1v1.1h-1.1zM1330.6 2199.2h1.1v1.1h-1.1zM1325.6 2197.8h1.1v1.1h-1.1zM1330.2 2207.1h1.1v1.1h-1.1zM1327.8 2231.5h1.1v1.1h-1.1zM1370.8 2213.5h1.1v1.1h-1.1zM1324.1 2214.8h1.1v1.1h-1.1zM1315 2218.5h1.1v1.1h-1.1zM1337.6 2219.5h1.1v1.1h-1.1zM1326.4 2220.1h1.1v1.1h-1.1zM1312.6 2220.9h1.1v1.1h-1.1zM1360.2 2218.2h1.1v1.1h-1.1zM1339.5 2211.9h1.1v1.1h-1.1zM1329.6 2206.2h1.1v1.1h-1.1zM1320.1 2232.4h1.1v1.1h-1.1zM1320 2230.4h1.1v1.1h-1.1zM1315.3 2225.9h1.1v1.1h-1.1zM1358 2206.8h1.1v1.1h-1.1zM1332 2219.5h1.1v1.1h-1.1zM1317.9 2240.5h1.1v1.1h-1.1zM1314.6 2214.2h1.1v1.1h-1.1zM1322.2 2223.1h1.1v1.1h-1.1zM1316.9 2215.3h1.1v1.1h-1.1zM1338.5 2213.4h1.1v1.1h-1.1zM1353.5 2212.9h1.1v1.1h-1.1zM1338.4 2192.3h1.1v1.1h-1.1zM1336.1 2220.6h1.1v1.1h-1.1zM1340.5 2204.1h1.1v1.1h-1.1zM1347.5 2221.8h1.1v1.1h-1.1zM1312.3 2215.1h1.1v1.1h-1.1zM1321.8 2225.9h1.1v1.1h-1.1zM1316.4 2226.2h1.1v1.1h-1.1zM1317.2 2209.3h1.1v1.1h-1.1zM1324.4 2256.8h1.1v1.1h-1.1zM1355.5 2215.3h1.1v1.1h-1.1zM1316.7 2239.7h1.1v1.1h-1.1zM1316.9 2205.5h1.1v1.1h-1.1zM1319.9 2215.9h1.1v1.1h-1.1zM1353.4 2202.3h1.1v1.1h-1.1zM1333.9 2221.1h1.1v1.1h-1.1zM1328 2197.9h1.1v1.1h-1.1zM1348 2207.4h1.1v1.1h-1.1zM1356.9 2224.5h1.1v1.1h-1.1zM1344 2243.6h1.1v1.1h-1.1zM1324.6 2215.7h1.1v1.1h-1.1zM1312.4 2250.8h1.1v1.1h-1.1zM1324.2 2211.4h1.1v1.1h-1.1zM1327.9 2226.9h1.1v1.1h-1.1zM1350.8 2213.4h1.1v1.1h-1.1zM1322.6 2210.9h1.1v1.1h-1.1zM1301.2 2226.2h1.1v1.1h-1.1zM1334 2207.2h1.1v1.1h-1.1zM1363.8 2208.3h1.1v1.1h-1.1zM1330.9 2223.9h1.1v1.1h-1.1zM1328.1 2205.6h1.1v1.1h-1.1zM1315.4 2202.5h1.1v1.1h-1.1zM1334.7 2229.8h1.1v1.1h-1.1zM1337.9 2238.5h1.1v1.1h-1.1zM1334.2 2225.6h1.1v1.1h-1.1zM1332.5 2204.4h1.1v1.1h-1.1zM1319.5 2230.9h1.1v1.1h-1.1zM1341.5 2208.3h1.1v1.1h-1.1zM1308.1 2186.7h1.1v1.1h-1.1zM1329.6 2231.6h1.1v1.1h-1.1zM1347.8 2210.1h1.1v1.1h-1.1zM1327.5 2232.3h1.1v1.1h-1.1zM1333.4 2226.9h1.1v1.1h-1.1zM1343.3 2192.5h1.1v1.1h-1.1zM1329.6 2221.1h1.1v1.1h-1.1zM1337.3 2213.3h1.1v1.1h-1.1zM1349.6 2217.7h1.1v1.1h-1.1zM1323.2 2219.8h1.1v1.1h-1.1zM1337 2194.8h1.1v1.1h-1.1zM1308.3 2198.7h1.1v1.1h-1.1zM1334.4 2244.6h1.1v1.1h-1.1zM1356.5 2192.4h1.1v1.1h-1.1zM1359.2 2204.4h1.1v1.1h-1.1zM1336.4 2210.9h1.1v1.1h-1.1zM1336.3 2189.9h1.1v1.1h-1.1zM1353.1 2205h1.1v1.1h-1.1zM1319.5 2197.1h1.1v1.1h-1.1zM1370 2203h1.1v1.1h-1.1zM1336.9 2214.3h1.1v1.1h-1.1zM1342 2201.8h1.1v1.1h-1.1zM1343 2221.3h1.1v1.1h-1.1zM1319.1 2215h1.1v1.1h-1.1zM1341.8 2195.7h1.1v1.1h-1.1zM1325.8 2229h1.1v1.1h-1.1zM1373.6 2216.3h1.1v1.1h-1.1zM1336.1 2246.7h1.1v1.1h-1.1zM1312.5 2223.5h1.1v1.1h-1.1zM1345.4 2222h1.1v1.1h-1.1zM1347 2214.3h1.1v1.1h-1.1zM1296.9 2215.7h1.1v1.1h-1.1zM1336.7 2221.3h1.1v1.1h-1.1zM1328.4 2209h1.1v1.1h-1.1zM1343.7 2223.5h1.1v1.1h-1.1zM1303.9 2256.3h1.1v1.1h-1.1zM1360.9 2207.3h1.1v1.1h-1.1zM1324.6 2221.9h1.1v1.1h-1.1zM1349 2237.5h1.1v1.1h-1.1zM1343.7 2221.4h1.1v1.1h-1.1zM1347.4 2208.4h1.1v1.1h-1.1zM1312.4 2203.8h1.1v1.1h-1.1zM1329.8 2230.4h1.1v1.1h-1.1zM1329.3 2187.7h1.1v1.1h-1.1zM1327.3 2219.8h1.1v1.1h-1.1zM1339.2 2204.2h1.1v1.1h-1.1zM1326.9 2219h1.1v1.1h-1.1zM1337.5 2212h1.1v1.1h-1.1zM1319.2 2220.3h1.1v1.1h-1.1zM1328.6 2208.6h1.1v1.1h-1.1zM1327.8 2214.9h1.1v1.1h-1.1zM1324.6 2249.2h1.1v1.1h-1.1zM1336.6 2225.3h1.1v1.1h-1.1zM1359.6 2201.7h1.1v1.1h-1.1zM1320.9 2223h1.1v1.1h-1.1zM1318.8 2219.3h1.1v1.1h-1.1zM1336 2201.1h1.1v1.1h-1.1zM1341.1 2212.9h1.1v1.1h-1.1zM1355.8 2206.9h1.1v1.1h-1.1zM1347.8 2214.6h1.1v1.1h-1.1zM1323.9 2216.5h1.1v1.1h-1.1zM1310.8 2212.2h1.1v1.1h-1.1zM1351.3 2185.7h1.1v1.1h-1.1zM1345.3 2202.8h1.1v1.1h-1.1zM1317.4 2226.4h1.1v1.1h-1.1zM1349.9 2217.9h1.1v1.1h-1.1zM1346.1 2204.8h1.1v1.1h-1.1zM1332.2 2204.7h1.1v1.1h-1.1zM1326.4 2230.4h1.1v1.1h-1.1zM1341.6 2205.1h1.1v1.1h-1.1zM1326.9 2209.3h1.1v1.1h-1.1zM1322.9 2203.1h1.1v1.1h-1.1zM1332.9 2213.9h1.1v1.1h-1.1zM1344.2 2239.3h1.1v1.1h-1.1zM1322.9 2225.8h1.1v1.1h-1.1zM1334.3 2200.9h1.1v1.1h-1.1zM1336.1 2198.1h1.1v1.1h-1.1zM1337.4 2213.6h1.1v1.1h-1.1zM1337.9 2184.7h1.1v1.1h-1.1zM1372 2231.2h1.1v1.1h-1.1zM1331.3 2198.5h1.1v1.1h-1.1zM1323.8 2201.2h1.1v1.1h-1.1zM1342.6 2210.1h1.1v1.1h-1.1zM1329 2245.2h1.1v1.1h-1.1zM1338.9 2234.1h1.1v1.1h-1.1zM1323.4 2214.8h1.1v1.1h-1.1zM1317 2230.4h1.1v1.1h-1.1zM1321.9 2207.2h1.1v1.1h-1.1zM1353.2 2197.6h1.1v1.1h-1.1zM1359.7 2200.4h1.1v1.1h-1.1zM1295.4 2216.3h1.1v1.1h-1.1zM1346.3 2231.8h1.1v1.1h-1.1z" fill="#107a47" opacity="0.9"/>
<g transform="rotate(-47 1265 2282)" fill="none" stroke="#107a47" stroke-width="1">
<rect x="1219" y="2257" width="92" height="50" rx="18.8" ry="18.8" fill="#fff"/>
<rect x="1223.8" y="2259" width="84.6" height="46" rx="17.2" ry="17.2"/>
<rect x="1228.6" y="2261" width="77.2" height="42" rx="15.7" ry="15.7"/>
<rect x="1233.3" y="2263" width="70" height="38" rx="14.3" ry="14.3"/>
<rect x="1237.9" y="2264.9" width="62.9" height="34.2" rx="12.8" ry="12.8"/>
<rect x="1242.4" y="2266.8" width="56" height="30.4" rx="11.4" ry="11.4"/>
<rect x="1246.9" y="2268.7" width="49.1" height="26.7" rx="10" ry="10"/>
<rect x="1251.2" y="2270.5" width="42.5" height="23.1" rx="8.7" ry="8.7"/>
<rect x="1255.4" y="2272.2" width="36" height="19.5" rx="7.3" ry="7.3"/>
<rect x="1259.5" y="2273.9" width="29.7" height="16.1" rx="6" ry="6"/>
<rect x="1263.5" y="2275.6" width="23.6" height="12.8" rx="4.8" ry="4.8"/>
<rect x="1267.3" y="2277.2" width="17.7" height="9.6" rx="3.6" ry="3.6"/>
<rect x="1270.9" y="2278.7" width="12.2" height="6.6" rx="2.5" ry="2.5"/>
<rect x="1274.2" y="2280.1" width="7.1" height="3.8" rx="1.4" ry="1.4"/>
<rect x="1277.2" y="2281.3" width="2.5" height="1.4" rx="0.5" ry="0.5"/>
</g>
<ellipse cx="1330.6" cy="2215.7" rx="24" ry="15" fill="#ffffff" transform="rotate(-32 1330.6 2215.7)"/>
<g transform="rotate(-32 1330.6 2215.7)" fill="none" stroke="#107a47" stroke-width="1">
<ellipse cx="1330.6" cy="2215.7" rx="25" ry="16"/>
<ellipse cx="1331.1" cy="2215.7" rx="22.3" ry="14.3"/>
<ellipse cx="1331.7" cy="2215.7" rx="19.7" ry="12.6"/>
<ellipse cx="1332.2" cy="2215.7" rx="17.1" ry="11"/>
<ellipse cx="1332.7" cy="2215.7" rx="14.6" ry="9.4"/>
<ellipse cx="1333.2" cy="2215.7" rx="12.2" ry="7.8"/>
<ellipse cx="1333.6" cy="2215.7" rx="9.8" ry="6.3"/>
<ellipse cx="1334.1" cy="2215.7" rx="7.6" ry="4.9"/>
<ellipse cx="1334.5" cy="2215.7" rx="5.4" ry="3.5"/>
<ellipse cx="1334.9" cy="2215.7" rx="3.4" ry="2.2"/>
<ellipse cx="1335.3" cy="2215.7" rx="1.6" ry="1"/>
</g>
<ellipse cx="1317" cy="2276" rx="12" ry="12" fill="#ffffff"/>
<g transform="rotate(0 1317 2276)" fill="none" stroke="#107a47" stroke-width="1">
<ellipse cx="1317" cy="2276" rx="13" ry="13"/>
</g>
<g transform="rotate(0 1150 2301)" fill="none" stroke="#107a47" stroke-width="1">
<ellipse cx="1150" cy="2301" rx="6" ry="19"/>
<ellipse cx="1150" cy="2301" rx="4.2" ry="13.5"/>
<ellipse cx="1150" cy="2301" rx="2.6" ry="8.3"/>
</g>
<g transform="rotate(0 1245 2402)" fill="none" stroke="#107a47" stroke-width="1">
<ellipse cx="1245" cy="2402" rx="17" ry="7"/>
<ellipse cx="1245" cy="2402" rx="12" ry="5"/>
<ellipse cx="1245" cy="2402" rx="7.4" ry="3"/>
</g>
</g>
<line x1="1293.3" y1="2140.2" x2="1293.3" y2="2401" stroke="#231f20" stroke-width="1.4"/>
<line x1="1150.4" y1="2243.1" x2="1411.6" y2="2243.1" stroke="#231f20" stroke-width="1.4"/>
<rect x="1150.4" y="2140.2" width="261.2" height="260.8" fill="none" stroke="#231f20" stroke-width="1.5"/>
<path d="M1150.4 2161h-7M1150.4 2208.8h-7M1150.4 2256.5h-7M1150.4 2304.5h-7M1150.4 2352.4h-7M1150.4 2400.4h-7M1150.4 2194.4h-4M1150.4 2186h-4M1150.4 2180h-4M1150.4 2175.4h-4M1150.4 2171.6h-4M1150.4 2168.4h-4M1150.4 2165.6h-4M1150.4 2163.2h-4M1150.4 2242.1h-4M1150.4 2233.7h-4M1150.4 2227.8h-4M1150.4 2223.2h-4M1150.4 2219.4h-4M1150.4 2216.2h-4M1150.4 2213.4h-4M1150.4 2211h-4M1150.4 2290.1h-4M1150.4 2281.6h-4M1150.4 2275.6h-4M1150.4 2270.9h-4M1150.4 2267.1h-4M1150.4 2263.9h-4M1150.4 2261.2h-4M1150.4 2258.7h-4M1150.4 2338h-4M1150.4 2329.5h-4M1150.4 2323.6h-4M1150.4 2318.9h-4M1150.4 2315.1h-4M1150.4 2311.9h-4M1150.4 2309.1h-4M1150.4 2306.7h-4M1150.4 2386h-4M1150.4 2377.5h-4M1150.4 2371.5h-4M1150.4 2366.8h-4M1150.4 2363h-4M1150.4 2359.8h-4M1150.4 2357.1h-4M1150.4 2354.6h-4M1150.4 2146.6h-4M1151 2401v7M1198.4 2401v7M1245.9 2401v7M1293.9 2401v7M1342.2 2401v7M1390.4 2401v7M1165.3 2401v4M1173.6 2401v4M1179.5 2401v4M1184.1 2401v4M1187.9 2401v4M1191.1 2401v4M1193.8 2401v4M1196.2 2401v4M1212.7 2401v4M1221.1 2401v4M1227 2401v4M1231.6 2401v4M1235.4 2401v4M1238.5 2401v4M1241.3 2401v4M1243.7 2401v4M1260.3 2401v4M1268.8 2401v4M1274.8 2401v4M1279.5 2401v4M1283.3 2401v4M1286.5 2401v4M1289.2 2401v4M1291.7 2401v4M1308.4 2401v4M1316.9 2401v4M1323 2401v4M1327.7 2401v4M1331.5 2401v4M1334.7 2401v4M1337.5 2401v4M1340 2401v4M1356.7 2401v4M1365.2 2401v4M1371.2 2401v4M1375.9 2401v4M1379.7 2401v4M1382.9 2401v4M1385.7 2401v4M1388.2 2401v4M1404.9 2401v4" stroke="#231f20" stroke-width="1.1" fill="none"/>
<text transform="translate(1155.5 2435) scale(0.950 1)" font-size="18" text-anchor="middle" fill="#231f20">10<tspan dy="-7.6" font-size="11.2">0</tspan></text>
<text transform="translate(1202.9 2435) scale(0.950 1)" font-size="18" text-anchor="middle" fill="#231f20">10<tspan dy="-7.6" font-size="11.2">1</tspan></text>
<text transform="translate(1250.4 2435) scale(0.950 1)" font-size="18" text-anchor="middle" fill="#231f20">10<tspan dy="-7.6" font-size="11.2">2</tspan></text>
<text transform="translate(1298.4 2435) scale(0.950 1)" font-size="18" text-anchor="middle" fill="#231f20">10<tspan dy="-7.6" font-size="11.2">3</tspan></text>
<text transform="translate(1346.7 2435) scale(0.950 1)" font-size="18" text-anchor="middle" fill="#231f20">10<tspan dy="-7.6" font-size="11.2">4</tspan></text>
<text transform="translate(1394.9 2435) scale(0.950 1)" font-size="18" text-anchor="middle" fill="#231f20">10<tspan dy="-7.6" font-size="11.2">5</tspan></text>
<text transform="translate(1130.4 2166.5) scale(0.950 1)" font-size="18" text-anchor="end" fill="#231f20">10<tspan dy="-7.6" font-size="11.2">5</tspan></text>
<text transform="translate(1130.4 2214.3) scale(0.950 1)" font-size="18" text-anchor="end" fill="#231f20">10<tspan dy="-7.6" font-size="11.2">4</tspan></text>
<text transform="translate(1130.4 2262) scale(0.950 1)" font-size="18" text-anchor="end" fill="#231f20">10<tspan dy="-7.6" font-size="11.2">3</tspan></text>
<text transform="translate(1130.4 2310) scale(0.950 1)" font-size="18" text-anchor="end" fill="#231f20">10<tspan dy="-7.6" font-size="11.2">2</tspan></text>
<text transform="translate(1130.4 2357.9) scale(0.950 1)" font-size="18" text-anchor="end" fill="#231f20">10<tspan dy="-7.6" font-size="11.2">1</tspan></text>
<text transform="translate(1130.4 2405.9) scale(0.950 1)" font-size="18" text-anchor="end" fill="#231f20">10<tspan dy="-7.6" font-size="11.2">0</tspan></text>
<text transform="translate(1157.4 2161.5) scale(1.030 1)" font-size="18.5" fill="#231f20">0.61%</text>
<text transform="translate(1406.1 2161.5) scale(1.030 1)" font-size="18.5" text-anchor="end" fill="#231f20">24.1%</text>
<text transform="translate(1156.4 2397.3) scale(1.030 1)" font-size="18.5" fill="#231f20">71.3%</text>
<text transform="translate(1407.6 2397.3) scale(1.030 1)" font-size="18.5" text-anchor="end" fill="#231f20">4.02%</text>
<text transform="translate(830.8 2462.7) scale(1.055 1)" font-size="21.5" fill="#e8253a"><tspan font-style="italic">BLIMP1</tspan>-Tomato</text>
<line x1="1010.2" y1="2457.3" x2="1406.5" y2="2457.3" stroke="#34496b" stroke-width="2.2"/>
<path d="M1411.6 2457.3 L1398 2452 L1401.8 2457.3 L1398 2462.6 Z" fill="#34496b"/>
<text transform="translate(1465.8 2278.6) rotate(-90) scale(1.040 1)" font-size="21.5" text-anchor="middle" fill="#231f20">Percent <tspan font-style="italic">TFAP2C</tspan>-GFP<tspan dy="-9.2" font-size="12">+</tspan></text>
<text transform="translate(1492.8 2278.6) rotate(-90) scale(1.070 1)" font-size="21.5" text-anchor="middle" fill="#231f20"><tspan font-style="italic">BLIMP1</tspan>-Tomato<tspan dy="-9.2" font-size="12">+</tspan><tspan dy="9.2"> cells (%)</tspan></text>
<line x1="1547.1" y1="2152.1" x2="1547.1" y2="2405.1" stroke="#231f20" stroke-width="1.5"/>
<line x1="1540.2" y1="2405.1" x2="1650.8" y2="2405.1" stroke="#231f20" stroke-width="1.5"/>
<line x1="1537.1" y1="2152.1" x2="1547.1" y2="2152.1" stroke="#231f20" stroke-width="1.5"/>
<text transform="translate(1533.5 2158.6) scale(1.050 1)" font-size="18.5" text-anchor="end" fill="#231f20">30</text>
<line x1="1537.1" y1="2236.4" x2="1547.1" y2="2236.4" stroke="#231f20" stroke-width="1.5"/>
<text transform="translate(1533.5 2242.9) scale(1.050 1)" font-size="18.5" text-anchor="end" fill="#231f20">20</text>
<line x1="1537.1" y1="2320.8" x2="1547.1" y2="2320.8" stroke="#231f20" stroke-width="1.5"/>
<text transform="translate(1533.5 2327.3) scale(1.050 1)" font-size="18.5" text-anchor="end" fill="#231f20">10</text>
<line x1="1537.1" y1="2405.1" x2="1547.1" y2="2405.1" stroke="#231f20" stroke-width="1.5"/>
<text transform="translate(1533.5 2411.6) scale(1.050 1)" font-size="18.5" text-anchor="end" fill="#231f20">0</text>
<line x1="1576.8" y1="2405.1" x2="1576.8" y2="2416.1" stroke="#231f20" stroke-width="1.5"/>
<line x1="1612.8" y1="2405.1" x2="1612.8" y2="2416.1" stroke="#231f20" stroke-width="1.5"/>
<text transform="translate(1594.5 2181.3)" font-size="34" text-anchor="middle" fill="#231f20" letter-spacing="1">***</text>
<line x1="1573.4" y1="2179.8" x2="1613.5" y2="2179.8" stroke="#231f20" stroke-width="1.5"/>
<line x1="1577" y1="2338.5" x2="1577" y2="2346" stroke="#231f20" stroke-width="1.5"/>
<line x1="1571" y1="2338.5" x2="1583" y2="2338.5" stroke="#231f20" stroke-width="1.5"/>
<line x1="1571" y1="2346" x2="1583" y2="2346" stroke="#231f20" stroke-width="1.5"/>
<line x1="1612.8" y1="2204.3" x2="1612.8" y2="2239.3" stroke="#231f20" stroke-width="1.5"/>
<line x1="1604.8" y1="2204.3" x2="1620.8" y2="2204.3" stroke="#231f20" stroke-width="1.5"/>
<line x1="1604.8" y1="2239.3" x2="1620.8" y2="2239.3" stroke="#231f20" stroke-width="1.5"/>
<circle cx="1569.5" cy="2338.7" r="5.3" fill="#2c3e9e"/>
<circle cx="1584.8" cy="2342.8" r="5.3" fill="#2c3e9e"/>
<circle cx="1577" cy="2346.2" r="5.3" fill="#2c3e9e"/>
<circle cx="1612.8" cy="2201.8" r="5.3" fill="#0ea050"/>
<circle cx="1620.8" cy="2229.3" r="5.3" fill="#0ea050"/>
<circle cx="1605" cy="2235" r="5.3" fill="#0ea050"/>
<text transform="translate(1587.5 2429) rotate(-45) scale(1.080 1)" font-size="22.5" text-anchor="end" fill="#231f20">Control KD</text>
<text transform="translate(1624.5 2430) rotate(-45) scale(1.040 1)" font-size="22.5" text-anchor="end" fill="#231f20"><tspan font-style="italic">DDX6</tspan> KD</text>
</svg></body></html>
